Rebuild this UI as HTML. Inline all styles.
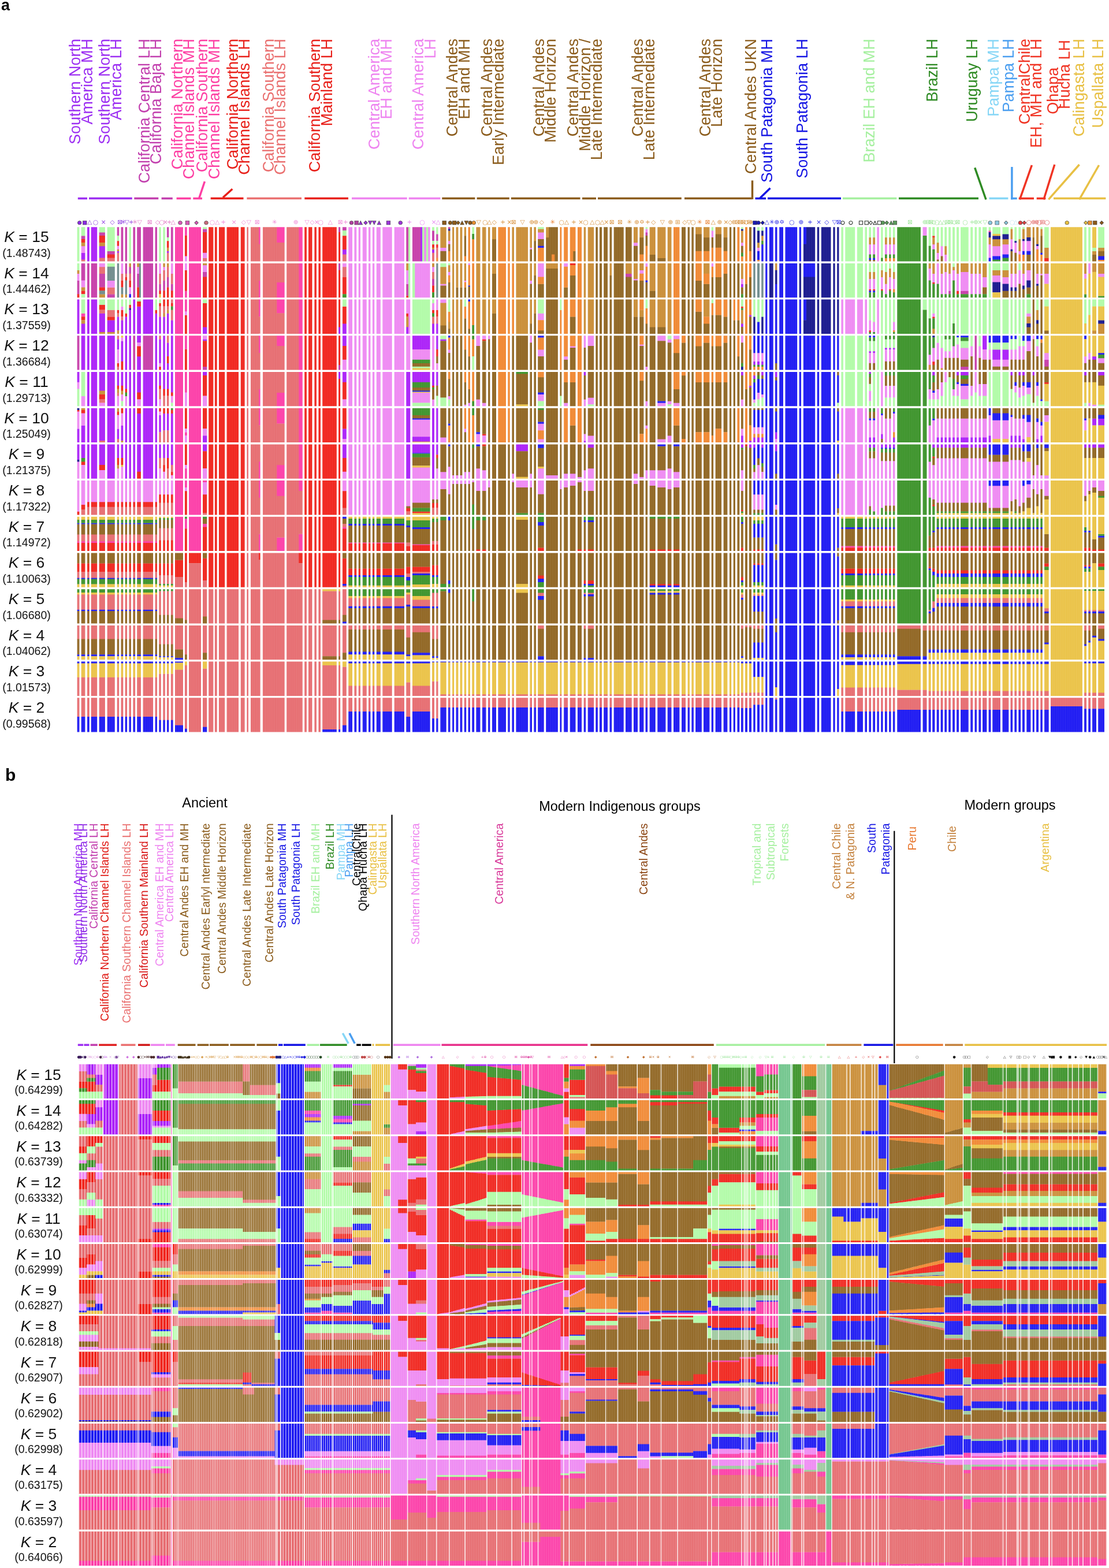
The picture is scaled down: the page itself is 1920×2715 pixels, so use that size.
<!DOCTYPE html>
<html><head><meta charset="utf-8"><title>ADMIXTURE</title><style>html,body{margin:0;padding:0;background:#fff;}svg{display:block;}</style></head><body>
<svg xmlns="http://www.w3.org/2000/svg" width="1920" height="2715" viewBox="0 0 1920 2715">
<defs><pattern id="pb0" x="136" y="0" width="5.2" height="20" patternUnits="userSpaceOnUse"><rect x="0" y="0" width="1.0" height="20" fill="#fff" fill-opacity="0.85"/></pattern><pattern id="pb1" x="305" y="0" width="3.1" height="20" patternUnits="userSpaceOnUse"><rect x="0" y="0" width="0.9" height="20" fill="#fff" fill-opacity="0.8"/></pattern><pattern id="pb2" x="480" y="0" width="4.8" height="20" patternUnits="userSpaceOnUse"><rect x="0" y="0" width="1.0" height="20" fill="#fff" fill-opacity="0.85"/></pattern><pattern id="pb3" x="527" y="0" width="3.6" height="20" patternUnits="userSpaceOnUse"><rect x="0" y="0" width="0.9" height="20" fill="#fff" fill-opacity="0.8"/></pattern><pattern id="pb4" x="676" y="0" width="3.1" height="20" patternUnits="userSpaceOnUse"><rect x="0" y="0" width="1.1" height="20" fill="#fff" fill-opacity="0.22"/></pattern><pattern id="pa" x="0" y="0" width="2.7" height="20" patternUnits="userSpaceOnUse"><rect x="0" y="0" width="0.9" height="20" fill="#fff" fill-opacity="0.14"/></pattern></defs>
<path fill="#aa1ef8" d="M140 437.7h8.3v12.2h-8.3zM150 393.2h19.3v59.3h-19.3zM171 425.8h11.3v21.1h-11.3zM202 434.7h5.3v3.3h-5.3zM288 434.7h5.3v3.3h-5.3zM593 431.7h7.3v9.2h-7.3zM728 393.2h3.3v59.3h-3.3zM748 431.7h4.3v6.3h-4.3zM1283 491.5h4.3v6.3h-4.3zM133.3 518.6h5v59.3h-5zM140 560.1h8.3v17.8h-8.3zM150 518.6h19.3v59.3h-19.3zM171 542.3h11.3v33h-11.3zM185 554.2h14.3v21.1h-14.3zM202 548.2h5.3v24.1h-5.3zM209 554.2h5.3v23.7h-5.3zM216 548.2h5.3v29.6h-5.3zM223 536.4h4.3v41.5h-4.3zM230 518.6h5.3v59.3h-5.3zM237 530.5h7.3v47.4h-7.3zM247 518.6h19.3v59.3h-19.3zM268 542.3h4.3v35.6h-4.3zM275 548.2h4.3v29.6h-4.3zM282 548.2h4.3v29.6h-4.3zM288 542.3h5.3v35.6h-5.3zM295 554.2h5.3v23.7h-5.3zM351 566h8.3v11.9h-8.3zM586 566h4.3v11.9h-4.3zM593 560.1h7.3v17.8h-7.3zM703 566h4.3v11.9h-4.3zM748 560.1h4.3v17.8h-4.3zM755 560.1h4.3v17.8h-4.3zM1283 560.1h4.3v6.3h-4.3zM1297 545.3h4.3v3.3h-4.3zM140 581.3h29.3v59.3h-29.3zM171 581.3h28.3v59.3h-28.3zM202 587.2h5.3v18.1h-5.3zM209 590.2h5.3v35.9h-5.3zM216 581.3h12.3v59.3h-12.3zM237 581.3h7.3v12.2h-7.3zM237 616.9h7.3v23.7h-7.3zM268 581.3h4.3v59.3h-4.3zM275 587.2h4.3v41.9h-4.3zM282 581.3h4.3v59.3h-4.3zM288 593.2h5.3v24.1h-5.3zM288 628.7h5.3v11.9h-5.3zM295 581.3h5.3v59.3h-5.3zM351 587.2h8.3v3.3h-8.3zM593 581.3h7.3v18.1h-7.3zM714 581.3h31.3v24.1h-31.3zM755 581.3h4.3v24.1h-4.3zM762 587.2h11.3v3.3h-11.3zM1304 625.8h18.3v6.3h-18.3zM1504 608h12.3v3.3h-12.3zM1532 602.1h18.3v3.3h-18.3zM1701 581.3h8.3v24.1h-8.3zM1718 605h29.3v18.1h-29.3zM1891 616.9h7.3v6.3h-7.3zM133.3 644h5v18.1h-5zM150 644h19.3v59.3h-19.3zM171 644h11.3v33h-11.3zM185 644h14.3v59.3h-14.3zM202 644h5.3v24.1h-5.3zM209 644h5.3v24.1h-5.3zM216 644h5.3v30h-5.3zM223 644h12.3v59.3h-12.3zM237 644h7.3v35.9h-7.3zM247 644h26.3v59.3h-26.3zM275 644h4.3v24.1h-4.3zM282 644h11.3v30h-11.3zM295 644h5.3v35.9h-5.3zM351 644h8.3v6.3h-8.3zM586 644h4.3v12.2h-4.3zM593 644h7.3v18.1h-7.3zM703 644h8.3v59.3h-8.3zM714 644h31.3v18.1h-31.3zM748 644h4.3v24.1h-4.3zM755 644h4.3v24.1h-4.3zM1010 644h5.3v6.3h-5.3zM1283 644h4.3v6.3h-4.3zM1297 667.7h4.3v3.3h-4.3zM1304 649.9h4.3v6.3h-4.3zM1318 644h4.3v6.3h-4.3zM1342 644h4.3v9.2h-4.3zM1504 644h4.3v3.3h-4.3zM1614 644h5.3v6.3h-5.3zM1656 644h4.3v6.3h-4.3zM1663 644h14.3v6.3h-14.3zM1749 644h4.3v6.3h-4.3zM1763 644h5.3v6.3h-5.3zM1770 644h4.3v6.3h-4.3zM1787 644h4.3v6.3h-4.3zM1877 644h4.3v6.3h-4.3zM1901 644h11.3v6.3h-11.3zM133.3 742.3h5v23.7h-5zM140 736.4h8.3v29.6h-8.3zM150 706.7h19.3v59.3h-19.3zM171 706.7h11.3v56.7h-11.3zM185 706.7h14.3v59.3h-14.3zM202 742.3h5.3v18.1h-5.3zM209 736.4h5.3v27h-5.3zM216 706.7h19.3v59.3h-19.3zM237 715.6h7.3v50.4h-7.3zM247 706.7h26.3v59.3h-26.3zM275 718.6h4.3v30h-4.3zM282 715.6h11.3v30h-11.3zM295 715.6h5.3v50.4h-5.3zM351 754.1h8.3v11.9h-8.3zM593 742.3h7.3v18.1h-7.3zM703 706.7h8.3v59.3h-8.3zM714 755.9h31.3v9.2h-31.3zM748 706.7h11.3v59.3h-11.3zM1010 763h5.3v3h-5.3zM1283 754.1h4.3v11.9h-4.3zM1297 763h4.3v3h-4.3zM1304 757.1h18.3v8.9h-18.3zM1342 748.2h4.3v12.2h-4.3zM1504 757.1h12.3v8.9h-12.3zM1525 751.2h4.3v9.2h-4.3zM1546 757.1h4.3v8.9h-4.3zM1621 757.1h88.3v8.9h-88.3zM1711 754.1h5.3v11.9h-5.3zM1749 754.1h4.3v11.9h-4.3zM1756 754.1h12.3v11.9h-12.3zM1770 760.1h4.3v5.9h-4.3zM1794 760.1h4.3v5.9h-4.3zM1801 754.1h4.3v11.9h-4.3zM1891 724.5h7.3v12.2h-7.3zM1901 724.5h11.3v12.2h-11.3zM133.3 769.4h5v27h-5zM140 769.4h8.3v24.1h-8.3zM150 769.4h19.3v59.3h-19.3zM171 769.4h11.3v35.9h-11.3zM185 769.4h14.3v59.3h-14.3zM202 769.4h5.3v24.1h-5.3zM209 769.4h5.3v24.1h-5.3zM216 769.4h19.3v59.3h-19.3zM237 769.4h7.3v47.8h-7.3zM247 769.4h26.3v59.3h-26.3zM275 769.4h4.3v24.1h-4.3zM282 769.4h4.3v24.1h-4.3zM288 769.4h5.3v24.1h-5.3zM295 769.4h5.3v35.9h-5.3zM351 769.4h8.3v12.2h-8.3zM593 769.4h7.3v24.1h-7.3zM703 769.4h8.3v59.3h-8.3zM714 769.4h31.3v15.2h-31.3zM748 769.4h4.3v59.3h-4.3zM755 769.4h4.3v18.1h-4.3zM893 769.4h22.3v12.2h-22.3zM1017 769.4h12.3v6.3h-12.3zM1283 769.4h4.3v6.3h-4.3zM1297 769.4h4.3v6.3h-4.3zM1304 769.4h4.3v6.3h-4.3zM1318 769.4h4.3v6.3h-4.3zM1342 769.4h4.3v12.2h-4.3zM1504 769.4h12.3v6.3h-12.3zM1525 769.4h25.3v6.3h-25.3zM1614 769.4h5.3v6.3h-5.3zM1621 769.4h88.3v6.3h-88.3zM1749 769.4h19.3v6.3h-19.3zM1877 769.4h35.3v6.3h-35.3zM150 1842.8h15.3v18.1h-15.3zM165 1860.6h13.7v18.1h-13.7zM181 1842.8h24.9v59.2h-24.9zM238.5 1866.5h25.5v35.5h-25.5zM263.7 1848.7h8.6v12.2h-8.6zM272 1842.8h24v6.3h-24zM526.6 1842.8h29.4v6.3h-29.4zM576 1842.8h34.3v6.3h-34.3zM720 1842.8h19.1v6.3h-19.1zM805.1 1842.8h3.2v3.3h-3.2zM808 1842.8h3.2v3.3h-3.2zM810.9 1842.8h3.2v3.3h-3.2zM813.8 1842.8h3.2v3.3h-3.2zM816.7 1842.8h3.2v3.3h-3.2zM819.6 1842.8h3.2v3.3h-3.2zM822.5 1842.8h3.2v3.3h-3.2zM825.5 1842.8h3.2v3.3h-3.2zM828.4 1842.8h3.2v3.3h-3.2zM831.3 1842.8h3.2v3.3h-3.2zM834.2 1842.8h3.2v3.3h-3.2zM837.1 1842.8h3.2v3.3h-3.2zM840 1842.8h3.2v3.3h-3.2zM842.9 1842.8h3.3v3.4h-3.3zM845.9 1842.8h3.3v3.3h-3.3zM848.9 1842.8h3.3v3.2h-3.3zM851.9 1842.8h3.3v3.1h-3.3zM854.9 1842.8h3.3v3h-3.3zM857.9 1842.8h3.3v2.9h-3.3zM860.9 1842.8h3.3v2.8h-3.3zM863.9 1842.8h3.3v2.7h-3.3zM866.9 1842.8h3.3v2.6h-3.3zM869.9 1842.8h3.3v2.5h-3.3zM873 1842.8h3.3v2.4h-3.3zM876 1842.8h3.3v2.3h-3.3zM879 1842.8h3.3v2.2h-3.3zM882 1842.8h3.3v2.1h-3.3zM885 1842.8h3.3v2h-3.3zM888 1842.8h3.3v1.9h-3.3zM891 1842.8h3.3v1.9h-3.3zM894 1842.8h3.3v1.8h-3.3zM897 1842.8h3.3v1.7h-3.3zM900 1842.8h3.3v1.6h-3.3zM985.5 1842.8h28.4v3.3h-28.4zM150 1928.7h15.3v18.1h-15.3zM165 1916.9h13.7v24h-13.7zM178.4 1905h27.5v59.2h-27.5zM238.5 1928.7h25.5v35.5h-25.5zM263.7 1940.5h32.3v9.2h-32.3zM526.6 1928.7h29.4v6.3h-29.4zM576 1931.7h34.3v6.3h-34.3zM610 1910.9h33.3v3.3h-33.3zM720 1958.3h19.1v5.9h-19.1zM263.7 2127.2h32.3v3.3h-32.3zM705.5 2201.3h14.8v11.8h-14.8z"/>
<path fill="#c63ba8" d="M140 408h8.3v6.3h-8.3zM171 402.1h11.3v6.3h-11.3zM185 434.7h14.3v6.3h-14.3zM202 393.2h5.3v15.2h-5.3zM209 393.2h12.3v59.3h-12.3zM230 393.2h36.3v59.3h-36.3zM268 393.2h4.3v59.3h-4.3zM288 393.2h5.3v18.1h-5.3zM295 393.2h5.3v59.3h-5.3zM351 396.2h8.3v6.3h-8.3zM586 393.2h4.3v9.2h-4.3zM593 393.2h7.3v6.3h-7.3zM703 393.2h4.3v59.3h-4.3zM714 393.2h14.3v59.3h-14.3zM748 399.1h4.3v18.1h-4.3zM755 405.1h4.3v12.2h-4.3zM776 393.2h4.3v3.3h-4.3zM1117 402.1h5.3v6.3h-5.3zM133.3 485.6h5v24.1h-5zM140 455.9h8.3v30h-8.3zM150 455.9h19.3v59.3h-19.3zM171 473.7h11.3v24.1h-11.3zM185 509.3h14.3v5.9h-14.3zM216 455.9h5.3v18.1h-5.3zM223 461.8h4.3v12.2h-4.3zM230 455.9h5.3v59.3h-5.3zM237 473.7h4.3v24.1h-4.3zM247 455.9h26.3v59.3h-26.3zM275 491.5h4.3v12.2h-4.3zM282 485.6h4.3v18.1h-4.3zM288 479.6h5.3v18.1h-5.3zM295 491.5h5.3v12.2h-5.3zM351 470.7h8.3v9.2h-8.3zM586 455.9h4.3v12.2h-4.3zM703 491.5h4.3v21.1h-4.3zM748 482.6h4.3v12.2h-4.3zM1083 473.7h11.3v6.3h-11.3zM1642 503.3h4.3v6.3h-4.3zM1663 503.3h14.3v6.3h-14.3zM133.3 581.3h5v59.3h-5zM230 581.3h5.3v59.3h-5.3zM247 581.3h19.3v59.3h-19.3zM351 634.7h8.3v5.9h-8.3zM586 631.7h4.3v8.9h-4.3zM1663 634.7h14.3v5.9h-14.3zM1687 581.3h4.3v59.3h-4.3zM1808 622.8h8.3v12.2h-8.3z"/>
<path fill="#fc3ca7" d="M303 393.2h15.3v59.3h-15.3zM320 393.2h4.3v15.2h-4.3zM327 393.2h21.3v59.3h-21.3zM447.7 393.2h3.6v30h-3.6zM479 393.2h14.3v27h-14.3zM517 393.2h7.3v59.3h-7.3zM1711 399.1h5.3v3.3h-5.3zM303 455.9h15.3v59.3h-15.3zM320 503.3h4.3v11.9h-4.3zM327 455.9h21.3v59.3h-21.3zM447.7 485.5h3.6v29.6h-3.6zM479 488.5h14.3v26.7h-14.3zM517 455.9h7.3v59.3h-7.3zM140 542.3h8.3v6.3h-8.3zM303 518.6h15.3v59.3h-15.3zM320 518.6h4.3v21.1h-4.3zM327 518.6h21.3v59.3h-21.3zM447.7 518.6h3.6v30h-3.6zM479 518.6h14.3v24.1h-14.3zM517 518.6h7.3v59.3h-7.3zM303 581.3h15.3v59.3h-15.3zM320 581.3h4.3v24.1h-4.3zM327 581.3h21.3v59.3h-21.3zM447.7 581.3h3.6v30h-3.6zM479 581.3h14.3v18.1h-14.3zM517 581.3h7.3v59.3h-7.3zM303 644h15.3v59.3h-15.3zM320 644h4.3v35.9h-4.3zM327 644h21.3v59.3h-21.3zM447.7 673.6h3.6v29.6h-3.6zM479 679.6h14.3v23.7h-14.3zM517 644h7.3v59.3h-7.3zM303 706.7h15.3v59.3h-15.3zM320 748.2h4.3v6.3h-4.3zM327 706.7h21.3v59.3h-21.3zM447.7 706.7h3.6v30h-3.6zM479 706.7h14.3v27h-14.3zM517 706.7h7.3v59.3h-7.3zM303 769.4h15.3v59.3h-15.3zM320 810.9h4.3v17.8h-4.3zM327 769.4h21.3v59.3h-21.3zM447.7 799.1h3.6v29.6h-3.6zM479 805h14.3v23.7h-14.3zM517 769.4h7.3v59.3h-7.3zM303 832.1h15.3v59.3h-15.3zM320 832.1h4.3v12.2h-4.3zM327 832.1h21.3v59.3h-21.3zM351 832.1h8.3v3.3h-8.3zM447.7 832.1h3.6v30h-3.6zM479 832.1h14.3v27h-14.3zM517 832.1h7.3v18.1h-7.3zM133.3 936.9h140v3.3h-140zM303 894.8h15.3v59.3h-15.3zM320 897.8h4.3v18.1h-4.3zM327 894.8h21.3v59.3h-21.3zM351 906.7h8.3v6.3h-8.3zM447.7 924.4h3.6v29.6h-3.6zM479 930.4h14.3v23.7h-14.3zM517 924.4h7.3v29.6h-7.3zM593 912.6h7.3v3.3h-7.3zM603 939.3h98.3v2.1h-98.3zM714 942.2h31.3v2.1h-31.3zM1456 945.2h94.3v3.3h-94.3zM1621 945.2h184.3v3.3h-184.3zM295.7 1842.8h3.2v59.2h-3.2zM842.9 1845.8h3.3v0.6h-3.3zM845.9 1845.7h3.3v1.2h-3.3zM848.9 1845.6h3.3v1.7h-3.3zM851.9 1845.5h3.3v2.3h-3.3zM854.9 1845.4h3.3v2.8h-3.3zM857.9 1845.3h3.3v3.3h-3.3zM860.9 1845.2h3.3v3.9h-3.3zM863.9 1845.1h3.3v4.4h-3.3zM866.9 1845h3.3v5h-3.3zM869.9 1845h3.3v5.5h-3.3zM873 1844.9h3.3v6h-3.3zM876 1844.8h3.3v6.6h-3.3zM879 1844.7h3.3v7.1h-3.3zM882 1844.6h3.3v7.6h-3.3zM885 1844.5h3.3v8.1h-3.3zM888 1844.4h3.3v8.7h-3.3zM891 1844.3h3.3v9.2h-3.3zM894 1844.2h3.3v9.7h-3.3zM897 1844.1h3.3v10.2h-3.3zM900 1844h3.3v10.7h-3.3zM903 1842.8h3.3v36.3h-3.3zM906 1842.8h3.3v37.1h-3.3zM909.1 1842.8h3.3v37.9h-3.3zM912.1 1842.8h3.3v38.7h-3.3zM915.1 1842.8h3.3v39.5h-3.3zM918.1 1842.8h3.3v40.3h-3.3zM921.2 1842.8h3.3v41.2h-3.3zM924.2 1842.8h3.3v42h-3.3zM927.2 1842.8h3.3v42.8h-3.3zM930.3 1842.8h3.3v43.6h-3.3zM933.3 1842.8h3.3v44.4h-3.3zM936.3 1842.8h3.3v45.2h-3.3zM939.4 1842.8h3.3v46h-3.3zM942.4 1842.8h3.3v46.9h-3.3zM945.4 1842.8h3.3v47.7h-3.3zM948.4 1842.8h3.3v48.5h-3.3zM951.5 1842.8h3.3v49.3h-3.3zM954.5 1842.8h3.3v50.1h-3.3zM957.5 1842.8h3.3v50.9h-3.3zM960.6 1842.8h3.3v51.7h-3.3zM963.6 1842.8h3.3v52.6h-3.3zM966.6 1842.8h3.3v53.4h-3.3zM969.6 1842.8h3.3v54.2h-3.3zM972.7 1842.8h3.3v55h-3.3zM1308.5 1842.8h14.8v21.1h-14.8zM1323 1842.8h24.8v18.1h-24.8zM295.7 1905h3.2v59.2h-3.2zM526.6 1922.8h29.4v6.3h-29.4zM576 1937.6h34.3v6.3h-34.3zM842.9 1949.2h3.3v6.4h-3.3zM845.9 1948.8h3.3v6.7h-3.3zM848.9 1948.3h3.3v7h-3.3zM851.9 1947.9h3.3v7.3h-3.3zM854.9 1947.4h3.3v7.6h-3.3zM857.9 1947h3.3v7.9h-3.3zM860.9 1946.5h3.3v8.2h-3.3zM863.9 1946.1h3.3v8.5h-3.3zM866.9 1945.6h3.3v8.8h-3.3zM869.9 1945.2h3.3v9.1h-3.3zM873 1944.8h3.3v9.4h-3.3zM876 1944.3h3.3v9.7h-3.3zM879 1943.9h3.3v10h-3.3zM882 1943.4h3.3v10.3h-3.3zM885 1943h3.3v10.6h-3.3zM888 1942.5h3.3v10.9h-3.3zM891 1942.1h3.3v11.2h-3.3zM894 1941.7h3.3v11.5h-3.3zM897 1941.2h3.3v11.7h-3.3zM900 1940.8h3.3v12h-3.3zM903 1922.5h3.3v41.7h-3.3zM906 1922h3.3v42.3h-3.3zM909.1 1921.4h3.3v42.8h-3.3zM912.1 1920.9h3.3v43.3h-3.3zM915.1 1920.3h3.3v43.9h-3.3zM918.1 1919.8h3.3v44.4h-3.3zM921.2 1919.3h3.3v45h-3.3zM924.2 1918.7h3.3v45.5h-3.3zM927.2 1918.2h3.3v46.1h-3.3zM930.3 1917.6h3.3v46.6h-3.3zM933.3 1917.1h3.3v47.1h-3.3zM936.3 1916.5h3.3v47.7h-3.3zM939.4 1916h3.3v48.2h-3.3zM942.4 1915.5h3.3v48.8h-3.3zM945.4 1914.9h3.3v49.3h-3.3zM948.4 1914.4h3.3v49.9h-3.3zM951.5 1913.8h3.3v50.4h-3.3zM954.5 1913.3h3.3v50.9h-3.3zM957.5 1912.7h3.3v51.5h-3.3zM960.6 1912.2h3.3v52h-3.3zM963.6 1911.7h3.3v52.6h-3.3zM966.6 1911.1h3.3v53.1h-3.3zM969.6 1910.6h3.3v53.7h-3.3zM972.7 1910h3.3v54.2h-3.3zM1308.5 1934.6h39.3v24h-39.3zM295.7 1967.2h3.2v59.2h-3.2zM842.9 1967.2h60.4v3.3h-60.4zM903 1967.2h3.3v42.1h-3.3zM906 1967.2h3.3v42.6h-3.3zM909.1 1967.2h3.3v43.1h-3.3zM912.1 1967.2h3.3v43.7h-3.3zM915.1 1967.2h3.3v44.2h-3.3zM918.1 1967.2h3.3v44.8h-3.3zM921.2 1967.2h3.3v45.3h-3.3zM924.2 1967.2h3.3v45.9h-3.3zM927.2 1967.2h3.3v46.4h-3.3zM930.3 1967.2h3.3v46.9h-3.3zM933.3 1967.2h3.3v47.5h-3.3zM936.3 1967.2h3.3v48h-3.3zM939.4 1967.2h3.3v48.6h-3.3zM942.4 1967.2h3.3v49.1h-3.3zM945.4 1967.2h3.3v49.7h-3.3zM948.4 1967.2h3.3v50.2h-3.3zM951.5 1967.2h3.3v50.7h-3.3zM954.5 1967.2h3.3v51.3h-3.3zM957.5 1967.2h3.3v51.8h-3.3zM960.6 1967.2h3.3v52.4h-3.3zM963.6 1967.2h3.3v52.9h-3.3zM966.6 1967.2h3.3v53.5h-3.3zM969.6 1967.2h3.3v54h-3.3zM972.7 1967.2h3.3v54.5h-3.3zM1308.5 1967.2h39.3v18.1h-39.3zM263.7 2085.7h32.3v3h-32.3zM295.7 2029.5h3.2v59.2h-3.2zM805.1 2029.5h3.2v0.5h-3.2zM808 2029.5h3.2v0.7h-3.2zM810.9 2029.5h3.2v0.9h-3.2zM813.8 2029.5h3.2v1.1h-3.2zM816.7 2029.5h3.2v1.4h-3.2zM819.6 2029.5h3.2v1.6h-3.2zM822.5 2029.5h3.2v1.8h-3.2zM825.5 2029.5h3.2v2.1h-3.2zM828.4 2029.5h3.2v2.3h-3.2zM831.3 2029.5h3.2v2.5h-3.2zM834.2 2029.5h3.2v2.7h-3.2zM837.1 2029.5h3.2v3h-3.2zM840 2029.5h3.2v3.2h-3.2zM842.9 2029.5h60.4v5.1h-60.4zM903 2029.5h3.3v39.1h-3.3zM906 2029.5h3.3v39.8h-3.3zM909.1 2029.5h3.3v40.4h-3.3zM912.1 2029.5h3.3v41h-3.3zM915.1 2029.5h3.3v41.6h-3.3zM918.1 2029.5h3.3v42.2h-3.3zM921.2 2029.5h3.3v42.8h-3.3zM924.2 2029.5h3.3v43.5h-3.3zM927.2 2029.5h3.3v44.1h-3.3zM930.3 2029.5h3.3v44.7h-3.3zM933.3 2029.5h3.3v45.3h-3.3zM936.3 2029.5h3.3v45.9h-3.3zM939.4 2029.5h3.3v46.5h-3.3zM942.4 2029.5h3.3v47.2h-3.3zM945.4 2029.5h3.3v47.8h-3.3zM948.4 2029.5h3.3v48.4h-3.3zM951.5 2029.5h3.3v49h-3.3zM954.5 2029.5h3.3v49.6h-3.3zM957.5 2029.5h3.3v50.2h-3.3zM960.6 2029.5h3.3v50.9h-3.3zM963.6 2029.5h3.3v51.5h-3.3zM966.6 2029.5h3.3v52.1h-3.3zM969.6 2029.5h3.3v52.7h-3.3zM972.7 2029.5h3.3v53.3h-3.3zM1308.5 2029.5h39.3v19.9h-39.3zM1736.5 2029.5h164.3v3.3h-164.3zM295.7 2091.7h3.2v59.2h-3.2zM805.1 2111.2h38.1v3.3h-38.1zM842.9 2115.4h60.4v7.5h-60.4zM903 2108h3.3v42.9h-3.3zM906 2107.4h3.3v43.5h-3.3zM909.1 2106.8h3.3v44h-3.3zM912.1 2106.3h3.3v44.6h-3.3zM915.1 2105.7h3.3v45.2h-3.3zM918.1 2105.1h3.3v45.7h-3.3zM921.2 2104.6h3.3v46.3h-3.3zM924.2 2104h3.3v46.9h-3.3zM927.2 2103.4h3.3v47.4h-3.3zM930.3 2102.9h3.3v48h-3.3zM933.3 2102.3h3.3v48.6h-3.3zM936.3 2101.7h3.3v49.1h-3.3zM939.4 2101.2h3.3v49.7h-3.3zM942.4 2100.6h3.3v50.3h-3.3zM945.4 2100h3.3v50.9h-3.3zM948.4 2099.5h3.3v51.4h-3.3zM951.5 2098.9h3.3v52h-3.3zM954.5 2098.3h3.3v52.6h-3.3zM957.5 2097.8h3.3v53.1h-3.3zM960.6 2097.2h3.3v53.7h-3.3zM963.6 2096.6h3.3v54.3h-3.3zM966.6 2096.1h3.3v54.8h-3.3zM969.6 2095.5h3.3v55.4h-3.3zM972.7 2094.9h3.3v56h-3.3zM985.5 2118.3h28.4v3.3h-28.4zM1308.5 2110.6h39.3v19.9h-39.3zM263.7 2153.9h32.3v6.3h-32.3zM295.7 2153.9h3.2v59.2h-3.2zM805.1 2153.9h38.1v2.1h-38.1zM842.9 2153.9h60.4v3.3h-60.4zM903 2153.9h3.3v42.1h-3.3zM906 2153.9h3.3v42.7h-3.3zM909.1 2153.9h3.3v43.3h-3.3zM912.1 2153.9h3.3v43.9h-3.3zM915.1 2153.9h3.3v44.6h-3.3zM918.1 2153.9h3.3v45.2h-3.3zM921.2 2153.9h3.3v45.8h-3.3zM924.2 2153.9h3.3v46.4h-3.3zM927.2 2153.9h3.3v47h-3.3zM930.3 2153.9h3.3v47.6h-3.3zM933.3 2153.9h3.3v48.3h-3.3zM936.3 2153.9h3.3v48.9h-3.3zM939.4 2153.9h3.3v49.5h-3.3zM942.4 2153.9h3.3v50.1h-3.3zM945.4 2153.9h3.3v50.7h-3.3zM948.4 2153.9h3.3v51.3h-3.3zM951.5 2153.9h3.3v52h-3.3zM954.5 2153.9h3.3v52.6h-3.3zM957.5 2153.9h3.3v53.2h-3.3zM960.6 2153.9h3.3v53.8h-3.3zM963.6 2153.9h3.3v54.4h-3.3zM966.6 2153.9h3.3v55h-3.3zM969.6 2153.9h3.3v55.7h-3.3zM972.7 2153.9h3.3v56.3h-3.3zM1231.8 2153.9h12.5v3.3h-12.5zM1244 2153.9h64.8v2.1h-64.8zM1308.5 2153.9h39.3v19.9h-39.3zM263.7 2272.4h32.3v3h-32.3zM295.7 2216.1h3.2v59.2h-3.2zM526.6 2272.4h29.4v3h-29.4zM555.7 2269.4h20.6v5.9h-20.6zM576 2272.4h34.3v3h-34.3zM842.9 2271.1h3.3v4.2h-3.3zM845.9 2271h3.3v4.3h-3.3zM848.9 2271h3.3v4.4h-3.3zM851.9 2270.9h3.3v4.5h-3.3zM854.9 2270.8h3.3v4.5h-3.3zM857.9 2270.7h3.3v4.6h-3.3zM860.9 2270.6h3.3v4.7h-3.3zM863.9 2270.5h3.3v4.8h-3.3zM866.9 2270.4h3.3v4.9h-3.3zM869.9 2270.3h3.3v5h-3.3zM873 2270.2h3.3v5.1h-3.3zM876 2270.2h3.3v5.2h-3.3zM879 2270.1h3.3v5.3h-3.3zM882 2270h3.3v5.3h-3.3zM885 2269.9h3.3v5.4h-3.3zM888 2269.8h3.3v5.5h-3.3zM891 2269.7h3.3v5.6h-3.3zM894 2269.6h3.3v5.7h-3.3zM897 2269.5h3.3v5.8h-3.3zM900 2269.4h3.3v5.9h-3.3zM903 2242.3h3.3v33.1h-3.3zM906 2241.3h3.3v34h-3.3zM909.1 2240.3h3.3v35h-3.3zM912.1 2239.3h3.3v36h-3.3zM915.1 2238.3h3.3v37h-3.3zM918.1 2237.3h3.3v38h-3.3zM921.2 2236.3h3.3v39h-3.3zM924.2 2235.4h3.3v40h-3.3zM927.2 2234.4h3.3v40.9h-3.3zM930.3 2233.4h3.3v41.9h-3.3zM933.3 2232.4h3.3v42.9h-3.3zM936.3 2231.4h3.3v43.9h-3.3zM939.4 2230.4h3.3v44.9h-3.3zM942.4 2229.4h3.3v45.9h-3.3zM945.4 2228.5h3.3v46.9h-3.3zM948.4 2227.5h3.3v47.9h-3.3zM951.5 2226.5h3.3v48.8h-3.3zM954.5 2225.5h3.3v49.8h-3.3zM957.5 2224.5h3.3v50.8h-3.3zM960.6 2223.5h3.3v51.8h-3.3zM963.6 2222.5h3.3v52.8h-3.3zM966.6 2221.5h3.3v53.8h-3.3zM969.6 2220.6h3.3v54.8h-3.3zM972.7 2219.6h3.3v55.7h-3.3zM1013.6 2272.4h35.3v3h-35.3zM1048.6 2272.4h21.2v3h-21.2zM1124.7 2272.4h20.1v3h-20.1zM1144.5 2272.4h80.6v3h-80.6zM1224.8 2263.5h7.3v11.8h-7.3zM1231.8 2269.4h12.5v5.9h-12.5zM1244 2269.4h64.8v5.9h-64.8zM1308.5 2253.4h39.3v21.9h-39.3zM1371.5 2272.4h16.8v3h-16.8zM1388 2272.4h26.5v3h-26.5zM1635.2 2272.4h32.6v3h-32.6zM1667.5 2269.4h14.3v5.9h-14.3zM1681.5 2272.4h55.3v3h-55.3zM1736.5 2272.4h164.3v3h-164.3zM295.7 2278.3h3.2v59.2h-3.2zM902.7 2317.2h3.2v20.3h-3.2zM905.6 2315.7h3.2v21.9h-3.2zM908.6 2314.1h3.2v23.4h-3.2zM911.5 2312.6h3.2v24.9h-3.2zM914.5 2311.1h3.2v26.5h-3.2zM917.4 2309.5h3.2v28h-3.2zM920.4 2308h3.2v29.6h-3.2zM923.3 2306.4h3.2v31.1h-3.2zM926.3 2304.9h3.2v32.7h-3.2zM929.2 2303.3h3.2v34.2h-3.2zM932.2 2301.8h3.2v35.8h-3.2zM935.1 2300.2h3.2v37.3h-3.2zM938.1 2298.7h3.2v38.8h-3.2zM941 2297.2h3.2v40.4h-3.2zM944 2295.6h3.2v41.9h-3.2zM946.9 2294.1h3.2v43.5h-3.2zM949.9 2292.5h3.2v45h-3.2zM952.8 2291h3.2v46.6h-3.2zM955.8 2289.4h3.2v48.1h-3.2zM958.7 2287.9h3.2v49.7h-3.2zM961.7 2286.3h3.2v51.2h-3.2zM964.6 2284.8h3.2v52.7h-3.2zM967.6 2283.3h3.2v54.3h-3.2zM1308.5 2278.3h14.8v15.2h-14.8zM1323 2278.3h24.8v21.1h-24.8zM295.7 2340.6h3.2v59.2h-3.2zM842.9 2346.5h60.1v6.3h-60.1zM902.7 2340.6h3.2v36.3h-3.2zM905.6 2340.6h3.2v37.3h-3.2zM908.6 2340.6h3.2v38.3h-3.2zM911.5 2340.6h3.2v39.2h-3.2zM914.5 2340.6h3.2v40.2h-3.2zM917.4 2340.6h3.2v41.1h-3.2zM920.4 2340.6h3.2v42.1h-3.2zM923.3 2340.6h3.2v43h-3.2zM926.3 2340.6h3.2v44h-3.2zM929.2 2340.6h3.2v44.9h-3.2zM932.2 2340.6h3.2v45.9h-3.2zM935.1 2340.6h3.2v46.8h-3.2zM938.1 2340.6h3.2v47.8h-3.2zM941 2340.6h3.2v48.7h-3.2zM944 2340.6h3.2v49.7h-3.2zM946.9 2340.6h3.2v50.6h-3.2zM949.9 2340.6h3.2v51.6h-3.2zM952.8 2340.6h3.2v52.5h-3.2zM955.8 2340.6h3.2v53.5h-3.2zM958.7 2340.6h3.2v54.4h-3.2zM961.7 2340.6h3.2v55.4h-3.2zM964.6 2340.6h3.2v56.3h-3.2zM967.6 2340.6h3.2v57.3h-3.2zM985.5 2343.5h28.4v3.3h-28.4zM1231.8 2355.4h48.5v3.3h-48.5zM1280 2349.4h28.8v3.3h-28.8zM1308.5 2345.3h39.3v21.1h-39.3zM262 2402.8h34v6.3h-34zM295.7 2402.8h3.2v59.2h-3.2zM755.8 2411.7h87.4v3.3h-87.4zM842.9 2408.7h60.1v6.3h-60.1zM902.7 2402.8h32.6v50.7h-32.6zM935 2402.8h35.8v59.2h-35.8zM985.5 2408.7h28.4v3.3h-28.4zM1231.8 2402.8h48.5v6.3h-48.5zM1308.5 2402.8h39.3v28.2h-39.3zM1370 2402.8h22.3v6.3h-22.3zM1414.2 2402.8h15.1v3.3h-15.1zM1635.2 2402.8h32.6v2.1h-32.6zM1667.5 2402.8h14.3v2.1h-14.3zM1681.5 2402.8h55.3v3.3h-55.3zM1736.5 2402.8h164.3v3.3h-164.3zM262 2515.3h34v8.9h-34zM295.7 2465h3.2v59.2h-3.2zM526 2521.2h150.3v3h-150.3zM720 2518.3h19.1v5.9h-19.1zM755.8 2520.1h87.4v4.1h-87.4zM842.9 2518.3h60.1v5.9h-60.1zM902.7 2476.8h32.6v47.4h-32.6zM935 2465h35.8v59.2h-35.8zM970.5 2518.3h15.3v5.9h-15.3zM985.5 2515.3h28.4v8.9h-28.4zM1231.8 2517.1h48.5v7.1h-48.5zM1280 2515.3h28.8v8.9h-28.8zM1308.5 2499.3h39.3v24.9h-39.3zM1370 2515.3h22.3v8.9h-22.3zM1392 2518.3h22.5v5.9h-22.5zM1414.2 2512.4h15.1v11.8h-15.1zM1635.2 2521.2h32.6v3h-32.6zM1667.5 2515.3h14.3v8.9h-14.3zM1681.5 2521.2h55.3v3h-55.3zM1736.5 2519.5h164.3v4.7h-164.3zM1900.5 2518.3h14.8v5.9h-14.8zM262 2542h34v9.2h-34zM295.7 2527.2h3.2v59.2h-3.2zM526 2545h150.3v6.3h-150.3zM705.5 2562.7h14.8v6.3h-14.8zM720 2562.7h19.1v6.3h-19.1zM755.8 2556.8h87.4v6.3h-87.4zM842.9 2547.9h60.1v12.2h-60.1zM902.7 2527.2h32.6v47.7h-32.6zM935 2527.2h35.8v59.2h-35.8zM970.5 2553.9h15.3v6.3h-15.3zM985.5 2550.9h28.4v9.2h-28.4zM1231.8 2543.2h77v11h-77zM1308.5 2536.1h39.3v21.1h-39.3zM1370 2542h22.3v9.2h-22.3zM1414.2 2547.9h15.1v9.2h-15.1zM1539 2528.5h3.3v0.4h-3.3zM1542 2528.7h3.3v0.5h-3.3zM1545 2528.8h3.3v0.6h-3.3zM1548 2529h3.3v0.7h-3.3zM1551 2529.2h3.3v0.8h-3.3zM1554 2529.3h3.3v0.9h-3.3zM1557 2529.5h3.3v1h-3.3zM1560 2529.7h3.3v1h-3.3zM1563 2529.8h3.3v1.1h-3.3zM1566.1 2530h3.3v1.2h-3.3zM1569.1 2530.2h3.3v1.3h-3.3zM1572.1 2530.3h3.3v1.4h-3.3zM1575.1 2530.5h3.3v1.5h-3.3zM1578.1 2530.7h3.3v1.6h-3.3zM1581.1 2530.8h3.3v1.7h-3.3zM1584.1 2531h3.3v1.8h-3.3zM1587.1 2531.2h3.3v1.9h-3.3zM1590.1 2531.3h3.3v2h-3.3zM1593.1 2531.5h3.3v2.1h-3.3zM1596.1 2531.7h3.3v2.2h-3.3zM1599.1 2531.8h3.3v2.2h-3.3zM1602.1 2532h3.3v2.3h-3.3zM1605.1 2532.2h3.3v2.4h-3.3zM1608.1 2532.3h3.3v2.5h-3.3zM1611.2 2532.5h3.3v2.6h-3.3zM1614.2 2532.6h3.3v2.7h-3.3zM1617.2 2532.8h3.3v2.8h-3.3zM1620.2 2533h3.3v2.9h-3.3zM1623.2 2533.1h3.3v3h-3.3zM1626.2 2533.3h3.3v3.1h-3.3zM1629.2 2533.5h3.3v3.2h-3.3zM1632.2 2533.6h3.3v3.3h-3.3zM1667.5 2545h14.3v6.3h-14.3zM1681.5 2539.1h219.3v6.3h-219.3zM136 2591.2h126.3v24h-126.3zM262 2592.4h34v18.1h-34zM295.7 2589.4h3.2v59.2h-3.2zM298.6 2591.2h227.7v7.5h-227.7zM526 2592.4h150.3v18.1h-150.3zM676 2589.4h29.8v41.8h-29.8zM705.5 2589.4h33.6v30h-33.6zM738.8 2589.4h17.3v38.8h-17.3zM755.8 2591.2h87.4v27h-87.4zM842.9 2591.2h60.1v24h-60.1zM902.7 2589.4h32.6v47.7h-32.6zM935 2589.4h35.8v59.2h-35.8zM970.5 2589.4h15.3v27h-15.3zM985.5 2591.2h28.4v21.1h-28.4zM1013.6 2591.2h56.2v10.4h-56.2zM1231.8 2593.6h116v15.2h-116zM1370 2595.4h44.5v15.2h-44.5zM1414.2 2604.2h15.1v15.2h-15.1zM1440 2589.4h99.3v6.3h-99.3zM1539 2589.5h3.3v3.4h-3.3zM1542 2589.5h3.3v3.6h-3.3zM1545 2589.5h3.3v3.8h-3.3zM1548 2589.6h3.3v4h-3.3zM1551 2589.6h3.3v4.1h-3.3zM1554 2589.6h3.3v4.3h-3.3zM1557 2589.7h3.3v4.5h-3.3zM1560 2589.7h3.3v4.7h-3.3zM1563 2589.8h3.3v4.9h-3.3zM1566.1 2589.8h3.3v5.1h-3.3zM1569.1 2589.8h3.3v5.3h-3.3zM1572.1 2589.9h3.3v5.4h-3.3zM1575.1 2589.9h3.3v5.6h-3.3zM1578.1 2589.9h3.3v5.8h-3.3zM1581.1 2590h3.3v6h-3.3zM1584.1 2590h3.3v6.2h-3.3zM1587.1 2590.1h3.3v6.4h-3.3zM1590.1 2590.1h3.3v6.5h-3.3zM1593.1 2590.1h3.3v6.7h-3.3zM1596.1 2590.2h3.3v6.9h-3.3zM1599.1 2590.2h3.3v7.1h-3.3zM1602.1 2590.2h3.3v7.3h-3.3zM1605.1 2590.3h3.3v7.5h-3.3zM1608.1 2590.3h3.3v7.7h-3.3zM1611.2 2590.3h3.3v7.8h-3.3zM1614.2 2590.4h3.3v8h-3.3zM1617.2 2590.4h3.3v8.2h-3.3zM1620.2 2590.5h3.3v8.4h-3.3zM1623.2 2590.5h3.3v8.6h-3.3zM1626.2 2590.5h3.3v8.8h-3.3zM1629.2 2590.6h3.3v9h-3.3zM1632.2 2590.6h3.3v9.1h-3.3zM1635.2 2590.6h32.6v6.3h-32.6zM1667.5 2595.4h14.3v18.1h-14.3zM1681.5 2592.4h219.3v9.2h-219.3zM1900.5 2592.4h14.8v6.3h-14.8zM136 2702h126.3v8.9h-126.3zM262 2693.1h34v17.8h-34zM295.7 2651.7h3.2v59.2h-3.2zM298.6 2702h604.4v8.9h-604.4zM902.7 2669.4h32.6v41.4h-32.6zM935 2660.5h35.8v50.3h-35.8zM970.5 2703.2h261.6v7.7h-261.6zM1231.8 2687.2h116v23.7h-116zM1347.5 2651.7h22.8v59.2h-22.8zM1370 2687.2h59.3v23.7h-59.3zM1429 2651.7h11.3v59.2h-11.3zM1440 2704.9h99.3v5.9h-99.3zM1539 2707.9h3.3v3h-3.3zM1542 2707.8h3.3v3h-3.3zM1545 2707.8h3.3v3.1h-3.3zM1548 2707.7h3.3v3.2h-3.3zM1551 2707.7h3.3v3.2h-3.3zM1554 2707.6h3.3v3.3h-3.3zM1557 2707.5h3.3v3.3h-3.3zM1560 2707.5h3.3v3.4h-3.3zM1563 2707.4h3.3v3.4h-3.3zM1566.1 2707.4h3.3v3.5h-3.3zM1569.1 2707.3h3.3v3.5h-3.3zM1572.1 2707.3h3.3v3.6h-3.3zM1575.1 2707.2h3.3v3.7h-3.3zM1578.1 2707.2h3.3v3.7h-3.3zM1581.1 2707.1h3.3v3.8h-3.3zM1584.1 2707h3.3v3.8h-3.3zM1587.1 2707h3.3v3.9h-3.3zM1590.1 2706.9h3.3v3.9h-3.3zM1593.1 2706.9h3.3v4h-3.3zM1596.1 2706.8h3.3v4h-3.3zM1599.1 2706.8h3.3v4.1h-3.3zM1602.1 2706.7h3.3v4.2h-3.3zM1605.1 2706.7h3.3v4.2h-3.3zM1608.1 2706.6h3.3v4.3h-3.3zM1611.2 2706.5h3.3v4.3h-3.3zM1614.2 2706.5h3.3v4.4h-3.3zM1617.2 2706.4h3.3v4.4h-3.3zM1620.2 2706.4h3.3v4.5h-3.3zM1623.2 2706.3h3.3v4.5h-3.3zM1626.2 2706.3h3.3v4.6h-3.3zM1629.2 2706.2h3.3v4.7h-3.3zM1632.2 2706.2h3.3v4.7h-3.3zM1635.2 2704.9h32.6v5.9h-32.6zM1667.5 2696.1h233.3v14.8h-233.3zM1900.5 2699h14.8v11.8h-14.8z"/>
<path fill="#f0221a" d="M140 414h8.3v6.3h-8.3zM171 408h11.3v12.2h-11.3zM185 440.6h14.3v6.3h-14.3zM202 416.9h5.3v9.2h-5.3zM288 416.9h5.3v12.2h-5.3zM320 408h4.3v35.9h-4.3zM351 402.1h8.3v35.9h-8.3zM361 393.2h63.3v59.3h-63.3zM527 393.2h56.3v59.3h-56.3zM586 402.1h4.3v50.4h-4.3zM593 408h7.3v24.1h-7.3zM748 422.9h4.3v6.3h-4.3zM755 422.9h4.3v6.3h-4.3zM1614 408h5.3v3.3h-5.3zM1808 446.6h8.3v5.9h-8.3zM133.3 509.3h5v5.9h-5zM140 503.3h8.3v6.3h-8.3zM171 497.4h11.3v6.3h-11.3zM209 485.6h5.3v12.2h-5.3zM216 479.6h5.3v6.3h-5.3zM223 485.6h4.3v12.2h-4.3zM237 497.4h4.3v17.8h-4.3zM275 503.3h4.3v6.3h-4.3zM282 503.3h4.3v11.9h-4.3zM288 497.4h5.3v17.8h-5.3zM295 503.3h5.3v11.9h-5.3zM320 467.8h4.3v35.9h-4.3zM351 479.6h8.3v35.6h-8.3zM361 455.9h63.3v59.3h-63.3zM527 455.9h56.3v59.3h-56.3zM586 467.8h4.3v47.4h-4.3zM593 479.6h7.3v30h-7.3zM703 512.2h4.3v3h-4.3zM748 494.4h4.3v12.2h-4.3zM986 455.9h11.3v3.3h-11.3zM1504 500.4h12.3v3.3h-12.3zM1525 500.4h4.3v3.3h-4.3zM1539 500.4h4.3v3.3h-4.3zM1614 488.5h5.3v3.3h-5.3zM1656 503.3h4.3v6.3h-4.3zM140 548.2h8.3v6.3h-8.3zM171 527.5h11.3v9.2h-11.3zM185 548.2h14.3v6.3h-14.3zM202 536.4h5.3v6.3h-5.3zM209 536.4h5.3v12.2h-5.3zM216 542.3h5.3v6.3h-5.3zM223 527.5h4.3v6.3h-4.3zM237 521.6h7.3v9.2h-7.3zM268 536.4h4.3v6.3h-4.3zM275 524.5h4.3v6.3h-4.3zM282 518.6h4.3v12.2h-4.3zM288 518.6h5.3v12.2h-5.3zM295 524.5h5.3v6.3h-5.3zM320 545.3h4.3v32.6h-4.3zM351 524.5h8.3v41.9h-8.3zM361 518.6h63.3v59.3h-63.3zM527 518.6h56.3v59.3h-56.3zM586 518.6h4.3v47.8h-4.3zM593 530.5h7.3v30h-7.3zM703 542.3h4.3v6.3h-4.3zM748 536.4h4.3v6.3h-4.3zM755 536.4h4.3v12.2h-4.3zM1283 530.5h4.3v3.3h-4.3zM1504 572h4.3v3.3h-4.3zM1614 548.2h5.3v3.3h-5.3zM202 628.7h5.3v6.3h-5.3zM209 625.8h5.3v14.8h-5.3zM237 599.1h7.3v18.1h-7.3zM275 634.7h4.3v5.9h-4.3zM288 616.9h5.3v12.2h-5.3zM320 605h4.3v35.6h-4.3zM351 590.2h8.3v44.8h-8.3zM361 581.3h63.3v59.3h-63.3zM527 581.3h56.3v59.3h-56.3zM586 581.3h4.3v50.8h-4.3zM593 599.1h7.3v24.1h-7.3zM755 605h4.3v12.2h-4.3zM835 587.2h7.3v3.3h-7.3zM1614 625.8h5.3v6.3h-5.3zM171 682.5h11.3v9.2h-11.3zM202 667.7h5.3v6.3h-5.3zM209 667.7h5.3v9.2h-5.3zM216 673.6h5.3v6.3h-5.3zM237 679.6h7.3v12.2h-7.3zM275 667.7h4.3v6.3h-4.3zM282 673.6h11.3v12.2h-11.3zM295 679.6h5.3v6.3h-5.3zM351 649.9h8.3v35.9h-8.3zM361 644h63.3v59.3h-63.3zM527 644h56.3v59.3h-56.3zM586 655.9h4.3v47.4h-4.3zM593 661.8h7.3v30h-7.3zM748 667.7h4.3v3.3h-4.3zM1808 661.8h8.3v3.3h-8.3zM133.3 709.7h5v3.3h-5zM140 709.7h8.3v6.3h-8.3zM202 712.6h5.3v6.3h-5.3zM209 706.7h5.3v9.2h-5.3zM237 706.7h7.3v9.2h-7.3zM275 706.7h4.3v6.3h-4.3zM282 706.7h11.3v9.2h-11.3zM295 709.7h5.3v6.3h-5.3zM320 706.7h4.3v35.9h-4.3zM351 706.7h8.3v35.9h-8.3zM361 706.7h63.3v59.3h-63.3zM527 706.7h63.3v59.3h-63.3zM593 706.7h7.3v35.9h-7.3zM835 751.2h7.3v3.3h-7.3zM140 799.1h8.3v6.3h-8.3zM171 805h11.3v9.2h-11.3zM202 793.1h5.3v12.2h-5.3zM209 793.1h5.3v12.2h-5.3zM237 816.8h7.3v11.9h-7.3zM282 805h4.3v12.2h-4.3zM288 793.1h5.3v18.1h-5.3zM295 816.8h5.3v6.3h-5.3zM320 769.4h4.3v35.9h-4.3zM351 781.3h8.3v30h-8.3zM361 769.4h63.3v59.3h-63.3zM527 769.4h63.3v59.3h-63.3zM593 793.1h7.3v24.1h-7.3zM755 787.2h4.3v6.3h-4.3zM835 769.4h7.3v3.3h-7.3zM1290 769.4h4.3v3.3h-4.3zM1614 790.2h5.3v3.3h-5.3zM133.3 885.5h5v5.9h-5zM140 873.6h8.3v9.2h-8.3zM150 868.9h123.3v9.2h-123.3zM275 855.8h25.3v15.2h-25.3zM320 849.9h4.3v41.5h-4.3zM351 855.8h8.3v33h-8.3zM361 832.1h63.3v59.3h-63.3zM527 832.1h63.3v59.3h-63.3zM593 849.9h7.3v30h-7.3zM703 879.5h8.3v6.3h-8.3zM714 885.5h31.3v3.3h-31.3zM748 870.6h11.3v9.2h-11.3zM1283 882.5h4.3v3.3h-4.3zM1614 873.6h5.3v3.3h-5.3zM133.3 939.9h140v14.2h-140zM275 935.1h25.3v19h-25.3zM320 915.6h4.3v38.5h-4.3zM351 912.6h8.3v41.5h-8.3zM361 894.8h63.3v59.3h-63.3zM527 894.8h63.3v59.3h-63.3zM593 915.6h7.3v38.5h-7.3zM603 941.1h98.3v13h-98.3zM703 945.2h8.3v8.9h-8.3zM714 944h31.3v10.1h-31.3zM748 942.2h11.3v11.9h-11.3zM824 951.1h18.3v3h-18.3zM931 948.2h11.3v5.9h-11.3zM1000 951.1h7.3v3h-7.3zM1010 951.1h19.3v3h-19.3zM1124 951.1h53.3v3h-53.3zM1283 948.2h4.3v5.9h-4.3zM1304 951.1h18.3v3h-18.3zM1456 948.2h94.3v5.9h-94.3zM1607 948.2h5.3v5.9h-5.3zM1614 948.2h5.3v5.9h-5.3zM1621 948.2h184.3v5.9h-184.3zM1808 948.2h8.3v5.9h-8.3zM1877 948.2h4.3v5.9h-4.3zM1884 948.2h4.3v5.9h-4.3zM1891 951.1h7.3v3h-7.3zM1901 951.1h11.3v3h-11.3zM133.3 975.3h140v15.2h-140zM275 975.3h25.3v21.1h-25.3zM303 969.4h15.3v30h-15.3zM320 957.5h4.3v50.8h-4.3zM327 957.5h21.3v18.1h-21.3zM351 966.4h8.3v38.9h-8.3zM361 957.5h63.3v59.3h-63.3zM447.7 957.5h3.6v12.2h-3.6zM517 957.5h7.3v18.1h-7.3zM527 957.5h63.3v59.3h-63.3zM593 966.4h7.3v44.8h-7.3zM603 984.2h98.3v12.2h-98.3zM703 981.2h8.3v12.2h-8.3zM714 981.2h31.3v9.2h-31.3zM748 978.3h11.3v18.1h-11.3zM931 996h11.3v6.3h-11.3zM1010 1004.9h19.3v6.3h-19.3zM1124 1010.9h53.3v3.3h-53.3zM1283 999h4.3v6.3h-4.3zM1304 975.3h18.3v3.3h-18.3zM1456 984.2h94.3v9.2h-94.3zM1607 981.2h5.3v3.3h-5.3zM1614 984.2h5.3v6.3h-5.3zM1621 987.1h184.3v6.3h-184.3zM1808 975.3h8.3v6.3h-8.3zM1877 978.3h11.3v3.3h-11.3zM1901 975.3h11.3v6.3h-11.3zM136 1872.4h14.3v12.2h-14.3zM150 1872.4h15.3v18.1h-15.3zM263.7 1878.3h8.6v12.2h-8.6zM272 1869.4h24v21.1h-24zM576 1878.3h34.3v3.3h-34.3zM689 1842.8h16.8v9.2h-16.8zM705.5 1851.7h14.8v35.9h-14.8zM720 1857.6h19.1v32.9h-19.1zM755.8 1842.8h22.5v59.2h-22.5zM778 1845.4h3.3v55.1h-3.3zM781 1846h3.3v54.4h-3.3zM784 1846.5h3.3v53.8h-3.3zM787 1847h3.3v53.1h-3.3zM790 1847.5h3.3v52.4h-3.3zM793.1 1848.1h3.3v51.8h-3.3zM796.1 1848.6h3.3v51.1h-3.3zM799.1 1849.1h3.3v50.5h-3.3zM802.1 1849.6h3.3v49.8h-3.3zM805.1 1851.9h3.2v47.4h-3.2zM808 1852.4h3.2v46.9h-3.2zM810.9 1852.8h3.2v46.3h-3.2zM813.8 1853.3h3.2v45.8h-3.2zM816.7 1853.7h3.2v45.3h-3.2zM819.6 1854.2h3.2v44.7h-3.2zM822.5 1854.6h3.2v44.2h-3.2zM825.5 1855.1h3.2v43.6h-3.2zM828.4 1855.6h3.2v43.1h-3.2zM831.3 1856h3.2v42.5h-3.2zM834.2 1856.5h3.2v42h-3.2zM837.1 1856.9h3.2v41.4h-3.2zM840 1857.4h3.2v40.9h-3.2zM842.9 1864.3h3.3v33.8h-3.3zM845.9 1864.6h3.3v33.5h-3.3zM848.9 1864.8h3.3v33.3h-3.3zM851.9 1865.1h3.3v33h-3.3zM854.9 1865.4h3.3v32.7h-3.3zM857.9 1865.6h3.3v32.5h-3.3zM860.9 1865.9h3.3v32.2h-3.3zM863.9 1866.2h3.3v31.9h-3.3zM866.9 1866.4h3.3v31.7h-3.3zM869.9 1866.7h3.3v31.4h-3.3zM873 1867h3.3v31.2h-3.3zM876 1867.2h3.3v30.9h-3.3zM879 1867.5h3.3v30.7h-3.3zM882 1867.8h3.3v30.4h-3.3zM885 1868h3.3v30.2h-3.3zM888 1868.3h3.3v29.9h-3.3zM891 1868.5h3.3v29.6h-3.3zM894 1868.8h3.3v29.4h-3.3zM897 1869.1h3.3v29.1h-3.3zM900 1869.3h3.3v28.9h-3.3zM975.7 1842.8h10.1v24h-10.1zM975.7 1890.2h10.1v11.8h-10.1zM985.5 1869.4h28.4v27h-28.4zM1124.7 1896.1h20.1v5.9h-20.1zM1144.5 1896.1h28.8v5.9h-28.8zM1231.8 1884.2h12.5v12.2h-12.5zM1244 1881.3h64.8v9.2h-64.8zM1308.5 1890.2h14.8v6.3h-14.8zM1323 1887.2h24.8v6.3h-24.8zM136 1910.9h14.3v18.1h-14.3zM150 1910.9h15.3v18.1h-15.3zM263.7 1922.8h32.3v18.1h-32.3zM689 1905h16.8v9.2h-16.8zM705.5 1905h14.8v41.8h-14.8zM720 1908h19.1v35.9h-19.1zM755.8 1905h22.5v59.2h-22.5zM778 1908h3.3v56.3h-3.3zM781 1908h3.3v55.6h-3.3zM784 1908h3.3v54.9h-3.3zM787 1908h3.3v54.3h-3.3zM790 1908h3.3v53.6h-3.3zM793.1 1908h3.3v53h-3.3zM796.1 1908h3.3v52.3h-3.3zM799.1 1908h3.3v51.7h-3.3zM802.1 1908h3.3v51h-3.3zM805.1 1911.1h3.2v44.4h-3.2zM808 1911.3h3.2v43.7h-3.2zM810.9 1911.5h3.2v43h-3.2zM813.8 1911.7h3.2v42.4h-3.2zM816.7 1912h3.2v41.7h-3.2zM819.6 1912.2h3.2v41h-3.2zM822.5 1912.4h3.2v40.3h-3.2zM825.5 1912.6h3.2v39.6h-3.2zM828.4 1912.9h3.2v38.9h-3.2zM831.3 1913.1h3.2v38.3h-3.2zM834.2 1913.3h3.2v37.6h-3.2zM837.1 1913.6h3.2v36.9h-3.2zM840 1913.8h3.2v36.2h-3.2zM842.9 1922.7h3.3v26.8h-3.3zM845.9 1922.6h3.3v26.5h-3.3zM848.9 1922.4h3.3v26.3h-3.3zM851.9 1922.3h3.3v26h-3.3zM854.9 1922.1h3.3v25.7h-3.3zM857.9 1922h3.3v25.4h-3.3zM860.9 1921.8h3.3v25.1h-3.3zM863.9 1921.7h3.3v24.8h-3.3zM866.9 1921.5h3.3v24.5h-3.3zM869.9 1921.4h3.3v24.2h-3.3zM873 1921.2h3.3v23.9h-3.3zM876 1921.1h3.3v23.6h-3.3zM879 1920.9h3.3v23.3h-3.3zM882 1920.8h3.3v23h-3.3zM885 1920.6h3.3v22.7h-3.3zM888 1920.5h3.3v22.4h-3.3zM891 1920.3h3.3v22.1h-3.3zM894 1920.2h3.3v21.8h-3.3zM897 1920h3.3v21.5h-3.3zM900 1919.9h3.3v21.2h-3.3zM975.7 1905h10.1v30h-10.1zM985.5 1919.8h28.4v21.1h-28.4zM1124.7 1908h48.6v6.3h-48.6zM1173 1908h52.1v3.3h-52.1zM1224.8 1922.8h7.3v18.1h-7.3zM1231.8 1934.6h12.5v12.2h-12.5zM1244 1952.4h36.3v9.2h-36.3zM1280 1934.6h28.8v9.2h-28.8zM1308.5 1928.7h39.3v6.3h-39.3zM1539 1907h3.3v0.4h-3.3zM1542 1907.5h3.3v0.5h-3.3zM1545 1908h3.3v0.7h-3.3zM1548 1908.5h3.3v0.8h-3.3zM1551 1909h3.3v0.9h-3.3zM1554 1909.5h3.3v1.1h-3.3zM1557 1910h3.3v1.2h-3.3zM1560 1910.5h3.3v1.3h-3.3zM1563 1911h3.3v1.5h-3.3zM1566.1 1911.5h3.3v1.6h-3.3zM1569.1 1912h3.3v1.7h-3.3zM1572.1 1912.5h3.3v1.8h-3.3zM1575.1 1913h3.3v2h-3.3zM1578.1 1913.5h3.3v2.1h-3.3zM1581.1 1914h3.3v2.2h-3.3zM1584.1 1914.5h3.3v2.4h-3.3zM1587.1 1915h3.3v2.5h-3.3zM1590.1 1915.5h3.3v2.6h-3.3zM1593.1 1916h3.3v2.7h-3.3zM1596.1 1916.5h3.3v2.9h-3.3zM1599.1 1917h3.3v3h-3.3zM1602.1 1917.5h3.3v3.1h-3.3zM1605.1 1918h3.3v3.3h-3.3zM1608.1 1918.5h3.3v3.4h-3.3zM1611.2 1919h3.3v3.5h-3.3zM1614.2 1919.5h3.3v3.7h-3.3zM1617.2 1920h3.3v3.8h-3.3zM1620.2 1920.5h3.3v3.9h-3.3zM1623.2 1921h3.3v4h-3.3zM1626.2 1921.5h3.3v4.2h-3.3zM1629.2 1922h3.3v4.3h-3.3zM1632.2 1922.5h3.3v4.4h-3.3zM1667.5 1937.6h14.3v6.3h-14.3zM1736.5 1925.7h164.3v6.3h-164.3zM136 1985h14.3v12.2h-14.3zM150 1967.2h15.3v18.1h-15.3zM165 1967.2h13.7v12.2h-13.7zM238.5 1967.2h25.5v6.3h-25.5zM263.7 1967.2h32.3v12.2h-32.3zM576 1967.2h34.3v6.3h-34.3zM689 1967.2h16.8v12.2h-16.8zM705.5 1967.2h14.8v38.8h-14.8zM720 1967.2h19.1v35.9h-19.1zM755.8 1967.2h22.5v59.2h-22.5zM778 1967.2h3.3v56.1h-3.3zM781 1967.2h3.3v55.1h-3.3zM784 1967.2h3.3v54.1h-3.3zM787 1967.2h3.3v53.1h-3.3zM790 1967.2h3.3v52.2h-3.3zM793.1 1967.2h3.3v51.2h-3.3zM796.1 1967.2h3.3v50.2h-3.3zM799.1 1967.2h3.3v49.2h-3.3zM802.1 1967.2h3.3v48.2h-3.3zM805.1 1967.2h3.2v44.4h-3.2zM808 1967.2h3.2v43.7h-3.2zM810.9 1967.2h3.2v43h-3.2zM813.8 1967.2h3.2v42.4h-3.2zM816.7 1967.2h3.2v41.7h-3.2zM819.6 1967.2h3.2v41h-3.2zM822.5 1967.2h3.2v40.3h-3.2zM825.5 1967.2h3.2v39.6h-3.2zM828.4 1967.2h3.2v38.9h-3.2zM831.3 1967.2h3.2v38.3h-3.2zM834.2 1967.2h3.2v37.6h-3.2zM837.1 1967.2h3.2v36.9h-3.2zM840 1967.2h3.2v36.2h-3.2zM842.9 1970.2h60.4v27h-60.4zM975.7 1967.2h10.1v24h-10.1zM985.5 1967.2h28.4v24h-28.4zM1124.7 1967.2h20.1v3.3h-20.1zM1224.8 1967.2h7.3v12.2h-7.3zM1231.8 1967.2h12.5v12.2h-12.5zM1244 1967.2h64.8v9.2h-64.8zM1308.5 1985h39.3v9.2h-39.3zM1388 1967.2h26.5v9.2h-26.5zM1539 1967.2h3.3v3.3h-3.3zM1542 1967.2h3.3v3.3h-3.3zM1545 1967.2h3.3v3.3h-3.3zM1548 1967.2h3.3v3.3h-3.3zM1551 1967.2h3.3v3.3h-3.3zM1554 1967.2h3.3v3.3h-3.3zM1557 1967.2h3.3v3.3h-3.3zM1560 1967.2h3.3v3.3h-3.3zM1563 1967.2h3.3v3.3h-3.3zM1566.1 1967.2h3.3v3.3h-3.3zM1569.1 1967.2h3.3v3.3h-3.3zM1572.1 1967.2h3.3v3.3h-3.3zM1575.1 1967.2h3.3v3.3h-3.3zM1578.1 1967.2h3.3v3.3h-3.3zM1581.1 1967.2h3.3v3.3h-3.3zM1584.1 1967.2h3.3v3.3h-3.3zM1587.1 1967.2h3.3v3.3h-3.3zM1590.1 1967.2h3.3v3.3h-3.3zM1593.1 1967.2h3.3v3.3h-3.3zM1596.1 1967.2h3.3v3.3h-3.3zM1599.1 1967.2h3.3v3.3h-3.3zM1602.1 1967.2h3.3v3.3h-3.3zM1605.1 1967.2h3.3v3.3h-3.3zM1608.1 1967.2h3.3v3.3h-3.3zM1611.2 1967.2h3.3v3.3h-3.3zM1614.2 1967.2h3.3v3.3h-3.3zM1617.2 1967.2h3.3v3.3h-3.3zM1620.2 1967.2h3.3v3.3h-3.3zM1623.2 1967.2h3.3v3.3h-3.3zM1626.2 1967.2h3.3v3.3h-3.3zM1629.2 1967.2h3.3v3.3h-3.3zM1632.2 1967.2h3.3v3.3h-3.3zM1667.5 1967.2h14.3v6.3h-14.3zM1681.5 1967.2h55.3v6.3h-55.3zM1736.5 1967.2h164.3v6.3h-164.3zM136 2041.3h14.3v18.1h-14.3zM150 2029.5h15.3v18.1h-15.3zM238.5 2029.5h25.5v6.3h-25.5zM263.7 2029.5h32.3v12.2h-32.3zM576 2047.2h34.3v6.3h-34.3zM689 2076.8h16.8v11.8h-16.8zM705.5 2041.3h14.8v41.8h-14.8zM720 2038.3h19.1v38.8h-19.1zM755.8 2029.5h22.5v59.2h-22.5zM778 2029.5h3.3v59.2h-3.3zM781 2029.5h3.3v58.6h-3.3zM784 2029.5h3.3v57.9h-3.3zM787 2029.5h3.3v57.2h-3.3zM790 2029.5h3.3v56.6h-3.3zM793.1 2029.5h3.3v55.9h-3.3zM796.1 2029.5h3.3v55.3h-3.3zM799.1 2029.5h3.3v54.6h-3.3zM802.1 2029.5h3.3v54h-3.3zM805.1 2029.6h3.2v56h-3.2zM808 2029.8h3.2v54.9h-3.2zM810.9 2030h3.2v53.7h-3.2zM813.8 2030.3h3.2v52.6h-3.2zM816.7 2030.5h3.2v51.5h-3.2zM819.6 2030.7h3.2v50.3h-3.2zM822.5 2030.9h3.2v49.2h-3.2zM825.5 2031.2h3.2v48.1h-3.2zM828.4 2031.4h3.2v46.9h-3.2zM831.3 2031.6h3.2v45.8h-3.2zM834.2 2031.9h3.2v44.6h-3.2zM837.1 2032.1h3.2v43.5h-3.2zM840 2032.3h3.2v42.4h-3.2zM842.9 2034.2h60.4v30h-60.4zM975.7 2029.5h10.1v30h-10.1zM985.5 2038.3h28.4v30h-28.4zM1069.5 2085.7h34.1v3h-34.1zM1103.3 2085.7h21.7v3h-21.7zM1124.7 2079.8h100.4v6.3h-100.4zM1224.8 2053.1h7.3v12.2h-7.3zM1231.8 2041.3h12.5v12.2h-12.5zM1244 2032.4h64.8v15.2h-64.8zM1308.5 2049h39.3v12.2h-39.3zM1371.5 2029.5h16.8v6.3h-16.8zM1388 2050.2h26.5v9.2h-26.5zM1539 2082.4h3.3v2.2h-3.3zM1542 2081.9h3.3v2.5h-3.3zM1545 2081.3h3.3v2.7h-3.3zM1548 2080.7h3.3v2.9h-3.3zM1551 2080.1h3.3v3.1h-3.3zM1554 2079.5h3.3v3.3h-3.3zM1557 2078.9h3.3v3.6h-3.3zM1560 2078.3h3.3v3.8h-3.3zM1563 2077.7h3.3v4h-3.3zM1566.1 2077.1h3.3v4.2h-3.3zM1569.1 2076.5h3.3v4.5h-3.3zM1572.1 2075.9h3.3v4.7h-3.3zM1575.1 2075.3h3.3v4.9h-3.3zM1578.1 2074.7h3.3v5.1h-3.3zM1581.1 2074.2h3.3v5.3h-3.3zM1584.1 2073.6h3.3v5.6h-3.3zM1587.1 2073h3.3v5.8h-3.3zM1590.1 2072.4h3.3v6h-3.3zM1593.1 2071.8h3.3v6.2h-3.3zM1596.1 2071.2h3.3v6.5h-3.3zM1599.1 2070.6h3.3v6.7h-3.3zM1602.1 2070h3.3v6.9h-3.3zM1605.1 2069.4h3.3v7.1h-3.3zM1608.1 2068.8h3.3v7.3h-3.3zM1611.2 2068.2h3.3v7.6h-3.3zM1614.2 2067.6h3.3v7.8h-3.3zM1617.2 2067.1h3.3v8h-3.3zM1620.2 2066.5h3.3v8.2h-3.3zM1623.2 2065.9h3.3v8.5h-3.3zM1626.2 2065.3h3.3v8.7h-3.3zM1629.2 2064.7h3.3v8.9h-3.3zM1632.2 2064.1h3.3v9.1h-3.3zM1667.5 2029.5h14.3v12.2h-14.3zM1681.5 2056.1h55.3v9.2h-55.3zM1736.5 2050.2h164.3v12.2h-164.3zM136 2121.3h14.3v18.1h-14.3zM150 2103.5h15.3v24h-15.3zM238.5 2145h25.5v5.9h-25.5zM263.7 2133.1h32.3v17.8h-32.3zM526.6 2145h29.4v5.9h-29.4zM576 2136.1h34.3v9.2h-34.3zM689 2091.7h16.8v9.2h-16.8zM705.5 2097.6h14.8v35.9h-14.8zM720 2103.5h19.1v35.9h-19.1zM755.8 2091.7h22.5v59.2h-22.5zM778 2094.2h3.3v56.7h-3.3zM781 2095.6h3.3v55.3h-3.3zM784 2097.1h3.3v53.8h-3.3zM787 2098.5h3.3v52.4h-3.3zM790 2100h3.3v50.9h-3.3zM793.1 2101.4h3.3v49.5h-3.3zM796.1 2102.9h3.3v48h-3.3zM799.1 2104.3h3.3v46.6h-3.3zM802.1 2105.8h3.3v45.1h-3.3zM805.1 2114.2h38.1v36.7h-38.1zM842.9 2127.2h60.4v23.7h-60.4zM975.7 2127.2h10.1v23.7h-10.1zM985.5 2121.3h28.4v29.6h-28.4zM1013.6 2147.9h35.3v3h-35.3zM1048.6 2145h21.2v5.9h-21.2zM1069.5 2145h34.1v5.9h-34.1zM1103.3 2145h21.7v5.9h-21.7zM1124.7 2145h75.6v5.9h-75.6zM1200 2145h25.1v5.9h-25.1zM1224.8 2133.1h7.3v17.8h-7.3zM1231.8 2136.1h12.5v14.8h-12.5zM1244 2136.1h64.8v14.8h-64.8zM1308.5 2134.9h39.3v15.2h-39.3zM1371.5 2136.1h16.8v14.8h-16.8zM1388 2139h26.5v11.8h-26.5zM1440 2147.9h20.3v3h-20.3zM1460 2147.9h30.3v3h-30.3zM1490 2147.9h30.6v3h-30.6zM1539 2147.8h3.3v3h-3.3zM1542 2147.7h3.3v3.2h-3.3zM1545 2147.5h3.3v3.3h-3.3zM1548 2147.4h3.3v3.5h-3.3zM1551 2147.3h3.3v3.6h-3.3zM1554 2147.1h3.3v3.8h-3.3zM1557 2147h3.3v3.9h-3.3zM1560 2146.8h3.3v4.1h-3.3zM1563 2146.7h3.3v4.2h-3.3zM1566.1 2146.5h3.3v4.4h-3.3zM1569.1 2146.4h3.3v4.5h-3.3zM1572.1 2146.2h3.3v4.7h-3.3zM1575.1 2146.1h3.3v4.8h-3.3zM1578.1 2145.9h3.3v5h-3.3zM1581.1 2145.8h3.3v5.1h-3.3zM1584.1 2145.6h3.3v5.3h-3.3zM1587.1 2145.5h3.3v5.4h-3.3zM1590.1 2145.3h3.3v5.6h-3.3zM1593.1 2145.2h3.3v5.7h-3.3zM1596.1 2145h3.3v5.8h-3.3zM1599.1 2144.9h3.3v6h-3.3zM1602.1 2144.7h3.3v6.1h-3.3zM1605.1 2144.6h3.3v6.3h-3.3zM1608.1 2144.4h3.3v6.4h-3.3zM1611.2 2144.3h3.3v6.6h-3.3zM1614.2 2144.1h3.3v6.7h-3.3zM1617.2 2144h3.3v6.9h-3.3zM1620.2 2143.8h3.3v7h-3.3zM1623.2 2143.7h3.3v7.2h-3.3zM1626.2 2143.6h3.3v7.3h-3.3zM1629.2 2143.4h3.3v7.5h-3.3zM1632.2 2143.3h3.3v7.6h-3.3zM1635.2 2145h32.6v5.9h-32.6zM1667.5 2139h14.3v11.8h-14.3zM1681.5 2145h55.3v5.9h-55.3zM1736.5 2142h164.3v8.9h-164.3zM136 2177.6h14.3v18.1h-14.3zM150 2171.7h15.3v18.1h-15.3zM238.5 2201.3h25.5v11.8h-25.5zM263.7 2159.8h32.3v24h-32.3zM298.6 2153.9h10v18.1h-10zM526.6 2171.7h29.4v6.3h-29.4zM576 2165.7h34.3v9.2h-34.3zM689 2153.9h16.8v9.2h-16.8zM705.5 2153.9h14.8v47.7h-14.8zM720 2162.8h19.1v35.9h-19.1zM755.8 2153.9h22.5v59.2h-22.5zM778 2155.9h3.3v56.1h-3.3zM781 2156.4h3.3v55.1h-3.3zM784 2156.8h3.3v54.1h-3.3zM787 2157.3h3.3v53.1h-3.3zM790 2157.7h3.3v52.2h-3.3zM793.1 2158.2h3.3v51.2h-3.3zM796.1 2158.7h3.3v50.2h-3.3zM799.1 2159.1h3.3v49.2h-3.3zM802.1 2159.6h3.3v48.2h-3.3zM805.1 2161.6h38.1v44.8h-38.1zM842.9 2162.8h60.4v32.9h-60.4zM903 2195.6h3.3v12h-3.3zM906 2196.3h3.3v11.6h-3.3zM909.1 2196.9h3.3v11.2h-3.3zM912.1 2197.5h3.3v10.8h-3.3zM915.1 2198.1h3.3v10.4h-3.3zM918.1 2198.7h3.3v10h-3.3zM921.2 2199.3h3.3v9.6h-3.3zM924.2 2200h3.3v9.2h-3.3zM927.2 2200.6h3.3v8.8h-3.3zM930.3 2201.2h3.3v8.4h-3.3zM933.3 2201.8h3.3v8h-3.3zM936.3 2202.4h3.3v7.7h-3.3zM939.4 2203h3.3v7.3h-3.3zM942.4 2203.7h3.3v6.9h-3.3zM945.4 2204.3h3.3v6.5h-3.3zM948.4 2204.9h3.3v6.1h-3.3zM951.5 2205.5h3.3v5.7h-3.3zM954.5 2206.1h3.3v5.3h-3.3zM957.5 2206.7h3.3v4.9h-3.3zM960.6 2207.4h3.3v4.5h-3.3zM963.6 2208h3.3v4.1h-3.3zM966.6 2208.6h3.3v3.7h-3.3zM969.6 2209.2h3.3v3.3h-3.3zM972.7 2209.8h3.3v2.9h-3.3zM975.7 2153.9h10.1v41.8h-10.1zM985.5 2153.9h28.4v35.9h-28.4zM1013.6 2180.5h35.3v3.3h-35.3zM1069.5 2207.2h34.1v3.3h-34.1zM1103.3 2210.1h21.7v3h-21.7zM1124.7 2207.2h100.4v5.9h-100.4zM1224.8 2183.5h7.3v6.3h-7.3zM1231.8 2162.8h12.5v21.1h-12.5zM1244 2161.6h64.8v22.3h-64.8zM1308.5 2179.4h39.3v16.3h-39.3zM1371.5 2159.8h16.8v24h-16.8zM1388 2159.8h26.5v12.2h-26.5zM1539 2206.9h3.3v2.3h-3.3zM1542 2206.2h3.3v2.7h-3.3zM1545 2205.6h3.3v3.1h-3.3zM1548 2204.9h3.3v3.6h-3.3zM1551 2204.3h3.3v4h-3.3zM1554 2203.6h3.3v4.4h-3.3zM1557 2203h3.3v4.8h-3.3zM1560 2202.3h3.3v5.2h-3.3zM1563 2201.7h3.3v5.6h-3.3zM1566.1 2201h3.3v6h-3.3zM1569.1 2200.4h3.3v6.4h-3.3zM1572.1 2199.7h3.3v6.8h-3.3zM1575.1 2199.1h3.3v7.2h-3.3zM1578.1 2198.4h3.3v7.6h-3.3zM1581.1 2197.8h3.3v8h-3.3zM1584.1 2197.1h3.3v8.4h-3.3zM1587.1 2196.5h3.3v8.8h-3.3zM1590.1 2195.8h3.3v9.2h-3.3zM1593.1 2195.2h3.3v9.7h-3.3zM1596.1 2194.6h3.3v10.1h-3.3zM1599.1 2193.9h3.3v10.5h-3.3zM1602.1 2193.3h3.3v10.9h-3.3zM1605.1 2192.6h3.3v11.3h-3.3zM1608.1 2192h3.3v11.7h-3.3zM1611.2 2191.3h3.3v12.1h-3.3zM1614.2 2190.7h3.3v12.5h-3.3zM1617.2 2190h3.3v12.9h-3.3zM1620.2 2189.4h3.3v13.3h-3.3zM1623.2 2188.7h3.3v13.7h-3.3zM1626.2 2188.1h3.3v14.1h-3.3zM1629.2 2187.4h3.3v14.5h-3.3zM1632.2 2186.8h3.3v14.9h-3.3zM1667.5 2159.8h14.3v18.1h-14.3zM1681.5 2180.5h55.3v12.2h-55.3zM1736.5 2168.7h164.3v15.2h-164.3zM136 2216.1h14.3v24h-14.3zM150 2216.1h15.3v24h-15.3zM238.5 2257.6h25.5v17.8h-25.5zM263.7 2216.1h32.3v30h-32.3zM526.6 2216.1h29.4v12.2h-29.4zM555.7 2216.1h20.6v12.2h-20.6zM576 2216.1h34.3v9.2h-34.3zM610 2216.1h33.3v6.3h-33.3zM643 2216.1h21.3v12.2h-21.3zM689 2216.1h16.8v9.2h-16.8zM705.5 2216.1h14.8v41.8h-14.8zM720 2216.1h19.1v35.9h-19.1zM755.8 2216.1h3.5v59.3h-3.5zM759 2216.1h3.5v58.9h-3.5zM762.1 2216.1h3.5v58.5h-3.5zM765.3 2216.1h3.5v58.1h-3.5zM768.5 2216.1h3.5v57.6h-3.5zM771.7 2216.1h3.5v57.2h-3.5zM774.8 2216.1h3.5v56.8h-3.5zM778 2216.1h3.3v56.2h-3.3zM781 2216.1h3.3v55.3h-3.3zM784 2216.1h3.3v54.5h-3.3zM787 2216.1h3.3v53.6h-3.3zM790 2216.1h3.3v52.7h-3.3zM793.1 2216.1h3.3v51.9h-3.3zM796.1 2216.1h3.3v51h-3.3zM799.1 2216.1h3.3v50.2h-3.3zM802.1 2216.1h3.3v49.3h-3.3zM805.1 2216.1h3.2v50.3h-3.2zM808 2216.1h3.2v49.5h-3.2zM810.9 2216.1h3.2v48.7h-3.2zM813.8 2216.1h3.2v48h-3.2zM816.7 2216.1h3.2v47.2h-3.2zM819.6 2216.1h3.2v46.4h-3.2zM822.5 2216.1h3.2v45.6h-3.2zM825.5 2216.1h3.2v44.9h-3.2zM828.4 2216.1h3.2v44.1h-3.2zM831.3 2216.1h3.2v43.3h-3.2zM834.2 2216.1h3.2v42.5h-3.2zM837.1 2216.1h3.2v41.8h-3.2zM840 2216.1h3.2v41h-3.2zM842.9 2216.1h3.3v36.9h-3.3zM845.9 2216.1h3.3v36.6h-3.3zM848.9 2216.1h3.3v36.3h-3.3zM851.9 2216.1h3.3v36h-3.3zM854.9 2216.1h3.3v35.7h-3.3zM857.9 2216.1h3.3v35.4h-3.3zM860.9 2216.1h3.3v35.1h-3.3zM863.9 2216.1h3.3v34.8h-3.3zM866.9 2216.1h3.3v34.5h-3.3zM869.9 2216.1h3.3v34.2h-3.3zM873 2216.1h3.3v33.9h-3.3zM876 2216.1h3.3v33.7h-3.3zM879 2216.1h3.3v33.4h-3.3zM882 2216.1h3.3v33.1h-3.3zM885 2216.1h3.3v32.8h-3.3zM888 2216.1h3.3v32.5h-3.3zM891 2216.1h3.3v32.2h-3.3zM894 2216.1h3.3v31.9h-3.3zM897 2216.1h3.3v31.6h-3.3zM900 2216.1h3.3v31.3h-3.3zM903 2216.1h3.3v20.7h-3.3zM906 2216.1h3.3v19.9h-3.3zM909.1 2216.1h3.3v19.1h-3.3zM912.1 2216.1h3.3v18.3h-3.3zM915.1 2216.1h3.3v17.5h-3.3zM918.1 2216.1h3.3v16.7h-3.3zM921.2 2216.1h3.3v15.9h-3.3zM924.2 2216.1h3.3v15.1h-3.3zM927.2 2216.1h3.3v14.4h-3.3zM930.3 2216.1h3.3v13.6h-3.3zM933.3 2216.1h3.3v12.8h-3.3zM936.3 2216.1h3.3v12h-3.3zM939.4 2216.1h3.3v11.2h-3.3zM942.4 2216.1h3.3v10.4h-3.3zM945.4 2216.1h3.3v9.6h-3.3zM948.4 2216.1h3.3v8.8h-3.3zM951.5 2216.1h3.3v8h-3.3zM954.5 2216.1h3.3v7.3h-3.3zM957.5 2216.1h3.3v6.5h-3.3zM960.6 2216.1h3.3v5.7h-3.3zM963.6 2216.1h3.3v4.9h-3.3zM966.6 2216.1h3.3v4.1h-3.3zM969.6 2216.1h3.3v3.3h-3.3zM972.7 2216.1h3.3v2.5h-3.3zM975.7 2216.1h10.1v18.1h-10.1zM985.5 2216.1h3.4v26.2h-3.4zM988.6 2216.1h3.4v24.7h-3.4zM991.7 2216.1h3.4v23.2h-3.4zM994.9 2216.1h3.4v21.6h-3.4zM998 2216.1h3.4v20.1h-3.4zM1001.1 2216.1h3.4v18.5h-3.4zM1004.2 2216.1h3.4v16.9h-3.4zM1007.4 2216.1h3.4v15.3h-3.4zM1010.5 2216.1h3.4v13.6h-3.4zM1124.7 2216.1h20.1v3.3h-20.1zM1224.8 2216.1h7.3v24h-7.3zM1231.8 2216.1h12.5v21.1h-12.5zM1244 2216.1h64.8v19.9h-64.8zM1308.5 2216.1h39.3v18.1h-39.3zM1371.5 2216.1h16.8v21.1h-16.8zM1388 2216.1h26.5v12.2h-26.5zM1440 2216.1h80.6v12.2h-80.6zM1520.3 2269.4h15v5.9h-15zM1539 2216.1h3.3v3.4h-3.3zM1542 2216.1h3.3v3.7h-3.3zM1545 2216.1h3.3v4h-3.3zM1548 2216.1h3.3v4.3h-3.3zM1551 2216.1h3.3v4.6h-3.3zM1554 2216.1h3.3v4.8h-3.3zM1557 2216.1h3.3v5.1h-3.3zM1560 2216.1h3.3v5.4h-3.3zM1563 2216.1h3.3v5.7h-3.3zM1566.1 2216.1h3.3v5.9h-3.3zM1569.1 2216.1h3.3v6.2h-3.3zM1572.1 2216.1h3.3v6.5h-3.3zM1575.1 2216.1h3.3v6.8h-3.3zM1578.1 2216.1h3.3v7.1h-3.3zM1581.1 2216.1h3.3v7.3h-3.3zM1584.1 2216.1h3.3v7.6h-3.3zM1587.1 2216.1h3.3v7.9h-3.3zM1590.1 2216.1h3.3v8.2h-3.3zM1593.1 2216.1h3.3v8.4h-3.3zM1596.1 2216.1h3.3v8.7h-3.3zM1599.1 2216.1h3.3v9h-3.3zM1602.1 2216.1h3.3v9.3h-3.3zM1605.1 2216.1h3.3v9.6h-3.3zM1608.1 2216.1h3.3v9.8h-3.3zM1611.2 2216.1h3.3v10.1h-3.3zM1614.2 2216.1h3.3v10.4h-3.3zM1617.2 2216.1h3.3v10.7h-3.3zM1620.2 2216.1h3.3v10.9h-3.3zM1623.2 2216.1h3.3v11.2h-3.3zM1626.2 2216.1h3.3v11.5h-3.3zM1629.2 2216.1h3.3v11.8h-3.3zM1632.2 2216.1h3.3v12.1h-3.3zM1635.2 2216.1h32.6v6.3h-32.6zM1667.5 2216.1h14.3v24h-14.3zM1681.5 2216.1h55.3v15.2h-55.3zM1736.5 2216.1h164.3v18.1h-164.3zM1900.5 2216.1h14.8v6.3h-14.8zM136 2278.3h34.3v15.2h-34.3zM262 2278.3h34v24h-34zM526 2278.3h119.3v9.2h-119.3zM645 2278.3h31.3v12.2h-31.3zM689 2278.3h16.8v9.2h-16.8zM705.5 2278.3h14.8v38.8h-14.8zM720 2278.3h19.1v38.8h-19.1zM755.8 2278.3h22.5v56.6h-22.5zM778 2278.3h3.3v58h-3.3zM781 2278.3h3.3v57.4h-3.3zM784 2278.3h3.3v56.7h-3.3zM787 2278.3h3.3v56.1h-3.3zM790 2278.3h3.3v55.4h-3.3zM793.1 2278.3h3.3v54.7h-3.3zM796.1 2278.3h3.3v54.1h-3.3zM799.1 2278.3h3.3v53.4h-3.3zM802.1 2278.3h3.3v52.8h-3.3zM805.1 2278.3h3.2v52.1h-3.2zM808 2278.3h3.2v51.4h-3.2zM810.9 2278.3h3.2v50.6h-3.2zM813.8 2278.3h3.2v49.9h-3.2zM816.7 2278.3h3.2v49.2h-3.2zM819.6 2278.3h3.2v48.4h-3.2zM822.5 2278.3h3.2v47.7h-3.2zM825.5 2278.3h3.2v47h-3.2zM828.4 2278.3h3.2v46.3h-3.2zM831.3 2278.3h3.2v45.5h-3.2zM834.2 2278.3h3.2v44.8h-3.2zM837.1 2278.3h3.2v44.1h-3.2zM840 2278.3h3.2v43.3h-3.2zM842.9 2278.3h60.1v37.6h-60.1zM902.7 2278.3h3.2v32.3h-3.2zM905.6 2278.3h3.2v31h-3.2zM908.6 2278.3h3.2v29.7h-3.2zM911.5 2278.3h3.2v28.4h-3.2zM914.5 2278.3h3.2v27.1h-3.2zM917.4 2278.3h3.2v25.8h-3.2zM920.4 2278.3h3.2v24.5h-3.2zM923.3 2278.3h3.2v23.3h-3.2zM926.3 2278.3h3.2v22h-3.2zM929.2 2278.3h3.2v20.7h-3.2zM932.2 2278.3h3.2v19.4h-3.2zM935.1 2278.3h3.2v18.1h-3.2zM938.1 2278.3h3.2v16.8h-3.2zM941 2278.3h3.2v15.5h-3.2zM944 2278.3h3.2v14.2h-3.2zM946.9 2278.3h3.2v13h-3.2zM949.9 2278.3h3.2v11.7h-3.2zM952.8 2278.3h3.2v10.4h-3.2zM955.8 2278.3h3.2v9.1h-3.2zM958.7 2278.3h3.2v7.8h-3.2zM961.7 2278.3h3.2v6.5h-3.2zM964.6 2278.3h3.2v5.2h-3.2zM967.6 2278.3h3.2v4h-3.2zM970.5 2278.3h15.3v35.9h-15.3zM985.5 2278.3h28.4v32.9h-28.4zM1013.6 2278.3h56.2v9.2h-56.2zM1124.7 2278.3h20.1v6.3h-20.1zM1144.5 2278.3h55.8v3.3h-55.8zM1224.8 2278.3h7.3v18.1h-7.3zM1231.8 2278.3h77v21.1h-77zM1308.5 2293.1h14.8v21.1h-14.8zM1323 2299.1h24.8v18.1h-24.8zM1370 2278.3h22.3v18.1h-22.3zM1392 2278.3h22.5v12.2h-22.5zM1440 2278.3h75.3v9.2h-75.3zM1515 2278.3h24.3v3.3h-24.3zM1539 2278.3h3.3v1.7h-3.3zM1542 2278.3h3.3v2h-3.3zM1545 2278.3h3.3v2.3h-3.3zM1548 2278.3h3.3v2.6h-3.3zM1551 2278.3h3.3v2.9h-3.3zM1554 2278.3h3.3v3.2h-3.3zM1557 2278.3h3.3v3.5h-3.3zM1560 2278.3h3.3v3.8h-3.3zM1563 2278.3h3.3v4h-3.3zM1566.1 2278.3h3.3v4.3h-3.3zM1569.1 2278.3h3.3v4.6h-3.3zM1572.1 2278.3h3.3v4.9h-3.3zM1575.1 2278.3h3.3v5.2h-3.3zM1578.1 2278.3h3.3v5.5h-3.3zM1581.1 2278.3h3.3v5.8h-3.3zM1584.1 2278.3h3.3v6.1h-3.3zM1587.1 2278.3h3.3v6.4h-3.3zM1590.1 2278.3h3.3v6.7h-3.3zM1593.1 2278.3h3.3v7h-3.3zM1596.1 2278.3h3.3v7.3h-3.3zM1599.1 2278.3h3.3v7.6h-3.3zM1602.1 2278.3h3.3v7.9h-3.3zM1605.1 2278.3h3.3v8.2h-3.3zM1608.1 2278.3h3.3v8.5h-3.3zM1611.2 2278.3h3.3v8.8h-3.3zM1614.2 2278.3h3.3v9.1h-3.3zM1617.2 2278.3h3.3v9.4h-3.3zM1620.2 2278.3h3.3v9.7h-3.3zM1623.2 2278.3h3.3v10h-3.3zM1626.2 2278.3h3.3v10.3h-3.3zM1629.2 2278.3h3.3v10.6h-3.3zM1632.2 2278.3h3.3v10.9h-3.3zM1635.2 2278.3h32.6v9.2h-32.6zM1667.5 2278.3h14.3v18.1h-14.3zM1681.5 2278.3h55.3v9.2h-55.3zM1736.5 2278.3h164.3v15.2h-164.3zM136 2340.6h34.3v27h-34.3zM240 2340.6h22.3v18.1h-22.3zM262 2340.6h34v35.9h-34zM298.6 2340.6h10v18.1h-10zM308.3 2393.8h112v3.3h-112zM420 2376.1h15.3v18.1h-15.3zM526 2346.5h119.3v24h-119.3zM645 2340.6h31.3v32.9h-31.3zM689 2340.6h16.8v9.2h-16.8zM705.5 2340.6h14.8v32.9h-14.8zM720 2340.6h19.1v32.9h-19.1zM755.8 2340.6h22.5v47.7h-22.5zM778 2342.3h65.2v44.8h-65.2zM842.9 2352.4h60.1v32.9h-60.1zM902.7 2376.6h3.2v21.8h-3.2zM905.6 2377.5h3.2v20.9h-3.2zM908.6 2378.5h3.2v20.1h-3.2zM911.5 2379.4h3.2v19.2h-3.2zM914.5 2380.4h3.2v18.3h-3.2zM917.4 2381.3h3.2v17.4h-3.2zM920.4 2382.3h3.2v16.6h-3.2zM923.3 2383.2h3.2v15.7h-3.2zM926.3 2384.2h3.2v14.8h-3.2zM929.2 2385.1h3.2v13.9h-3.2zM932.2 2386.1h3.2v13.1h-3.2zM935.1 2387h3.2v12.2h-3.2zM938.1 2388h3.2v11.3h-3.2zM941 2388.9h3.2v10.4h-3.2zM944 2389.9h3.2v9.6h-3.2zM946.9 2390.8h3.2v8.7h-3.2zM949.9 2391.8h3.2v7.8h-3.2zM952.8 2392.7h3.2v6.9h-3.2zM955.8 2393.7h3.2v6.1h-3.2zM958.7 2394.7h3.2v5.2h-3.2zM961.7 2395.6h3.2v4.3h-3.2zM964.6 2396.6h3.2v3.4h-3.2zM967.6 2397.5h3.2v2.6h-3.2zM970.5 2340.6h15.3v32.9h-15.3zM985.5 2346.5h28.4v30h-28.4zM1013.6 2367.2h56.2v21.1h-56.2zM1069.5 2393.8h34.1v3.3h-34.1zM1103.3 2373.1h21.7v9.2h-21.7zM1124.7 2387.9h20.1v6.3h-20.1zM1144.5 2390.9h55.8v7.5h-55.8zM1200 2379h25.1v18.1h-25.1zM1224.8 2358.3h7.3v35.9h-7.3zM1231.8 2358.3h48.5v32.9h-48.5zM1280 2352.4h28.8v35.9h-28.8zM1308.5 2366h39.3v27h-39.3zM1370 2349.4h22.3v38.8h-22.3zM1392 2355.4h22.5v24h-22.5zM1414.2 2340.6h15.1v47.7h-15.1zM1440 2349.4h75.3v15.2h-75.3zM1515 2340.6h24.3v3.3h-24.3zM1539 2393.5h3.3v3.6h-3.3zM1542 2392.9h3.3v4.3h-3.3zM1545 2392.2h3.3v4.9h-3.3zM1548 2391.6h3.3v5.6h-3.3zM1551 2390.9h3.3v6.2h-3.3zM1554 2390.3h3.3v6.9h-3.3zM1557 2389.6h3.3v7.5h-3.3zM1560 2389h3.3v8.2h-3.3zM1563 2388.3h3.3v8.8h-3.3zM1566.1 2387.7h3.3v9.5h-3.3zM1569.1 2387h3.3v10.1h-3.3zM1572.1 2386.4h3.3v10.8h-3.3zM1575.1 2385.7h3.3v11.4h-3.3zM1578.1 2385.1h3.3v12.1h-3.3zM1581.1 2384.5h3.3v12.7h-3.3zM1584.1 2383.8h3.3v13.3h-3.3zM1587.1 2383.2h3.3v14h-3.3zM1590.1 2382.5h3.3v14.6h-3.3zM1593.1 2381.9h3.3v15.3h-3.3zM1596.1 2381.2h3.3v15.9h-3.3zM1599.1 2380.6h3.3v16.6h-3.3zM1602.1 2379.9h3.3v17.2h-3.3zM1605.1 2379.3h3.3v17.9h-3.3zM1608.1 2378.6h3.3v18.5h-3.3zM1611.2 2378h3.3v19.2h-3.3zM1614.2 2377.3h3.3v19.8h-3.3zM1617.2 2376.7h3.3v20.5h-3.3zM1620.2 2376h3.3v21.1h-3.3zM1623.2 2375.4h3.3v21.8h-3.3zM1626.2 2374.7h3.3v22.4h-3.3zM1629.2 2374.1h3.3v23.1h-3.3zM1632.2 2373.4h3.3v23.7h-3.3zM1635.2 2352.4h32.6v18.1h-32.6zM1667.5 2349.4h14.3v35.9h-14.3zM1681.5 2361.3h55.3v27h-55.3zM1736.5 2355.4h164.3v30h-164.3zM1900.5 2355.4h14.8v6.3h-14.8z"/>
<path fill="#e66b6f" d="M140 449.5h8.3v3h-8.3zM171 446.6h11.3v5.9h-11.3zM185 446.6h14.3v5.9h-14.3zM202 437.7h5.3v14.8h-5.3zM288 437.7h5.3v14.8h-5.3zM351 446.6h8.3v5.9h-8.3zM427 393.2h3.3v59.3h-3.3zM434 393.2h14v59.3h-14zM447.7 422.8h3.6v29.6h-3.6zM455 393.2h24.3v59.3h-24.3zM479 419.9h14.3v32.6h-14.3zM496 393.2h21.3v59.3h-21.3zM593 440.6h7.3v11.9h-7.3zM748 437.7h4.3v14.8h-4.3zM755 428.8h4.3v18.1h-4.3zM171 461.8h11.3v12.2h-11.3zM185 497.4h14.3v12.2h-14.3zM209 473.7h5.3v12.2h-5.3zM216 473.7h5.3v6.3h-5.3zM223 473.7h4.3v12.2h-4.3zM275 473.7h4.3v18.1h-4.3zM282 467.8h4.3v18.1h-4.3zM288 461.8h5.3v18.1h-5.3zM295 473.7h5.3v18.1h-5.3zM427 455.9h21v59.3h-21zM447.7 455.9h3.6v30h-3.6zM455 455.9h24.3v59.3h-24.3zM479 455.9h14.3v33h-14.3zM496 455.9h21.3v59.3h-21.3zM593 461.8h7.3v18.1h-7.3zM748 470.7h4.3v12.2h-4.3zM171 536.4h11.3v6.3h-11.3zM185 536.4h14.3v12.2h-14.3zM202 542.3h5.3v6.3h-5.3zM209 548.2h5.3v6.3h-5.3zM275 530.5h4.3v18.1h-4.3zM282 530.5h4.3v12.2h-4.3zM288 530.5h5.3v6.3h-5.3zM295 518.6h5.3v6.3h-5.3zM295 536.4h5.3v18.1h-5.3zM427 518.6h21v59.3h-21zM447.7 548.2h3.6v29.6h-3.6zM455 518.6h24.3v59.3h-24.3zM479 542.3h14.3v35.6h-14.3zM496 518.6h21.3v59.3h-21.3zM748 548.2h4.3v12.2h-4.3zM755 548.2h4.3v12.2h-4.3zM202 581.3h5.3v6.3h-5.3zM202 634.7h5.3v5.9h-5.3zM275 581.3h4.3v6.3h-4.3zM288 581.3h5.3v12.2h-5.3zM427 581.3h21v59.3h-21zM447.7 610.9h3.6v29.6h-3.6zM455 581.3h24.3v59.3h-24.3zM479 599.1h14.3v41.5h-14.3zM496 581.3h21.3v59.3h-21.3zM171 691.4h11.3v6.3h-11.3zM202 679.6h5.3v6.3h-5.3zM275 673.6h4.3v18.1h-4.3zM282 685.5h11.3v17.8h-11.3zM427 644h21v59.3h-21zM447.7 644h3.6v30h-3.6zM455 644h24.3v59.3h-24.3zM479 644h14.3v35.9h-14.3zM496 644h21.3v59.3h-21.3zM171 763h11.3v3h-11.3zM202 760.1h5.3v5.9h-5.3zM275 748.2h4.3v17.8h-4.3zM282 745.2h11.3v20.8h-11.3zM427 706.7h21v59.3h-21zM447.7 736.4h3.6v29.6h-3.6zM455 706.7h24.3v59.3h-24.3zM479 733.4h14.3v32.6h-14.3zM496 706.7h21.3v59.3h-21.3zM275 793.1h4.3v18.1h-4.3zM282 793.1h4.3v12.2h-4.3zM288 810.9h5.3v17.8h-5.3zM295 805h5.3v12.2h-5.3zM427 769.4h21v59.3h-21zM447.7 769.4h3.6v30h-3.6zM455 769.4h24.3v59.3h-24.3zM479 769.4h14.3v35.9h-14.3zM496 769.4h21.3v59.3h-21.3zM140 882.5h8.3v8.9h-8.3zM150 877.8h123.3v13.6h-123.3zM275 870.6h25.3v20.8h-25.3zM351 888.4h8.3v3h-8.3zM427 832.1h21v59.3h-21zM447.7 861.8h3.6v29.6h-3.6zM455 832.1h24.3v59.3h-24.3zM479 858.8h14.3v32.6h-14.3zM496 832.1h21.3v59.3h-21.3zM517 849.9h7.3v41.5h-7.3zM593 879.5h7.3v11.9h-7.3zM703 885.5h8.3v5.9h-8.3zM748 879.5h11.3v11.9h-11.3zM133.3 925h140v12.2h-140zM275 914.4h25.3v21.1h-25.3zM427 894.8h21v59.3h-21zM447.7 894.8h3.6v30h-3.6zM455 894.8h24.3v59.3h-24.3zM479 894.8h14.3v35.9h-14.3zM496 894.8h21.3v59.3h-21.3zM517 894.8h7.3v30h-7.3zM593 906.7h7.3v6.3h-7.3zM703 939.3h8.3v6.3h-8.3zM748 936.3h11.3v6.3h-11.3zM133.3 990.1h140v11h-140zM275 996h25.3v15.2h-25.3zM303 999h15.3v17.8h-15.3zM320 1007.9h4.3v8.9h-4.3zM327 975.3h21.3v41.5h-21.3zM351 1004.9h8.3v11.9h-8.3zM427 957.5h21v59.3h-21zM447.7 969.4h3.6v47.4h-3.6zM455 957.5h62.3v59.3h-62.3zM517 975.3h7.3v41.5h-7.3zM593 1013.8h7.3v3h-7.3zM703 993.1h8.3v6.3h-8.3zM714 990.1h31.3v3.3h-31.3zM133.3 1029.1h140v27h-140zM275 1023.2h25.3v41.9h-25.3zM303 1020.2h15.3v50.8h-15.3zM320 1020.2h4.3v53.7h-4.3zM327 1020.2h21.3v59.3h-21.3zM351 1020.2h8.3v47.8h-8.3zM361 1020.2h194.3v59.3h-194.3zM558 1023.2h32.3v50.8h-32.3zM593 1020.2h7.3v44.8h-7.3zM603 1035h98.3v15.2h-98.3zM703 1029.1h8.3v18.1h-8.3zM714 1038h31.3v12.2h-31.3zM748 1026.1h11.3v24.1h-11.3zM931 1026.1h11.3v6.3h-11.3zM1010 1026.1h19.3v3.3h-19.3zM1283 1029.1h4.3v6.3h-4.3zM1304 1029.1h18.3v3.3h-18.3zM1456 1041h94.3v9.2h-94.3zM1607 1055.8h5.3v3.3h-5.3zM1614 1041h5.3v12.2h-5.3zM1621 1035h184.3v9.2h-184.3zM1808 1052.8h8.3v6.3h-8.3zM1877 1055.8h35.3v3.3h-35.3zM133.3 1082.9h140v24.1h-140zM275 1082.9h25.3v33h-25.3zM303 1082.9h15.3v41.9h-15.3zM320 1082.9h4.3v50.8h-4.3zM327 1082.9h21.3v59.3h-21.3zM351 1082.9h8.3v47.8h-8.3zM361 1082.9h194.3v59.3h-194.3zM558 1082.9h32.3v53.7h-32.3zM593 1082.9h7.3v47.8h-7.3zM603 1082.9h98.3v7.5h-98.3zM703 1082.9h8.3v21.1h-8.3zM714 1082.9h31.3v12.2h-31.3zM748 1082.9h11.3v24.1h-11.3zM931 1082.9h11.3v6.3h-11.3zM1010 1082.9h19.3v6.3h-19.3zM1283 1082.9h4.3v6.3h-4.3zM1290 1082.9h11.3v3.3h-11.3zM1304 1082.9h18.3v6.3h-18.3zM1456 1082.9h94.3v12.2h-94.3zM1553 1082.9h41.3v6.3h-41.3zM1597 1082.9h8.3v9.2h-8.3zM1607 1082.9h198.3v9.2h-198.3zM1808 1082.9h8.3v9.2h-8.3zM1877 1082.9h4.3v9.2h-4.3zM1884 1082.9h4.3v9.2h-4.3zM1901 1082.9h11.3v6.3h-11.3zM133.3 1172.3h140v32.6h-140zM275 1166.4h25.3v38.5h-25.3zM303 1159.2h15.3v45.7h-15.3zM320 1151.5h4.3v53.4h-4.3zM327 1145.6h21.3v59.3h-21.3zM351 1157.5h8.3v47.4h-8.3zM361 1145.6h194.3v59.3h-194.3zM558 1151.5h32.3v53.4h-32.3zM593 1154.5h7.3v50.4h-7.3zM603 1187.1h98.3v17.8h-98.3zM703 1181.2h8.3v23.7h-8.3zM714 1187.1h31.3v17.8h-31.3zM748 1179.4h11.3v25.5h-11.3zM762 1201.9h519.3v3h-519.3zM1283 1199h18.3v5.9h-18.3zM1304 1199h18.3v5.9h-18.3zM1456 1190.1h94.3v14.8h-94.3zM1553 1194.2h52.3v10.7h-52.3zM1607 1196h209.3v8.9h-209.3zM1877 1199h35.3v5.9h-35.3zM133.3 1208.3h140v33h-140zM275 1208.3h25.3v38.9h-25.3zM303 1208.3h15.3v47.8h-15.3zM320 1208.3h4.3v53.7h-4.3zM327 1208.3h21.3v59.3h-21.3zM351 1208.3h8.3v50.8h-8.3zM361 1208.3h194.3v59.3h-194.3zM558 1208.3h32.3v54.9h-32.3zM593 1208.3h7.3v47.8h-7.3zM603 1208.3h98.3v24.1h-98.3zM703 1208.3h8.3v33h-8.3zM714 1208.3h31.3v24.1h-31.3zM748 1208.3h11.3v35.9h-11.3zM762 1208.3h519.3v17h-519.3zM1283 1208.3h18.3v18.1h-18.3zM1304 1208.3h18.3v12.2h-18.3zM1342 1208.3h4.3v3.3h-4.3zM1456 1208.3h94.3v24.1h-94.3zM1553 1208.3h52.3v21.1h-52.3zM1607 1208.3h209.3v21.1h-209.3zM1819 1208.3h55.3v15.2h-55.3zM1877 1208.3h35.3v19.3h-35.3zM136 1854.6h14.3v18.1h-14.3zM150 1860.6h15.3v6.3h-15.3zM165 1878.3h13.7v12.2h-13.7zM205.6 1842.8h33.2v59.2h-33.2zM263.7 1860.6h8.6v18.1h-8.6zM308.3 1872.4h112v21.1h-112zM420 1842.8h12.3v30h-12.3zM432 1878.3h46.3v18.1h-46.3zM720 1851.7h19.1v3.3h-19.1zM985.5 1899h28.4v3h-28.4zM136 1940.5h14.3v12.2h-14.3zM165 1940.5h13.7v12.2h-13.7zM205.6 1905h33.2v59.2h-33.2zM136 1967.2h14.3v18.1h-14.3zM150 1996.8h15.3v12.2h-15.3zM165 1985h13.7v30h-13.7zM178.4 1967.2h60.4v59.2h-60.4zM238.5 1973.2h25.5v53.3h-25.5zM263.7 1990.9h32.3v12.2h-32.3zM308.3 2008.7h170v6.3h-170zM526.6 1996.8h29.4v6.3h-29.4zM576 1985h34.3v6.3h-34.3zM610 2002.8h33.3v9.2h-33.3zM664 2014.6h12.3v11.8h-12.3zM720 2005.7h19.1v9.2h-19.1zM136 2059.1h14.3v18.1h-14.3zM150 2047.2h15.3v18.1h-15.3zM165 2041.3h13.7v35.9h-13.7zM178.4 2029.5h60.4v59.2h-60.4zM238.5 2035.4h25.5v53.3h-25.5zM263.7 2041.3h32.3v12.2h-32.3zM308.3 2062h112v12.2h-112zM420 2076.8h58.3v6.3h-58.3zM526.6 2041.3h29.4v18.1h-29.4zM576 2029.5h34.3v18.1h-34.3zM610 2029.5h33.3v18.1h-33.3zM664 2059.1h12.3v12.2h-12.3zM705.5 2082.7h14.8v5.9h-14.8zM720 2076.8h19.1v9.2h-19.1zM136 2103.5h14.3v18.1h-14.3zM150 2127.2h15.3v12.2h-15.3zM165 2109.4h13.7v30h-13.7zM178.4 2091.7h60.4v59.2h-60.4zM238.5 2091.7h25.5v53.6h-25.5zM263.7 2115.4h32.3v12.2h-32.3zM308.3 2145h112v5.9h-112zM420 2145h58.3v5.9h-58.3zM526.6 2133.1h29.4v12.2h-29.4zM576 2124.2h34.3v12.2h-34.3zM610 2142h33.3v8.9h-33.3zM705.5 2091.7h14.8v6.3h-14.8zM720 2094.6h19.1v9.2h-19.1zM842.9 2122.5h60.4v5.1h-60.4zM136 2153.9h14.3v24h-14.3zM150 2153.9h15.3v18.1h-15.3zM165 2153.9h13.7v30h-13.7zM178.4 2153.9h60.4v59.2h-60.4zM238.5 2153.9h25.5v47.7h-25.5zM263.7 2183.5h32.3v12.2h-32.3zM298.6 2171.7h10v18.1h-10zM308.3 2153.9h112v9.2h-112zM420 2153.9h58.3v3.3h-58.3zM526.6 2153.9h29.4v12.2h-29.4zM555.7 2153.9h20.6v18.1h-20.6zM576 2153.9h34.3v12.2h-34.3zM610 2165.7h33.3v9.2h-33.3zM664 2204.2h12.3v8.9h-12.3zM720 2153.9h19.1v9.2h-19.1zM136 2239.8h14.3v18.1h-14.3zM150 2239.8h15.3v12.2h-15.3zM165 2216.1h13.7v24h-13.7zM178.4 2216.1h60.4v59.2h-60.4zM238.5 2216.1h25.5v41.8h-25.5zM263.7 2245.7h32.3v12.2h-32.3zM298.6 2216.1h10v24h-10zM308.3 2216.1h112v9.2h-112zM420 2216.1h58.3v6.3h-58.3zM478 2257.6h8.3v17.8h-8.3zM526.6 2228h29.4v12.2h-29.4zM555.7 2228h20.6v12.2h-20.6zM576 2225h34.3v12.2h-34.3zM610 2222h33.3v12.2h-33.3zM643 2228h21.3v6.3h-21.3zM664 2216.1h12.3v12.2h-12.3zM720 2251.6h19.1v6.3h-19.1zM136 2293.1h34.3v12.2h-34.3zM170 2278.3h92.3v56.6h-92.3zM262 2313.9h34v12.2h-34zM298.6 2278.3h10v18.1h-10zM298.6 2319.8h10v17.8h-10zM308.3 2281.3h112v15.2h-112zM420 2284.3h55.8v12.2h-55.8zM526 2307.9h119.3v12.2h-119.3zM645 2310.9h31.3v9.2h-31.3zM720 2319.8h19.1v3.3h-19.1zM985.5 2319.8h28.4v9.2h-28.4zM1013.6 2294.3h56.2v8h-56.2zM1069.5 2278.3h34.1v3.3h-34.1zM1103.3 2278.3h21.7v24h-21.7zM1392 2299.1h22.5v21.1h-22.5zM1539 2281.6h3.3v3.3h-3.3zM1542 2282.2h3.3v3.4h-3.3zM1545 2282.7h3.3v3.4h-3.3zM1548 2283.3h3.3v3.4h-3.3zM1551 2283.9h3.3v3.5h-3.3zM1554 2284.5h3.3v3.5h-3.3zM1557 2285h3.3v3.6h-3.3zM1560 2285.6h3.3v3.6h-3.3zM1563 2286.2h3.3v3.6h-3.3zM1566.1 2286.7h3.3v3.7h-3.3zM1569.1 2287.3h3.3v3.7h-3.3zM1572.1 2287.9h3.3v3.7h-3.3zM1575.1 2288.5h3.3v3.8h-3.3zM1578.1 2289h3.3v3.8h-3.3zM1581.1 2289.6h3.3v3.8h-3.3zM1584.1 2290.2h3.3v3.9h-3.3zM1587.1 2290.8h3.3v3.9h-3.3zM1590.1 2291.3h3.3v4h-3.3zM1593.1 2291.9h3.3v4h-3.3zM1596.1 2292.5h3.3v4h-3.3zM1599.1 2293.1h3.3v4.1h-3.3zM1602.1 2293.6h3.3v4.1h-3.3zM1605.1 2294.2h3.3v4.1h-3.3zM1608.1 2294.8h3.3v4.2h-3.3zM1611.2 2295.4h3.3v4.2h-3.3zM1614.2 2295.9h3.3v4.3h-3.3zM1617.2 2296.5h3.3v4.3h-3.3zM1620.2 2297.1h3.3v4.3h-3.3zM1623.2 2297.6h3.3v4.4h-3.3zM1626.2 2298.2h3.3v4.4h-3.3zM1629.2 2298.8h3.3v4.4h-3.3zM1632.2 2299.4h3.3v4.5h-3.3zM1635.2 2316.8h32.6v3.3h-32.6zM1681.5 2302h55.3v3.3h-55.3zM1736.5 2313.9h164.3v3.3h-164.3zM136 2379h34.3v20.7h-34.3zM170 2340.6h70.3v59.2h-70.3zM240 2358.3h22.3v41.4h-22.3zM262 2385h34v14.8h-34zM298.6 2358.3h10v41.4h-10zM308.3 2387.9h112v6.3h-112zM420 2396.8h15.3v3h-15.3zM435 2393.8h40.8v3.3h-40.8zM475.5 2340.6h9.8v12.2h-9.8zM526 2340.6h119.3v6.3h-119.3zM526 2379h119.3v20.7h-119.3zM645 2387.9h31.3v11.8h-31.3zM720 2396.8h19.1v3h-19.1zM778 2398.6h65.2v1.2h-65.2zM842.9 2396.8h60.1v3h-60.1zM970.5 2393.8h15.3v5.9h-15.3zM985.5 2382h28.4v17.8h-28.4zM1013.6 2389.7h56.2v10.1h-56.2zM1069.5 2396.8h34.1v3h-34.1zM1103.3 2382h21.7v17.8h-21.7zM1124.7 2396.8h20.1v3h-20.1zM1392 2379h22.5v20.7h-22.5zM1635.2 2396.8h32.6v3h-32.6zM1736.5 2396.8h164.3v3h-164.3zM136 2414.6h126.3v44.8h-126.3zM262 2408.7h34v35.9h-34zM298.6 2402.8h10v35.9h-10zM420 2402.8h20.3v12.2h-20.3zM475.5 2402.8h9.8v12.2h-9.8zM526 2402.8h119.3v30h-119.3zM645 2402.8h31.3v24h-31.3zM705.5 2423.5h14.8v38.5h-14.8zM720 2426.5h19.1v30h-19.1zM738.8 2456.1h17.3v5.9h-17.3zM755.8 2414.6h87.4v41.8h-87.4zM842.9 2414.6h60.1v27h-60.1zM902.7 2453.1h32.6v6.3h-32.6zM970.5 2423.5h15.3v30h-15.3zM985.5 2411.7h28.4v32.9h-28.4zM1013.6 2402.8h56.2v21.1h-56.2zM1069.5 2402.8h34.1v3.3h-34.1zM1103.3 2402.8h21.7v24h-21.7zM1124.7 2402.8h75.6v3.3h-75.6zM1200 2402.8h25.1v6.3h-25.1zM1224.8 2402.8h7.3v18.1h-7.3zM1231.8 2408.7h48.5v24h-48.5zM1280 2402.8h28.8v32.9h-28.8zM1308.5 2430.6h39.3v14h-39.3zM1370 2408.7h22.3v27h-22.3zM1392 2408.7h22.5v30h-22.5zM1414.2 2405.7h15.1v32.9h-15.1zM1440 2402.8h75.3v9.2h-75.3zM1539 2402.8h3.3v3.5h-3.3zM1542 2402.8h3.3v4h-3.3zM1545 2402.8h3.3v4.5h-3.3zM1548 2402.8h3.3v4.9h-3.3zM1551 2402.8h3.3v5.4h-3.3zM1554 2402.8h3.3v5.9h-3.3zM1557 2402.8h3.3v6.3h-3.3zM1560 2402.8h3.3v6.8h-3.3zM1563 2402.8h3.3v7.2h-3.3zM1566.1 2402.8h3.3v7.7h-3.3zM1569.1 2402.8h3.3v8.2h-3.3zM1572.1 2402.8h3.3v8.6h-3.3zM1575.1 2402.8h3.3v9.1h-3.3zM1578.1 2402.8h3.3v9.6h-3.3zM1581.1 2402.8h3.3v10h-3.3zM1584.1 2402.8h3.3v10.5h-3.3zM1587.1 2402.8h3.3v10.9h-3.3zM1590.1 2402.8h3.3v11.4h-3.3zM1593.1 2402.8h3.3v11.9h-3.3zM1596.1 2402.8h3.3v12.3h-3.3zM1599.1 2402.8h3.3v12.8h-3.3zM1602.1 2402.8h3.3v13.3h-3.3zM1605.1 2402.8h3.3v13.7h-3.3zM1608.1 2402.8h3.3v14.2h-3.3zM1611.2 2402.8h3.3v14.6h-3.3zM1614.2 2402.8h3.3v15.1h-3.3zM1617.2 2402.8h3.3v15.6h-3.3zM1620.2 2402.8h3.3v16h-3.3zM1623.2 2402.8h3.3v16.5h-3.3zM1626.2 2402.8h3.3v17h-3.3zM1629.2 2402.8h3.3v17.4h-3.3zM1632.2 2402.8h3.3v17.9h-3.3zM1635.2 2404.6h32.6v12.2h-32.6zM1667.5 2404.6h14.3v30h-14.3zM1681.5 2405.7h55.3v21.1h-55.3zM1736.5 2405.7h164.3v21.1h-164.3zM1900.5 2402.8h14.8v12.2h-14.8zM136 2465h126.3v12.2h-126.3zM262 2465h34v15.2h-34zM298.6 2470.9h10v18.1h-10zM308.3 2465h167.5v47.7h-167.5zM475.5 2465h9.8v12.2h-9.8zM526 2465h150.3v18.1h-150.3zM705.5 2465h14.8v12.2h-14.8zM720 2465h19.1v12.2h-19.1zM755.8 2465h87.4v15.2h-87.4zM842.9 2465h60.1v18.1h-60.1zM902.7 2465h32.6v6.3h-32.6zM970.5 2465h15.3v12.2h-15.3zM985.5 2465h28.4v18.1h-28.4zM1013.6 2465h56.2v38.8h-56.2zM1069.5 2465h34.1v56.6h-34.1zM1103.3 2465h21.7v35.9h-21.7zM1124.7 2465h20.1v50.7h-20.1zM1144.5 2465h55.8v50.7h-55.8zM1200 2465h25.1v47.7h-25.1zM1224.8 2465h7.3v35.9h-7.3zM1231.8 2465h48.5v18.1h-48.5zM1280 2465h28.8v18.1h-28.8zM1308.5 2465h39.3v12.2h-39.3zM1370 2465h22.3v18.1h-22.3zM1392 2465h22.5v21.1h-22.5zM1414.2 2465h15.1v12.2h-15.1zM1440 2465h75.3v9.2h-75.3zM1539 2465h3.3v53.4h-3.3zM1542 2465h3.3v52.8h-3.3zM1545 2465h3.3v52.2h-3.3zM1548 2465h3.3v51.7h-3.3zM1551 2465h3.3v51.1h-3.3zM1554 2465h3.3v50.6h-3.3zM1557 2465h3.3v50h-3.3zM1560 2465h3.3v49.5h-3.3zM1563 2465h3.3v48.9h-3.3zM1566.1 2465h3.3v48.4h-3.3zM1569.1 2465h3.3v47.8h-3.3zM1572.1 2465h3.3v47.2h-3.3zM1575.1 2465h3.3v46.7h-3.3zM1578.1 2465h3.3v46.1h-3.3zM1581.1 2465h3.3v45.6h-3.3zM1584.1 2465h3.3v45h-3.3zM1587.1 2465h3.3v44.5h-3.3zM1590.1 2465h3.3v43.9h-3.3zM1593.1 2465h3.3v43.4h-3.3zM1596.1 2465h3.3v42.8h-3.3zM1599.1 2465h3.3v42.3h-3.3zM1602.1 2465h3.3v41.7h-3.3zM1605.1 2465h3.3v41.1h-3.3zM1608.1 2465h3.3v40.6h-3.3zM1611.2 2465h3.3v40h-3.3zM1614.2 2465h3.3v39.5h-3.3zM1617.2 2465h3.3v38.9h-3.3zM1620.2 2465h3.3v38.4h-3.3zM1623.2 2465h3.3v37.8h-3.3zM1626.2 2465h3.3v37.3h-3.3zM1629.2 2465h3.3v36.7h-3.3zM1632.2 2465h3.3v36.1h-3.3zM1635.2 2465h32.6v21.1h-32.6zM1667.5 2465h14.3v21.1h-14.3zM1681.5 2465h55.3v27h-55.3zM1736.5 2465h164.3v24h-164.3zM1900.5 2465h14.8v12.2h-14.8zM136 2545h126.3v41.4h-126.3zM262 2550.9h34v35.5h-34zM298.6 2527.2h177.2v59.2h-177.2zM475.5 2536.1h50.8v50.3h-50.8zM526 2550.9h150.3v35.5h-150.3zM705.5 2568.7h14.8v17.8h-14.8zM720 2568.7h19.1v17.8h-19.1zM738.8 2580.5h17.3v5.9h-17.3zM755.8 2562.7h87.4v23.7h-87.4zM842.9 2559.8h60.1v26.6h-60.1zM902.7 2574.6h32.6v11.8h-32.6zM970.5 2559.8h15.3v26.6h-15.3zM985.5 2559.8h28.4v26.6h-28.4zM1013.6 2533.1h56.2v53.3h-56.2zM1069.5 2527.2h34.1v59.2h-34.1zM1103.3 2542h21.7v44.4h-21.7zM1124.7 2527.2h107.4v59.2h-107.4zM1231.8 2553.9h77v32.6h-77zM1308.5 2556.8h39.3v29.6h-39.3zM1370 2550.9h22.3v35.5h-22.3zM1392 2547.9h22.5v38.5h-22.5zM1414.2 2556.8h15.1v29.6h-15.1zM1440 2530.2h99.3v56.2h-99.3zM1539 2528.5h3.3v57.9h-3.3zM1542 2528.8h3.3v57.6h-3.3zM1545 2529.1h3.3v57.4h-3.3zM1548 2529.3h3.3v57.1h-3.3zM1551 2529.6h3.3v56.9h-3.3zM1554 2529.8h3.3v56.6h-3.3zM1557 2530.1h3.3v56.3h-3.3zM1560 2530.3h3.3v56.1h-3.3zM1563 2530.6h3.3v55.8h-3.3zM1566.1 2530.9h3.3v55.6h-3.3zM1569.1 2531.1h3.3v55.3h-3.3zM1572.1 2531.4h3.3v55h-3.3zM1575.1 2531.6h3.3v54.8h-3.3zM1578.1 2531.9h3.3v54.5h-3.3zM1581.1 2532.2h3.3v54.3h-3.3zM1584.1 2532.4h3.3v54h-3.3zM1587.1 2532.7h3.3v53.7h-3.3zM1590.1 2532.9h3.3v53.5h-3.3zM1593.1 2533.2h3.3v53.2h-3.3zM1596.1 2533.5h3.3v53h-3.3zM1599.1 2533.7h3.3v52.7h-3.3zM1602.1 2534h3.3v52.4h-3.3zM1605.1 2534.2h3.3v52.2h-3.3zM1608.1 2534.5h3.3v51.9h-3.3zM1611.2 2534.7h3.3v51.7h-3.3zM1614.2 2535h3.3v51.4h-3.3zM1617.2 2535.3h3.3v51.2h-3.3zM1620.2 2535.5h3.3v50.9h-3.3zM1623.2 2535.8h3.3v50.6h-3.3zM1626.2 2536h3.3v50.4h-3.3zM1629.2 2536.3h3.3v50.1h-3.3zM1632.2 2536.6h3.3v49.9h-3.3zM1635.2 2536.1h32.6v50.3h-32.6zM1667.5 2550.9h14.3v35.5h-14.3zM1681.5 2545h219.3v41.4h-219.3zM1900.5 2533.1h14.8v53.3h-14.8zM136 2614.9h126.3v33.7h-126.3zM262 2610.2h34v38.5h-34zM298.6 2598.3h227.7v50.3h-227.7zM526 2610.2h150.3v38.5h-150.3zM676 2630.9h29.8v17.8h-29.8zM705.5 2619h33.6v29.6h-33.6zM738.8 2627.9h17.3v20.7h-17.3zM755.8 2617.9h87.4v30.8h-87.4zM842.9 2614.9h60.1v33.7h-60.1zM902.7 2636.8h32.6v11.8h-32.6zM970.5 2616.1h15.3v32.6h-15.3zM985.5 2611.9h28.4v36.7h-28.4zM1013.6 2601.3h56.2v47.4h-56.2zM1069.5 2590.6h162.6v58h-162.6zM1231.8 2608.4h116v40.3h-116zM1370 2610.2h44.5v38.5h-44.5zM1414.2 2619h15.1v29.6h-15.1zM1440 2595.4h99.3v53.3h-99.3zM1539 2592.5h3.3v56.1h-3.3zM1542 2592.7h3.3v55.9h-3.3zM1545 2593h3.3v55.7h-3.3zM1548 2593.2h3.3v55.5h-3.3zM1551 2593.4h3.3v55.2h-3.3zM1554 2593.6h3.3v55h-3.3zM1557 2593.8h3.3v54.8h-3.3zM1560 2594.1h3.3v54.6h-3.3zM1563 2594.3h3.3v54.4h-3.3zM1566.1 2594.5h3.3v54.1h-3.3zM1569.1 2594.7h3.3v53.9h-3.3zM1572.1 2595h3.3v53.7h-3.3zM1575.1 2595.2h3.3v53.5h-3.3zM1578.1 2595.4h3.3v53.2h-3.3zM1581.1 2595.6h3.3v53h-3.3zM1584.1 2595.8h3.3v52.8h-3.3zM1587.1 2596.1h3.3v52.6h-3.3zM1590.1 2596.3h3.3v52.4h-3.3zM1593.1 2596.5h3.3v52.1h-3.3zM1596.1 2596.7h3.3v51.9h-3.3zM1599.1 2597h3.3v51.7h-3.3zM1602.1 2597.2h3.3v51.5h-3.3zM1605.1 2597.4h3.3v51.2h-3.3zM1608.1 2597.6h3.3v51h-3.3zM1611.2 2597.8h3.3v50.8h-3.3zM1614.2 2598.1h3.3v50.6h-3.3zM1617.2 2598.3h3.3v50.4h-3.3zM1620.2 2598.5h3.3v50.1h-3.3zM1623.2 2598.7h3.3v49.9h-3.3zM1626.2 2598.9h3.3v49.7h-3.3zM1629.2 2599.2h3.3v49.5h-3.3zM1632.2 2599.4h3.3v49.2h-3.3zM1635.2 2596.5h32.6v52.1h-32.6zM1667.5 2613.1h14.3v35.5h-14.3zM1681.5 2601.3h219.3v47.4h-219.3zM1900.5 2598.3h14.8v50.3h-14.8zM136 2651.7h126.3v50.7h-126.3zM262 2651.7h34v41.8h-34zM298.6 2651.7h604.4v50.7h-604.4zM902.7 2651.7h32.6v18.1h-32.6zM935 2651.7h35.8v9.2h-35.8zM970.5 2651.7h261.6v51.9h-261.6zM1231.8 2651.7h116v35.9h-116zM1370 2651.7h59.3v35.9h-59.3zM1440 2651.7h99.3v53.6h-99.3zM1539 2651.7h3.3v56.6h-3.3zM1542 2651.7h3.3v56.5h-3.3zM1545 2651.7h3.3v56.5h-3.3zM1548 2651.7h3.3v56.4h-3.3zM1551 2651.7h3.3v56.3h-3.3zM1554 2651.7h3.3v56.3h-3.3zM1557 2651.7h3.3v56.2h-3.3zM1560 2651.7h3.3v56.2h-3.3zM1563 2651.7h3.3v56.1h-3.3zM1566.1 2651.7h3.3v56.1h-3.3zM1569.1 2651.7h3.3v56h-3.3zM1572.1 2651.7h3.3v56h-3.3zM1575.1 2651.7h3.3v55.9h-3.3zM1578.1 2651.7h3.3v55.8h-3.3zM1581.1 2651.7h3.3v55.8h-3.3zM1584.1 2651.7h3.3v55.7h-3.3zM1587.1 2651.7h3.3v55.7h-3.3zM1590.1 2651.7h3.3v55.6h-3.3zM1593.1 2651.7h3.3v55.6h-3.3zM1596.1 2651.7h3.3v55.5h-3.3zM1599.1 2651.7h3.3v55.5h-3.3zM1602.1 2651.7h3.3v55.4h-3.3zM1605.1 2651.7h3.3v55.3h-3.3zM1608.1 2651.7h3.3v55.3h-3.3zM1611.2 2651.7h3.3v55.2h-3.3zM1614.2 2651.7h3.3v55.2h-3.3zM1617.2 2651.7h3.3v55.1h-3.3zM1620.2 2651.7h3.3v55.1h-3.3zM1623.2 2651.7h3.3v55h-3.3zM1626.2 2651.7h3.3v55h-3.3zM1629.2 2651.7h3.3v54.9h-3.3zM1632.2 2651.7h3.3v54.8h-3.3zM1635.2 2651.7h32.6v53.6h-32.6zM1667.5 2651.7h233.3v44.8h-233.3zM1900.5 2651.7h14.8v47.7h-14.8z"/>
<path fill="#ee88f2" d="M140 425.8h8.3v12.2h-8.3zM202 425.8h5.3v6.3h-5.3zM320 443.6h4.3v8.9h-4.3zM351 437.7h8.3v9.2h-8.3zM603 393.2h98.3v59.3h-98.3zM734 393.2h4.3v59.3h-4.3zM741 393.2h4.3v59.3h-4.3zM762 428.8h11.3v6.3h-11.3zM776 416.9h4.3v6.3h-4.3zM917 428.8h4.3v3.3h-4.3zM931 402.1h11.3v12.2h-11.3zM1097 419.9h7.3v6.3h-7.3zM1117 396.2h5.3v6.3h-5.3zM1231 399.1h5.3v12.2h-5.3zM1283 419.9h4.3v6.3h-4.3zM1311 428.8h4.3v6.3h-4.3zM1504 422.9h12.3v18.1h-12.3zM1518 393.2h4.3v59.3h-4.3zM1532 422.9h18.3v18.1h-18.3zM1597 393.2h8.3v15.2h-8.3zM1614 422.8h5.3v9.2h-5.3zM1621 437.7h5.3v12.2h-5.3zM1628 425.8h5.3v18.1h-5.3zM1635 440.6h4.3v11.9h-4.3zM1711 422.8h5.3v24.1h-5.3zM1718 425.8h14.3v18.1h-14.3zM1735 422.8h12.3v18.1h-12.3zM1749 414h5.3v18.1h-5.3zM1756 419.9h5.3v18.1h-5.3zM1763 434.7h5.3v6.3h-5.3zM1770 416.9h4.3v18.1h-4.3zM1777 416.9h8.3v18.1h-8.3zM1794 425.8h4.3v6.3h-4.3zM133.3 473.7h5v12.2h-5zM140 485.5h8.3v12.2h-8.3zM171 455.9h11.3v6.3h-11.3zM185 485.5h14.3v12.2h-14.3zM209 455.9h5.3v18.1h-5.3zM223 497.4h4.3v12.2h-4.3zM237 461.8h4.3v12.2h-4.3zM275 455.9h4.3v18.1h-4.3zM282 461.8h4.3v6.3h-4.3zM295 455.9h5.3v18.1h-5.3zM320 455.9h4.3v12.2h-4.3zM351 458.9h8.3v12.2h-8.3zM593 455.9h7.3v6.3h-7.3zM603 455.9h98.3v59.3h-98.3zM703 467.8h4.3v24.1h-4.3zM718 455.9h27.3v59.3h-27.3zM748 461.8h4.3v9.2h-4.3zM762 491.5h11.3v3.3h-11.3zM776 470.7h4.3v6.3h-4.3zM803 485.5h4.3v3.3h-4.3zM810 455.9h4.3v3.3h-4.3zM917 485.5h4.3v6.3h-4.3zM931 455.9h11.3v24.1h-11.3zM976 455.9h7.3v6.3h-7.3zM1097 482.6h7.3v3.3h-7.3zM1107 467.8h8.3v6.3h-8.3zM1117 455.9h5.3v6.3h-5.3zM1231 455.9h5.3v6.3h-5.3zM1283 482.6h4.3v9.2h-4.3zM1504 482.6h12.3v18.1h-12.3zM1525 479.6h4.3v21.1h-4.3zM1532 491.5h4.3v18.1h-4.3zM1539 479.6h4.3v21.1h-4.3zM1546 482.6h4.3v18.1h-4.3zM1607 464.8h5.3v21.1h-5.3zM1614 473.7h5.3v15.2h-5.3zM1621 455.9h5.3v35.9h-5.3zM1628 473.7h5.3v35.9h-5.3zM1635 470.7h5.3v38.9h-5.3zM1642 473.7h4.3v30h-4.3zM1649 467.8h4.3v18.1h-4.3zM1656 473.7h4.3v30h-4.3zM1663 470.7h14.3v33h-14.3zM1680 473.7h19.3v35.9h-19.3zM1701 479.6h8.3v18.1h-8.3zM1718 476.7h14.3v12.2h-14.3zM1735 479.6h12.3v12.2h-12.3zM1749 473.7h12.3v24.1h-12.3zM1763 467.8h5.3v24.1h-5.3zM1770 473.7h4.3v21.1h-4.3zM1777 467.8h8.3v18.1h-8.3zM1794 473.7h4.3v18.1h-4.3zM1801 473.7h4.3v3.3h-4.3zM1808 473.7h8.3v18.1h-8.3zM1877 473.7h4.3v9.2h-4.3zM1884 455.9h4.3v18.1h-4.3zM1901 473.7h11.3v6.3h-11.3zM209 530.5h5.3v6.3h-5.3zM320 539.4h4.3v6.3h-4.3zM603 518.6h98.3v59.3h-98.3zM703 518.6h4.3v24.1h-4.3zM707 518.6h3.8v59.3h-3.8zM748 524.5h4.3v12.2h-4.3zM755 518.6h4.3v18.1h-4.3zM762 518.6h11.3v6.3h-11.3zM931 542.3h11.3v12.2h-11.3zM1456 518.6h46.3v59.3h-46.3zM1504 554.2h4.3v18.1h-4.3zM1511 557.1h4.3v18.1h-4.3zM1518 518.6h4.3v59.3h-4.3zM1546 557.1h4.3v15.2h-4.3zM1614 542.3h5.3v6.3h-5.3zM1777 542.3h8.3v6.3h-8.3zM202 605h5.3v24.1h-5.3zM209 584.3h5.3v6.3h-5.3zM237 593.2h7.3v6.3h-7.3zM275 628.7h4.3v6.3h-4.3zM351 581.3h8.3v6.3h-8.3zM593 622.8h7.3v17.8h-7.3zM603 581.3h98.3v59.3h-98.3zM703 581.3h8.3v59.3h-8.3zM714 605h31.3v18.1h-31.3zM748 581.3h4.3v59.3h-4.3zM755 628.7h4.3v11.9h-4.3zM776 605h4.3v6.3h-4.3zM824 581.3h7.3v18.1h-7.3zM835 581.3h7.3v6.3h-7.3zM845 581.3h4.3v6.3h-4.3zM917 581.3h4.3v12.2h-4.3zM931 605h11.3v12.2h-11.3zM976 616.9h7.3v6.3h-7.3zM986 599.1h11.3v3.3h-11.3zM1010 581.3h5.3v21.1h-5.3zM1017 581.3h12.3v18.1h-12.3zM1107 596.1h8.3v3.3h-8.3zM1117 634.7h5.3v5.9h-5.3zM1138 581.3h15.3v9.2h-15.3zM1155 587.2h8.3v6.3h-8.3zM1166 581.3h11.3v6.3h-11.3zM1283 581.3h4.3v12.2h-4.3zM1304 610.9h18.3v15.2h-18.3zM1504 610.9h12.3v18.1h-12.3zM1532 605h18.3v21.1h-18.3zM1607 613.9h5.3v18.1h-5.3zM1614 602.1h5.3v24.1h-5.3zM1621 593.2h5.3v30h-5.3zM1628 602.1h5.3v35.9h-5.3zM1635 608h11.3v12.2h-11.3zM1649 599.1h4.3v21.1h-4.3zM1656 596.1h4.3v24.1h-4.3zM1663 602.1h14.3v21.1h-14.3zM1680 599.1h4.3v18.1h-4.3zM1694 599.1h4.3v21.1h-4.3zM1701 605h8.3v18.1h-8.3zM1711 605h5.3v18.1h-5.3zM1718 622.8h29.3v12.2h-29.3zM1749 605h12.3v18.1h-12.3zM1763 599.1h5.3v24.1h-5.3zM1770 599.1h4.3v24.1h-4.3zM1777 590.2h8.3v18.1h-8.3zM1787 581.3h4.3v6.3h-4.3zM1794 599.1h4.3v18.1h-4.3zM1808 610.9h8.3v12.2h-8.3zM1877 616.9h4.3v12.2h-4.3zM1884 610.9h4.3v12.2h-4.3zM1901 619.8h11.3v9.2h-11.3zM133.3 661.8h5v12.2h-5zM140 685.5h8.3v17.8h-8.3zM171 697.4h11.3v5.9h-11.3zM202 685.5h5.3v17.8h-5.3zM209 682.5h5.3v12.2h-5.3zM216 685.5h5.3v17.8h-5.3zM237 691.4h7.3v11.9h-7.3zM275 691.4h4.3v11.9h-4.3zM295 685.5h5.3v12.2h-5.3zM320 679.6h4.3v23.7h-4.3zM351 685.5h8.3v17.8h-8.3zM593 691.4h7.3v11.9h-7.3zM603 644h98.3v59.3h-98.3zM714 679.6h31.3v18.1h-31.3zM748 691.4h4.3v11.9h-4.3zM776 685.5h4.3v6.3h-4.3zM803 700.3h4.3v3h-4.3zM810 697.4h4.3v5.9h-4.3zM824 691.4h7.3v11.9h-7.3zM835 697.4h7.3v5.9h-7.3zM931 682.5h11.3v12.2h-11.3zM976 697.4h7.3v5.9h-7.3zM1010 691.4h5.3v11.9h-5.3zM1017 688.5h12.3v12.2h-12.3zM1117 694.4h5.3v8.9h-5.3zM1138 697.4h15.3v5.9h-15.3zM1155 694.4h8.3v6.3h-8.3zM1166 697.4h11.3v5.9h-11.3zM1283 691.4h4.3v11.9h-4.3zM1304 691.4h4.3v6.3h-4.3zM1311 679.6h4.3v12.2h-4.3zM1318 682.5h4.3v6.3h-4.3zM1504 676.6h4.3v18.1h-4.3zM1525 644h4.3v59.3h-4.3zM1532 667.7h18.3v21.1h-18.3zM1607 673.6h5.3v18.1h-5.3zM1614 679.6h5.3v12.2h-5.3zM1621 673.6h5.3v18.1h-5.3zM1628 661.8h5.3v24.1h-5.3zM1635 644h5.3v18.1h-5.3zM1649 673.6h4.3v12.2h-4.3zM1656 664.8h4.3v21.1h-4.3zM1663 667.7h14.3v24.1h-14.3zM1680 667.7h4.3v18.1h-4.3zM1687 644h4.3v35.9h-4.3zM1694 664.8h15.3v21.1h-15.3zM1756 667.7h5.3v12.2h-5.3zM1763 670.7h5.3v18.1h-5.3zM1770 667.7h4.3v18.1h-4.3zM1777 670.7h8.3v12.2h-8.3zM1794 667.7h4.3v18.1h-4.3zM1884 697.4h4.3v5.9h-4.3zM1891 700.3h7.3v3h-7.3zM133.3 712.6h5v30h-5zM140 715.6h8.3v21.1h-8.3zM202 718.6h5.3v24.1h-5.3zM209 715.6h5.3v21.1h-5.3zM275 712.6h4.3v6.3h-4.3zM320 742.3h4.3v6.3h-4.3zM320 754.1h4.3v11.9h-4.3zM351 742.3h8.3v12.2h-8.3zM593 760.1h7.3v5.9h-7.3zM603 706.7h98.3v59.3h-98.3zM714 726.3h31.3v30h-31.3zM762 757.1h11.3v8.9h-11.3zM803 742.3h4.3v6.3h-4.3zM824 751.2h7.3v14.8h-7.3zM835 754.1h7.3v11.9h-7.3zM931 733.4h11.3v12.2h-11.3zM931 760.1h11.3v5.9h-11.3zM1010 751.2h5.3v12.2h-5.3zM1017 754.1h12.3v11.9h-12.3zM1117 736.4h5.3v6.3h-5.3zM1138 760.1h15.3v5.9h-15.3zM1155 754.1h8.3v11.9h-8.3zM1283 742.3h4.3v12.2h-4.3zM1304 739.3h18.3v12.2h-18.3zM1342 760.1h4.3v5.9h-4.3zM1456 706.7h46.3v59.3h-46.3zM1504 727.5h12.3v30h-12.3zM1518 706.7h4.3v59.3h-4.3zM1525 718.6h4.3v33h-4.3zM1532 724.5h11.3v41.5h-11.3zM1546 715.6h4.3v33h-4.3zM1607 736.4h5.3v29.6h-5.3zM1614 727.5h5.3v38.5h-5.3zM1621 724.5h88.3v33h-88.3zM1711 718.6h5.3v35.9h-5.3zM1718 727.5h29.3v33h-29.3zM1749 721.5h4.3v33h-4.3zM1756 724.5h12.3v30h-12.3zM1770 724.5h4.3v35.9h-4.3zM1777 730.4h8.3v27h-8.3zM1794 730.4h4.3v30h-4.3zM1801 736.4h4.3v18.1h-4.3zM1808 718.6h8.3v12.2h-8.3zM1877 727.5h4.3v18.1h-4.3zM133.3 799.1h5v29.6h-5zM140 805h8.3v23.7h-8.3zM171 813.9h11.3v14.8h-11.3zM202 810.9h5.3v17.8h-5.3zM209 807.9h5.3v20.8h-5.3zM275 810.9h4.3v17.8h-4.3zM282 816.8h4.3v11.9h-4.3zM295 822.8h5.3v5.9h-5.3zM320 805h4.3v6.3h-4.3zM351 810.9h8.3v17.8h-8.3zM593 816.8h7.3v11.9h-7.3zM603 769.4h98.3v59.3h-98.3zM714 809.1h31.3v19.6h-31.3zM755 810.9h4.3v17.8h-4.3zM762 816.8h11.3v11.9h-11.3zM776 807.9h4.3v20.8h-4.3zM783 822.8h18.3v5.9h-18.3zM803 816.8h11.3v11.9h-11.3zM824 810.9h7.3v17.8h-7.3zM835 813.9h7.3v14.8h-7.3zM886 819.8h5.3v8.9h-5.3zM917 819.8h4.3v8.9h-4.3zM931 810.9h11.3v17.8h-11.3zM945 822.8h21.3v5.9h-21.3zM976 819.8h21.3v8.9h-21.3zM1000 825.7h7.3v3h-7.3zM1010 813.9h5.3v14.8h-5.3zM1017 810.9h12.3v17.8h-12.3zM1097 819.8h7.3v8.9h-7.3zM1107 825.7h8.3v3h-8.3zM1117 813.9h18.3v14.8h-18.3zM1138 813.9h15.3v14.8h-15.3zM1155 810.9h8.3v17.8h-8.3zM1166 816.8h11.3v11.9h-11.3zM1283 813.9h4.3v14.8h-4.3zM1304 816.8h4.3v11.9h-4.3zM1311 805h4.3v23.7h-4.3zM1318 816.8h4.3v11.9h-4.3zM1456 769.4h46.3v59.3h-46.3zM1504 793.1h12.3v35.6h-12.3zM1518 769.4h4.3v59.3h-4.3zM1525 797.9h25.3v30.8h-25.3zM1607 799.1h5.3v29.6h-5.3zM1614 805h5.3v23.7h-5.3zM1621 793.1h88.3v35.6h-88.3zM1711 799.1h36.3v29.6h-36.3zM1749 796.1h19.3v32.6h-19.3zM1770 799.1h4.3v29.6h-4.3zM1777 799.1h8.3v29.6h-8.3zM1787 822.8h4.3v5.9h-4.3zM1794 805h4.3v23.7h-4.3zM1801 822.8h4.3v5.9h-4.3zM1808 822.8h8.3v5.9h-8.3zM133.3 832.1h5v53.7h-5zM140 832.1h8.3v41.9h-8.3zM150 832.1h123.3v37.1h-123.3zM275 832.1h25.3v24.1h-25.3zM320 844h4.3v6.3h-4.3zM351 835.1h8.3v21.1h-8.3zM593 832.1h7.3v18.1h-7.3zM603 832.1h98.3v59.3h-98.3zM703 832.1h8.3v44.8h-8.3zM714 832.1h31.3v38.9h-31.3zM748 832.1h11.3v33h-11.3zM762 832.1h11.3v15.2h-11.3zM776 832.1h4.3v24.1h-4.3zM783 832.1h31.3v6.3h-31.3zM817 832.1h4.3v3.3h-4.3zM824 832.1h18.3v18.1h-18.3zM845 832.1h4.3v12.2h-4.3zM886 832.1h5.3v3.3h-5.3zM893 832.1h22.3v12.2h-22.3zM917 832.1h4.3v12.2h-4.3zM931 832.1h11.3v24.1h-11.3zM969 832.1h4.3v15.2h-4.3zM976 832.1h7.3v12.2h-7.3zM986 832.1h11.3v9.2h-11.3zM1000 832.1h7.3v3.3h-7.3zM1010 832.1h19.3v18.1h-19.3zM1097 832.1h7.3v6.3h-7.3zM1124 832.1h11.3v9.2h-11.3zM1138 832.1h15.3v12.2h-15.3zM1155 832.1h8.3v15.2h-8.3zM1166 832.1h11.3v12.2h-11.3zM1283 832.1h4.3v18.1h-4.3zM1304 855.8h18.3v27h-18.3zM1342 873.6h4.3v9.2h-4.3zM1456 832.1h46.3v59.3h-46.3zM1504 832.1h4.3v44.8h-4.3zM1511 832.1h4.3v53.7h-4.3zM1518 832.1h4.3v59.3h-4.3zM1525 832.1h4.3v47.8h-4.3zM1532 832.1h18.3v43.6h-18.3zM1607 832.1h5.3v30h-5.3zM1614 832.1h5.3v33h-5.3zM1621 832.1h88.3v38.9h-88.3zM1711 841h36.3v38.9h-36.3zM1749 832.1h4.3v35.9h-4.3zM1756 832.1h5.3v33h-5.3zM1763 832.1h5.3v44.8h-5.3zM1770 841h4.3v30h-4.3zM1777 838h8.3v24.1h-8.3zM1787 832.1h4.3v15.2h-4.3zM1794 832.1h4.3v24.1h-4.3zM1801 832.1h4.3v15.2h-4.3zM1808 832.1h8.3v27h-8.3zM1877 832.1h4.3v27h-4.3zM1884 832.1h4.3v18.1h-4.3zM1891 832.1h7.3v12.2h-7.3zM1901 832.1h11.3v18.1h-11.3zM136 1842.8h14.3v12.2h-14.3zM165 1842.8h13.7v18.1h-13.7zM178.4 1842.8h2.9v59.2h-2.9zM238.5 1842.8h25.5v24h-25.5zM263.7 1842.8h8.6v6.3h-8.6zM676 1842.8h13.3v59.2h-13.3zM689 1851.7h16.8v50.3h-16.8zM705.5 1842.8h14.8v3.3h-14.8zM705.5 1887.2h14.8v14.8h-14.8zM720 1890.2h19.1v11.8h-19.1zM739.7 1842.8h16.4v59.2h-16.4zM778 1900.2h3.3v1.8h-3.3zM781 1900h3.3v2h-3.3zM784 1899.9h3.3v2.1h-3.3zM787 1899.8h3.3v2.2h-3.3zM790 1899.6h3.3v2.4h-3.3zM793.1 1899.5h3.3v2.5h-3.3zM796.1 1899.4h3.3v2.6h-3.3zM799.1 1899.2h3.3v2.8h-3.3zM802.1 1899.1h3.3v2.9h-3.3zM975.7 1884.2h10.1v6.3h-10.1zM136 1928.7h14.3v12.2h-14.3zM150 1946.5h15.3v6.3h-15.3zM165 1905h13.7v12.2h-13.7zM238.5 1905h25.5v24h-25.5zM263.7 1949.4h32.3v3.3h-32.3zM676 1905h13.3v59.2h-13.3zM689 1913.9h16.8v50.3h-16.8zM705.5 1946.5h14.8v17.8h-14.8zM720 1943.5h19.1v15.2h-19.1zM739.7 1905h16.4v59.2h-16.4zM778 1963.9h3.3v0.3h-3.3zM781 1963.2h3.3v1h-3.3zM784 1962.6h3.3v1.6h-3.3zM787 1961.9h3.3v2.3h-3.3zM790 1961.3h3.3v3h-3.3zM793.1 1960.6h3.3v3.6h-3.3zM796.1 1959.9h3.3v4.3h-3.3zM799.1 1959.3h3.3v4.9h-3.3zM802.1 1958.6h3.3v5.6h-3.3zM805.1 1955.1h3.2v3.4h-3.2zM808 1954.7h3.2v3.7h-3.2zM810.9 1954.2h3.2v3.9h-3.2zM813.8 1953.7h3.2v4.1h-3.2zM816.7 1953.3h3.2v4.3h-3.2zM819.6 1952.8h3.2v4.6h-3.2zM822.5 1952.4h3.2v4.8h-3.2zM825.5 1951.9h3.2v5h-3.2zM828.4 1951.5h3.2v5.2h-3.2zM831.3 1951h3.2v5.5h-3.2zM834.2 1950.6h3.2v5.7h-3.2zM837.1 1950.1h3.2v5.9h-3.2zM840 1949.6h3.2v6.2h-3.2zM975.7 1934.6h10.1v12.2h-10.1zM985.5 1952.4h28.4v11.8h-28.4zM136 2008.7h14.3v6.3h-14.3zM150 2020.5h15.3v5.9h-15.3zM165 2014.6h13.7v11.8h-13.7zM676 1967.2h13.3v59.2h-13.3zM689 1979.1h16.8v47.4h-16.8zM705.5 2017.6h14.8v8.9h-14.8zM720 2017.6h19.1v8.9h-19.1zM739.7 1967.2h16.4v59.2h-16.4zM136 2029.5h14.3v12.2h-14.3zM150 2076.8h15.3v11.8h-15.3zM165 2029.5h13.7v12.2h-13.7zM676 2029.5h13.3v59.2h-13.3zM689 2029.5h16.8v47.7h-16.8zM705.5 2029.5h14.8v12.2h-14.8zM720 2029.5h19.1v9.2h-19.1zM739.7 2029.5h16.4v59.2h-16.4zM136 2139h14.3v11.8h-14.3zM150 2139h15.3v11.8h-15.3zM165 2139h13.7v11.8h-13.7zM676 2091.7h13.3v59.2h-13.3zM689 2100.6h16.8v50.3h-16.8zM705.5 2133.1h14.8v17.8h-14.8zM720 2139h19.1v11.8h-19.1zM739.7 2091.7h16.4v59.2h-16.4zM136 2195.3h14.3v12.2h-14.3zM150 2189.4h15.3v12.2h-15.3zM165 2183.5h13.7v18.1h-13.7zM676 2153.9h13.3v59.2h-13.3zM689 2162.8h16.8v50.3h-16.8zM720 2198.3h19.1v14.8h-19.1zM739.7 2153.9h16.4v59.2h-16.4zM778 2211.7h3.3v1.4h-3.3zM781 2211.1h3.3v2h-3.3zM784 2210.6h3.3v2.5h-3.3zM787 2210.1h3.3v3h-3.3zM790 2209.5h3.3v3.6h-3.3zM793.1 2209h3.3v4.1h-3.3zM796.1 2208.5h3.3v4.6h-3.3zM799.1 2208h3.3v5.1h-3.3zM802.1 2207.4h3.3v5.7h-3.3zM805.1 2211.3h38.1v1.8h-38.1zM842.9 2210.1h60.4v3h-60.4zM985.5 2207.2h28.4v5.9h-28.4zM1048.6 2210.1h21.2v3h-21.2zM136 2257.6h14.3v12.2h-14.3zM165 2239.8h13.7v18.1h-13.7zM676 2216.1h13.3v59.2h-13.3zM689 2225h16.8v50.3h-16.8zM705.5 2257.6h14.8v17.8h-14.8zM720 2257.6h19.1v15.2h-19.1zM739.7 2216.1h16.4v59.2h-16.4zM755.8 2275.1h3.5v0.2h-3.5zM759 2274.7h3.5v0.6h-3.5zM762.1 2274.3h3.5v1.1h-3.5zM765.3 2273.8h3.5v1.5h-3.5zM768.5 2273.4h3.5v1.9h-3.5zM771.7 2273h3.5v2.3h-3.5zM774.8 2272.6h3.5v2.7h-3.5zM778 2271.9h3.3v2.4h-3.3zM781 2271.1h3.3v2.8h-3.3zM784 2270.2h3.3v3.3h-3.3zM787 2269.4h3.3v3.7h-3.3zM790 2268.5h3.3v4.2h-3.3zM793.1 2267.7h3.3v4.7h-3.3zM796.1 2266.8h3.3v5.1h-3.3zM799.1 2265.9h3.3v5.6h-3.3zM802.1 2265.1h3.3v6h-3.3zM805.1 2266.1h3.2v3.4h-3.2zM808 2265.3h3.2v3.4h-3.2zM810.9 2264.5h3.2v3.5h-3.2zM813.8 2263.7h3.2v3.6h-3.2zM816.7 2263h3.2v3.7h-3.2zM819.6 2262.2h3.2v3.8h-3.2zM822.5 2261.4h3.2v3.9h-3.2zM825.5 2260.6h3.2v4h-3.2zM828.4 2259.9h3.2v4.1h-3.2zM831.3 2259.1h3.2v4.2h-3.2zM834.2 2258.3h3.2v4.3h-3.2zM837.1 2257.5h3.2v4.4h-3.2zM840 2256.8h3.2v4.4h-3.2zM842.9 2252.7h3.3v3.3h-3.3zM845.9 2252.4h3.3v3.3h-3.3zM848.9 2252.1h3.3v3.3h-3.3zM851.9 2251.8h3.3v3.3h-3.3zM854.9 2251.5h3.3v3.3h-3.3zM857.9 2251.2h3.3v3.3h-3.3zM860.9 2250.9h3.3v3.3h-3.3zM863.9 2250.6h3.3v3.3h-3.3zM866.9 2250.3h3.3v3.3h-3.3zM869.9 2250h3.3v3.3h-3.3zM873 2249.7h3.3v3.3h-3.3zM876 2249.4h3.3v3.3h-3.3zM879 2249.1h3.3v3.3h-3.3zM882 2248.8h3.3v3.3h-3.3zM885 2248.5h3.3v3.3h-3.3zM888 2248.2h3.3v3.3h-3.3zM891 2247.9h3.3v3.3h-3.3zM894 2247.6h3.3v3.3h-3.3zM897 2247.3h3.3v3.3h-3.3zM900 2247.1h3.3v3.3h-3.3zM975.7 2233.9h10.1v12.2h-10.1zM975.7 2266.4h10.1v8.9h-10.1zM985.5 2242h3.4v3.3h-3.4zM988.6 2240.5h3.4v3.3h-3.4zM991.7 2239h3.4v3.4h-3.4zM994.9 2237.4h3.4v3.4h-3.4zM998 2235.9h3.4v3.4h-3.4zM1001.1 2234.3h3.4v3.4h-3.4zM1004.2 2232.7h3.4v3.4h-3.4zM1007.4 2231h3.4v3.4h-3.4zM1010.5 2229.4h3.4v3.5h-3.4zM1103.3 2269.4h21.7v3.3h-21.7zM136 2310.9h34.3v12.2h-34.3zM136 2331.6h34.3v5.9h-34.3zM170 2334.6h92.3v3h-92.3zM676 2278.3h13.3v59.2h-13.3zM689 2287.2h16.8v50.3h-16.8zM705.5 2316.8h14.8v20.7h-14.8zM720 2322.7h19.1v14.8h-19.1zM738.8 2278.3h17.3v59.2h-17.3zM755.8 2334.6h22.5v3h-22.5zM778 2336.2h3.3v1.3h-3.3zM781 2335.9h3.3v1.7h-3.3zM784 2335.5h3.3v2h-3.3zM787 2335.2h3.3v2.3h-3.3zM790 2334.9h3.3v2.7h-3.3zM793.1 2334.5h3.3v3h-3.3zM796.1 2334.2h3.3v3.3h-3.3zM799.1 2333.9h3.3v3.7h-3.3zM802.1 2333.6h3.3v4h-3.3zM805.1 2335.1h3.2v2.5h-3.2zM808 2334.9h3.2v2.6h-3.2zM810.9 2334.7h3.2v2.8h-3.2zM813.8 2334.5h3.2v3h-3.2zM816.7 2334.4h3.2v3.2h-3.2zM819.6 2334.2h3.2v3.4h-3.2zM822.5 2334h3.2v3.6h-3.2zM825.5 2333.8h3.2v3.7h-3.2zM828.4 2333.6h3.2v3.9h-3.2zM831.3 2333.4h3.2v4.1h-3.2zM834.2 2333.3h3.2v4.3h-3.2zM837.1 2333.1h3.2v4.5h-3.2zM840 2332.9h3.2v4.6h-3.2zM842.9 2332.2h60.1v5.3h-60.1zM970.5 2313.9h15.3v23.7h-15.3zM136 2367.2h34.3v12.2h-34.3zM262 2379h34v6.3h-34zM676 2340.6h13.3v59.2h-13.3zM689 2349.4h16.8v50.3h-16.8zM705.5 2373.1h14.8v26.6h-14.8zM720 2373.1h19.1v24h-19.1zM738.8 2340.6h17.3v59.2h-17.3zM755.8 2387.9h22.5v11.8h-22.5zM778 2386.7h65.2v12.2h-65.2zM842.9 2385h60.1v9.2h-60.1zM970.5 2373.1h15.3v21.1h-15.3zM985.5 2376.1h28.4v3.3h-28.4zM136 2402.8h126.3v12.2h-126.3zM676 2402.8h29.8v59.2h-29.8zM705.5 2402.8h14.8v21.1h-14.8zM720 2402.8h19.1v24h-19.1zM738.8 2402.8h17.3v53.6h-17.3zM755.8 2402.8h87.4v9.2h-87.4zM842.9 2402.8h60.1v6.3h-60.1zM970.5 2402.8h15.3v21.1h-15.3zM985.5 2402.8h28.4v6.3h-28.4zM1392 2402.8h22.5v6.3h-22.5zM136 2497.6h126.3v26.6h-126.3zM262 2503.5h34v12.2h-34zM298.6 2506.4h10v17.8h-10zM308.3 2521.2h167.5v3h-167.5zM526 2512.4h150.3v9.2h-150.3zM676 2465h29.8v59.2h-29.8zM705.5 2488.7h14.8v35.5h-14.8zM720 2491.6h19.1v27h-19.1zM738.8 2465h17.3v59.2h-17.3zM755.8 2493.4h87.4v27h-87.4zM842.9 2502.3h60.1v16.3h-60.1zM970.5 2494.6h15.3v24h-15.3zM985.5 2494.6h28.4v21.1h-28.4zM1013.6 2515.3h56.2v8.9h-56.2zM1103.3 2512.4h21.7v11.8h-21.7zM1124.7 2521.2h20.1v3h-20.1zM1224.8 2518.3h7.3v5.9h-7.3zM1231.8 2508.2h48.5v9.2h-48.5zM1280 2509.4h28.8v6.3h-28.8zM1308.5 2496.4h39.3v3.3h-39.3zM1370 2509.4h22.3v6.3h-22.3zM1392 2506.4h22.5v12.2h-22.5zM1539 2522.4h3.3v1.8h-3.3zM1542 2522.3h3.3v1.9h-3.3zM1545 2522.2h3.3v2h-3.3zM1548 2522.2h3.3v2h-3.3zM1551 2522.1h3.3v2.1h-3.3zM1554 2522h3.3v2.2h-3.3zM1557 2521.9h3.3v2.3h-3.3zM1560 2521.9h3.3v2.3h-3.3zM1563 2521.8h3.3v2.4h-3.3zM1566.1 2521.7h3.3v2.5h-3.3zM1569.1 2521.6h3.3v2.6h-3.3zM1572.1 2521.6h3.3v2.6h-3.3zM1575.1 2521.5h3.3v2.7h-3.3zM1578.1 2521.4h3.3v2.8h-3.3zM1581.1 2521.4h3.3v2.8h-3.3zM1584.1 2521.3h3.3v2.9h-3.3zM1587.1 2521.2h3.3v3h-3.3zM1590.1 2521.1h3.3v3.1h-3.3zM1593.1 2521.1h3.3v3.1h-3.3zM1596.1 2521h3.3v3.2h-3.3zM1599.1 2520.9h3.3v3.3h-3.3zM1602.1 2520.8h3.3v3.4h-3.3zM1605.1 2520.8h3.3v3.4h-3.3zM1608.1 2520.7h3.3v3.5h-3.3zM1611.2 2520.6h3.3v3.6h-3.3zM1614.2 2520.5h3.3v3.7h-3.3zM1617.2 2520.5h3.3v3.7h-3.3zM1620.2 2520.4h3.3v3.8h-3.3zM1623.2 2520.3h3.3v3.9h-3.3zM1626.2 2520.2h3.3v4h-3.3zM1629.2 2520.2h3.3v4h-3.3zM1632.2 2520.1h3.3v4.1h-3.3zM1635.2 2518.3h32.6v3.3h-32.6zM1681.5 2515.3h55.3v6.3h-55.3zM1736.5 2513.5h164.3v6.3h-164.3zM136 2527.2h126.3v18.1h-126.3zM262 2527.2h34v12.2h-34zM475.5 2527.2h50.8v9.2h-50.8zM526 2527.2h150.3v15.2h-150.3zM676 2527.2h29.8v59.2h-29.8zM705.5 2527.2h14.8v35.9h-14.8zM720 2527.2h19.1v32.9h-19.1zM738.8 2527.2h17.3v53.6h-17.3zM755.8 2527.2h87.4v27h-87.4zM842.9 2527.2h60.1v18.1h-60.1zM970.5 2527.2h15.3v24h-15.3zM985.5 2527.2h28.4v21.1h-28.4zM1013.6 2527.2h56.2v6.3h-56.2zM1103.3 2527.2h21.7v15.2h-21.7zM1231.8 2527.2h77v11h-77zM1308.5 2527.2h39.3v6.3h-39.3zM1370 2527.2h22.3v9.2h-22.3zM1392 2527.2h22.5v18.1h-22.5zM1414.2 2527.2h15.1v6.3h-15.1zM1440 2527.2h99.3v3.3h-99.3zM1539 2527.2h3.3v1.6h-3.3zM1542 2527.2h3.3v1.7h-3.3zM1545 2527.2h3.3v1.8h-3.3zM1548 2527.2h3.3v1.9h-3.3zM1551 2527.2h3.3v2h-3.3zM1554 2527.2h3.3v2.1h-3.3zM1557 2527.2h3.3v2.3h-3.3zM1560 2527.2h3.3v2.4h-3.3zM1563 2527.2h3.3v2.5h-3.3zM1566.1 2527.2h3.3v2.6h-3.3zM1569.1 2527.2h3.3v2.7h-3.3zM1572.1 2527.2h3.3v2.8h-3.3zM1575.1 2527.2h3.3v2.9h-3.3zM1578.1 2527.2h3.3v3h-3.3zM1581.1 2527.2h3.3v3.1h-3.3zM1584.1 2527.2h3.3v3.3h-3.3zM1587.1 2527.2h3.3v3.4h-3.3zM1590.1 2527.2h3.3v3.5h-3.3zM1593.1 2527.2h3.3v3.6h-3.3zM1596.1 2527.2h3.3v3.7h-3.3zM1599.1 2527.2h3.3v3.8h-3.3zM1602.1 2527.2h3.3v3.9h-3.3zM1605.1 2527.2h3.3v4h-3.3zM1608.1 2527.2h3.3v4.1h-3.3zM1611.2 2527.2h3.3v4.3h-3.3zM1614.2 2527.2h3.3v4.4h-3.3zM1617.2 2527.2h3.3v4.5h-3.3zM1620.2 2527.2h3.3v4.6h-3.3zM1623.2 2527.2h3.3v4.7h-3.3zM1626.2 2527.2h3.3v4.8h-3.3zM1629.2 2527.2h3.3v4.9h-3.3zM1632.2 2527.2h3.3v5h-3.3zM1635.2 2527.2h32.6v9.2h-32.6zM1667.5 2527.2h14.3v9.2h-14.3zM1681.5 2527.2h219.3v9.2h-219.3zM1900.5 2527.2h14.8v6.3h-14.8z"/>
<path fill="#8f6420" d="M762 434.7h11.3v17.8h-11.3zM776 422.8h4.3v12.2h-4.3zM803 408h4.3v35.9h-4.3zM852 414h7.3v38.5h-7.3zM917 431.7h4.3v20.8h-4.3zM924 416.9h4.3v35.6h-4.3zM931 414h11.3v12.2h-11.3zM945 411h5.3v41.5h-5.3zM950 393.2h5.3v59.3h-5.3zM955 393.2h5.3v47.8h-5.3zM960 393.2h6.3v59.3h-6.3zM992 434.7h5.3v17.8h-5.3zM1031 393.2h63.3v59.3h-63.3zM1097 425.8h7.3v26.7h-7.3zM1107 411h8.3v30h-8.3zM1117 408h5.3v18.1h-5.3zM1124 440.6h11.3v11.9h-11.3zM1138 446.6h15.3v5.9h-15.3zM1180 393.2h21.3v59.3h-21.3zM1204 405.1h11.3v30h-11.3zM1218 411h11.3v24.1h-11.3zM1231 411h5.3v18.1h-5.3zM1238 405.1h12.3v24.1h-12.3zM1252 411h8.3v24.1h-8.3zM1262 393.2h12.3v59.3h-12.3zM1283 425.8h4.3v12.2h-4.3zM1297 393.2h4.3v41.9h-4.3zM1504 449.5h12.3v3h-12.3zM1621 449.5h5.3v3h-5.3zM1628 443.6h5.3v8.9h-5.3zM1749 434.7h5.3v17.8h-5.3zM1756 437.7h5.3v14.8h-5.3zM1777 440.6h8.3v11.9h-8.3zM1787 411h4.3v41.5h-4.3zM1801 408h4.3v30h-4.3zM1891 440.6h7.3v11.9h-7.3zM1901 434.7h11.3v9.2h-11.3zM762 494.4h11.3v20.8h-11.3zM776 488.5h4.3v26.7h-4.3zM789 497.4h12.3v17.8h-12.3zM803 497.4h4.3v17.8h-4.3zM810 495.6h4.3v19.6h-4.3zM852 473.7h7.3v41.5h-7.3zM917 491.5h4.3v23.7h-4.3zM924 476.7h4.3v38.5h-4.3zM931 491.5h11.3v23.7h-11.3zM945 464.8h21.3v50.4h-21.3zM976 497.4h7.3v17.8h-7.3zM986 476.7h11.3v38.5h-11.3zM1031 455.9h21.3v59.3h-21.3zM1055 476.7h4.3v38.5h-4.3zM1062 455.9h18.3v59.3h-18.3zM1083 479.6h11.3v35.6h-11.3zM1097 485.5h7.3v29.6h-7.3zM1107 485.6h8.3v29.6h-8.3zM1117 488.5h5.3v26.7h-5.3zM1124 503.3h11.3v11.9h-11.3zM1180 455.9h21.3v59.3h-21.3zM1204 485.5h11.3v29.6h-11.3zM1218 491.5h11.3v23.7h-11.3zM1231 479.6h5.3v35.6h-5.3zM1238 479.6h12.3v35.6h-12.3zM1252 473.7h8.3v41.5h-8.3zM1262 455.9h19.3v59.3h-19.3zM1283 497.4h4.3v12.2h-4.3zM1290 491.5h4.3v23.7h-4.3zM1297 479.6h4.3v35.6h-4.3zM1701 497.4h8.3v12.2h-8.3zM1735 503.3h12.3v11.9h-12.3zM1749 503.3h12.3v11.9h-12.3zM1763 491.5h5.3v23.7h-5.3zM1770 500.4h4.3v14.8h-4.3zM1777 497.4h8.3v12.2h-8.3zM1787 455.9h4.3v59.3h-4.3zM1794 494.4h4.3v20.8h-4.3zM1801 476.7h4.3v38.5h-4.3zM762 563.1h11.3v14.8h-11.3zM776 569h4.3v8.9h-4.3zM803 551.2h4.3v26.7h-4.3zM810 569h4.3v8.9h-4.3zM852 542.3h7.3v35.6h-7.3zM917 560.1h4.3v17.8h-4.3zM924 542.3h4.3v35.6h-4.3zM931 572h11.3v5.9h-11.3zM945 518.6h21.3v59.3h-21.3zM986 548.2h11.3v29.6h-11.3zM1031 518.6h63.3v59.3h-63.3zM1097 548.2h7.3v29.6h-7.3zM1107 548.2h8.3v29.6h-8.3zM1117 560.1h5.3v17.8h-5.3zM1124 566h29.3v11.9h-29.3zM1180 518.6h21.3v59.3h-21.3zM1204 539.4h11.3v38.5h-11.3zM1218 560.1h11.3v17.8h-11.3zM1231 545.3h5.3v32.6h-5.3zM1238 545.3h12.3v32.6h-12.3zM1252 548.2h8.3v29.6h-8.3zM1262 518.6h5.3v59.3h-5.3zM1269 554.2h12.3v23.7h-12.3zM1283 566h4.3v11.9h-4.3zM1297 548.2h4.3v29.6h-4.3zM1777 566h8.3v11.9h-8.3zM1787 518.6h4.3v59.3h-4.3zM1794 560.1h4.3v17.8h-4.3zM1801 518.6h4.3v59.3h-4.3zM1808 572h8.3v5.9h-8.3zM714 628.7h31.3v6.3h-31.3zM755 616.9h4.3v12.2h-4.3zM762 590.2h11.3v50.4h-11.3zM776 610.9h4.3v29.6h-4.3zM783 581.3h18.3v59.3h-18.3zM803 605h4.3v35.6h-4.3zM810 616.9h4.3v23.7h-4.3zM824 599.1h7.3v41.5h-7.3zM835 590.2h7.3v50.4h-7.3zM845 587.2h4.3v53.4h-4.3zM852 581.3h7.3v59.3h-7.3zM886 581.3h29.3v59.3h-29.3zM917 593.2h4.3v47.4h-4.3zM924 581.3h4.3v59.3h-4.3zM931 616.9h11.3v23.7h-11.3zM945 581.3h21.3v59.3h-21.3zM976 622.8h7.3v17.8h-7.3zM986 602.1h11.3v38.5h-11.3zM1010 602.1h5.3v38.5h-5.3zM1017 599.1h12.3v41.5h-12.3zM1031 581.3h73.3v59.3h-73.3zM1107 599.1h8.3v41.5h-8.3zM1117 581.3h5.3v53.7h-5.3zM1124 581.3h11.3v59.3h-11.3zM1138 590.2h15.3v50.4h-15.3zM1155 593.2h8.3v47.4h-8.3zM1166 610.9h11.3v29.6h-11.3zM1180 593.2h7.3v47.4h-7.3zM1190 581.3h11.3v59.3h-11.3zM1204 599.1h11.3v41.5h-11.3zM1218 593.2h11.3v47.4h-11.3zM1231 599.1h19.3v41.5h-19.3zM1252 593.2h8.3v47.4h-8.3zM1262 581.3h12.3v59.3h-12.3zM1276 616.9h5.3v23.7h-5.3zM1283 593.2h4.3v35.9h-4.3zM1297 605h4.3v35.6h-4.3zM1342 628.7h4.3v11.9h-4.3zM1504 628.7h12.3v11.9h-12.3zM1532 625.8h18.3v14.8h-18.3zM1614 631.7h5.3v8.9h-5.3zM1621 622.8h5.3v17.8h-5.3zM1635 619.8h11.3v20.8h-11.3zM1649 619.8h4.3v20.8h-4.3zM1656 619.8h4.3v20.8h-4.3zM1663 622.8h14.3v12.2h-14.3zM1680 616.9h4.3v23.7h-4.3zM1694 619.8h4.3v20.8h-4.3zM1701 622.8h8.3v17.8h-8.3zM1711 622.8h5.3v17.8h-5.3zM1718 634.7h29.3v5.9h-29.3zM1749 622.8h12.3v17.8h-12.3zM1763 622.8h5.3v17.8h-5.3zM1770 622.8h4.3v17.8h-4.3zM1777 608h8.3v32.6h-8.3zM1787 587.2h4.3v53.4h-4.3zM1794 616.9h4.3v23.7h-4.3zM1801 593.2h4.3v47.4h-4.3zM1808 634.7h8.3v5.9h-8.3zM1877 628.7h4.3v11.9h-4.3zM1884 622.8h4.3v17.8h-4.3zM1891 622.8h7.3v17.8h-7.3zM1901 628.7h11.3v11.9h-11.3zM714 670.7h31.3v6.3h-31.3zM748 673.7h4.3v18.1h-4.3zM755 667.7h4.3v18.1h-4.3zM762 644h11.3v44.8h-11.3zM776 655.9h4.3v30h-4.3zM783 644h18.3v59.3h-18.3zM803 661.8h4.3v38.9h-4.3zM810 673.6h4.3v24.1h-4.3zM824 644h7.3v47.8h-7.3zM835 644h7.3v53.7h-7.3zM845 644h14.3v59.3h-14.3zM886 644h5.3v59.3h-5.3zM893 647h22.3v53.7h-22.3zM917 644h11.3v59.3h-11.3zM931 652.9h11.3v27h-11.3zM945 644h21.3v59.3h-21.3zM969 644h4.3v41.9h-4.3zM976 661.8h7.3v35.9h-7.3zM986 661.8h11.3v41.5h-11.3zM1010 649.9h5.3v41.9h-5.3zM1017 644h12.3v44.8h-12.3zM1031 644h73.3v59.3h-73.3zM1107 658.8h8.3v44.5h-8.3zM1117 644h5.3v50.8h-5.3zM1124 644h11.3v59.3h-11.3zM1138 644h15.3v50.8h-15.3zM1155 644h8.3v50.8h-8.3zM1166 673.6h11.3v24.1h-11.3zM1180 649.9h7.3v53.4h-7.3zM1190 644h11.3v59.3h-11.3zM1204 661.8h56.3v41.5h-56.3zM1262 644h19.3v59.3h-19.3zM1283 649.9h4.3v41.9h-4.3zM1290 673.6h4.3v29.6h-4.3zM1297 670.7h4.3v32.6h-4.3zM1311 644h4.3v6.3h-4.3zM1318 649.9h4.3v6.3h-4.3zM1342 652.9h4.3v6.3h-4.3zM1449 644h4.3v6.3h-4.3zM1504 652.9h4.3v12.2h-4.3zM1532 649.9h18.3v18.1h-18.3zM1614 661.8h5.3v15.2h-5.3zM1621 644h5.3v30h-5.3zM1628 644h5.3v18.1h-5.3zM1642 644h4.3v9.2h-4.3zM1649 644h4.3v12.2h-4.3zM1656 649.9h4.3v12.2h-4.3zM1663 655.9h14.3v9.2h-14.3zM1680 644h4.3v24.1h-4.3zM1694 644h15.3v21.1h-15.3zM1749 649.9h4.3v24.1h-4.3zM1756 644h5.3v18.1h-5.3zM1763 649.9h5.3v21.1h-5.3zM1770 649.9h4.3v12.2h-4.3zM1777 644h8.3v18.1h-8.3zM1787 649.9h4.3v47.8h-4.3zM1794 644h4.3v18.1h-4.3zM1801 644h4.3v47.8h-4.3zM1808 644h8.3v18.1h-8.3zM1877 649.9h4.3v12.2h-4.3zM1884 644h4.3v18.1h-4.3zM1891 644h7.3v18.1h-7.3zM1901 649.9h11.3v18.1h-11.3zM714 718.6h31.3v6.3h-31.3zM762 706.7h11.3v50.8h-11.3zM776 706.7h4.3v27h-4.3zM783 706.7h18.3v59.3h-18.3zM803 748.2h4.3v17.8h-4.3zM824 706.7h7.3v41.9h-7.3zM835 706.7h7.3v44.8h-7.3zM845 706.7h14.3v59.3h-14.3zM886 706.7h42.3v59.3h-42.3zM931 709.7h11.3v21.1h-11.3zM945 706.7h28.3v59.3h-28.3zM986 736.4h11.3v29.6h-11.3zM1010 706.7h5.3v44.8h-5.3zM1017 706.7h12.3v47.8h-12.3zM1031 706.7h73.3v59.3h-73.3zM1107 706.7h8.3v44.8h-8.3zM1117 706.7h5.3v30h-5.3zM1124 706.7h11.3v59.3h-11.3zM1138 706.7h15.3v53.7h-15.3zM1155 706.7h8.3v47.8h-8.3zM1166 736.4h11.3v29.6h-11.3zM1180 706.7h7.3v53.7h-7.3zM1190 706.7h11.3v59.3h-11.3zM1204 706.7h25.3v41.9h-25.3zM1231 706.7h5.3v47.8h-5.3zM1238 706.7h12.3v35.9h-12.3zM1252 706.7h8.3v41.9h-8.3zM1262 706.7h12.3v59.3h-12.3zM1283 706.7h4.3v35.9h-4.3zM1297 706.7h4.3v30h-4.3zM1304 706.7h18.3v3.3h-18.3zM1342 706.7h4.3v6.3h-4.3zM1449 706.7h4.3v6.3h-4.3zM1504 712.6h12.3v12.2h-12.3zM1525 760.1h4.3v5.9h-4.3zM1532 706.7h11.3v18.1h-11.3zM1621 706.7h88.3v18.1h-88.3zM1718 706.7h29.3v9.2h-29.3zM1749 706.7h4.3v12.2h-4.3zM1756 706.7h12.3v18.1h-12.3zM1770 706.7h4.3v12.2h-4.3zM1777 706.7h8.3v12.2h-8.3zM1787 706.7h4.3v59.3h-4.3zM1794 706.7h4.3v18.1h-4.3zM1801 706.7h4.3v24.1h-4.3zM1808 706.7h8.3v12.2h-8.3zM1877 706.7h4.3v18.1h-4.3zM1884 706.7h4.3v18.1h-4.3zM1891 706.7h7.3v18.1h-7.3zM1901 706.7h11.3v12.2h-11.3zM714 791.3h31.3v15.2h-31.3zM755 793.1h4.3v18.1h-4.3zM762 769.4h11.3v47.8h-11.3zM776 772.4h4.3v35.9h-4.3zM783 769.4h18.3v53.7h-18.3zM803 769.4h11.3v47.8h-11.3zM817 775.3h4.3v53.4h-4.3zM824 772.4h7.3v38.9h-7.3zM835 772.4h7.3v41.9h-7.3zM845 769.4h38.3v59.3h-38.3zM886 769.4h5.3v50.8h-5.3zM893 781.3h22.3v44.8h-22.3zM917 769.4h4.3v50.8h-4.3zM924 769.4h4.3v59.3h-4.3zM931 775.3h11.3v33h-11.3zM945 769.4h21.3v53.7h-21.3zM969 769.4h4.3v59.3h-4.3zM976 769.4h21.3v50.8h-21.3zM1000 769.4h7.3v56.7h-7.3zM1010 769.4h5.3v44.8h-5.3zM1017 775.3h12.3v35.9h-12.3zM1031 769.4h63.3v59.3h-63.3zM1097 769.4h7.3v50.8h-7.3zM1107 769.4h8.3v56.7h-8.3zM1117 769.4h18.3v44.8h-18.3zM1138 772.4h15.3v41.9h-15.3zM1155 769.4h8.3v41.9h-8.3zM1166 772.4h11.3v44.8h-11.3zM1180 769.4h101.3v59.3h-101.3zM1283 778.3h4.3v35.9h-4.3zM1290 772.4h4.3v56.3h-4.3zM1297 775.3h4.3v53.4h-4.3zM1304 810.9h4.3v6.3h-4.3zM1311 793.1h4.3v12.2h-4.3zM1318 807.9h4.3v9.2h-4.3zM1342 819.8h4.3v8.9h-4.3zM1449 819.8h4.3v8.9h-4.3zM1504 781.3h12.3v12.2h-12.3zM1525 783h25.3v15.2h-25.3zM1614 793.1h5.3v12.2h-5.3zM1621 775.3h88.3v18.1h-88.3zM1711 787.2h36.3v12.2h-36.3zM1749 775.3h19.3v21.1h-19.3zM1770 781.3h4.3v18.1h-4.3zM1777 781.3h8.3v12.2h-8.3zM1787 769.4h4.3v53.7h-4.3zM1794 775.3h4.3v30h-4.3zM1801 769.4h4.3v53.7h-4.3zM1808 775.3h8.3v6.3h-8.3zM1877 775.3h35.3v18.1h-35.3zM703 876.6h8.3v3.3h-8.3zM714 870.6h31.3v9.2h-31.3zM748 864.7h11.3v6.3h-11.3zM762 846.9h11.3v44.5h-11.3zM776 855.8h4.3v35.6h-4.3zM783 838h31.3v53.4h-31.3zM817 835.1h4.3v38.9h-4.3zM824 849.9h18.3v41.5h-18.3zM845 844h4.3v47.4h-4.3zM852 832.1h31.3v59.3h-31.3zM886 835.1h5.3v56.3h-5.3zM893 844h22.3v44.8h-22.3zM917 844h4.3v47.4h-4.3zM924 832.1h4.3v59.3h-4.3zM931 855.8h11.3v33h-11.3zM945 832.1h21.3v59.3h-21.3zM969 846.9h4.3v44.5h-4.3zM976 844h7.3v47.4h-7.3zM986 841h11.3v50.4h-11.3zM1000 835.1h7.3v56.3h-7.3zM1010 849.9h19.3v41.5h-19.3zM1031 832.1h63.3v59.3h-63.3zM1097 838h7.3v53.4h-7.3zM1107 832.1h15.3v59.3h-15.3zM1124 841h11.3v50.4h-11.3zM1138 844h15.3v47.4h-15.3zM1155 846.9h8.3v44.5h-8.3zM1166 844h11.3v47.4h-11.3zM1180 832.1h101.3v59.3h-101.3zM1283 849.9h4.3v33h-4.3zM1290 832.1h11.3v59.3h-11.3zM1304 882.5h18.3v6.3h-18.3zM1342 882.5h4.3v8.9h-4.3zM1449 879.5h4.3v9.2h-4.3zM1504 876.6h4.3v6.3h-4.3zM1532 875.4h18.3v10.4h-18.3zM1614 864.7h5.3v9.2h-5.3zM1621 870.6h88.3v15.2h-88.3zM1711 879.5h36.3v6.3h-36.3zM1749 867.7h4.3v18.1h-4.3zM1756 864.7h5.3v21.1h-5.3zM1763 876.6h5.3v12.2h-5.3zM1770 870.6h4.3v15.2h-4.3zM1777 861.8h8.3v18.1h-8.3zM1787 846.9h4.3v41.9h-4.3zM1794 855.8h4.3v21.1h-4.3zM1801 846.9h4.3v41.9h-4.3zM1808 858.8h8.3v6.3h-8.3zM1877 858.8h4.3v9.2h-4.3zM1884 849.9h4.3v6.3h-4.3zM1891 844h7.3v9.2h-7.3zM1901 849.9h11.3v9.2h-11.3zM133.3 907.3h140v18.1h-140zM275 899.5h25.3v15.2h-25.3zM351 897.8h8.3v9.2h-8.3zM593 897.8h7.3v9.2h-7.3zM603 909.6h98.3v30h-98.3zM703 912.6h8.3v27h-8.3zM714 915.6h31.3v27h-31.3zM748 903.7h11.3v33h-11.3zM762 900.7h11.3v53.4h-11.3zM776 900.7h4.3v53.4h-4.3zM783 894.8h31.3v59.3h-31.3zM817 915.6h4.3v38.5h-4.3zM824 900.7h18.3v50.8h-18.3zM845 894.8h46.3v59.3h-46.3zM893 899.5h22.3v54.6h-22.3zM917 894.8h11.3v59.3h-11.3zM931 909.6h11.3v38.9h-11.3zM945 894.8h52.3v59.3h-52.3zM1000 894.8h7.3v56.7h-7.3zM1010 903.7h19.3v47.8h-19.3zM1031 894.8h90.3v59.3h-90.3zM1124 897.8h53.3v53.7h-53.3zM1180 894.8h101.3v59.3h-101.3zM1283 906.7h4.3v41.9h-4.3zM1290 894.8h11.3v59.3h-11.3zM1304 930.4h18.3v21.1h-18.3zM1342 942.2h4.3v11.9h-4.3zM1449 948.2h4.3v5.9h-4.3zM1456 915.6h94.3v30h-94.3zM1607 927.4h5.3v21.1h-5.3zM1614 921.5h5.3v27h-5.3zM1621 915.6h184.3v30h-184.3zM1808 924.4h8.3v24.1h-8.3zM1877 921.5h4.3v27h-4.3zM1884 921.5h4.3v27h-4.3zM1891 933.3h7.3v18.1h-7.3zM1901 930.4h11.3v21.1h-11.3zM133.3 957.5h140v18.1h-140zM275 957.5h25.3v18.1h-25.3zM303 957.5h15.3v12.2h-15.3zM351 957.5h8.3v9.2h-8.3zM593 957.5h7.3v9.2h-7.3zM603 957.5h98.3v27h-98.3zM703 957.5h8.3v24.1h-8.3zM714 957.5h31.3v24.1h-31.3zM748 957.5h11.3v21.1h-11.3zM762 957.5h11.3v53.7h-11.3zM776 957.5h4.3v47.8h-4.3zM783 957.5h108.3v59.3h-108.3zM893 957.5h22.3v53.7h-22.3zM917 957.5h11.3v59.3h-11.3zM931 957.5h11.3v38.9h-11.3zM945 957.5h62.3v59.3h-62.3zM1010 957.5h19.3v47.8h-19.3zM1031 957.5h90.3v59.3h-90.3zM1124 957.5h53.3v53.7h-53.3zM1180 957.5h101.3v59.3h-101.3zM1283 957.5h4.3v41.9h-4.3zM1290 957.5h11.3v59.3h-11.3zM1304 957.5h18.3v18.1h-18.3zM1342 957.5h4.3v12.2h-4.3zM1449 957.5h4.3v6.3h-4.3zM1456 957.5h94.3v27h-94.3zM1607 957.5h5.3v24.1h-5.3zM1614 957.5h5.3v27h-5.3zM1621 957.5h184.3v30h-184.3zM1808 957.5h8.3v18.1h-8.3zM1877 957.5h11.3v21.1h-11.3zM1891 957.5h7.3v18.1h-7.3zM1901 957.5h11.3v18.1h-11.3zM133.3 1057.6h140v21.9h-140zM275 1064.7h25.3v14.8h-25.3zM303 1070.6h15.3v8.9h-15.3zM320 1073.6h4.3v5.9h-4.3zM351 1067.6h8.3v11.9h-8.3zM558 1073.6h32.3v5.9h-32.3zM593 1064.7h7.3v12.2h-7.3zM603 1052.8h98.3v26.7h-98.3zM703 1049.8h8.3v29.6h-8.3zM714 1052.8h31.3v26.7h-31.3zM748 1052.8h11.3v26.7h-11.3zM762 1023.2h11.3v56.3h-11.3zM776 1026.1h4.3v53.4h-4.3zM783 1020.2h31.3v59.3h-31.3zM817 1041h4.3v38.5h-4.3zM824 1020.2h67.3v59.3h-67.3zM893 1026.1h22.3v53.4h-22.3zM917 1020.2h11.3v59.3h-11.3zM931 1038h11.3v41.5h-11.3zM945 1020.2h62.3v59.3h-62.3zM1010 1032.1h19.3v47.4h-19.3zM1031 1020.2h90.3v59.3h-90.3zM1124 1029.1h53.3v50.4h-53.3zM1180 1020.2h101.3v59.3h-101.3zM1283 1038h4.3v41.5h-4.3zM1290 1020.2h11.3v59.3h-11.3zM1304 1058.7h18.3v20.8h-18.3zM1342 1070.6h4.3v8.9h-4.3zM1449 1073.6h4.3v5.9h-4.3zM1456 1052.8h94.3v26.7h-94.3zM1607 1061.7h5.3v17.8h-5.3zM1614 1058.7h5.3v20.8h-5.3zM1621 1049.9h184.3v29.6h-184.3zM1808 1061.7h8.3v17.8h-8.3zM1877 1061.7h35.3v17.8h-35.3zM133.3 1106.6h140v27h-140zM275 1115.5h25.3v21.1h-25.3zM303 1124.4h15.3v15.2h-15.3zM320 1133.3h4.3v8.9h-4.3zM351 1130.3h8.3v11.9h-8.3zM558 1136.3h32.3v5.9h-32.3zM593 1130.3h7.3v11.9h-7.3zM603 1090h98.3v38.9h-98.3zM703 1103.7h8.3v30h-8.3zM714 1094.8h31.3v35.9h-31.3zM748 1106.6h11.3v30h-11.3zM762 1082.9h166.3v59.3h-166.3zM931 1088.8h11.3v47.8h-11.3zM945 1082.9h62.3v59.3h-62.3zM1010 1088.8h19.3v50.8h-19.3zM1031 1082.9h250.3v59.3h-250.3zM1283 1088.8h4.3v47.8h-4.3zM1290 1085.9h11.3v56.3h-11.3zM1304 1088.8h18.3v24.1h-18.3zM1342 1082.9h4.3v12.2h-4.3zM1456 1094.8h94.3v38.9h-94.3zM1553 1088.8h41.3v47.8h-41.3zM1597 1091.8h8.3v44.8h-8.3zM1607 1091.8h198.3v33h-198.3zM1808 1091.8h8.3v21.1h-8.3zM1877 1091.8h4.3v24.1h-4.3zM1884 1091.8h4.3v18.1h-4.3zM1891 1082.9h7.3v18.1h-7.3zM1901 1088.8h11.3v18.1h-11.3zM308.3 1842.8h112v30h-112zM420 1872.4h12.3v24h-12.3zM432 1842.8h46.3v35.9h-46.3zM478 1893.1h8.3v8.9h-8.3zM610 1884.2h33.3v17.8h-33.3zM1048.6 1842.8h21.2v12.2h-21.2zM1069.5 1842.8h34.1v38.8h-34.1zM1103.3 1842.8h21.7v24h-21.7zM1124.7 1842.8h20.1v44.8h-20.1zM1144.5 1842.8h28.8v47.7h-28.8zM1173 1842.8h27.3v47.7h-27.3zM1200 1842.8h25.1v30h-25.1zM1539 1842.8h3.3v46h-3.3zM1542 1842.8h3.3v44.9h-3.3zM1545 1842.8h3.3v43.8h-3.3zM1548 1842.8h3.3v42.6h-3.3zM1551 1842.8h3.3v41.5h-3.3zM1554 1842.8h3.3v40.4h-3.3zM1557 1842.8h3.3v39.3h-3.3zM1560 1842.8h3.3v38.2h-3.3zM1563 1842.8h3.3v37.1h-3.3zM1566.1 1842.8h3.3v36h-3.3zM1569.1 1842.8h3.3v34.9h-3.3zM1572.1 1842.8h3.3v33.8h-3.3zM1575.1 1842.8h3.3v32.7h-3.3zM1578.1 1842.8h3.3v31.5h-3.3zM1581.1 1842.8h3.3v30.4h-3.3zM1584.1 1842.8h3.3v29.3h-3.3zM1587.1 1842.8h3.3v28.2h-3.3zM1590.1 1842.8h3.3v27.1h-3.3zM1593.1 1842.8h3.3v26h-3.3zM1596.1 1842.8h3.3v24.9h-3.3zM1599.1 1842.8h3.3v23.8h-3.3zM1602.1 1842.8h3.3v22.7h-3.3zM1605.1 1842.8h3.3v21.6h-3.3zM1608.1 1842.8h3.3v20.4h-3.3zM1611.2 1842.8h3.3v19.3h-3.3zM1614.2 1842.8h3.3v18.2h-3.3zM1617.2 1842.8h3.3v17.1h-3.3zM1620.2 1842.8h3.3v16h-3.3zM1623.2 1842.8h3.3v14.9h-3.3zM1626.2 1842.8h3.3v13.8h-3.3zM1629.2 1842.8h3.3v12.7h-3.3zM1632.2 1842.8h3.3v11.6h-3.3zM1681.5 1842.8h28.8v30h-28.8zM308.3 1910.9h170v44.8h-170zM610 1913.9h33.3v27h-33.3zM805.1 1958.2h3.2v3.4h-3.2zM808 1958h3.2v3.7h-3.2zM810.9 1957.7h3.2v3.9h-3.2zM813.8 1957.5h3.2v4.1h-3.2zM816.7 1957.3h3.2v4.3h-3.2zM819.6 1957h3.2v4.6h-3.2zM822.5 1956.8h3.2v4.8h-3.2zM825.5 1956.6h3.2v5h-3.2zM828.4 1956.4h3.2v5.2h-3.2zM831.3 1956.1h3.2v5.5h-3.2zM834.2 1955.9h3.2v5.7h-3.2zM837.1 1955.7h3.2v5.9h-3.2zM840 1955.5h3.2v6.2h-3.2zM842.9 1955.3h3.3v6.3h-3.3zM845.9 1955.1h3.3v6.4h-3.3zM848.9 1955h3.3v6.4h-3.3zM851.9 1954.8h3.3v6.5h-3.3zM854.9 1954.7h3.3v6.5h-3.3zM857.9 1954.5h3.3v6.6h-3.3zM860.9 1954.4h3.3v6.7h-3.3zM863.9 1954.2h3.3v6.7h-3.3zM866.9 1954.1h3.3v6.8h-3.3zM869.9 1953.9h3.3v6.8h-3.3zM873 1953.8h3.3v6.9h-3.3zM876 1953.6h3.3v7h-3.3zM879 1953.5h3.3v7h-3.3zM882 1953.3h3.3v7.1h-3.3zM885 1953.2h3.3v7.1h-3.3zM888 1953h3.3v7.2h-3.3zM891 1952.9h3.3v7.2h-3.3zM894 1952.8h3.3v7.3h-3.3zM897 1952.6h3.3v7.4h-3.3zM900 1952.5h3.3v7.4h-3.3zM1013.6 1940.5h35.3v23.7h-35.3zM1048.6 1940.5h21.2v23.7h-21.2zM1069.5 1916.9h34.1v47.4h-34.1zM1103.3 1940.5h21.7v23.7h-21.7zM1124.7 1913.9h48.6v50.3h-48.6zM1173 1910.9h52.1v53.3h-52.1zM1231.8 1952.4h12.5v11.8h-12.5zM1388 1958.3h26.5v5.9h-26.5zM1539 1913.1h3.3v51.1h-3.3zM1542 1913.9h3.3v50.3h-3.3zM1545 1914.8h3.3v49.5h-3.3zM1548 1915.6h3.3v48.7h-3.3zM1551 1916.4h3.3v47.8h-3.3zM1554 1917.2h3.3v47h-3.3zM1557 1918h3.3v46.2h-3.3zM1560 1918.8h3.3v45.4h-3.3zM1563 1919.6h3.3v44.6h-3.3zM1566.1 1920.4h3.3v43.8h-3.3zM1569.1 1921.3h3.3v43h-3.3zM1572.1 1922.1h3.3v42.1h-3.3zM1575.1 1922.9h3.3v41.3h-3.3zM1578.1 1923.7h3.3v40.5h-3.3zM1581.1 1924.5h3.3v39.7h-3.3zM1584.1 1925.3h3.3v38.9h-3.3zM1587.1 1926.1h3.3v38.1h-3.3zM1590.1 1927h3.3v37.3h-3.3zM1593.1 1927.8h3.3v36.4h-3.3zM1596.1 1928.6h3.3v35.6h-3.3zM1599.1 1929.4h3.3v34.8h-3.3zM1602.1 1930.2h3.3v34h-3.3zM1605.1 1931h3.3v33.2h-3.3zM1608.1 1931.8h3.3v32.4h-3.3zM1611.2 1932.7h3.3v31.6h-3.3zM1614.2 1933.5h3.3v30.7h-3.3zM1617.2 1934.3h3.3v29.9h-3.3zM1620.2 1935.1h3.3v29.1h-3.3zM1623.2 1935.9h3.3v28.3h-3.3zM1626.2 1936.7h3.3v27.5h-3.3zM1629.2 1937.5h3.3v26.7h-3.3zM1632.2 1938.4h3.3v25.9h-3.3zM1635.2 1960.9h3.2v3.4h-3.2zM1638.1 1960h3.2v4.2h-3.2zM1641.1 1959.2h3.2v5h-3.2zM1644 1958.4h3.2v5.8h-3.2zM1646.9 1957.6h3.2v6.6h-3.2zM1649.9 1956.8h3.2v7.4h-3.2zM1652.8 1956h3.2v8.2h-3.2zM1655.8 1955.2h3.2v9h-3.2zM1658.7 1954.4h3.2v9.8h-3.2zM1661.6 1953.6h3.2v10.6h-3.2zM1664.6 1952.8h3.2v11.4h-3.2zM1681.5 1934.6h55.3v24h-55.3zM1736.5 1955.3h164.3v6.3h-164.3zM308.3 1976.1h170v32.9h-170zM610 1967.2h33.3v18.1h-33.3zM842.9 2002.8h60.4v3.3h-60.4zM1013.6 1985h35.3v24h-35.3zM1048.6 1988h21.2v24h-21.2zM1069.5 1973.2h34.1v50.7h-34.1zM1103.3 1990.9h21.7v35.5h-21.7zM1124.7 1973.2h20.1v50.7h-20.1zM1144.5 1970.2h55.8v53.6h-55.8zM1200 1967.2h25.1v41.8h-25.1zM1244 1985h64.8v3.3h-64.8zM1539 1973.3h3.3v51.5h-3.3zM1542 1973.6h3.3v50.7h-3.3zM1545 1973.9h3.3v49.9h-3.3zM1548 1974.1h3.3v49.1h-3.3zM1551 1974.4h3.3v48.4h-3.3zM1554 1974.7h3.3v47.6h-3.3zM1557 1975h3.3v46.8h-3.3zM1560 1975.2h3.3v46h-3.3zM1563 1975.5h3.3v45.2h-3.3zM1566.1 1975.8h3.3v44.5h-3.3zM1569.1 1976.1h3.3v43.7h-3.3zM1572.1 1976.4h3.3v42.9h-3.3zM1575.1 1976.6h3.3v42.1h-3.3zM1578.1 1976.9h3.3v41.4h-3.3zM1581.1 1977.2h3.3v40.6h-3.3zM1584.1 1977.5h3.3v39.8h-3.3zM1587.1 1977.7h3.3v39h-3.3zM1590.1 1978h3.3v38.3h-3.3zM1593.1 1978.3h3.3v37.5h-3.3zM1596.1 1978.6h3.3v36.7h-3.3zM1599.1 1978.8h3.3v35.9h-3.3zM1602.1 1979.1h3.3v35.1h-3.3zM1605.1 1979.4h3.3v34.4h-3.3zM1608.1 1979.7h3.3v33.6h-3.3zM1611.2 1980h3.3v32.8h-3.3zM1614.2 1980.2h3.3v32h-3.3zM1617.2 1980.5h3.3v31.3h-3.3zM1620.2 1980.8h3.3v30.5h-3.3zM1623.2 1981.1h3.3v29.7h-3.3zM1626.2 1981.3h3.3v28.9h-3.3zM1629.2 1981.6h3.3v28.2h-3.3zM1632.2 1981.9h3.3v27.4h-3.3zM1635.2 2024.2h3.2v1.8h-3.2zM1638.1 2023.3h3.2v2.3h-3.2zM1641.1 2022.4h3.2v2.9h-3.2zM1644 2021.5h3.2v3.4h-3.2zM1646.9 2020.5h3.2v4h-3.2zM1649.9 2019.6h3.2v4.5h-3.2zM1652.8 2018.7h3.2v5h-3.2zM1655.8 2017.8h3.2v5.6h-3.2zM1658.7 2016.9h3.2v6.1h-3.2zM1661.6 2016h3.2v6.6h-3.2zM1664.6 2015.1h3.2v7.2h-3.2zM1681.5 1988h55.3v18.1h-55.3zM308.3 2029.5h112v32.9h-112zM420 2029.5h58.3v47.7h-58.3zM610 2047.2h33.3v18.1h-33.3zM842.9 2085.7h60.4v3h-60.4zM1013.6 2047.2h35.3v27h-35.3zM1048.6 2047.2h21.2v30h-21.2zM1069.5 2032.4h34.1v53.6h-34.1zM1103.3 2050.2h21.7v35.9h-21.7zM1124.7 2029.5h100.4v50.7h-100.4zM1224.8 2029.5h7.3v24h-7.3zM1231.8 2029.5h12.5v12.2h-12.5zM1244 2029.5h64.8v3.3h-64.8zM1539 2032.4h3.3v50.3h-3.3zM1542 2032.5h3.3v49.7h-3.3zM1545 2032.6h3.3v49.1h-3.3zM1548 2032.6h3.3v48.4h-3.3zM1551 2032.7h3.3v47.8h-3.3zM1554 2032.7h3.3v47.1h-3.3zM1557 2032.8h3.3v46.5h-3.3zM1560 2032.8h3.3v45.8h-3.3zM1563 2032.9h3.3v45.2h-3.3zM1566.1 2032.9h3.3v44.5h-3.3zM1569.1 2033h3.3v43.9h-3.3zM1572.1 2033.1h3.3v43.2h-3.3zM1575.1 2033.1h3.3v42.6h-3.3zM1578.1 2033.2h3.3v41.9h-3.3zM1581.1 2033.2h3.3v41.3h-3.3zM1584.1 2033.3h3.3v40.6h-3.3zM1587.1 2033.3h3.3v40h-3.3zM1590.1 2033.4h3.3v39.3h-3.3zM1593.1 2033.4h3.3v38.7h-3.3zM1596.1 2033.5h3.3v38h-3.3zM1599.1 2033.6h3.3v37.4h-3.3zM1602.1 2033.6h3.3v36.7h-3.3zM1605.1 2033.7h3.3v36.1h-3.3zM1608.1 2033.7h3.3v35.5h-3.3zM1611.2 2033.8h3.3v34.8h-3.3zM1614.2 2033.8h3.3v34.2h-3.3zM1617.2 2033.9h3.3v33.5h-3.3zM1620.2 2033.9h3.3v32.9h-3.3zM1623.2 2034h3.3v32.2h-3.3zM1626.2 2034.1h3.3v31.6h-3.3zM1629.2 2034.1h3.3v30.9h-3.3zM1632.2 2034.2h3.3v30.3h-3.3zM1667.5 2041.3h14.3v12.2h-14.3zM1681.5 2029.5h55.3v27h-55.3zM1736.5 2032.4h164.3v18.1h-164.3zM308.3 2091.7h112v35.9h-112zM420 2091.7h58.3v41.8h-58.3zM610 2091.7h33.3v12.2h-33.3zM778 2091.7h3.3v0.5h-3.3zM781 2091.7h3.3v0.8h-3.3zM784 2091.7h3.3v1.2h-3.3zM787 2091.7h3.3v1.5h-3.3zM790 2091.7h3.3v1.8h-3.3zM793.1 2091.7h3.3v2.2h-3.3zM796.1 2091.7h3.3v2.5h-3.3zM799.1 2091.7h3.3v2.8h-3.3zM802.1 2091.7h3.3v3.1h-3.3zM805.1 2091.7h38.1v5.1h-38.1zM842.9 2091.7h60.4v6.3h-60.4zM1013.6 2091.7h35.3v24h-35.3zM1048.6 2091.7h21.2v21.1h-21.2zM1069.5 2091.7h34.1v53.6h-34.1zM1103.3 2091.7h21.7v30h-21.7zM1124.7 2091.7h75.6v50.7h-75.6zM1200 2091.7h25.1v35.9h-25.1zM1224.8 2091.7h7.3v12.2h-7.3zM1231.8 2091.7h12.5v3.3h-12.5zM1244 2091.7h64.8v3.3h-64.8zM1308.5 2149.7h39.3v1.2h-39.3zM1539 2091.7h3.3v50.3h-3.3zM1542 2091.7h3.3v49.7h-3.3zM1545 2091.7h3.3v49.1h-3.3zM1548 2091.7h3.3v48.4h-3.3zM1551 2091.7h3.3v47.8h-3.3zM1554 2091.7h3.3v47.1h-3.3zM1557 2091.7h3.3v46.5h-3.3zM1560 2091.7h3.3v45.8h-3.3zM1563 2091.7h3.3v45.2h-3.3zM1566.1 2091.7h3.3v44.5h-3.3zM1569.1 2091.7h3.3v43.9h-3.3zM1572.1 2091.7h3.3v43.2h-3.3zM1575.1 2091.7h3.3v42.6h-3.3zM1578.1 2091.7h3.3v41.9h-3.3zM1581.1 2091.7h3.3v41.3h-3.3zM1584.1 2091.7h3.3v40.6h-3.3zM1587.1 2091.7h3.3v40h-3.3zM1590.1 2091.7h3.3v39.3h-3.3zM1593.1 2091.7h3.3v38.7h-3.3zM1596.1 2091.7h3.3v38h-3.3zM1599.1 2091.7h3.3v37.4h-3.3zM1602.1 2091.7h3.3v36.7h-3.3zM1605.1 2091.7h3.3v36.1h-3.3zM1608.1 2091.7h3.3v35.5h-3.3zM1611.2 2091.7h3.3v34.8h-3.3zM1614.2 2091.7h3.3v34.2h-3.3zM1617.2 2091.7h3.3v33.5h-3.3zM1620.2 2091.7h3.3v32.9h-3.3zM1623.2 2091.7h3.3v32.2h-3.3zM1626.2 2091.7h3.3v31.6h-3.3zM1629.2 2091.7h3.3v30.9h-3.3zM1632.2 2091.7h3.3v30.3h-3.3zM1635.2 2091.7h32.6v12.2h-32.6zM1667.5 2091.7h14.3v6.3h-14.3zM1681.5 2091.7h55.3v27h-55.3zM1736.5 2091.7h164.3v15.2h-164.3zM150 2207.2h15.3v5.9h-15.3zM263.7 2210.1h32.3v3h-32.3zM308.3 2162.8h112v38.8h-112zM420 2156.9h58.3v44.8h-58.3zM526.6 2165.7h29.4v6.3h-29.4zM610 2153.9h33.3v12.2h-33.3zM778 2153.9h3.3v2.4h-3.3zM781 2153.9h3.3v2.8h-3.3zM784 2153.9h3.3v3.3h-3.3zM787 2153.9h3.3v3.7h-3.3zM790 2153.9h3.3v4.2h-3.3zM793.1 2153.9h3.3v4.7h-3.3zM796.1 2153.9h3.3v5.1h-3.3zM799.1 2153.9h3.3v5.6h-3.3zM802.1 2153.9h3.3v6h-3.3zM805.1 2155.7h38.1v6.3h-38.1zM842.9 2156.9h60.4v6.3h-60.4zM1013.6 2153.9h35.3v27h-35.3zM1048.6 2153.9h21.2v21.1h-21.2zM1069.5 2153.9h34.1v53.6h-34.1zM1103.3 2153.9h21.7v30h-21.7zM1124.7 2153.9h100.4v53.6h-100.4zM1224.8 2153.9h7.3v30h-7.3zM1231.8 2156.9h12.5v6.3h-12.5zM1244 2155.7h64.8v6.3h-64.8zM1308.5 2173.4h39.3v6.3h-39.3zM1371.5 2153.9h16.8v6.3h-16.8zM1388 2153.9h26.5v6.3h-26.5zM1539 2153.9h3.3v50.3h-3.3zM1542 2153.9h3.3v49.6h-3.3zM1545 2153.9h3.3v48.8h-3.3zM1548 2153.9h3.3v48.1h-3.3zM1551 2153.9h3.3v47.3h-3.3zM1554 2153.9h3.3v46.6h-3.3zM1557 2153.9h3.3v45.9h-3.3zM1560 2153.9h3.3v45.1h-3.3zM1563 2153.9h3.3v44.4h-3.3zM1566.1 2153.9h3.3v43.6h-3.3zM1569.1 2153.9h3.3v42.9h-3.3zM1572.1 2153.9h3.3v42.2h-3.3zM1575.1 2153.9h3.3v41.4h-3.3zM1578.1 2153.9h3.3v40.7h-3.3zM1581.1 2153.9h3.3v39.9h-3.3zM1584.1 2153.9h3.3v39.2h-3.3zM1587.1 2153.9h3.3v38.5h-3.3zM1590.1 2153.9h3.3v37.7h-3.3zM1593.1 2153.9h3.3v37h-3.3zM1596.1 2153.9h3.3v36.2h-3.3zM1599.1 2153.9h3.3v35.5h-3.3zM1602.1 2153.9h3.3v34.8h-3.3zM1605.1 2153.9h3.3v34h-3.3zM1608.1 2153.9h3.3v33.3h-3.3zM1611.2 2153.9h3.3v32.5h-3.3zM1614.2 2153.9h3.3v31.8h-3.3zM1617.2 2153.9h3.3v31.1h-3.3zM1620.2 2153.9h3.3v30.3h-3.3zM1623.2 2153.9h3.3v29.6h-3.3zM1626.2 2153.9h3.3v28.8h-3.3zM1629.2 2153.9h3.3v28.1h-3.3zM1632.2 2153.9h3.3v27.4h-3.3zM1635.2 2153.9h32.6v15.2h-32.6zM1667.5 2153.9h14.3v6.3h-14.3zM1681.5 2153.9h55.3v27h-55.3zM1736.5 2153.9h164.3v15.2h-164.3zM150 2251.6h15.3v6.3h-15.3zM263.7 2257.6h32.3v6.3h-32.3zM298.6 2239.8h10v12.2h-10zM308.3 2225h112v38.8h-112zM420 2222h58.3v41.8h-58.3zM526.6 2239.8h29.4v9.2h-29.4zM555.7 2239.8h20.6v6.3h-20.6zM576 2236.8h34.3v6.3h-34.3zM643 2233.9h21.3v12.2h-21.3zM778 2273.9h3.3v1.4h-3.3zM781 2273.5h3.3v1.8h-3.3zM784 2273.1h3.3v2.2h-3.3zM787 2272.8h3.3v2.6h-3.3zM790 2272.4h3.3v3h-3.3zM793.1 2272h3.3v3.4h-3.3zM796.1 2271.6h3.3v3.7h-3.3zM799.1 2271.2h3.3v4.1h-3.3zM802.1 2270.8h3.3v4.5h-3.3zM805.1 2269.1h3.2v3.4h-3.2zM808 2268.4h3.2v3.7h-3.2zM810.9 2267.7h3.2v3.9h-3.2zM813.8 2267h3.2v4.1h-3.2zM816.7 2266.3h3.2v4.3h-3.2zM819.6 2265.6h3.2v4.6h-3.2zM822.5 2265h3.2v4.8h-3.2zM825.5 2264.3h3.2v5h-3.2zM828.4 2263.6h3.2v5.2h-3.2zM831.3 2262.9h3.2v5.5h-3.2zM834.2 2262.2h3.2v5.7h-3.2zM837.1 2261.5h3.2v5.9h-3.2zM840 2260.9h3.2v6.2h-3.2zM842.9 2255.6h3.3v7.5h-3.3zM845.9 2255.3h3.3v7.6h-3.3zM848.9 2255h3.3v7.7h-3.3zM851.9 2254.7h3.3v7.8h-3.3zM854.9 2254.5h3.3v7.9h-3.3zM857.9 2254.2h3.3v7.9h-3.3zM860.9 2253.9h3.3v8h-3.3zM863.9 2253.6h3.3v8.1h-3.3zM866.9 2253.3h3.3v8.2h-3.3zM869.9 2253h3.3v8.3h-3.3zM873 2252.7h3.3v8.4h-3.3zM876 2252.4h3.3v8.5h-3.3zM879 2252.1h3.3v8.6h-3.3zM882 2251.8h3.3v8.7h-3.3zM885 2251.5h3.3v8.7h-3.3zM888 2251.2h3.3v8.8h-3.3zM891 2250.9h3.3v8.9h-3.3zM894 2250.6h3.3v9h-3.3zM897 2250.3h3.3v9.1h-3.3zM900 2250h3.3v9.2h-3.3zM985.5 2263.4h3.4v6.3h-3.4zM988.6 2263.4h3.4v6.3h-3.4zM991.7 2263.3h3.4v6.4h-3.4zM994.9 2263.2h3.4v6.4h-3.4zM998 2263.2h3.4v6.4h-3.4zM1001.1 2263.1h3.4v6.5h-3.4zM1004.2 2263h3.4v6.5h-3.4zM1007.4 2263h3.4v6.5h-3.4zM1010.5 2262.9h3.4v6.6h-3.4zM1013.6 2216.1h35.3v24h-35.3zM1048.6 2216.1h21.2v30h-21.2zM1069.5 2216.1h34.1v53.6h-34.1zM1103.3 2216.1h21.7v30h-21.7zM1124.7 2219.1h20.1v50.7h-20.1zM1144.5 2216.1h80.6v53.6h-80.6zM1231.8 2236.8h12.5v9.2h-12.5zM1244 2235.7h64.8v10.4h-64.8zM1308.5 2233.9h39.3v9.2h-39.3zM1371.5 2236.8h16.8v12.2h-16.8zM1388 2228h26.5v9.2h-26.5zM1440 2228h80.6v12.2h-80.6zM1539 2219.2h3.3v50.4h-3.3zM1542 2219.5h3.3v50h-3.3zM1545 2219.8h3.3v49.5h-3.3zM1548 2220.1h3.3v49.1h-3.3zM1551 2220.3h3.3v48.6h-3.3zM1554 2220.6h3.3v48.1h-3.3zM1557 2220.9h3.3v47.7h-3.3zM1560 2221.2h3.3v47.2h-3.3zM1563 2221.4h3.3v46.7h-3.3zM1566.1 2221.7h3.3v46.3h-3.3zM1569.1 2222h3.3v45.8h-3.3zM1572.1 2222.3h3.3v45.4h-3.3zM1575.1 2222.5h3.3v44.9h-3.3zM1578.1 2222.8h3.3v44.4h-3.3zM1581.1 2223.1h3.3v44h-3.3zM1584.1 2223.4h3.3v43.5h-3.3zM1587.1 2223.7h3.3v43h-3.3zM1590.1 2223.9h3.3v42.6h-3.3zM1593.1 2224.2h3.3v42.1h-3.3zM1596.1 2224.5h3.3v41.7h-3.3zM1599.1 2224.8h3.3v41.2h-3.3zM1602.1 2225h3.3v40.7h-3.3zM1605.1 2225.3h3.3v40.3h-3.3zM1608.1 2225.6h3.3v39.8h-3.3zM1611.2 2225.9h3.3v39.3h-3.3zM1614.2 2226.2h3.3v38.9h-3.3zM1617.2 2226.4h3.3v38.4h-3.3zM1620.2 2226.7h3.3v38h-3.3zM1623.2 2227h3.3v37.5h-3.3zM1626.2 2227.3h3.3v37h-3.3zM1629.2 2227.5h3.3v36.6h-3.3zM1632.2 2227.8h3.3v36.1h-3.3zM1635.2 2222h32.6v21.1h-32.6zM1681.5 2230.9h55.3v21.1h-55.3zM1736.5 2233.9h164.3v15.2h-164.3zM136 2322.7h34.3v9.2h-34.3zM262 2325.7h34v11.8h-34zM308.3 2296.1h112v41.4h-112zM420 2296.1h55.8v41.4h-55.8zM475.5 2319.8h9.8v17.8h-9.8zM526 2319.8h119.3v17.8h-119.3zM645 2319.8h31.3v17.8h-31.3zM805.1 2333.1h3.2v2.3h-3.2zM808 2332.6h3.2v2.6h-3.2zM810.9 2332.1h3.2v2.9h-3.2zM813.8 2331.6h3.2v3.2h-3.2zM816.7 2331.1h3.2v3.6h-3.2zM819.6 2330.6h3.2v3.9h-3.2zM822.5 2330.1h3.2v4.2h-3.2zM825.5 2329.6h3.2v4.5h-3.2zM828.4 2329.1h3.2v4.8h-3.2zM831.3 2328.6h3.2v5.2h-3.2zM834.2 2328.1h3.2v5.5h-3.2zM837.1 2327.6h3.2v5.8h-3.2zM840 2327.1h3.2v6.1h-3.2zM842.9 2325.1h60.1v7.5h-60.1zM902.7 2314.3h3.2v3.2h-3.2zM905.6 2312.9h3.2v3.1h-3.2zM908.6 2311.5h3.2v3h-3.2zM911.5 2310.1h3.2v2.9h-3.2zM914.5 2308.7h3.2v2.7h-3.2zM917.4 2307.3h3.2v2.6h-3.2zM920.4 2305.8h3.2v2.5h-3.2zM923.3 2304.4h3.2v2.3h-3.2zM926.3 2303h3.2v2.2h-3.2zM929.2 2301.6h3.2v2.1h-3.2zM932.2 2300.2h3.2v2h-3.2zM935.1 2298.8h3.2v1.8h-3.2zM938.1 2297.3h3.2v1.7h-3.2zM941 2295.9h3.2v1.6h-3.2zM944 2294.5h3.2v1.4h-3.2zM946.9 2293.1h3.2v1.3h-3.2zM949.9 2291.7h3.2v1.2h-3.2zM952.8 2290.3h3.2v1.1h-3.2zM955.8 2288.9h3.2v0.9h-3.2zM958.7 2287.4h3.2v0.8h-3.2zM961.7 2286h3.2v0.7h-3.2zM964.6 2284.6h3.2v0.5h-3.2zM967.6 2283.2h3.2v0.4h-3.2zM985.5 2328.7h28.4v8.9h-28.4zM1013.6 2302h56.2v35.5h-56.2zM1069.5 2281.3h34.1v56.2h-34.1zM1103.3 2302h21.7v35.5h-21.7zM1124.7 2287.2h20.1v50.3h-20.1zM1144.5 2284.3h55.8v53.3h-55.8zM1200 2290.2h25.1v47.4h-25.1zM1224.8 2316.8h7.3v20.7h-7.3zM1231.8 2319.8h77v17.8h-77zM1308.5 2325.7h14.8v11.8h-14.8zM1323 2325.7h24.8v11.8h-24.8zM1370 2322.7h22.3v14.8h-22.3zM1392 2319.8h22.5v17.8h-22.5zM1440 2322.7h75.3v14.8h-75.3zM1515 2328.7h24.3v8.9h-24.3zM1539 2284.6h3.3v53h-3.3zM1542 2285.2h3.3v52.4h-3.3zM1545 2285.8h3.3v51.8h-3.3zM1548 2286.4h3.3v51.1h-3.3zM1551 2287h3.3v50.5h-3.3zM1554 2287.6h3.3v49.9h-3.3zM1557 2288.2h3.3v49.3h-3.3zM1560 2288.8h3.3v48.7h-3.3zM1563 2289.4h3.3v48.1h-3.3zM1566.1 2290.1h3.3v47.5h-3.3zM1569.1 2290.7h3.3v46.9h-3.3zM1572.1 2291.3h3.3v46.3h-3.3zM1575.1 2291.9h3.3v45.6h-3.3zM1578.1 2292.5h3.3v45h-3.3zM1581.1 2293.1h3.3v44.4h-3.3zM1584.1 2293.7h3.3v43.8h-3.3zM1587.1 2294.3h3.3v43.2h-3.3zM1590.1 2294.9h3.3v42.6h-3.3zM1593.1 2295.6h3.3v42h-3.3zM1596.1 2296.2h3.3v41.4h-3.3zM1599.1 2296.8h3.3v40.8h-3.3zM1602.1 2297.4h3.3v40.2h-3.3zM1605.1 2298h3.3v39.5h-3.3zM1608.1 2298.6h3.3v38.9h-3.3zM1611.2 2299.2h3.3v38.3h-3.3zM1614.2 2299.8h3.3v37.7h-3.3zM1617.2 2300.4h3.3v37.1h-3.3zM1620.2 2301h3.3v36.5h-3.3zM1623.2 2301.7h3.3v35.9h-3.3zM1626.2 2302.3h3.3v35.3h-3.3zM1629.2 2302.9h3.3v34.7h-3.3zM1632.2 2303.5h3.3v34h-3.3zM1635.2 2319.8h32.6v17.8h-32.6zM1667.5 2319.8h14.3v17.8h-14.3zM1681.5 2305h55.3v32.6h-55.3zM1736.5 2316.8h164.3v20.7h-164.3zM1900.5 2313.9h14.8v23.7h-14.8zM308.3 2340.6h112v47.7h-112zM420 2340.6h15.3v35.9h-15.3zM435 2340.6h40.8v53.6h-40.8zM778 2340.6h65.2v2.1h-65.2zM842.9 2340.6h60.1v6.3h-60.1zM985.5 2340.6h28.4v3.3h-28.4zM1013.6 2340.6h56.2v27h-56.2zM1069.5 2340.6h34.1v53.6h-34.1zM1103.3 2340.6h21.7v32.9h-21.7zM1124.7 2340.6h20.1v47.7h-20.1zM1144.5 2340.6h55.8v50.7h-55.8zM1200 2340.6h25.1v38.8h-25.1zM1224.8 2340.6h7.3v18.1h-7.3zM1231.8 2340.6h48.5v15.2h-48.5zM1280 2340.6h28.8v9.2h-28.8zM1308.5 2340.6h39.3v5.1h-39.3zM1370 2340.6h22.3v9.2h-22.3zM1392 2340.6h22.5v15.2h-22.5zM1440 2340.6h75.3v9.2h-75.3zM1539 2340.6h3.3v53.3h-3.3zM1542 2340.6h3.3v52.7h-3.3zM1545 2340.6h3.3v52h-3.3zM1548 2340.6h3.3v51.4h-3.3zM1551 2340.6h3.3v50.7h-3.3zM1554 2340.6h3.3v50.1h-3.3zM1557 2340.6h3.3v49.4h-3.3zM1560 2340.6h3.3v48.8h-3.3zM1563 2340.6h3.3v48.1h-3.3zM1566.1 2340.6h3.3v47.5h-3.3zM1569.1 2340.6h3.3v46.8h-3.3zM1572.1 2340.6h3.3v46.2h-3.3zM1575.1 2340.6h3.3v45.5h-3.3zM1578.1 2340.6h3.3v44.9h-3.3zM1581.1 2340.6h3.3v44.2h-3.3zM1584.1 2340.6h3.3v43.6h-3.3zM1587.1 2340.6h3.3v42.9h-3.3zM1590.1 2340.6h3.3v42.3h-3.3zM1593.1 2340.6h3.3v41.7h-3.3zM1596.1 2340.6h3.3v41h-3.3zM1599.1 2340.6h3.3v40.4h-3.3zM1602.1 2340.6h3.3v39.7h-3.3zM1605.1 2340.6h3.3v39.1h-3.3zM1608.1 2340.6h3.3v38.4h-3.3zM1611.2 2340.6h3.3v37.8h-3.3zM1614.2 2340.6h3.3v37.1h-3.3zM1617.2 2340.6h3.3v36.5h-3.3zM1620.2 2340.6h3.3v35.8h-3.3zM1623.2 2340.6h3.3v35.2h-3.3zM1626.2 2340.6h3.3v34.5h-3.3zM1629.2 2340.6h3.3v33.9h-3.3zM1632.2 2340.6h3.3v33.2h-3.3zM1635.2 2340.6h32.6v12.2h-32.6zM1667.5 2340.6h14.3v9.2h-14.3zM1681.5 2340.6h55.3v21.1h-55.3zM1736.5 2340.6h164.3v15.2h-164.3zM1900.5 2340.6h14.8v15.2h-14.8zM136 2460.8h126.3v1.2h-126.3zM262 2453.1h34v8.9h-34zM298.6 2450.1h10v11.8h-10zM308.3 2404.6h112v57.4h-112zM420 2414.6h20.3v47.4h-20.3zM440 2402.8h35.8v59.2h-35.8zM526 2447.2h119.3v14.8h-119.3zM645 2444.2h31.3v17.8h-31.3zM720 2459h19.1v3h-19.1zM755.8 2457.8h87.4v4.1h-87.4zM842.9 2447.2h60.1v14.8h-60.1zM970.5 2453.1h15.3v8.9h-15.3zM985.5 2447.2h28.4v14.8h-28.4zM1013.6 2425.3h56.2v36.7h-56.2zM1069.5 2405.7h34.1v56.2h-34.1zM1103.3 2426.5h21.7v35.5h-21.7zM1124.7 2408.7h75.6v53.3h-75.6zM1200 2414.6h25.1v47.4h-25.1zM1224.8 2426.5h7.3v35.5h-7.3zM1231.8 2444.2h48.5v17.8h-48.5zM1280 2447.2h28.8v14.8h-28.8zM1308.5 2451.9h39.3v10.1h-39.3zM1370 2447.2h22.3v14.8h-22.3zM1392 2447.2h22.5v14.8h-22.5zM1414.2 2459h15.1v3h-15.1zM1440 2444.2h75.3v17.8h-75.3zM1539 2409h3.3v53h-3.3zM1542 2409.7h3.3v52.3h-3.3zM1545 2410.3h3.3v51.7h-3.3zM1548 2411h3.3v51h-3.3zM1551 2411.6h3.3v50.4h-3.3zM1554 2412.3h3.3v49.7h-3.3zM1557 2412.9h3.3v49.1h-3.3zM1560 2413.6h3.3v48.4h-3.3zM1563 2414.2h3.3v47.8h-3.3zM1566.1 2414.9h3.3v47.1h-3.3zM1569.1 2415.5h3.3v46.5h-3.3zM1572.1 2416.1h3.3v45.8h-3.3zM1575.1 2416.8h3.3v45.2h-3.3zM1578.1 2417.4h3.3v44.5h-3.3zM1581.1 2418.1h3.3v43.9h-3.3zM1584.1 2418.7h3.3v43.2h-3.3zM1587.1 2419.4h3.3v42.6h-3.3zM1590.1 2420h3.3v41.9h-3.3zM1593.1 2420.7h3.3v41.3h-3.3zM1596.1 2421.3h3.3v40.7h-3.3zM1599.1 2422h3.3v40h-3.3zM1602.1 2422.6h3.3v39.4h-3.3zM1605.1 2423.3h3.3v38.7h-3.3zM1608.1 2423.9h3.3v38.1h-3.3zM1611.2 2424.6h3.3v37.4h-3.3zM1614.2 2425.2h3.3v36.8h-3.3zM1617.2 2425.9h3.3v36.1h-3.3zM1620.2 2426.5h3.3v35.5h-3.3zM1623.2 2427.2h3.3v34.8h-3.3zM1626.2 2427.8h3.3v34.2h-3.3zM1629.2 2428.4h3.3v33.5h-3.3zM1632.2 2429.1h3.3v32.9h-3.3zM1635.2 2440.1h32.6v21.9h-32.6zM1667.5 2449h14.3v13h-14.3zM1681.5 2441.3h55.3v20.7h-55.3zM1736.5 2444.2h164.3v17.8h-164.3zM1900.5 2444.2h14.8v17.8h-14.8z"/>
<path fill="#c98c34" d="M140 419.9h8.3v6.3h-8.3zM171 419.9h11.3v6.3h-11.3zM202 431.7h5.3v3.3h-5.3zM288 428.8h5.3v6.3h-5.3zM748 428.8h4.3v3.3h-4.3zM762 393.2h11.3v35.9h-11.3zM776 399.1h4.3v18.1h-4.3zM783 393.2h18.3v59.3h-18.3zM803 393.2h4.3v15.2h-4.3zM824 393.2h25.3v59.3h-25.3zM852 393.2h7.3v21.1h-7.3zM886 393.2h29.3v59.3h-29.3zM917 393.2h4.3v35.9h-4.3zM924 393.2h4.3v24.1h-4.3zM931 396.2h11.3v6.3h-11.3zM945 393.2h5.3v18.1h-5.3zM1010 393.2h19.3v59.3h-19.3zM1097 393.2h7.3v27h-7.3zM1107 393.2h8.3v18.1h-8.3zM1124 393.2h11.3v47.8h-11.3zM1138 393.2h15.3v53.7h-15.3zM1155 393.2h8.3v59.3h-8.3zM1204 393.2h11.3v12.2h-11.3zM1218 393.2h11.3v18.1h-11.3zM1238 393.2h12.3v12.2h-12.3zM1252 393.2h8.3v18.1h-8.3zM1283 399.1h4.3v21.1h-4.3zM1311 419.9h4.3v9.2h-4.3zM1318 408h4.3v9.2h-4.3zM1504 411h12.3v12.2h-12.3zM1532 411h18.3v12.2h-18.3zM1614 411h5.3v12.2h-5.3zM1621 419.9h5.3v18.1h-5.3zM1635 425.8h4.3v15.2h-4.3zM1711 411h5.3v12.2h-5.3zM1718 414h14.3v12.2h-14.3zM1735 414h12.3v9.2h-12.3zM1749 396.2h5.3v18.1h-5.3zM1763 414h5.3v21.1h-5.3zM1770 396.2h4.3v18.1h-4.3zM1777 393.2h8.3v18.1h-8.3zM1787 393.2h4.3v18.1h-4.3zM1794 393.2h4.3v30h-4.3zM1801 396.2h4.3v12.2h-4.3zM1808 428.8h8.3v18.1h-8.3zM1891 434.7h7.3v6.3h-7.3zM1901 428.8h11.3v6.3h-11.3zM133.3 467.8h5v6.3h-5zM140 497.4h8.3v6.3h-8.3zM171 509.3h11.3v5.9h-11.3zM209 509.3h5.3v5.9h-5.3zM216 509.3h5.3v5.9h-5.3zM223 455.9h4.3v6.3h-4.3zM237 455.9h4.3v6.3h-4.3zM282 455.9h4.3v6.3h-4.3zM288 455.9h5.3v6.3h-5.3zM351 455.9h8.3v3.3h-8.3zM703 455.9h4.3v12.2h-4.3zM748 455.9h4.3v6.3h-4.3zM762 461.8h11.3v30h-11.3zM776 458.9h4.3v12.2h-4.3zM783 455.9h6.3v59.3h-6.3zM789 455.9h12.3v41.9h-12.3zM803 455.9h4.3v30h-4.3zM824 455.9h25.3v59.3h-25.3zM852 455.9h7.3v18.1h-7.3zM893 455.9h22.3v59.3h-22.3zM917 455.9h4.3v30h-4.3zM924 455.9h4.3v21.1h-4.3zM945 455.9h21.3v9.2h-21.3zM1010 455.9h19.3v59.3h-19.3zM1055 455.9h4.3v21.1h-4.3zM1083 455.9h11.3v18.1h-11.3zM1097 455.9h7.3v27h-7.3zM1107 455.9h8.3v12.2h-8.3zM1124 455.9h11.3v47.8h-11.3zM1138 455.9h25.3v59.3h-25.3zM1218 455.9h11.3v18.1h-11.3zM1283 455.9h4.3v27h-4.3zM1342 455.9h4.3v12.2h-4.3zM1504 470.7h12.3v12.2h-12.3zM1525 467.8h4.3v12.2h-4.3zM1532 470.7h4.3v21.1h-4.3zM1539 464.8h4.3v15.2h-4.3zM1546 470.7h4.3v12.2h-4.3zM1607 455.9h5.3v9.2h-5.3zM1614 455.9h5.3v18.1h-5.3zM1628 455.9h5.3v18.1h-5.3zM1635 455.9h5.3v15.2h-5.3zM1642 455.9h4.3v18.1h-4.3zM1649 461.8h4.3v6.3h-4.3zM1656 455.9h4.3v18.1h-4.3zM1663 455.9h14.3v15.2h-14.3zM1680 455.9h19.3v18.1h-19.3zM1701 455.9h8.3v24.1h-8.3zM1718 467.8h14.3v9.2h-14.3zM1735 467.8h12.3v12.2h-12.3zM1749 455.9h12.3v18.1h-12.3zM1770 455.9h4.3v18.1h-4.3zM1777 455.9h8.3v12.2h-8.3zM1794 455.9h4.3v18.1h-4.3zM1801 455.9h4.3v18.1h-4.3zM1808 455.9h8.3v18.1h-8.3zM1877 455.9h4.3v18.1h-4.3zM1891 455.9h7.3v15.2h-7.3zM1901 455.9h11.3v18.1h-11.3zM140 554.2h8.3v6.3h-8.3zM171 574.9h11.3v3h-11.3zM185 574.9h14.3v3h-14.3zM202 572h5.3v5.9h-5.3zM282 542.3h4.3v6.3h-4.3zM288 536.4h5.3v6.3h-5.3zM703 548.2h4.3v18.1h-4.3zM762 524.5h11.3v38.9h-11.3zM776 557.1h4.3v12.2h-4.3zM783 518.6h18.3v59.3h-18.3zM824 518.6h25.3v59.3h-25.3zM852 518.6h7.3v24.1h-7.3zM893 518.6h22.3v59.3h-22.3zM917 518.6h4.3v41.9h-4.3zM924 518.6h4.3v24.1h-4.3zM1010 518.6h19.3v59.3h-19.3zM1097 518.6h7.3v30h-7.3zM1107 536.4h8.3v12.2h-8.3zM1124 518.6h29.3v47.8h-29.3zM1155 518.6h8.3v59.3h-8.3zM1218 518.6h11.3v30h-11.3zM1283 536.4h4.3v24.1h-4.3zM1614 569h5.3v8.9h-5.3zM1777 548.2h8.3v12.2h-8.3zM1794 536.4h4.3v18.1h-4.3zM1891 572h7.3v5.9h-7.3zM1901 560.1h11.3v17.8h-11.3zM1607 631.7h5.3v8.9h-5.3zM1628 637.6h5.3v3h-5.3zM171 676.6h11.3v6.3h-11.3zM202 673.6h5.3v6.3h-5.3zM209 676.6h5.3v6.3h-5.3zM140 706.7h8.3v3.3h-8.3zM202 706.7h5.3v6.3h-5.3zM209 763h5.3v3h-5.3zM202 805h5.3v6.3h-5.3zM526.6 1890.2h29.4v11.8h-29.4zM610 1860.6h33.3v24h-33.3zM664 1890.2h12.3v11.8h-12.3zM1244 1897.3h64.8v4.7h-64.8zM1323 1899h24.8v3h-24.8zM1440 1842.8h80.6v59.2h-80.6zM1520.3 1878.3h15v23.7h-15zM1635.2 1842.8h32.6v59.2h-32.6zM1667.5 1842.8h14.3v6.3h-14.3zM1681.5 1890.2h28.8v11.8h-28.8zM1710 1890.2h26.8v11.8h-26.8zM1736.5 1884.2h164.3v17.8h-164.3zM1900.5 1842.8h14.8v47.7h-14.8zM610 1958.3h33.3v5.9h-33.3zM664 1952.4h12.3v11.8h-12.3zM1280 1943.5h28.8v6.3h-28.8zM1440 1905h50.3v59.2h-50.3zM1490 1905h30.6v53.6h-30.6zM1635.2 1905h3.2v56.2h-3.2zM1638.1 1905h3.2v55.4h-3.2zM1641.1 1905h3.2v54.6h-3.2zM1644 1905h3.2v53.8h-3.2zM1646.9 1905h3.2v53h-3.2zM1649.9 1905h3.2v52.2h-3.2zM1652.8 1905h3.2v51.3h-3.2zM1655.8 1905h3.2v50.5h-3.2zM1658.7 1905h3.2v49.7h-3.2zM1661.6 1905h3.2v48.9h-3.2zM1664.6 1905h3.2v48.1h-3.2zM1667.5 1943.5h14.3v9.2h-14.3zM1736.5 1943.5h164.3v12.2h-164.3zM1900.5 1905h14.8v53.6h-14.8zM526.6 1967.2h29.4v18.1h-29.4zM610 2011.6h33.3v14.8h-33.3zM1440 1967.2h80.6v59.2h-80.6zM1520.3 2005.7h15v20.7h-15zM1635.2 1967.2h3.2v57.3h-3.2zM1638.1 1967.2h3.2v56.4h-3.2zM1641.1 1967.2h3.2v55.5h-3.2zM1644 1967.2h3.2v54.6h-3.2zM1646.9 1967.2h3.2v53.7h-3.2zM1649.9 1967.2h3.2v52.7h-3.2zM1652.8 1967.2h3.2v51.8h-3.2zM1655.8 1967.2h3.2v50.9h-3.2zM1658.7 1967.2h3.2v50h-3.2zM1661.6 1967.2h3.2v49.1h-3.2zM1664.6 1967.2h3.2v48.2h-3.2zM1667.5 1973.2h14.3v12.2h-14.3zM1736.5 1990.9h164.3v12.2h-164.3zM1900.5 1967.2h14.8v53.6h-14.8zM526.6 2029.5h29.4v12.2h-29.4zM1440 2029.5h50.3v59.2h-50.3zM1490 2029.5h30.6v53.6h-30.6zM1520.3 2059.1h15v29.6h-15zM1635.2 2029.5h3.2v57.5h-3.2zM1638.1 2029.5h3.2v56.8h-3.2zM1641.1 2029.5h3.2v56.2h-3.2zM1644 2029.5h3.2v55.5h-3.2zM1646.9 2029.5h3.2v54.9h-3.2zM1649.9 2029.5h3.2v54.2h-3.2zM1652.8 2029.5h3.2v53.6h-3.2zM1655.8 2029.5h3.2v52.9h-3.2zM1658.7 2029.5h3.2v52.3h-3.2zM1661.6 2029.5h3.2v51.6h-3.2zM1664.6 2029.5h3.2v51h-3.2zM1681.5 2065h55.3v6.3h-55.3zM1736.5 2062h164.3v9.2h-164.3zM1900.5 2029.5h14.8v53.6h-14.8zM526.6 2091.7h29.4v9.2h-29.4zM1900.5 2257.6h14.8v17.8h-14.8z"/>
<path fill="#f0862f" d="M755 446.6h4.3v5.9h-4.3zM776 434.7h4.3v17.8h-4.3zM803 443.6h4.3v8.9h-4.3zM810 393.2h4.3v59.3h-4.3zM817 414h4.3v38.5h-4.3zM862 393.2h21.3v59.3h-21.3zM931 428.8h11.3v23.7h-11.3zM955 440.6h5.3v11.9h-5.3zM969 393.2h14.3v59.3h-14.3zM986 393.2h6.3v59.3h-6.3zM992 393.2h5.3v41.9h-5.3zM1000 393.2h7.3v59.3h-7.3zM1107 440.6h8.3v11.9h-8.3zM1117 425.8h5.3v26.7h-5.3zM1166 393.2h11.3v59.3h-11.3zM1204 434.7h11.3v17.8h-11.3zM1218 434.7h11.3v17.8h-11.3zM1231 428.8h5.3v23.7h-5.3zM1238 428.8h12.3v23.7h-12.3zM1252 434.7h8.3v17.8h-8.3zM1276 393.2h5.3v59.3h-5.3zM1283 443.6h4.3v8.9h-4.3zM1290 393.2h4.3v59.3h-4.3zM1297 434.7h4.3v17.8h-4.3zM1311 449.5h4.3v3h-4.3zM1532 446.6h18.3v5.9h-18.3zM1763 440.6h5.3v11.9h-5.3zM1770 440.6h4.3v11.9h-4.3zM1794 431.7h4.3v20.8h-4.3zM1801 440.6h4.3v11.9h-4.3zM1901 449.5h11.3v3h-11.3zM776 476.7h4.3v12.2h-4.3zM803 488.5h4.3v9.2h-4.3zM810 458.9h4.3v35.9h-4.3zM817 455.9h4.3v59.3h-4.3zM862 455.9h29.3v59.3h-29.3zM931 479.6h11.3v12.2h-11.3zM969 455.9h4.3v59.3h-4.3zM976 461.8h7.3v35.9h-7.3zM986 458.9h11.3v18.1h-11.3zM1000 455.9h7.3v59.3h-7.3zM1107 473.7h8.3v12.2h-8.3zM1117 461.8h5.3v24.1h-5.3zM1166 455.9h11.3v59.3h-11.3zM1204 455.9h11.3v30h-11.3zM1218 473.7h11.3v18.1h-11.3zM1231 461.8h5.3v18.1h-5.3zM1238 455.9h12.3v24.1h-12.3zM1252 455.9h8.3v18.1h-8.3zM1290 455.9h4.3v35.9h-4.3zM1297 455.9h4.3v24.1h-4.3zM1546 500.4h4.3v6.3h-4.3zM776 539.4h4.3v18.1h-4.3zM803 530.5h4.3v21.1h-4.3zM810 521.6h4.3v47.8h-4.3zM817 518.6h4.3v44.8h-4.3zM862 518.6h29.3v59.3h-29.3zM931 554.2h11.3v18.1h-11.3zM969 536.4h4.3v41.5h-4.3zM976 518.6h7.3v59.3h-7.3zM986 518.6h11.3v30h-11.3zM1000 518.6h7.3v59.3h-7.3zM1107 518.6h8.3v18.1h-8.3zM1117 533.4h5.3v27h-5.3zM1166 518.6h11.3v59.3h-11.3zM1204 518.6h11.3v21.1h-11.3zM1218 548.2h11.3v12.2h-11.3zM1231 524.5h5.3v21.1h-5.3zM1238 518.6h12.3v27h-12.3zM1252 518.6h8.3v30h-8.3zM1269 518.6h12.3v35.9h-12.3zM1290 518.6h4.3v59.3h-4.3zM1297 518.6h4.3v27h-4.3zM1546 572h4.3v3.3h-4.3zM776 584.3h4.3v21.1h-4.3zM803 581.3h4.3v24.1h-4.3zM810 581.3h4.3v35.9h-4.3zM817 587.2h4.3v30h-4.3zM862 581.3h21.3v59.3h-21.3zM931 584.3h11.3v21.1h-11.3zM969 581.3h4.3v59.3h-4.3zM976 581.3h7.3v35.9h-7.3zM986 581.3h11.3v18.1h-11.3zM1000 581.3h7.3v59.3h-7.3zM1107 581.3h8.3v15.2h-8.3zM1166 587.2h11.3v24.1h-11.3zM1180 581.3h7.3v12.2h-7.3zM1204 581.3h11.3v18.1h-11.3zM1218 581.3h11.3v12.2h-11.3zM1231 581.3h19.3v18.1h-19.3zM1252 581.3h8.3v12.2h-8.3zM1276 581.3h5.3v35.9h-5.3zM1290 581.3h4.3v59.3h-4.3zM1297 581.3h4.3v24.1h-4.3zM1304 634.7h18.3v5.9h-18.3zM1801 587.2h4.3v6.3h-4.3zM776 644h4.3v12.2h-4.3zM803 644h4.3v18.1h-4.3zM810 644h4.3v30h-4.3zM817 644h4.3v50.8h-4.3zM862 644h21.3v59.3h-21.3zM931 644h11.3v9.2h-11.3zM976 644h7.3v18.1h-7.3zM986 644h11.3v18.1h-11.3zM1000 644h7.3v59.3h-7.3zM1107 644h8.3v15.2h-8.3zM1166 644h11.3v30h-11.3zM1180 644h7.3v6.3h-7.3zM1204 644h56.3v18.1h-56.3zM1290 644h4.3v30h-4.3zM1297 644h4.3v24.1h-4.3zM1304 644h4.3v6.3h-4.3zM776 736.4h4.3v29.6h-4.3zM803 706.7h4.3v35.9h-4.3zM810 706.7h4.3v59.3h-4.3zM817 718.6h4.3v47.4h-4.3zM862 706.7h21.3v59.3h-21.3zM931 745.2h11.3v15.2h-11.3zM976 706.7h7.3v59.3h-7.3zM986 706.7h11.3v30h-11.3zM1000 706.7h7.3v59.3h-7.3zM1107 751.2h8.3v14.8h-8.3zM1117 742.3h5.3v23.7h-5.3zM1166 706.7h11.3v30h-11.3zM1180 760.1h7.3v5.9h-7.3zM1204 748.2h25.3v17.8h-25.3zM1231 754.1h5.3v11.9h-5.3zM1238 742.3h12.3v23.7h-12.3zM1252 748.2h8.3v17.8h-8.3zM1276 706.7h5.3v59.3h-5.3zM1290 706.7h4.3v59.3h-4.3zM1297 736.4h4.3v27h-4.3zM1304 751.2h18.3v6.3h-18.3zM1546 748.2h4.3v9.2h-4.3zM526.6 1848.7h29.4v6.3h-29.4zM975.7 1872.4h10.1v12.2h-10.1zM985.5 1845.8h28.4v6.3h-28.4zM1013.6 1842.8h35.3v3.3h-35.3zM1048.6 1854.6h21.2v6.3h-21.2zM1069.5 1881.3h34.1v3.3h-34.1zM1103.3 1866.5h21.7v27h-21.7zM1224.8 1842.8h7.3v18.1h-7.3zM1388 1842.8h26.5v21.1h-26.5zM526.6 1934.6h29.4v6.3h-29.4zM975.7 1946.5h10.1v17.8h-10.1zM985.5 1940.5h28.4v12.2h-28.4zM1013.6 1922.8h35.3v18.1h-35.3zM1048.6 1916.9h21.2v24h-21.2zM1069.5 1910.9h34.1v6.3h-34.1zM1103.3 1905h21.7v35.9h-21.7zM1224.8 1940.5h7.3v23.7h-7.3zM1231.8 1946.5h12.5v6.3h-12.5zM1280 1958.3h28.8v5.9h-28.8zM1388 1931.7h26.5v27h-26.5zM1539 1907.1h3.3v6.4h-3.3zM1542 1907.7h3.3v6.5h-3.3zM1545 1908.4h3.3v6.7h-3.3zM1548 1909h3.3v6.9h-3.3zM1551 1909.6h3.3v7.1h-3.3zM1554 1910.3h3.3v7.3h-3.3zM1557 1910.9h3.3v7.5h-3.3zM1560 1911.5h3.3v7.7h-3.3zM1563 1912.1h3.3v7.8h-3.3zM1566.1 1912.8h3.3v8h-3.3zM1569.1 1913.4h3.3v8.2h-3.3zM1572.1 1914h3.3v8.4h-3.3zM1575.1 1914.7h3.3v8.6h-3.3zM1578.1 1915.3h3.3v8.8h-3.3zM1581.1 1915.9h3.3v9h-3.3zM1584.1 1916.5h3.3v9.1h-3.3zM1587.1 1917.2h3.3v9.3h-3.3zM1590.1 1917.8h3.3v9.5h-3.3zM1593.1 1918.4h3.3v9.7h-3.3zM1596.1 1919.1h3.3v9.9h-3.3zM1599.1 1919.7h3.3v10.1h-3.3zM1602.1 1920.3h3.3v10.2h-3.3zM1605.1 1920.9h3.3v10.4h-3.3zM1608.1 1921.6h3.3v10.6h-3.3zM1611.2 1922.2h3.3v10.8h-3.3zM1614.2 1922.8h3.3v11h-3.3zM1617.2 1923.5h3.3v11.2h-3.3zM1620.2 1924.1h3.3v11.4h-3.3zM1623.2 1924.7h3.3v11.5h-3.3zM1626.2 1925.4h3.3v11.7h-3.3zM1629.2 1926h3.3v11.9h-3.3zM1632.2 1926.6h3.3v12.1h-3.3zM1681.5 1922.8h55.3v6.3h-55.3zM975.7 1990.9h10.1v12.2h-10.1zM985.5 1996.8h28.4v12.2h-28.4zM1013.6 1967.2h35.3v18.1h-35.3zM1048.6 1967.2h21.2v21.1h-21.2zM1069.5 1967.2h34.1v6.3h-34.1zM1103.3 1967.2h21.7v24h-21.7zM1124.7 1970.2h20.1v3.3h-20.1zM1144.5 1967.2h55.8v3.3h-55.8zM1224.8 1979.1h7.3v12.2h-7.3zM1388 1976.1h26.5v30h-26.5zM1539 1970.2h3.3v3.4h-3.3zM1542 1970.2h3.3v3.7h-3.3zM1545 1970.2h3.3v4h-3.3zM1548 1970.2h3.3v4.3h-3.3zM1551 1970.2h3.3v4.6h-3.3zM1554 1970.2h3.3v4.8h-3.3zM1557 1970.2h3.3v5.1h-3.3zM1560 1970.2h3.3v5.4h-3.3zM1563 1970.2h3.3v5.7h-3.3zM1566.1 1970.2h3.3v5.9h-3.3zM1569.1 1970.2h3.3v6.2h-3.3zM1572.1 1970.2h3.3v6.5h-3.3zM1575.1 1970.2h3.3v6.8h-3.3zM1578.1 1970.2h3.3v7.1h-3.3zM1581.1 1970.2h3.3v7.3h-3.3zM1584.1 1970.2h3.3v7.6h-3.3zM1587.1 1970.2h3.3v7.9h-3.3zM1590.1 1970.2h3.3v8.2h-3.3zM1593.1 1970.2h3.3v8.4h-3.3zM1596.1 1970.2h3.3v8.7h-3.3zM1599.1 1970.2h3.3v9h-3.3zM1602.1 1970.2h3.3v9.3h-3.3zM1605.1 1970.2h3.3v9.6h-3.3zM1608.1 1970.2h3.3v9.8h-3.3zM1611.2 1970.2h3.3v10.1h-3.3zM1614.2 1970.2h3.3v10.4h-3.3zM1617.2 1970.2h3.3v10.7h-3.3zM1620.2 1970.2h3.3v10.9h-3.3zM1623.2 1970.2h3.3v11.2h-3.3zM1626.2 1970.2h3.3v11.5h-3.3zM1629.2 1970.2h3.3v11.8h-3.3zM1632.2 1970.2h3.3v12.1h-3.3zM1681.5 1973.2h55.3v9.2h-55.3zM1736.5 1973.2h164.3v6.3h-164.3zM975.7 2076.8h10.1v11.8h-10.1zM985.5 2029.5h28.4v9.2h-28.4zM1013.6 2029.5h35.3v18.1h-35.3zM1048.6 2029.5h21.2v18.1h-21.2zM1069.5 2029.5h34.1v3.3h-34.1zM1103.3 2029.5h21.7v21.1h-21.7zM1388 2029.5h26.5v21.1h-26.5zM1539 2029.5h3.3v3.3h-3.3zM1542 2029.5h3.3v3.4h-3.3zM1545 2029.5h3.3v3.4h-3.3zM1548 2029.5h3.3v3.5h-3.3zM1551 2029.5h3.3v3.6h-3.3zM1554 2029.5h3.3v3.6h-3.3zM1557 2029.5h3.3v3.7h-3.3zM1560 2029.5h3.3v3.7h-3.3zM1563 2029.5h3.3v3.8h-3.3zM1566.1 2029.5h3.3v3.8h-3.3zM1569.1 2029.5h3.3v3.9h-3.3zM1572.1 2029.5h3.3v3.9h-3.3zM1575.1 2029.5h3.3v4h-3.3zM1578.1 2029.5h3.3v4.1h-3.3zM1581.1 2029.5h3.3v4.1h-3.3zM1584.1 2029.5h3.3v4.2h-3.3zM1587.1 2029.5h3.3v4.2h-3.3zM1590.1 2029.5h3.3v4.3h-3.3zM1593.1 2029.5h3.3v4.3h-3.3zM1596.1 2029.5h3.3v4.4h-3.3zM1599.1 2029.5h3.3v4.4h-3.3zM1602.1 2029.5h3.3v4.5h-3.3zM1605.1 2029.5h3.3v4.6h-3.3zM1608.1 2029.5h3.3v4.6h-3.3zM1611.2 2029.5h3.3v4.7h-3.3zM1614.2 2029.5h3.3v4.7h-3.3zM1617.2 2029.5h3.3v4.8h-3.3zM1620.2 2029.5h3.3v4.8h-3.3zM1623.2 2029.5h3.3v4.9h-3.3zM1626.2 2029.5h3.3v4.9h-3.3zM1629.2 2029.5h3.3v5h-3.3zM1632.2 2029.5h3.3v5.1h-3.3zM975.7 2091.7h10.1v18.1h-10.1zM985.5 2091.7h28.4v12.2h-28.4zM1013.6 2115.4h35.3v21.1h-35.3zM1048.6 2112.4h21.2v21.1h-21.2zM1103.3 2121.3h21.7v24h-21.7zM1388 2091.7h26.5v24h-26.5zM1539 2141.7h3.3v2.8h-3.3zM1542 2141h3.3v2.9h-3.3zM1545 2140.4h3.3v3.1h-3.3zM1548 2139.7h3.3v3.2h-3.3zM1551 2139.1h3.3v3.4h-3.3zM1554 2138.4h3.3v3.5h-3.3zM1557 2137.8h3.3v3.7h-3.3zM1560 2137.1h3.3v3.8h-3.3zM1563 2136.5h3.3v4h-3.3zM1566.1 2135.8h3.3v4.1h-3.3zM1569.1 2135.2h3.3v4.3h-3.3zM1572.1 2134.6h3.3v4.4h-3.3zM1575.1 2133.9h3.3v4.6h-3.3zM1578.1 2133.3h3.3v4.7h-3.3zM1581.1 2132.6h3.3v4.9h-3.3zM1584.1 2132h3.3v5h-3.3zM1587.1 2131.3h3.3v5.2h-3.3zM1590.1 2130.7h3.3v5.3h-3.3zM1593.1 2130h3.3v5.5h-3.3zM1596.1 2129.4h3.3v5.6h-3.3zM1599.1 2128.7h3.3v5.8h-3.3zM1602.1 2128.1h3.3v5.9h-3.3zM1605.1 2127.4h3.3v6h-3.3zM1608.1 2126.8h3.3v6.2h-3.3zM1611.2 2126.1h3.3v6.3h-3.3zM1614.2 2125.5h3.3v6.5h-3.3zM1617.2 2124.8h3.3v6.6h-3.3zM1620.2 2124.2h3.3v6.8h-3.3zM1623.2 2123.5h3.3v6.9h-3.3zM1626.2 2122.9h3.3v7.1h-3.3zM1629.2 2122.3h3.3v7.2h-3.3zM1632.2 2121.6h3.3v7.4h-3.3zM308.3 2201.3h112v6.3h-112zM420 2201.3h58.3v6.3h-58.3zM975.7 2195.3h10.1v12.2h-10.1zM985.5 2189.4h28.4v12.2h-28.4zM1013.6 2183.5h35.3v24h-35.3zM1048.6 2174.6h21.2v30h-21.2zM1069.5 2210.1h34.1v3h-34.1zM1103.3 2183.5h21.7v27h-21.7zM1388 2171.7h26.5v21.1h-26.5zM1539 2203.8h3.3v3.4h-3.3zM1542 2203.1h3.3v3.4h-3.3zM1545 2202.4h3.3v3.5h-3.3zM1548 2201.6h3.3v3.6h-3.3zM1551 2200.9h3.3v3.7h-3.3zM1554 2200.2h3.3v3.8h-3.3zM1557 2199.4h3.3v3.9h-3.3zM1560 2198.7h3.3v4h-3.3zM1563 2197.9h3.3v4.1h-3.3zM1566.1 2197.2h3.3v4.2h-3.3zM1569.1 2196.5h3.3v4.3h-3.3zM1572.1 2195.7h3.3v4.4h-3.3zM1575.1 2195h3.3v4.5h-3.3zM1578.1 2194.2h3.3v4.6h-3.3zM1581.1 2193.5h3.3v4.7h-3.3zM1584.1 2192.8h3.3v4.7h-3.3zM1587.1 2192h3.3v4.8h-3.3zM1590.1 2191.3h3.3v4.9h-3.3zM1593.1 2190.5h3.3v5h-3.3zM1596.1 2189.8h3.3v5.1h-3.3zM1599.1 2189.1h3.3v5.2h-3.3zM1602.1 2188.3h3.3v5.3h-3.3zM1605.1 2187.6h3.3v5.4h-3.3zM1608.1 2186.8h3.3v5.5h-3.3zM1611.2 2186.1h3.3v5.6h-3.3zM1614.2 2185.3h3.3v5.7h-3.3zM1617.2 2184.6h3.3v5.8h-3.3zM1620.2 2183.9h3.3v5.9h-3.3zM1623.2 2183.1h3.3v5.9h-3.3zM1626.2 2182.4h3.3v6h-3.3zM1629.2 2181.7h3.3v6.1h-3.3zM1632.2 2180.9h3.3v6.2h-3.3zM150 2257.6h15.3v6.3h-15.3zM308.3 2263.5h112v6.3h-112zM420 2263.5h58.3v6.3h-58.3zM526.6 2248.7h29.4v3.3h-29.4zM975.7 2245.7h10.1v18.1h-10.1zM985.5 2245h3.4v18.8h-3.4zM988.6 2243.5h3.4v20.2h-3.4zM991.7 2242h3.4v21.7h-3.4zM994.9 2240.4h3.4v23.2h-3.4zM998 2238.9h3.4v24.6h-3.4zM1001.1 2237.3h3.4v26.1h-3.4zM1004.2 2235.7h3.4v27.6h-3.4zM1007.4 2234.1h3.4v29.2h-3.4zM1010.5 2232.5h3.4v30.7h-3.4zM1013.6 2239.8h35.3v27h-35.3zM1048.6 2245.7h21.2v21.1h-21.2zM1069.5 2269.4h34.1v3.3h-34.1zM1103.3 2245.7h21.7v24h-21.7zM1388 2236.8h26.5v24h-26.5zM1539 2269.3h3.3v4.6h-3.3zM1542 2269.1h3.3v4.7h-3.3zM1545 2268.9h3.3v4.9h-3.3zM1548 2268.8h3.3v5h-3.3zM1551 2268.6h3.3v5.2h-3.3zM1554 2268.4h3.3v5.3h-3.3zM1557 2268.2h3.3v5.5h-3.3zM1560 2268h3.3v5.6h-3.3zM1563 2267.8h3.3v5.8h-3.3zM1566.1 2267.6h3.3v5.9h-3.3zM1569.1 2267.5h3.3v6h-3.3zM1572.1 2267.3h3.3v6.2h-3.3zM1575.1 2267.1h3.3v6.3h-3.3zM1578.1 2266.9h3.3v6.5h-3.3zM1581.1 2266.7h3.3v6.6h-3.3zM1584.1 2266.5h3.3v6.8h-3.3zM1587.1 2266.3h3.3v6.9h-3.3zM1590.1 2266.2h3.3v7.1h-3.3zM1593.1 2266h3.3v7.2h-3.3zM1596.1 2265.8h3.3v7.4h-3.3zM1599.1 2265.6h3.3v7.5h-3.3zM1602.1 2265.4h3.3v7.7h-3.3zM1605.1 2265.2h3.3v7.8h-3.3zM1608.1 2265.1h3.3v8h-3.3zM1611.2 2264.9h3.3v8.1h-3.3zM1614.2 2264.7h3.3v8.3h-3.3zM1617.2 2264.5h3.3v8.4h-3.3zM1620.2 2264.3h3.3v8.6h-3.3zM1623.2 2264.1h3.3v8.7h-3.3zM1626.2 2263.9h3.3v8.9h-3.3zM1629.2 2263.8h3.3v9h-3.3zM1632.2 2263.6h3.3v9.2h-3.3z"/>
<path fill="#1a16f2" d="M931 425.8h11.3v3.3h-11.3zM1311 434.7h4.3v15.2h-4.3zM1318 422.8h4.3v29.6h-4.3zM1325 393.2h63.3v59.3h-63.3zM1391 393.2h5.3v30h-5.3zM1504 446.6h12.3v3.3h-12.3zM1711 446.6h5.3v5.9h-5.3zM1718 443.6h14.3v6.3h-14.3zM1735 440.6h12.3v6.3h-12.3zM1770 434.7h4.3v6.3h-4.3zM1777 434.7h8.3v6.3h-8.3zM1801 437.7h4.3v3.3h-4.3zM1901 443.6h11.3v6.3h-11.3zM223 509.3h4.3v5.9h-4.3zM810 494.4h4.3v1.5h-4.3zM1117 485.5h5.3v3.3h-5.3zM1325 455.9h4.3v59.3h-4.3zM1342 491.5h4.3v23.7h-4.3zM1349 455.9h32.3v59.3h-32.3zM1391 455.9h21.3v24.1h-21.3zM1504 503.3h12.3v3.3h-12.3zM810 518.6h4.3v3.3h-4.3zM1311 557.1h4.3v20.8h-4.3zM1325 518.6h63.3v59.3h-63.3zM1391 518.6h5.3v35.9h-5.3zM776 581.3h4.3v3.3h-4.3zM931 581.3h11.3v3.3h-11.3zM1304 581.3h18.3v30h-18.3zM1325 581.3h14.3v59.3h-14.3zM1342 581.3h4.3v47.8h-4.3zM1349 581.3h104.3v59.3h-104.3zM1504 581.3h12.3v3.3h-12.3zM1656 581.3h4.3v3.3h-4.3zM1663 581.3h14.3v3.3h-14.3zM1711 581.3h5.3v12.2h-5.3zM1718 581.3h29.3v12.2h-29.3zM1749 581.3h12.3v6.3h-12.3zM1770 581.3h4.3v9.2h-4.3zM1777 581.3h8.3v9.2h-8.3zM1794 581.3h4.3v6.3h-4.3zM1801 581.3h4.3v6.3h-4.3zM1877 581.3h4.3v6.3h-4.3zM1901 610.9h11.3v3.3h-11.3zM714 676.6h31.3v2.1h-31.3zM931 679.6h11.3v3.3h-11.3zM1138 694.4h15.3v3.3h-15.3zM1304 661.8h4.3v30h-4.3zM1311 655.9h4.3v24.1h-4.3zM1318 655.9h4.3v27h-4.3zM1325 644h14.3v59.3h-14.3zM1342 658.8h4.3v44.5h-4.3zM1349 644h100.3v59.3h-100.3zM1449 649.9h4.3v47.8h-4.3zM1614 676.6h5.3v3.3h-5.3zM1656 661.8h4.3v3.3h-4.3zM1663 664.8h14.3v3.3h-14.3zM1756 661.8h5.3v6.3h-5.3zM1770 661.8h4.3v6.3h-4.3zM1777 661.8h8.3v9.2h-8.3zM1794 661.8h4.3v6.3h-4.3zM1801 691.4h4.3v3.3h-4.3zM714 724.5h31.3v2.1h-31.3zM776 733.4h4.3v3.3h-4.3zM824 748.2h7.3v3.3h-7.3zM931 730.4h11.3v3.3h-11.3zM1304 709.7h18.3v30h-18.3zM1325 706.7h14.3v59.3h-14.3zM1342 712.6h4.3v35.9h-4.3zM1349 706.7h100.3v59.3h-100.3zM1449 712.6h4.3v50.8h-4.3zM1504 724.5h12.3v3.3h-12.3zM1525 715.6h4.3v3.3h-4.3zM1546 712.6h4.3v3.3h-4.3zM1614 724.5h5.3v3.3h-5.3zM1711 706.7h5.3v12.2h-5.3zM1718 715.6h29.3v12.2h-29.3zM1749 718.6h4.3v3.3h-4.3zM1770 718.6h4.3v6.3h-4.3zM1777 718.6h8.3v12.2h-8.3zM1794 724.5h4.3v6.3h-4.3zM1801 730.4h4.3v6.3h-4.3zM1877 724.5h4.3v3.3h-4.3zM1901 718.6h11.3v6.3h-11.3zM714 784.2h31.3v1.5h-31.3zM776 769.4h4.3v3.3h-4.3zM824 769.4h7.3v3.3h-7.3zM931 769.4h11.3v6.3h-11.3zM1138 769.4h15.3v3.3h-15.3zM1166 769.4h11.3v3.3h-11.3zM1304 775.3h4.3v30h-4.3zM1311 769.4h4.3v24.1h-4.3zM1318 775.3h4.3v27h-4.3zM1325 769.4h14.3v59.3h-14.3zM1342 781.3h4.3v38.9h-4.3zM1349 769.4h100.3v59.3h-100.3zM1449 769.4h4.3v50.8h-4.3zM1525 775.3h25.3v2.1h-25.3zM1711 769.4h36.3v18.1h-36.3zM1770 769.4h4.3v12.2h-4.3zM1777 769.4h8.3v12.2h-8.3zM1794 769.4h4.3v6.3h-4.3zM1808 769.4h8.3v6.3h-8.3zM1304 832.1h18.3v24.1h-18.3zM1325 832.1h14.3v59.3h-14.3zM1342 832.1h4.3v41.9h-4.3zM1349 832.1h100.3v59.3h-100.3zM1449 832.1h4.3v47.8h-4.3zM1711 832.1h36.3v9.2h-36.3zM1770 832.1h4.3v9.2h-4.3zM1777 832.1h8.3v6.3h-8.3zM133.3 905.5h140v2.1h-140zM593 894.8h7.3v3.3h-7.3zM603 906.7h98.3v3.3h-98.3zM703 909.6h8.3v3.3h-8.3zM714 912.6h31.3v3.3h-31.3zM776 894.8h4.3v6.3h-4.3zM931 903.7h11.3v6.3h-11.3zM1010 900.7h19.3v3.3h-19.3zM1283 903.7h4.3v3.3h-4.3zM1304 906.7h18.3v24.1h-18.3zM1325 894.8h14.3v59.3h-14.3zM1342 894.8h4.3v47.8h-4.3zM1349 894.8h100.3v59.3h-100.3zM1449 894.8h4.3v53.7h-4.3zM1456 912.6h94.3v3.3h-94.3zM1614 918.5h5.3v3.3h-5.3zM1621 912.6h184.3v3.3h-184.3zM1877 918.5h4.3v3.3h-4.3zM1884 918.5h4.3v3.3h-4.3zM1901 927.4h11.3v3.3h-11.3zM133.3 1000.8h140v2.1h-140zM593 1010.9h7.3v3.3h-7.3zM603 996h98.3v3.3h-98.3zM703 999h8.3v6.3h-8.3zM714 993.1h31.3v3.3h-31.3zM748 996h11.3v3.3h-11.3zM776 1004.9h4.3v6.3h-4.3zM931 1002h11.3v6.3h-11.3zM1010 1010.9h19.3v3.3h-19.3zM1124 1013.8h53.3v3h-53.3zM1283 1004.9h4.3v3.3h-4.3zM1304 978.3h18.3v30h-18.3zM1325 957.5h14.3v59.3h-14.3zM1342 969.4h4.3v47.4h-4.3zM1349 957.5h100.3v59.3h-100.3zM1449 963.4h4.3v53.4h-4.3zM1456 993.1h94.3v3.3h-94.3zM1607 984.2h5.3v3.3h-5.3zM1614 990.1h5.3v6.3h-5.3zM1621 993.1h184.3v6.3h-184.3zM1877 981.2h11.3v3.3h-11.3zM133.3 1055.8h140v2.1h-140zM593 1076.5h7.3v3h-7.3zM603 1049.8h98.3v3.3h-98.3zM703 1046.9h8.3v3.3h-8.3zM714 1049.8h31.3v3.3h-31.3zM748 1049.9h11.3v3.3h-11.3zM776 1020.2h4.3v6.3h-4.3zM931 1032.1h11.3v6.3h-11.3zM1010 1029.1h19.3v3.3h-19.3zM1124 1026.1h53.3v3.3h-53.3zM1283 1035h4.3v3.3h-4.3zM1304 1032.1h18.3v27h-18.3zM1325 1020.2h14.3v59.3h-14.3zM1342 1020.2h4.3v50.8h-4.3zM1349 1020.2h100.3v59.3h-100.3zM1449 1020.2h4.3v53.7h-4.3zM1456 1049.8h94.3v3.3h-94.3zM1607 1058.7h5.3v3.3h-5.3zM1614 1052.8h5.3v6.3h-5.3zM1621 1043.9h184.3v6.3h-184.3zM1808 1058.7h8.3v3.3h-8.3zM1877 1058.7h35.3v3.3h-35.3zM133.3 1133.3h140v3.3h-140zM275 1136.3h25.3v2.1h-25.3zM303 1139.2h15.3v3h-15.3zM603 1128.6h98.3v5.1h-98.3zM703 1133.3h8.3v3.3h-8.3zM714 1130.3h31.3v4.5h-31.3zM748 1136.3h11.3v3.3h-11.3zM931 1136.3h11.3v5.9h-11.3zM1010 1139.2h19.3v3h-19.3zM1283 1136.3h4.3v3.3h-4.3zM1304 1112.6h18.3v27h-18.3zM1325 1082.9h14.3v59.3h-14.3zM1342 1094.8h4.3v47.4h-4.3zM1349 1082.9h104.3v59.3h-104.3zM1456 1133.3h94.3v5.1h-94.3zM1553 1136.3h41.3v5.9h-41.3zM1597 1136.3h8.3v5.9h-8.3zM1607 1124.4h198.3v6.3h-198.3zM1808 1112.6h8.3v3.3h-8.3zM1877 1115.5h4.3v3.3h-4.3zM1884 1109.6h4.3v3.3h-4.3zM1891 1100.7h7.3v3.3h-7.3zM1901 1106.6h11.3v3.3h-11.3zM133.3 1145.6h140v3.3h-140zM275 1145.6h25.3v3.3h-25.3zM303 1145.6h15.3v2.1h-15.3zM603 1145.6h98.3v3.3h-98.3zM703 1145.6h8.3v3.3h-8.3zM714 1145.6h31.3v3.3h-31.3zM748 1145.6h11.3v1.5h-11.3zM762 1145.6h519.3v1.5h-519.3zM1283 1145.6h18.3v3.3h-18.3zM1304 1145.6h18.3v27h-18.3zM1325 1145.6h14.3v59.3h-14.3zM1342 1145.6h4.3v44.8h-4.3zM1349 1145.6h100.3v59.3h-100.3zM1449 1145.6h4.3v47.8h-4.3zM1456 1145.6h94.3v6.3h-94.3zM1553 1145.6h52.3v4.5h-52.3zM1607 1145.6h209.3v4.5h-209.3zM1877 1145.6h35.3v3.3h-35.3zM133.3 1240.9h140v26.7h-140zM275 1246.8h25.3v20.8h-25.3zM303 1255.7h15.3v11.9h-15.3zM320 1261.7h4.3v5.9h-4.3zM351 1258.7h8.3v8.9h-8.3zM558 1262.9h32.3v4.7h-32.3zM593 1255.7h7.3v11.9h-7.3zM603 1232h98.3v35.6h-98.3zM703 1240.9h8.3v26.7h-8.3zM714 1232h31.3v35.6h-31.3zM748 1243.9h11.3v23.7h-11.3zM762 1224.9h519.3v42.7h-519.3zM1283 1226.1h18.3v41.5h-18.3zM1304 1220.2h18.3v47.4h-18.3zM1325 1208.3h14.3v59.3h-14.3zM1342 1211.3h4.3v56.3h-4.3zM1349 1208.3h104.3v59.3h-104.3zM1456 1232h94.3v35.6h-94.3zM1553 1229.1h52.3v38.5h-52.3zM1607 1229.1h209.3v38.5h-209.3zM1819 1223.1h55.3v44.5h-55.3zM1877 1227.3h35.3v40.3h-35.3zM478 1842.8h8.3v32.9h-8.3zM486 1842.8h40.9v59.2h-40.9zM1520.3 1842.8h15v35.9h-15zM1535 1842.8h4.3v59.2h-4.3zM1900.5 1890.2h14.8v3.3h-14.8zM478 1922.8h8.3v41.4h-8.3zM486 1905h40.9v59.2h-40.9zM526.6 1940.5h29.4v3.3h-29.4zM576 1943.5h34.3v3.3h-34.3zM1280 1955.3h28.8v3.3h-28.8zM1490 1958.3h30.6v5.9h-30.6zM1520.3 1905h19v59.2h-19zM1900.5 1958.3h14.8v5.9h-14.8zM478 1967.2h8.3v35.9h-8.3zM486 1967.2h40.9v59.2h-40.9zM1520.3 1967.2h15v38.8h-15zM1535 1967.2h4.3v59.2h-4.3zM1900.5 2020.5h14.8v5.9h-14.8zM263.7 2082.7h32.3v3.3h-32.3zM478 2029.5h8.3v41.8h-8.3zM486 2029.5h40.9v59.2h-40.9zM1490 2082.7h30.6v5.9h-30.6zM1520.3 2029.5h15v30h-15zM1535 2029.5h4.3v59.2h-4.3zM1900.5 2082.7h14.8v5.9h-14.8zM263.7 2130.2h32.3v3.3h-32.3zM478 2091.7h8.3v35.9h-8.3zM486 2091.7h40.9v59.2h-40.9zM576 2145h34.3v5.9h-34.3zM610 2118.3h33.3v12.2h-33.3zM664 2145h12.3v5.9h-12.3zM1244 2127.2h64.8v3.3h-64.8zM1440 2091.7h20.3v15.2h-20.3zM1460 2091.7h30.3v24h-30.3zM1490 2091.7h30.6v18.1h-30.6zM1520.3 2091.7h15v41.8h-15zM1535 2091.7h4.3v59.2h-4.3zM1635.2 2109.4h32.6v15.2h-32.6zM1681.5 2130.2h55.3v3.3h-55.3zM1736.5 2124.2h164.3v6.3h-164.3zM1900.5 2091.7h14.8v24h-14.8zM165 2207.2h13.7v5.9h-13.7zM263.7 2207.2h32.3v3.3h-32.3zM478 2153.9h8.3v41.8h-8.3zM486 2153.9h40.9v59.2h-40.9zM526.6 2189.4h29.4v3.3h-29.4zM555.7 2183.5h20.6v3.3h-20.6zM576 2192.4h34.3v3.3h-34.3zM610 2174.6h33.3v15.2h-33.3zM664 2198.3h12.3v6.3h-12.3zM805.1 2210.1h38.1v1.5h-38.1zM842.9 2201.3h60.4v3.3h-60.4zM1244 2192.4h64.8v3.3h-64.8zM1440 2153.9h80.6v21.1h-80.6zM1520.3 2153.9h15v41.8h-15zM1535 2153.9h4.3v59.2h-4.3zM1539 2211.3h3.3v1h-3.3zM1542 2211.1h3.3v1h-3.3zM1545 2211h3.3v1h-3.3zM1548 2210.9h3.3v1h-3.3zM1551 2210.7h3.3v1h-3.3zM1554 2210.6h3.3v1h-3.3zM1557 2210.5h3.3v1.1h-3.3zM1560 2210.4h3.3v1.1h-3.3zM1563 2210.2h3.3v1.1h-3.3zM1566.1 2210.1h3.3v1.1h-3.3zM1569.1 2210h3.3v1.1h-3.3zM1572.1 2209.8h3.3v1.2h-3.3zM1575.1 2209.7h3.3v1.2h-3.3zM1578.1 2209.6h3.3v1.2h-3.3zM1581.1 2209.4h3.3v1.2h-3.3zM1584.1 2209.3h3.3v1.2h-3.3zM1587.1 2209.2h3.3v1.2h-3.3zM1590.1 2209.1h3.3v1.3h-3.3zM1593.1 2208.9h3.3v1.3h-3.3zM1596.1 2208.8h3.3v1.3h-3.3zM1599.1 2208.7h3.3v1.3h-3.3zM1602.1 2208.5h3.3v1.3h-3.3zM1605.1 2208.4h3.3v1.4h-3.3zM1608.1 2208.3h3.3v1.4h-3.3zM1611.2 2208.2h3.3v1.4h-3.3zM1614.2 2208h3.3v1.4h-3.3zM1617.2 2207.9h3.3v1.4h-3.3zM1620.2 2207.8h3.3v1.5h-3.3zM1623.2 2207.6h3.3v1.5h-3.3zM1626.2 2207.5h3.3v1.5h-3.3zM1629.2 2207.4h3.3v1.5h-3.3zM1632.2 2207.2h3.3v1.5h-3.3zM1635.2 2168.7h32.6v18.1h-32.6zM1681.5 2198.3h55.3v3.3h-55.3zM1736.5 2192.4h164.3v6.3h-164.3zM1900.5 2153.9h14.8v24h-14.8zM136 2269.4h14.3v3.3h-14.3zM150 2263.5h15.3v6.3h-15.3zM165 2257.6h13.7v12.2h-13.7zM263.7 2266.4h32.3v6.3h-32.3zM298.6 2251.6h10v12.2h-10zM308.3 2269.4h112v5.9h-112zM420 2269.4h58.3v3.3h-58.3zM478 2216.1h8.3v41.8h-8.3zM486 2216.1h40.9v59.2h-40.9zM526.6 2263.5h29.4v9.2h-29.4zM555.7 2257.6h20.6v12.2h-20.6zM576 2260.5h34.3v12.2h-34.3zM610 2251.6h33.3v23.7h-33.3zM643 2257.6h21.3v17.8h-21.3zM664 2239.8h12.3v35.5h-12.3zM805.1 2274.1h3.2v1.3h-3.2zM808 2273.9h3.2v1.4h-3.2zM810.9 2273.8h3.2v1.5h-3.2zM813.8 2273.7h3.2v1.7h-3.2zM816.7 2273.5h3.2v1.8h-3.2zM819.6 2273.4h3.2v1.9h-3.2zM822.5 2273.2h3.2v2.1h-3.2zM825.5 2273.1h3.2v2.2h-3.2zM828.4 2273h3.2v2.3h-3.2zM831.3 2272.8h3.2v2.5h-3.2zM834.2 2272.7h3.2v2.6h-3.2zM837.1 2272.6h3.2v2.8h-3.2zM840 2272.4h3.2v2.9h-3.2zM842.9 2268.7h3.3v2.7h-3.3zM845.9 2268.6h3.3v2.8h-3.3zM848.9 2268.4h3.3v2.9h-3.3zM851.9 2268.3h3.3v2.9h-3.3zM854.9 2268.1h3.3v3h-3.3zM857.9 2268h3.3v3h-3.3zM860.9 2267.8h3.3v3.1h-3.3zM863.9 2267.7h3.3v3.2h-3.3zM866.9 2267.6h3.3v3.2h-3.3zM869.9 2267.4h3.3v3.3h-3.3zM873 2267.3h3.3v3.3h-3.3zM876 2267.1h3.3v3.4h-3.3zM879 2267h3.3v3.5h-3.3zM882 2266.8h3.3v3.5h-3.3zM885 2266.7h3.3v3.6h-3.3zM888 2266.5h3.3v3.6h-3.3zM891 2266.4h3.3v3.7h-3.3zM894 2266.2h3.3v3.8h-3.3zM897 2266.1h3.3v3.8h-3.3zM900 2265.9h3.3v3.9h-3.3zM903 2241.1h3.3v1.5h-3.3zM906 2240.2h3.3v1.5h-3.3zM909.1 2239.2h3.3v1.4h-3.3zM912.1 2238.3h3.3v1.4h-3.3zM915.1 2237.4h3.3v1.3h-3.3zM918.1 2236.4h3.3v1.3h-3.3zM921.2 2235.5h3.3v1.2h-3.3zM924.2 2234.5h3.3v1.2h-3.3zM927.2 2233.6h3.3v1.1h-3.3zM930.3 2232.7h3.3v1.1h-3.3zM933.3 2231.7h3.3v1h-3.3zM936.3 2230.8h3.3v1h-3.3zM939.4 2229.9h3.3v0.9h-3.3zM942.4 2228.9h3.3v0.9h-3.3zM945.4 2228h3.3v0.8h-3.3zM948.4 2227h3.3v0.8h-3.3zM951.5 2226.1h3.3v0.7h-3.3zM954.5 2225.2h3.3v0.7h-3.3zM957.5 2224.2h3.3v0.6h-3.3zM960.6 2223.3h3.3v0.6h-3.3zM963.6 2222.4h3.3v0.5h-3.3zM966.6 2221.4h3.3v0.5h-3.3zM969.6 2220.5h3.3v0.4h-3.3zM972.7 2219.5h3.3v0.4h-3.3zM975.7 2263.5h10.1v3.3h-10.1zM985.5 2269.4h3.4v3.3h-3.4zM988.6 2269.4h3.4v3.3h-3.4zM991.7 2269.3h3.4v3.4h-3.4zM994.9 2269.3h3.4v3.4h-3.4zM998 2269.2h3.4v3.4h-3.4zM1001.1 2269.2h3.4v3.4h-3.4zM1004.2 2269.2h3.4v3.4h-3.4zM1007.4 2269.1h3.4v3.4h-3.4zM1010.5 2269.1h3.4v3.5h-3.4zM1069.5 2272.4h34.1v3h-34.1zM1103.3 2272.4h21.7v3h-21.7zM1124.7 2269.4h20.1v3.3h-20.1zM1144.5 2269.4h80.6v3.3h-80.6zM1224.8 2251.6h7.3v12.2h-7.3zM1231.8 2260.5h12.5v9.2h-12.5zM1244 2263.5h64.8v6.3h-64.8zM1308.5 2251.6h39.3v2.1h-39.3zM1371.5 2266.4h16.8v6.3h-16.8zM1388 2269.4h26.5v3.3h-26.5zM1440 2239.8h80.6v35.5h-80.6zM1520.3 2216.1h15v53.6h-15zM1535 2216.1h4.3v59.2h-4.3zM1539 2273.5h3.3v1.8h-3.3zM1542 2273.5h3.3v1.8h-3.3zM1545 2273.5h3.3v1.9h-3.3zM1548 2273.4h3.3v1.9h-3.3zM1551 2273.4h3.3v1.9h-3.3zM1554 2273.3h3.3v2h-3.3zM1557 2273.3h3.3v2h-3.3zM1560 2273.3h3.3v2.1h-3.3zM1563 2273.2h3.3v2.1h-3.3zM1566.1 2273.2h3.3v2.1h-3.3zM1569.1 2273.2h3.3v2.2h-3.3zM1572.1 2273.1h3.3v2.2h-3.3zM1575.1 2273.1h3.3v2.2h-3.3zM1578.1 2273h3.3v2.3h-3.3zM1581.1 2273h3.3v2.3h-3.3zM1584.1 2273h3.3v2.3h-3.3zM1587.1 2272.9h3.3v2.4h-3.3zM1590.1 2272.9h3.3v2.4h-3.3zM1593.1 2272.9h3.3v2.5h-3.3zM1596.1 2272.8h3.3v2.5h-3.3zM1599.1 2272.8h3.3v2.5h-3.3zM1602.1 2272.7h3.3v2.6h-3.3zM1605.1 2272.7h3.3v2.6h-3.3zM1608.1 2272.7h3.3v2.6h-3.3zM1611.2 2272.6h3.3v2.7h-3.3zM1614.2 2272.6h3.3v2.7h-3.3zM1617.2 2272.6h3.3v2.8h-3.3zM1620.2 2272.5h3.3v2.8h-3.3zM1623.2 2272.5h3.3v2.8h-3.3zM1626.2 2272.5h3.3v2.9h-3.3zM1629.2 2272.4h3.3v2.9h-3.3zM1632.2 2272.4h3.3v2.9h-3.3zM1635.2 2245.7h32.6v27h-32.6zM1667.5 2257.6h14.3v12.2h-14.3zM1681.5 2260.5h55.3v12.2h-55.3zM1736.5 2257.6h164.3v15.2h-164.3zM1900.5 2222h14.8v35.9h-14.8zM262 2302h34v3.3h-34zM475.5 2278.3h9.8v30h-9.8zM485 2278.3h41.3v59.2h-41.3zM526 2287.2h119.3v6.3h-119.3zM645 2290.2h31.3v12.2h-31.3zM842.9 2315.6h60.1v2.1h-60.1zM985.5 2310.9h28.4v2.1h-28.4zM1224.8 2296.1h7.3v3.3h-7.3zM1231.8 2299.1h77v4.5h-77zM1370 2296.1h22.3v3.3h-22.3zM1440 2287.2h75.3v32.9h-75.3zM1515 2281.3h24.3v47.7h-24.3zM1539 2279.7h3.3v0.4h-3.3zM1542 2280h3.3v0.4h-3.3zM1545 2280.3h3.3v0.5h-3.3zM1548 2280.6h3.3v0.5h-3.3zM1551 2280.9h3.3v0.6h-3.3zM1554 2281.2h3.3v0.7h-3.3zM1557 2281.4h3.3v0.7h-3.3zM1560 2281.7h3.3v0.8h-3.3zM1563 2282h3.3v0.8h-3.3zM1566.1 2282.3h3.3v0.9h-3.3zM1569.1 2282.6h3.3v0.9h-3.3zM1572.1 2282.9h3.3v1h-3.3zM1575.1 2283.2h3.3v1h-3.3zM1578.1 2283.5h3.3v1.1h-3.3zM1581.1 2283.8h3.3v1.2h-3.3zM1584.1 2284.1h3.3v1.2h-3.3zM1587.1 2284.4h3.3v1.3h-3.3zM1590.1 2284.7h3.3v1.3h-3.3zM1593.1 2285h3.3v1.4h-3.3zM1596.1 2285.3h3.3v1.4h-3.3zM1599.1 2285.6h3.3v1.5h-3.3zM1602.1 2285.9h3.3v1.5h-3.3zM1605.1 2286.2h3.3v1.6h-3.3zM1608.1 2286.5h3.3v1.7h-3.3zM1611.2 2286.8h3.3v1.7h-3.3zM1614.2 2287.1h3.3v1.8h-3.3zM1617.2 2287.4h3.3v1.8h-3.3zM1620.2 2287.7h3.3v1.9h-3.3zM1623.2 2288h3.3v1.9h-3.3zM1626.2 2288.3h3.3v2h-3.3zM1629.2 2288.6h3.3v2h-3.3zM1632.2 2288.8h3.3v2.1h-3.3zM1635.2 2287.2h32.6v24h-32.6zM1681.5 2287.2h55.3v6.3h-55.3zM1736.5 2293.1h164.3v9.2h-164.3zM1900.5 2278.3h14.8v35.9h-14.8zM262 2376.1h34v3.3h-34zM420 2393.8h15.3v3.3h-15.3zM435 2396.8h40.8v3h-40.8zM475.5 2352.4h9.8v47.4h-9.8zM485 2340.6h41.3v59.2h-41.3zM526 2370.2h119.3v9.2h-119.3zM645 2373.1h31.3v15.2h-31.3zM842.9 2393.8h60.1v3.3h-60.1zM902.7 2398h3.2v1.7h-3.2zM905.6 2398.1h3.2v1.7h-3.2zM908.6 2398.2h3.2v1.6h-3.2zM911.5 2398.3h3.2v1.5h-3.2zM914.5 2398.3h3.2v1.4h-3.2zM917.4 2398.4h3.2v1.4h-3.2zM920.4 2398.5h3.2v1.3h-3.2zM923.3 2398.6h3.2v1.2h-3.2zM926.3 2398.6h3.2v1.1h-3.2zM929.2 2398.7h3.2v1h-3.2zM932.2 2398.8h3.2v1h-3.2zM935.1 2398.9h3.2v0.9h-3.2zM938.1 2398.9h3.2v0.8h-3.2zM941 2399h3.2v0.7h-3.2zM944 2399.1h3.2v0.7h-3.2zM946.9 2399.2h3.2v0.6h-3.2zM949.9 2399.3h3.2v0.5h-3.2zM952.8 2399.3h3.2v0.4h-3.2zM955.8 2399.4h3.2v0.3h-3.2zM958.7 2399.5h3.2v0.3h-3.2zM961.7 2399.6h3.2v0.2h-3.2zM964.6 2399.6h3.2v0.1h-3.2zM967.6 2399.7h3.2v0h-3.2zM985.5 2379h28.4v3.3h-28.4zM1013.6 2387.9h56.2v2.1h-56.2zM1124.7 2393.8h20.1v3.3h-20.1zM1144.5 2398h55.8v1.8h-55.8zM1200 2396.8h25.1v3h-25.1zM1224.8 2393.8h7.3v5.9h-7.3zM1231.8 2390.9h48.5v5.1h-48.5zM1280 2387.9h28.8v6.3h-28.8zM1308.5 2392.7h39.3v4.5h-39.3zM1370 2387.9h22.3v6.3h-22.3zM1440 2364.2h75.3v35.5h-75.3zM1515 2343.5h24.3v56.2h-24.3zM1539 2396.8h3.3v3h-3.3zM1542 2396.8h3.3v3h-3.3zM1545 2396.8h3.3v3h-3.3zM1548 2396.8h3.3v3h-3.3zM1551 2396.8h3.3v3h-3.3zM1554 2396.8h3.3v3h-3.3zM1557 2396.8h3.3v3h-3.3zM1560 2396.8h3.3v3h-3.3zM1563 2396.8h3.3v3h-3.3zM1566.1 2396.8h3.3v3h-3.3zM1569.1 2396.8h3.3v3h-3.3zM1572.1 2396.8h3.3v3h-3.3zM1575.1 2396.8h3.3v3h-3.3zM1578.1 2396.8h3.3v3h-3.3zM1581.1 2396.8h3.3v3h-3.3zM1584.1 2396.8h3.3v3h-3.3zM1587.1 2396.8h3.3v3h-3.3zM1590.1 2396.8h3.3v3h-3.3zM1593.1 2396.8h3.3v3h-3.3zM1596.1 2396.8h3.3v3h-3.3zM1599.1 2396.8h3.3v3h-3.3zM1602.1 2396.8h3.3v3h-3.3zM1605.1 2396.8h3.3v3h-3.3zM1608.1 2396.8h3.3v3h-3.3zM1611.2 2396.8h3.3v3h-3.3zM1614.2 2396.8h3.3v3h-3.3zM1617.2 2396.8h3.3v3h-3.3zM1620.2 2396.8h3.3v3h-3.3zM1623.2 2396.8h3.3v3h-3.3zM1626.2 2396.8h3.3v3h-3.3zM1629.2 2396.8h3.3v3h-3.3zM1632.2 2396.8h3.3v3h-3.3zM1635.2 2370.2h32.6v27h-32.6zM1667.5 2396.8h14.3v3h-14.3zM1681.5 2387.9h55.3v9.2h-55.3zM1736.5 2385h164.3v9.2h-164.3zM1900.5 2361.3h14.8v38.5h-14.8zM136 2459h126.3v2.1h-126.3zM262 2444.2h34v9.2h-34zM308.3 2402.8h112v2.1h-112zM475.5 2414.6h9.8v47.4h-9.8zM485 2402.8h41.3v59.2h-41.3zM526 2432.4h119.3v12.2h-119.3zM645 2426.5h31.3v18.1h-31.3zM842.9 2441.3h60.1v3.3h-60.1zM902.7 2459h32.6v3h-32.6zM985.5 2444.2h28.4v3.3h-28.4zM1013.6 2423.5h56.2v2.1h-56.2zM1124.7 2405.7h75.6v3.3h-75.6zM1200 2408.7h25.1v6.3h-25.1zM1224.8 2420.5h7.3v6.3h-7.3zM1231.8 2432.4h48.5v6.3h-48.5zM1280 2435.3h28.8v6.3h-28.8zM1308.5 2444.2h39.3v6.3h-39.3zM1370 2435.3h22.3v6.3h-22.3zM1392 2438.3h22.5v6.3h-22.5zM1414.2 2438.3h15.1v6.3h-15.1zM1440 2411.7h75.3v32.9h-75.3zM1515 2402.8h24.3v59.2h-24.3zM1539 2406h3.3v2.2h-3.3zM1542 2406.4h3.3v2.3h-3.3zM1545 2406.9h3.3v2.4h-3.3zM1548 2407.4h3.3v2.6h-3.3zM1551 2407.8h3.3v2.7h-3.3zM1554 2408.3h3.3v2.8h-3.3zM1557 2408.7h3.3v3h-3.3zM1560 2409.2h3.3v3.1h-3.3zM1563 2409.7h3.3v3.2h-3.3zM1566.1 2410.1h3.3v3.4h-3.3zM1569.1 2410.6h3.3v3.5h-3.3zM1572.1 2411.1h3.3v3.6h-3.3zM1575.1 2411.5h3.3v3.7h-3.3zM1578.1 2412h3.3v3.9h-3.3zM1581.1 2412.4h3.3v4h-3.3zM1584.1 2412.9h3.3v4.1h-3.3zM1587.1 2413.4h3.3v4.3h-3.3zM1590.1 2413.8h3.3v4.4h-3.3zM1593.1 2414.3h3.3v4.5h-3.3zM1596.1 2414.8h3.3v4.7h-3.3zM1599.1 2415.2h3.3v4.8h-3.3zM1602.1 2415.7h3.3v4.9h-3.3zM1605.1 2416.1h3.3v5h-3.3zM1608.1 2416.6h3.3v5.2h-3.3zM1611.2 2417.1h3.3v5.3h-3.3zM1614.2 2417.5h3.3v5.4h-3.3zM1617.2 2418h3.3v5.6h-3.3zM1620.2 2418.5h3.3v5.7h-3.3zM1623.2 2418.9h3.3v5.8h-3.3zM1626.2 2419.4h3.3v5.9h-3.3zM1629.2 2419.8h3.3v6.1h-3.3zM1632.2 2420.3h3.3v6.2h-3.3zM1635.2 2416.4h32.6v24h-32.6zM1667.5 2434.2h14.3v9.2h-14.3zM1681.5 2426.5h55.3v12.2h-55.3zM1736.5 2426.5h164.3v15.2h-164.3zM1900.5 2414.6h14.8v30h-14.8zM136 2476.8h126.3v21.1h-126.3zM262 2479.8h34v24h-34zM298.6 2488.7h10v18.1h-10zM308.3 2512.4h167.5v9.2h-167.5zM475.5 2476.8h9.8v47.4h-9.8zM485 2465h41.3v59.2h-41.3zM526 2485.7h150.3v27h-150.3zM705.5 2476.8h14.8v12.2h-14.8zM720 2479.8h19.1v12.2h-19.1zM755.8 2481.6h87.4v12.2h-87.4zM842.9 2484.5h60.1v18.1h-60.1zM902.7 2470.9h32.6v6.3h-32.6zM970.5 2476.8h15.3v18.1h-15.3zM985.5 2482.8h28.4v12.2h-28.4zM1013.6 2503.5h56.2v12.2h-56.2zM1069.5 2521.2h34.1v3h-34.1zM1103.3 2500.5h21.7v12.2h-21.7zM1124.7 2515.3h20.1v6.3h-20.1zM1144.5 2515.3h55.8v6.3h-55.8zM1200 2512.4h25.1v11.8h-25.1zM1224.8 2500.5h7.3v18.1h-7.3zM1231.8 2487.5h48.5v21.1h-48.5zM1280 2488.7h28.8v21.1h-28.8zM1308.5 2479.8h39.3v16.9h-39.3zM1370 2488.7h22.3v21.1h-22.3zM1392 2488.7h22.5v18.1h-22.5zM1414.2 2488.7h15.1v24h-15.1zM1440 2473.9h75.3v50.3h-75.3zM1515 2465h24.3v59.2h-24.3zM1539 2518h3.3v4.7h-3.3zM1542 2517.5h3.3v5.1h-3.3zM1545 2517h3.3v5.6h-3.3zM1548 2516.5h3.3v6h-3.3zM1551 2516h3.3v6.4h-3.3zM1554 2515.5h3.3v6.8h-3.3zM1557 2515h3.3v7.3h-3.3zM1560 2514.5h3.3v7.7h-3.3zM1563 2514h3.3v8.1h-3.3zM1566.1 2513.5h3.3v8.5h-3.3zM1569.1 2513h3.3v9h-3.3zM1572.1 2512.5h3.3v9.4h-3.3zM1575.1 2512h3.3v9.8h-3.3zM1578.1 2511.5h3.3v10.2h-3.3zM1581.1 2511h3.3v10.7h-3.3zM1584.1 2510.5h3.3v11.1h-3.3zM1587.1 2510h3.3v11.5h-3.3zM1590.1 2509.5h3.3v11.9h-3.3zM1593.1 2509h3.3v12.4h-3.3zM1596.1 2508.5h3.3v12.8h-3.3zM1599.1 2508h3.3v13.2h-3.3zM1602.1 2507.5h3.3v13.6h-3.3zM1605.1 2507h3.3v14.1h-3.3zM1608.1 2506.5h3.3v14.5h-3.3zM1611.2 2506h3.3v14.9h-3.3zM1614.2 2505.5h3.3v15.3h-3.3zM1617.2 2505h3.3v15.8h-3.3zM1620.2 2504.5h3.3v16.2h-3.3zM1623.2 2504h3.3v16.6h-3.3zM1626.2 2503.5h3.3v17h-3.3zM1629.2 2503h3.3v17.5h-3.3zM1632.2 2502.5h3.3v17.9h-3.3zM1635.2 2485.7h32.6v32.9h-32.6zM1667.5 2491.6h14.3v24h-14.3zM1681.5 2494.6h55.3v21.1h-55.3zM1736.5 2492.8h164.3v21.1h-164.3zM1900.5 2476.8h14.8v41.8h-14.8z"/>
<path fill="#15158c" d="M776 396.2h4.3v3.3h-4.3zM1283 396.2h4.3v3.3h-4.3zM1304 393.2h4.3v59.3h-4.3zM1311 399.1h4.3v21.1h-4.3zM1318 399.1h4.3v9.2h-4.3zM1391 422.8h5.3v29.6h-5.3zM1396 393.2h57.3v59.3h-57.3zM1711 402.1h5.3v9.2h-5.3zM1718 408h14.3v6.3h-14.3zM1735 405.1h12.3v9.2h-12.3zM1749 431.7h5.3v3.3h-5.3zM1756 416.9h5.3v3.3h-5.3zM1770 414h4.3v3.3h-4.3zM1777 411h8.3v6.3h-8.3zM1794 422.8h4.3v3.3h-4.3zM1332 455.9h7.3v59.3h-7.3zM1342 467.8h4.3v24.1h-4.3zM1383 455.9h4.3v59.3h-4.3zM1391 479.6h21.3v35.6h-21.3zM1414 455.9h39.3v59.3h-39.3zM1718 488.5h14.3v18.1h-14.3zM1735 491.5h12.3v12.2h-12.3zM1749 497.4h12.3v6.3h-12.3zM1770 494.4h4.3v6.3h-4.3zM1777 485.6h8.3v12.2h-8.3zM1794 491.5h4.3v3.3h-4.3zM223 533.4h4.3v3.3h-4.3zM1304 548.2h4.3v29.6h-4.3zM1318 548.2h4.3v29.6h-4.3zM1391 554.2h5.3v23.7h-5.3zM1396 518.6h57.3v59.3h-57.3zM1777 560.1h8.3v6.3h-8.3zM1794 554.2h4.3v6.3h-4.3zM1901 554.2h11.3v6.3h-11.3zM1283 634.7h4.3v5.9h-4.3zM1614 581.3h5.3v3.3h-5.3zM133.3 706.7h5v3.3h-5zM133.3 796.1h5v3.3h-5z"/>
<path fill="#b0fba6" d="M133.3 393.2h5v59.3h-5zM140 393.2h8.3v15.2h-8.3zM171 393.2h11.3v9.2h-11.3zM185 393.2h14.3v41.9h-14.3zM202 408h5.3v9.2h-5.3zM223 393.2h4.3v59.3h-4.3zM275 393.2h11.3v59.3h-11.3zM288 411h5.3v6.3h-5.3zM351 393.2h8.3v3.3h-8.3zM593 399.1h7.3v9.2h-7.3zM707 393.2h3.8v59.3h-3.8zM731 393.2h3.3v59.3h-3.3zM738 393.2h3.3v59.3h-3.3zM748 393.2h4.3v6.3h-4.3zM748 416.9h4.3v6.3h-4.3zM755 393.2h4.3v12.2h-4.3zM755 416.9h4.3v6.3h-4.3zM817 393.2h4.3v12.2h-4.3zM931 393.2h11.3v3.3h-11.3zM1117 393.2h5.3v3.3h-5.3zM1231 393.2h5.3v6.3h-5.3zM1283 393.2h4.3v3.3h-4.3zM1311 393.2h4.3v6.3h-4.3zM1318 393.2h4.3v6.3h-4.3zM1456 393.2h46.3v59.3h-46.3zM1504 393.2h12.3v18.1h-12.3zM1525 393.2h4.3v53.7h-4.3zM1532 393.2h18.3v18.1h-18.3zM1607 393.2h5.3v33h-5.3zM1614 393.2h5.3v15.2h-5.3zM1621 393.2h5.3v27h-5.3zM1628 393.2h5.3v33h-5.3zM1635 393.2h4.3v33h-4.3zM1642 393.2h67.3v59.3h-67.3zM1711 393.2h5.3v6.3h-5.3zM1718 393.2h14.3v12.2h-14.3zM1735 393.2h12.3v12.2h-12.3zM1749 393.2h5.3v3.3h-5.3zM1756 393.2h5.3v24.1h-5.3zM1763 393.2h5.3v21.1h-5.3zM1770 393.2h4.3v3.3h-4.3zM1801 393.2h4.3v3.3h-4.3zM1808 393.2h8.3v35.9h-8.3zM1877 393.2h12.3v59.3h-12.3zM1891 428.8h7.3v6.3h-7.3zM1901 393.2h11.3v35.9h-11.3zM133.3 455.9h5v12.2h-5zM140 509.3h8.3v5.9h-8.3zM185 455.9h14.3v6.3h-14.3zM707 455.9h3.8v59.3h-3.8zM714 455.9h4.3v59.3h-4.3zM762 455.9h11.3v6.3h-11.3zM776 455.9h4.3v3.3h-4.3zM1456 455.9h46.3v59.3h-46.3zM1504 455.9h12.3v15.2h-12.3zM1518 455.9h4.3v59.3h-4.3zM1525 455.9h4.3v12.2h-4.3zM1532 455.9h4.3v15.2h-4.3zM1539 455.9h4.3v9.2h-4.3zM1546 455.9h4.3v15.2h-4.3zM1649 455.9h4.3v6.3h-4.3zM1711 455.9h5.3v59.3h-5.3zM1718 455.9h14.3v12.2h-14.3zM1735 455.9h12.3v12.2h-12.3zM1763 455.9h5.3v12.2h-5.3zM140 518.6h8.3v24.1h-8.3zM171 518.6h11.3v9.2h-11.3zM185 518.6h14.3v18.1h-14.3zM202 518.6h5.3v18.1h-5.3zM209 518.6h5.3v12.2h-5.3zM216 518.6h5.3v24.1h-5.3zM223 518.6h4.3v9.2h-4.3zM237 518.6h7.3v3.3h-7.3zM268 518.6h4.3v18.1h-4.3zM275 518.6h4.3v6.3h-4.3zM351 518.6h8.3v6.3h-8.3zM593 518.6h7.3v12.2h-7.3zM714 518.6h31.3v59.3h-31.3zM748 518.6h4.3v6.3h-4.3zM776 518.6h4.3v21.1h-4.3zM803 518.6h4.3v12.2h-4.3zM931 518.6h11.3v24.1h-11.3zM969 518.6h4.3v18.1h-4.3zM1117 518.6h5.3v15.2h-5.3zM1231 518.6h5.3v6.3h-5.3zM1283 518.6h4.3v12.2h-4.3zM1304 518.6h4.3v30h-4.3zM1311 518.6h4.3v38.9h-4.3zM1318 518.6h4.3v30h-4.3zM1504 518.6h4.3v35.9h-4.3zM1511 518.6h4.3v38.9h-4.3zM1525 518.6h18.3v59.3h-18.3zM1546 518.6h4.3v38.9h-4.3zM1597 518.6h8.3v18.1h-8.3zM1607 518.6h5.3v33h-5.3zM1614 518.6h5.3v24.1h-5.3zM1621 518.6h28.3v59.3h-28.3zM1649 518.6h4.3v41.9h-4.3zM1656 518.6h118.3v59.3h-118.3zM1777 518.6h8.3v24.1h-8.3zM1794 518.6h4.3v18.1h-4.3zM1808 518.6h8.3v12.2h-8.3zM1877 518.6h4.3v41.9h-4.3zM1884 518.6h4.3v27h-4.3zM1891 518.6h7.3v12.2h-7.3zM1901 518.6h11.3v12.2h-11.3zM714 634.7h31.3v3.3h-31.3zM762 581.3h11.3v6.3h-11.3zM817 616.9h4.3v23.7h-4.3zM1155 581.3h8.3v6.3h-8.3zM1456 581.3h46.3v59.3h-46.3zM1504 590.2h12.3v18.1h-12.3zM1518 581.3h11.3v59.3h-11.3zM1532 587.2h18.3v15.2h-18.3zM1621 581.3h5.3v12.2h-5.3zM1628 581.3h5.3v21.1h-5.3zM1635 587.2h11.3v21.1h-11.3zM1656 584.3h4.3v12.2h-4.3zM1663 590.2h14.3v12.2h-14.3zM1680 581.3h4.3v18.1h-4.3zM1694 581.3h4.3v18.1h-4.3zM1711 593.2h5.3v12.2h-5.3zM1718 593.2h29.3v12.2h-29.3zM1749 587.2h12.3v18.1h-12.3zM1763 581.3h5.3v18.1h-5.3zM1770 590.2h4.3v9.2h-4.3zM1794 587.2h4.3v12.2h-4.3zM133.3 673.6h5v29.6h-5zM140 644h8.3v41.9h-8.3zM209 694.4h5.3v8.9h-5.3zM295 697.4h5.3v5.9h-5.3zM714 697.4h31.3v5.9h-31.3zM755 685.5h4.3v17.8h-4.3zM762 688.5h11.3v14.8h-11.3zM776 691.4h4.3v11.9h-4.3zM931 694.4h11.3v8.9h-11.3zM969 685.5h4.3v17.8h-4.3zM1017 700.3h12.3v3h-12.3zM1155 700.3h8.3v3h-8.3zM1304 697.4h4.3v5.9h-4.3zM1311 691.4h4.3v11.9h-4.3zM1318 688.5h4.3v14.8h-4.3zM1449 697.4h4.3v5.9h-4.3zM1456 644h46.3v59.3h-46.3zM1504 664.8h4.3v12.2h-4.3zM1504 694.4h4.3v8.9h-4.3zM1511 644h11.3v59.3h-11.3zM1532 688.5h18.3v14.8h-18.3zM1607 691.4h5.3v11.9h-5.3zM1614 691.4h5.3v11.9h-5.3zM1621 691.4h5.3v11.9h-5.3zM1628 685.5h5.3v17.8h-5.3zM1635 661.8h5.3v41.5h-5.3zM1642 652.9h4.3v50.4h-4.3zM1649 685.5h4.3v17.8h-4.3zM1656 685.5h4.3v17.8h-4.3zM1663 691.4h14.3v11.9h-14.3zM1680 685.5h4.3v17.8h-4.3zM1687 679.6h4.3v23.7h-4.3zM1694 685.5h15.3v17.8h-15.3zM1711 644h36.3v59.3h-36.3zM1749 673.6h4.3v29.6h-4.3zM1756 679.6h5.3v23.7h-5.3zM1763 688.5h5.3v14.8h-5.3zM1770 685.5h4.3v17.8h-4.3zM1777 682.5h8.3v20.8h-8.3zM1787 697.4h4.3v5.9h-4.3zM1794 685.5h4.3v17.8h-4.3zM1801 694.4h4.3v8.9h-4.3zM1808 694.4h8.3v8.9h-8.3zM1877 697.4h4.3v5.9h-4.3zM1901 700.3h11.3v3h-11.3zM136 1890.2h14.3v11.8h-14.3zM150 1890.2h15.3v11.8h-15.3zM165 1890.2h13.7v11.8h-13.7zM263.7 1890.2h8.6v11.8h-8.6zM272 1890.2h24v11.8h-24zM298.6 1884.2h10v17.8h-10zM308.3 1893.1h112v8.9h-112zM420 1896.1h12.3v5.9h-12.3zM432 1896.1h46.3v5.9h-46.3zM478 1875.4h8.3v18.1h-8.3zM526.6 1872.4h29.4v18.1h-29.4zM555.7 1842.8h20.6v59.2h-20.6zM576 1848.7h34.3v6.3h-34.3zM576 1881.3h34.3v20.7h-34.3zM610 1842.8h33.3v18.1h-33.3zM664 1878.3h12.3v12.2h-12.3zM720 1848.7h19.1v3.3h-19.1zM805.1 1899h3.2v3h-3.2zM808 1898.9h3.2v3.1h-3.2zM810.9 1898.8h3.2v3.2h-3.2zM813.8 1898.7h3.2v3.3h-3.2zM816.7 1898.6h3.2v3.4h-3.2zM819.6 1898.5h3.2v3.5h-3.2zM822.5 1898.4h3.2v3.6h-3.2zM825.5 1898.4h3.2v3.6h-3.2zM828.4 1898.3h3.2v3.7h-3.2zM831.3 1898.2h3.2v3.8h-3.2zM834.2 1898.1h3.2v3.9h-3.2zM837.1 1898h3.2v4h-3.2zM840 1897.9h3.2v4.1h-3.2zM842.9 1897.7h3.3v4.3h-3.3zM845.9 1897.7h3.3v4.3h-3.3zM848.9 1897.7h3.3v4.3h-3.3zM851.9 1897.8h3.3v4.2h-3.3zM854.9 1897.8h3.3v4.2h-3.3zM857.9 1897.8h3.3v4.2h-3.3zM860.9 1897.8h3.3v4.2h-3.3zM863.9 1897.8h3.3v4.2h-3.3zM866.9 1897.8h3.3v4.2h-3.3zM869.9 1897.8h3.3v4.2h-3.3zM873 1897.8h3.3v4.2h-3.3zM876 1897.8h3.3v4.2h-3.3zM879 1897.8h3.3v4.2h-3.3zM882 1897.8h3.3v4.2h-3.3zM885 1897.8h3.3v4.2h-3.3zM888 1897.8h3.3v4.2h-3.3zM891 1897.8h3.3v4.2h-3.3zM894 1897.8h3.3v4.2h-3.3zM897 1897.8h3.3v4.2h-3.3zM900 1897.9h3.3v4.1h-3.3zM985.5 1896.1h28.4v3.3h-28.4zM1231.8 1896.1h12.5v5.9h-12.5zM1244 1842.8h64.8v6.3h-64.8zM1244 1890.2h64.8v7.5h-64.8zM1308.5 1896.1h14.8v5.9h-14.8zM1323 1893.1h24.8v6.3h-24.8zM1388 1899h26.5v3h-26.5zM1539 1900.8h3.3v1.2h-3.3zM1542 1900.8h3.3v1.2h-3.3zM1545 1900.8h3.3v1.2h-3.3zM1548 1900.8h3.3v1.2h-3.3zM1551 1900.8h3.3v1.2h-3.3zM1554 1900.8h3.3v1.2h-3.3zM1557 1900.8h3.3v1.2h-3.3zM1560 1900.8h3.3v1.2h-3.3zM1563 1900.8h3.3v1.2h-3.3zM1566.1 1900.8h3.3v1.2h-3.3zM1569.1 1900.8h3.3v1.2h-3.3zM1572.1 1900.8h3.3v1.2h-3.3zM1575.1 1900.8h3.3v1.2h-3.3zM1578.1 1900.8h3.3v1.2h-3.3zM1581.1 1900.8h3.3v1.2h-3.3zM1584.1 1900.8h3.3v1.2h-3.3zM1587.1 1900.8h3.3v1.2h-3.3zM1590.1 1900.8h3.3v1.2h-3.3zM1593.1 1900.8h3.3v1.2h-3.3zM1596.1 1900.8h3.3v1.2h-3.3zM1599.1 1900.8h3.3v1.2h-3.3zM1602.1 1900.8h3.3v1.2h-3.3zM1605.1 1900.8h3.3v1.2h-3.3zM1608.1 1900.8h3.3v1.2h-3.3zM1611.2 1900.8h3.3v1.2h-3.3zM1614.2 1900.8h3.3v1.2h-3.3zM1617.2 1900.8h3.3v1.2h-3.3zM1620.2 1900.8h3.3v1.2h-3.3zM1623.2 1900.8h3.3v1.2h-3.3zM1626.2 1900.8h3.3v1.2h-3.3zM1629.2 1900.8h3.3v1.2h-3.3zM1632.2 1900.8h3.3v1.2h-3.3zM1667.5 1893.1h14.3v8.9h-14.3zM1900.5 1893.1h14.8v8.9h-14.8zM136 1952.4h14.3v11.8h-14.3zM150 1952.4h15.3v11.8h-15.3zM165 1952.4h13.7v11.8h-13.7zM263.7 1952.4h32.3v11.8h-32.3zM298.6 1952.4h10v11.8h-10zM308.3 1955.3h170v8.9h-170zM478 1905h8.3v18.1h-8.3zM526.6 1943.5h29.4v20.7h-29.4zM555.7 1905h20.6v59.2h-20.6zM576 1946.5h34.3v17.8h-34.3zM610 1940.5h33.3v18.1h-33.3zM805.1 1961.3h3.2v3h-3.2zM808 1961.3h3.2v3h-3.2zM810.9 1961.3h3.2v3h-3.2zM813.8 1961.3h3.2v3h-3.2zM816.7 1961.3h3.2v3h-3.2zM819.6 1961.3h3.2v3h-3.2zM822.5 1961.3h3.2v3h-3.2zM825.5 1961.3h3.2v3h-3.2zM828.4 1961.3h3.2v3h-3.2zM831.3 1961.3h3.2v3h-3.2zM834.2 1961.3h3.2v3h-3.2zM837.1 1961.3h3.2v3h-3.2zM840 1961.3h3.2v3h-3.2zM842.9 1961.2h3.3v3h-3.3zM845.9 1961.1h3.3v3.1h-3.3zM848.9 1961h3.3v3.2h-3.3zM851.9 1960.9h3.3v3.3h-3.3zM854.9 1960.9h3.3v3.4h-3.3zM857.9 1960.8h3.3v3.4h-3.3zM860.9 1960.7h3.3v3.5h-3.3zM863.9 1960.6h3.3v3.6h-3.3zM866.9 1960.5h3.3v3.7h-3.3zM869.9 1960.4h3.3v3.8h-3.3zM873 1960.3h3.3v3.9h-3.3zM876 1960.2h3.3v4h-3.3zM879 1960.2h3.3v4.1h-3.3zM882 1960.1h3.3v4.2h-3.3zM885 1960h3.3v4.2h-3.3zM888 1959.9h3.3v4.3h-3.3zM891 1959.8h3.3v4.4h-3.3zM894 1959.7h3.3v4.5h-3.3zM897 1959.6h3.3v4.6h-3.3zM900 1959.5h3.3v4.7h-3.3zM1244 1961.3h36.3v3h-36.3zM1280 1949.4h28.8v6.3h-28.8zM1308.5 1958.3h39.3v5.9h-39.3zM1667.5 1952.4h14.3v11.8h-14.3zM1681.5 1958.3h55.3v5.9h-55.3zM1736.5 1961.3h164.3v3h-164.3zM136 1996.8h14.3v12.2h-14.3zM150 1985h15.3v12.2h-15.3zM165 1979.1h13.7v6.3h-13.7zM263.7 1979.1h32.3v12.2h-32.3zM298.6 2017.6h10v8.9h-10zM308.3 1967.2h170v9.2h-170zM478 2002.8h8.3v23.7h-8.3zM526.6 1985h29.4v12.2h-29.4zM555.7 1967.2h20.6v59.2h-20.6zM576 1973.2h34.3v12.2h-34.3zM576 2020.5h34.3v5.9h-34.3zM610 1985h33.3v18.1h-33.3zM664 2002.8h12.3v12.2h-12.3zM705.5 2005.7h14.8v9.2h-14.8zM1244 1976.1h64.8v6.3h-64.8zM1308.5 1993.9h39.3v6.3h-39.3zM136 2076.8h14.3v11.8h-14.3zM150 2065h15.3v12.2h-15.3zM165 2076.8h13.7v11.8h-13.7zM263.7 2053.1h32.3v30h-32.3zM298.6 2029.5h10v59.2h-10zM308.3 2073.9h112v14.8h-112zM420 2082.7h58.3v5.9h-58.3zM478 2070.9h8.3v17.8h-8.3zM526.6 2059.1h29.4v29.6h-29.4zM555.7 2029.5h20.6v59.2h-20.6zM576 2053.1h34.3v35.5h-34.3zM610 2065h33.3v23.7h-33.3zM664 2070.9h12.3v17.8h-12.3zM720 2085.7h19.1v3h-19.1zM778 2088.3h3.3v0.3h-3.3zM781 2087.7h3.3v1h-3.3zM784 2087h3.3v1.6h-3.3zM787 2086.4h3.3v2.3h-3.3zM790 2085.7h3.3v3h-3.3zM793.1 2085h3.3v3.6h-3.3zM796.1 2084.4h3.3v4.3h-3.3zM799.1 2083.7h3.3v4.9h-3.3zM802.1 2083.1h3.3v5.6h-3.3zM805.1 2085.2h3.2v3.4h-3.2zM808 2084.3h3.2v4.3h-3.2zM810.9 2083.4h3.2v5.2h-3.2zM813.8 2082.5h3.2v6.1h-3.2zM816.7 2081.6h3.2v7.1h-3.2zM819.6 2080.7h3.2v8h-3.2zM822.5 2079.8h3.2v8.9h-3.2zM825.5 2078.9h3.2v9.8h-3.2zM828.4 2078h3.2v10.7h-3.2zM831.3 2077h3.2v11.6h-3.2zM834.2 2076.1h3.2v12.5h-3.2zM837.1 2075.2h3.2v13.4h-3.2zM840 2074.3h3.2v14.3h-3.2zM842.9 2063.8h60.4v22.3h-60.4zM903 2068.2h3.3v20.4h-3.3zM906 2068.9h3.3v19.8h-3.3zM909.1 2069.5h3.3v19.2h-3.3zM912.1 2070.1h3.3v18.6h-3.3zM915.1 2070.7h3.3v17.9h-3.3zM918.1 2071.3h3.3v17.3h-3.3zM921.2 2071.9h3.3v16.7h-3.3zM924.2 2072.6h3.3v16.1h-3.3zM927.2 2073.2h3.3v15.5h-3.3zM930.3 2073.8h3.3v14.9h-3.3zM933.3 2074.4h3.3v14.2h-3.3zM936.3 2075h3.3v13.6h-3.3zM939.4 2075.6h3.3v13h-3.3zM942.4 2076.3h3.3v12.4h-3.3zM945.4 2076.9h3.3v11.8h-3.3zM948.4 2077.5h3.3v11.2h-3.3zM951.5 2078.1h3.3v10.5h-3.3zM954.5 2078.7h3.3v9.9h-3.3zM957.5 2079.3h3.3v9.3h-3.3zM960.6 2080h3.3v8.7h-3.3zM963.6 2080.6h3.3v8.1h-3.3zM966.6 2081.2h3.3v7.5h-3.3zM969.6 2081.8h3.3v6.8h-3.3zM972.7 2082.4h3.3v6.2h-3.3zM975.7 2059.1h10.1v18.1h-10.1zM985.5 2067.9h28.4v20.7h-28.4zM1013.6 2073.9h35.3v14.8h-35.3zM1048.6 2076.8h21.2v11.8h-21.2zM1124.7 2085.7h100.4v3h-100.4zM1224.8 2065h7.3v23.7h-7.3zM1231.8 2053.1h12.5v35.5h-12.5zM1244 2047.2h64.8v38.8h-64.8zM1308.5 2060.8h39.3v27.8h-39.3zM1371.5 2035.4h16.8v53.3h-16.8zM1388 2059.1h26.5v29.6h-26.5zM1539 2084.3h3.3v4.3h-3.3zM1542 2084h3.3v4.7h-3.3zM1545 2083.6h3.3v5.1h-3.3zM1548 2083.2h3.3v5.4h-3.3zM1551 2082.9h3.3v5.8h-3.3zM1554 2082.5h3.3v6.2h-3.3zM1557 2082.1h3.3v6.5h-3.3zM1560 2081.7h3.3v6.9h-3.3zM1563 2081.4h3.3v7.3h-3.3zM1566.1 2081h3.3v7.7h-3.3zM1569.1 2080.6h3.3v8h-3.3zM1572.1 2080.3h3.3v8.4h-3.3zM1575.1 2079.9h3.3v8.8h-3.3zM1578.1 2079.5h3.3v9.1h-3.3zM1581.1 2079.2h3.3v9.5h-3.3zM1584.1 2078.8h3.3v9.9h-3.3zM1587.1 2078.4h3.3v10.2h-3.3zM1590.1 2078h3.3v10.6h-3.3zM1593.1 2077.7h3.3v11h-3.3zM1596.1 2077.3h3.3v11.4h-3.3zM1599.1 2076.9h3.3v11.7h-3.3zM1602.1 2076.6h3.3v12.1h-3.3zM1605.1 2076.2h3.3v12.5h-3.3zM1608.1 2075.8h3.3v12.8h-3.3zM1611.2 2075.5h3.3v13.2h-3.3zM1614.2 2075.1h3.3v13.6h-3.3zM1617.2 2074.7h3.3v13.9h-3.3zM1620.2 2074.3h3.3v14.3h-3.3zM1623.2 2074h3.3v14.7h-3.3zM1626.2 2073.6h3.3v15.1h-3.3zM1629.2 2073.2h3.3v15.4h-3.3zM1632.2 2072.9h3.3v15.8h-3.3zM1635.2 2086.6h3.2v2.1h-3.2zM1638.1 2085.9h3.2v2.7h-3.2zM1641.1 2085.3h3.2v3.4h-3.2zM1644 2084.6h3.2v4h-3.2zM1646.9 2084h3.2v4.7h-3.2zM1649.9 2083.3h3.2v5.3h-3.2zM1652.8 2082.7h3.2v6h-3.2zM1655.8 2082h3.2v6.6h-3.2zM1658.7 2081.4h3.2v7.3h-3.2zM1661.6 2080.7h3.2v7.9h-3.2zM1664.6 2080.1h3.2v8.6h-3.2zM1667.5 2053.1h14.3v35.5h-14.3zM1681.5 2070.9h55.3v12.2h-55.3zM1736.5 2070.9h164.3v12.2h-164.3zM136 2091.7h14.3v12.2h-14.3zM150 2091.7h15.3v12.2h-15.3zM165 2091.7h13.7v18.1h-13.7zM263.7 2091.7h32.3v24h-32.3zM298.6 2091.7h10v59.2h-10zM308.3 2127.2h112v18.1h-112zM420 2133.1h58.3v12.2h-58.3zM478 2127.2h8.3v23.7h-8.3zM526.6 2100.6h29.4v32.9h-29.4zM555.7 2091.7h20.6v59.2h-20.6zM576 2091.7h34.3v32.9h-34.3zM610 2103.5h33.3v15.2h-33.3zM664 2127.2h12.3v18.1h-12.3zM720 2091.7h19.1v3.3h-19.1zM778 2091.8h3.3v2.7h-3.3zM781 2092.2h3.3v3.8h-3.3zM784 2092.5h3.3v4.9h-3.3zM787 2092.8h3.3v6h-3.3zM790 2093.2h3.3v7.2h-3.3zM793.1 2093.5h3.3v8.3h-3.3zM796.1 2093.8h3.3v9.4h-3.3zM799.1 2094.1h3.3v10.5h-3.3zM802.1 2094.5h3.3v11.6h-3.3zM805.1 2096.4h38.1v15.2h-38.1zM842.9 2097.6h60.4v18.1h-60.4zM903 2091.7h3.3v16.6h-3.3zM906 2091.7h3.3v16.1h-3.3zM909.1 2091.7h3.3v15.5h-3.3zM912.1 2091.7h3.3v14.9h-3.3zM915.1 2091.7h3.3v14.4h-3.3zM918.1 2091.7h3.3v13.8h-3.3zM921.2 2091.7h3.3v13.2h-3.3zM924.2 2091.7h3.3v12.7h-3.3zM927.2 2091.7h3.3v12.1h-3.3zM930.3 2091.7h3.3v11.5h-3.3zM933.3 2091.7h3.3v11h-3.3zM936.3 2091.7h3.3v10.4h-3.3zM939.4 2091.7h3.3v9.8h-3.3zM942.4 2091.7h3.3v9.3h-3.3zM945.4 2091.7h3.3v8.7h-3.3zM948.4 2091.7h3.3v8.1h-3.3zM951.5 2091.7h3.3v7.6h-3.3zM954.5 2091.7h3.3v7h-3.3zM957.5 2091.7h3.3v6.4h-3.3zM960.6 2091.7h3.3v5.9h-3.3zM963.6 2091.7h3.3v5.3h-3.3zM966.6 2091.7h3.3v4.7h-3.3zM969.6 2091.7h3.3v4.2h-3.3zM972.7 2091.7h3.3v3.6h-3.3zM975.7 2109.4h10.1v18.1h-10.1zM985.5 2103.5h28.4v15.2h-28.4zM1013.6 2136.1h35.3v12.2h-35.3zM1048.6 2133.1h21.2v12.2h-21.2zM1124.7 2142h75.6v3.3h-75.6zM1200 2127.2h25.1v18.1h-25.1zM1224.8 2103.5h7.3v24h-7.3zM1231.8 2094.6h12.5v35.9h-12.5zM1244 2094.6h64.8v32.9h-64.8zM1308.5 2091.7h39.3v19.3h-39.3zM1371.5 2091.7h16.8v44.8h-16.8zM1388 2115.4h26.5v24h-26.5zM1539 2144.1h3.3v4.1h-3.3zM1542 2143.6h3.3v4.4h-3.3zM1545 2143.1h3.3v4.8h-3.3zM1548 2142.6h3.3v5.1h-3.3zM1551 2142.1h3.3v5.5h-3.3zM1554 2141.6h3.3v5.8h-3.3zM1557 2141.1h3.3v6.2h-3.3zM1560 2140.6h3.3v6.5h-3.3zM1563 2140.1h3.3v6.9h-3.3zM1566.1 2139.6h3.3v7.2h-3.3zM1569.1 2139.1h3.3v7.6h-3.3zM1572.1 2138.6h3.3v7.9h-3.3zM1575.1 2138.1h3.3v8.3h-3.3zM1578.1 2137.6h3.3v8.6h-3.3zM1581.1 2137.1h3.3v9h-3.3zM1584.1 2136.6h3.3v9.4h-3.3zM1587.1 2136.1h3.3v9.7h-3.3zM1590.1 2135.6h3.3v10.1h-3.3zM1593.1 2135.1h3.3v10.4h-3.3zM1596.1 2134.6h3.3v10.8h-3.3zM1599.1 2134.1h3.3v11.1h-3.3zM1602.1 2133.6h3.3v11.5h-3.3zM1605.1 2133.1h3.3v11.8h-3.3zM1608.1 2132.6h3.3v12.2h-3.3zM1611.2 2132.1h3.3v12.5h-3.3zM1614.2 2131.6h3.3v12.9h-3.3zM1617.2 2131.1h3.3v13.2h-3.3zM1620.2 2130.6h3.3v13.6h-3.3zM1623.2 2130.1h3.3v13.9h-3.3zM1626.2 2129.6h3.3v14.3h-3.3zM1629.2 2129.1h3.3v14.6h-3.3zM1632.2 2128.6h3.3v15h-3.3zM1635.2 2103.5h32.6v6.3h-32.6zM1667.5 2097.6h14.3v30h-14.3zM1681.5 2118.3h55.3v12.2h-55.3zM1736.5 2106.5h164.3v18.1h-164.3zM263.7 2195.3h32.3v6.3h-32.3zM298.6 2189.4h10v12.2h-10zM526.6 2177.6h29.4v12.2h-29.4zM555.7 2171.7h20.6v12.2h-20.6zM576 2174.6h34.3v18.1h-34.3zM805.1 2206h38.1v4.5h-38.1zM842.9 2195.3h60.4v6.3h-60.4zM903 2207.3h3.3v5.8h-3.3zM906 2207.5h3.3v5.6h-3.3zM909.1 2207.7h3.3v5.4h-3.3zM912.1 2208h3.3v5.1h-3.3zM915.1 2208.2h3.3v4.9h-3.3zM918.1 2208.4h3.3v4.7h-3.3zM921.2 2208.6h3.3v4.5h-3.3zM924.2 2208.8h3.3v4.3h-3.3zM927.2 2209.1h3.3v4h-3.3zM930.3 2209.3h3.3v3.8h-3.3zM933.3 2209.5h3.3v3.6h-3.3zM936.3 2209.7h3.3v3.4h-3.3zM939.4 2210h3.3v3.1h-3.3zM942.4 2210.2h3.3v2.9h-3.3zM945.4 2210.4h3.3v2.7h-3.3zM948.4 2210.6h3.3v2.5h-3.3zM951.5 2210.8h3.3v2.3h-3.3zM954.5 2211.1h3.3v2h-3.3zM957.5 2211.3h3.3v1.8h-3.3zM960.6 2211.5h3.3v1.6h-3.3zM963.6 2211.7h3.3v1.4h-3.3zM966.6 2212h3.3v1.1h-3.3zM969.6 2212.2h3.3v0.9h-3.3zM972.7 2212.4h3.3v0.7h-3.3zM985.5 2201.3h28.4v6.3h-28.4zM1013.6 2207.2h35.3v5.9h-35.3zM1048.6 2204.2h21.2v6.3h-21.2zM1224.8 2189.4h7.3v6.3h-7.3zM1231.8 2183.5h12.5v15.2h-12.5zM263.7 2263.5h32.3v3.3h-32.3zM298.6 2263.5h10v11.8h-10zM526.6 2251.6h29.4v12.2h-29.4zM555.7 2245.7h20.6v12.2h-20.6zM576 2242.8h34.3v18.1h-34.3zM610 2233.9h33.3v18.1h-33.3zM643 2245.7h21.3v12.2h-21.3zM664 2228h12.3v12.2h-12.3zM720 2272.4h19.1v3h-19.1zM805.1 2272.1h3.2v2.3h-3.2zM808 2271.7h3.2v2.6h-3.2zM810.9 2271.2h3.2v2.9h-3.2zM813.8 2270.8h3.2v3.2h-3.2zM816.7 2270.3h3.2v3.6h-3.2zM819.6 2269.9h3.2v3.9h-3.2zM822.5 2269.4h3.2v4.2h-3.2zM825.5 2268.9h3.2v4.5h-3.2zM828.4 2268.5h3.2v4.8h-3.2zM831.3 2268h3.2v5.2h-3.2zM834.2 2267.6h3.2v5.5h-3.2zM837.1 2267.1h3.2v5.8h-3.2zM840 2266.7h3.2v6.1h-3.2zM842.9 2262.8h3.3v6.3h-3.3zM845.9 2262.6h3.3v6.4h-3.3zM848.9 2262.4h3.3v6.4h-3.3zM851.9 2262.2h3.3v6.5h-3.3zM854.9 2262h3.3v6.5h-3.3zM857.9 2261.7h3.3v6.6h-3.3zM860.9 2261.5h3.3v6.7h-3.3zM863.9 2261.3h3.3v6.7h-3.3zM866.9 2261.1h3.3v6.8h-3.3zM869.9 2260.9h3.3v6.8h-3.3zM873 2260.7h3.3v6.9h-3.3zM876 2260.5h3.3v7h-3.3zM879 2260.3h3.3v7h-3.3zM882 2260.1h3.3v7.1h-3.3zM885 2259.9h3.3v7.1h-3.3zM888 2259.7h3.3v7.2h-3.3zM891 2259.5h3.3v7.2h-3.3zM894 2259.3h3.3v7.3h-3.3zM897 2259.1h3.3v7.4h-3.3zM900 2258.8h3.3v7.4h-3.3zM903 2236.4h3.3v5h-3.3zM906 2235.7h3.3v4.9h-3.3zM909.1 2234.9h3.3v4.7h-3.3zM912.1 2234.1h3.3v4.6h-3.3zM915.1 2233.3h3.3v4.4h-3.3zM918.1 2232.5h3.3v4.3h-3.3zM921.2 2231.7h3.3v4.1h-3.3zM924.2 2230.9h3.3v4h-3.3zM927.2 2230.1h3.3v3.8h-3.3zM930.3 2229.3h3.3v3.7h-3.3zM933.3 2228.6h3.3v3.5h-3.3zM936.3 2227.8h3.3v3.4h-3.3zM939.4 2227h3.3v3.2h-3.3zM942.4 2226.2h3.3v3.1h-3.3zM945.4 2225.4h3.3v2.9h-3.3zM948.4 2224.6h3.3v2.8h-3.3zM951.5 2223.8h3.3v2.6h-3.3zM954.5 2223h3.3v2.5h-3.3zM957.5 2222.2h3.3v2.3h-3.3zM960.6 2221.4h3.3v2.2h-3.3zM963.6 2220.7h3.3v2.1h-3.3zM966.6 2219.9h3.3v1.9h-3.3zM969.6 2219.1h3.3v1.8h-3.3zM972.7 2218.3h3.3v1.6h-3.3zM985.5 2272.4h3.4v3h-3.4zM988.6 2272.3h3.4v3h-3.4zM991.7 2272.3h3.4v3h-3.4zM994.9 2272.3h3.4v3h-3.4zM998 2272.3h3.4v3h-3.4zM1001.1 2272.3h3.4v3.1h-3.4zM1004.2 2272.2h3.4v3.1h-3.4zM1007.4 2272.2h3.4v3.1h-3.4zM1010.5 2272.2h3.4v3.1h-3.4zM1013.6 2266.4h35.3v6.3h-35.3zM1048.6 2266.4h21.2v6.3h-21.2zM1224.8 2239.8h7.3v12.2h-7.3zM1231.8 2245.7h12.5v15.2h-12.5zM136 2305h34.3v6.3h-34.3zM262 2305h34v9.2h-34zM298.6 2296.1h10v24h-10zM308.3 2278.3h112v3.3h-112zM420 2278.3h55.8v6.3h-55.8zM475.5 2307.9h9.8v12.2h-9.8zM526 2293.1h119.3v15.2h-119.3zM645 2302h31.3v9.2h-31.3zM720 2316.8h19.1v3.3h-19.1zM778 2336h3.3v0.5h-3.3zM781 2335.4h3.3v0.8h-3.3zM784 2334.7h3.3v1.2h-3.3zM787 2334.1h3.3v1.5h-3.3zM790 2333.4h3.3v1.8h-3.3zM793.1 2332.7h3.3v2.2h-3.3zM796.1 2332.1h3.3v2.5h-3.3zM799.1 2331.4h3.3v2.8h-3.3zM802.1 2330.8h3.3v3.1h-3.3zM805.1 2330.1h3.2v3.4h-3.2zM808 2329.3h3.2v3.7h-3.2zM810.9 2328.6h3.2v3.9h-3.2zM813.8 2327.9h3.2v4.1h-3.2zM816.7 2327.2h3.2v4.3h-3.2zM819.6 2326.4h3.2v4.6h-3.2zM822.5 2325.7h3.2v4.8h-3.2zM825.5 2325h3.2v5h-3.2zM828.4 2324.2h3.2v5.2h-3.2zM831.3 2323.5h3.2v5.5h-3.2zM834.2 2322.8h3.2v5.7h-3.2zM837.1 2322.1h3.2v5.9h-3.2zM840 2321.3h3.2v6.2h-3.2zM842.9 2317.4h60.1v8h-60.1zM902.7 2310.3h3.2v4.4h-3.2zM905.6 2309h3.2v4.3h-3.2zM908.6 2307.7h3.2v4.2h-3.2zM911.5 2306.4h3.2v4h-3.2zM914.5 2305.1h3.2v3.9h-3.2zM917.4 2303.8h3.2v3.8h-3.2zM920.4 2302.5h3.2v3.7h-3.2zM923.3 2301.2h3.2v3.5h-3.2zM926.3 2300h3.2v3.4h-3.2zM929.2 2298.7h3.2v3.3h-3.2zM932.2 2297.4h3.2v3.1h-3.2zM935.1 2296.1h3.2v3h-3.2zM938.1 2294.8h3.2v2.9h-3.2zM941 2293.5h3.2v2.8h-3.2zM944 2292.2h3.2v2.6h-3.2zM946.9 2291h3.2v2.5h-3.2zM949.9 2289.7h3.2v2.4h-3.2zM952.8 2288.4h3.2v2.2h-3.2zM955.8 2287.1h3.2v2.1h-3.2zM958.7 2285.8h3.2v2h-3.2zM961.7 2284.5h3.2v1.9h-3.2zM964.6 2283.2h3.2v1.7h-3.2zM967.6 2281.9h3.2v1.6h-3.2zM985.5 2312.7h28.4v7.5h-28.4zM1013.6 2287.2h56.2v7.5h-56.2zM1124.7 2284.3h20.1v3.3h-20.1zM1144.5 2281.3h55.8v3.3h-55.8zM1200 2278.3h25.1v12.2h-25.1zM1224.8 2299.1h7.3v18.1h-7.3zM308.3 2396.8h112v3h-112zM1231.8 2395.6h48.5v4.1h-48.5zM298.6 2438.3h10v12.2h-10zM526 2444.2h119.3v3.3h-119.3zM720 2456.1h19.1v3.3h-19.1zM755.8 2456.1h87.4v2.1h-87.4zM842.9 2444.2h60.1v3.3h-60.1zM1231.8 2438.3h48.5v6.3h-48.5zM298.6 2465h10v6.3h-10zM526 2482.8h150.3v3.3h-150.3zM720 2476.8h19.1v3.3h-19.1zM755.8 2479.8h87.4v2.1h-87.4zM842.9 2482.8h60.1v2.1h-60.1zM1144.5 2521.2h55.8v3h-55.8zM1231.8 2482.8h48.5v5.1h-48.5zM262 2539.1h34v3.3h-34zM526 2542h150.3v3.3h-150.3zM720 2559.8h19.1v3.3h-19.1zM755.8 2553.9h87.4v3.3h-87.4zM842.9 2545h60.1v3.3h-60.1zM970.5 2550.9h15.3v3.3h-15.3zM985.5 2547.9h28.4v3.3h-28.4zM136 2589.4h126.3v2.1h-126.3zM262 2589.4h34v3.3h-34zM298.6 2589.4h227.7v2.1h-227.7zM526 2589.4h150.3v3.3h-150.3zM755.8 2589.4h87.4v2.1h-87.4zM842.9 2589.4h60.1v2.1h-60.1zM985.5 2589.4h28.4v2.1h-28.4zM1013.6 2589.4h56.2v2.1h-56.2zM1069.5 2589.4h162.6v1.5h-162.6z"/>
<path fill="#3a9228" d="M817 405.1h4.3v9.2h-4.3zM1283 437.7h4.3v6.3h-4.3zM1318 416.9h4.3v6.3h-4.3zM1504 440.6h12.3v6.3h-12.3zM1525 446.6h4.3v5.9h-4.3zM1532 440.6h18.3v6.3h-18.3zM1553 393.2h41.3v59.3h-41.3zM1597 408h8.3v44.5h-8.3zM1607 425.8h5.3v26.7h-5.3zM1614 431.7h5.3v20.8h-5.3zM1718 449.5h14.3v3h-14.3zM1735 446.6h12.3v5.9h-12.3zM593 509.3h7.3v5.9h-7.3zM748 506.3h4.3v8.9h-4.3zM1283 509.3h4.3v5.9h-4.3zM1504 506.3h12.3v8.9h-12.3zM1525 503.3h4.3v11.9h-4.3zM1532 509.3h4.3v5.9h-4.3zM1539 503.3h4.3v11.9h-4.3zM1546 506.3h4.3v8.9h-4.3zM1553 455.9h52.3v59.3h-52.3zM1607 485.5h5.3v29.6h-5.3zM1614 491.5h5.3v23.7h-5.3zM1621 491.5h5.3v23.7h-5.3zM1628 509.3h5.3v5.9h-5.3zM1635 509.3h5.3v5.9h-5.3zM1642 509.3h4.3v5.9h-4.3zM1649 485.6h4.3v29.6h-4.3zM1656 509.3h4.3v5.9h-4.3zM1663 509.3h14.3v5.9h-14.3zM1680 509.3h19.3v5.9h-19.3zM1701 509.3h8.3v5.9h-8.3zM1777 509.3h8.3v5.9h-8.3zM1877 509.3h4.3v5.9h-4.3zM1901 512.2h11.3v3h-11.3zM295 530.5h5.3v6.3h-5.3zM748 542.3h4.3v6.3h-4.3zM817 563.1h4.3v14.8h-4.3zM1283 533.4h4.3v3.3h-4.3zM1504 574.9h4.3v3h-4.3zM1511 574.9h4.3v3h-4.3zM1546 574.9h4.3v3h-4.3zM1553 518.6h41.3v59.3h-41.3zM1597 536.4h8.3v41.5h-8.3zM1607 551.2h5.3v26.7h-5.3zM1614 551.2h5.3v18.1h-5.3zM1649 560.1h4.3v17.8h-4.3zM714 622.8h31.3v6.3h-31.3zM817 581.3h4.3v6.3h-4.3zM1283 628.7h4.3v6.3h-4.3zM1304 631.7h18.3v3.3h-18.3zM1504 584.3h12.3v6.3h-12.3zM1532 581.3h18.3v6.3h-18.3zM1553 581.3h52.3v59.3h-52.3zM1607 581.3h5.3v33h-5.3zM1614 584.3h5.3v18.1h-5.3zM1635 581.3h11.3v6.3h-11.3zM1649 581.3h4.3v18.1h-4.3zM1663 584.3h14.3v6.3h-14.3zM1901 613.9h11.3v6.3h-11.3zM216 679.6h5.3v6.3h-5.3zM714 661.8h31.3v9.2h-31.3zM748 670.7h4.3v3.3h-4.3zM817 694.4h4.3v8.9h-4.3zM893 644h22.3v3.3h-22.3zM1304 655.9h4.3v6.3h-4.3zM1311 649.9h4.3v6.3h-4.3zM1504 647h4.3v6.3h-4.3zM1532 644h18.3v6.3h-18.3zM1553 644h52.3v59.3h-52.3zM1607 644h5.3v30h-5.3zM1614 649.9h5.3v12.2h-5.3zM1649 655.9h4.3v18.1h-4.3zM1663 649.9h14.3v6.3h-14.3zM295 706.7h5.3v3.3h-5.3zM714 706.7h31.3v12.2h-31.3zM817 706.7h4.3v12.2h-4.3zM931 706.7h11.3v3.3h-11.3zM1504 706.7h12.3v6.3h-12.3zM1525 706.7h4.3v9.2h-4.3zM1546 706.7h4.3v6.3h-4.3zM1553 706.7h52.3v59.3h-52.3zM1607 706.7h5.3v30h-5.3zM1614 706.7h5.3v18.1h-5.3zM140 793.1h8.3v6.3h-8.3zM714 785.4h31.3v6.3h-31.3zM817 769.4h4.3v6.3h-4.3zM1283 775.3h4.3v3.3h-4.3zM1304 805h4.3v6.3h-4.3zM1318 802h4.3v6.3h-4.3zM1504 775.3h12.3v6.3h-12.3zM1525 777.1h25.3v6.3h-25.3zM1553 769.4h52.3v59.3h-52.3zM1607 769.4h5.3v30h-5.3zM1614 775.3h5.3v15.2h-5.3zM714 879.5h31.3v6.3h-31.3zM817 873.6h4.3v17.8h-4.3zM893 888.4h22.3v3h-22.3zM931 888.4h11.3v3h-11.3zM1283 885.5h4.3v3.3h-4.3zM1304 888.4h18.3v3h-18.3zM1504 882.5h4.3v8.9h-4.3zM1511 885.5h4.3v5.9h-4.3zM1525 879.5h4.3v11.9h-4.3zM1532 885.5h18.3v5.9h-18.3zM1553 832.1h52.3v59.3h-52.3zM1607 861.8h5.3v29.6h-5.3zM1614 876.6h5.3v14.8h-5.3zM1621 885.5h88.3v3.3h-88.3zM1711 885.5h36.3v3.3h-36.3zM1756 885.5h5.3v3.3h-5.3zM1901 858.8h11.3v3.3h-11.3zM133.3 899.5h140v6.3h-140zM275 896.6h25.3v3.3h-25.3zM320 894.8h4.3v3.3h-4.3zM351 894.8h8.3v3.3h-8.3zM603 897.8h98.3v9.2h-98.3zM703 900.7h8.3v9.2h-8.3zM714 900.7h31.3v12.2h-31.3zM748 897.8h11.3v6.3h-11.3zM762 894.8h11.3v6.3h-11.3zM817 894.8h4.3v21.1h-4.3zM824 894.8h18.3v6.3h-18.3zM931 894.8h11.3v9.2h-11.3zM1010 894.8h19.3v6.3h-19.3zM1124 894.8h53.3v3.3h-53.3zM1283 894.8h4.3v9.2h-4.3zM1304 900.7h18.3v6.3h-18.3zM1456 897.8h94.3v15.2h-94.3zM1553 894.8h52.3v59.3h-52.3zM1607 894.8h5.3v33h-5.3zM1614 894.8h5.3v24.1h-5.3zM1621 897.8h184.3v15.2h-184.3zM1877 912.6h4.3v6.3h-4.3zM1901 924.4h11.3v3.3h-11.3zM133.3 1002.6h140v9.2h-140zM275 1010.9h25.3v3.3h-25.3zM603 999h98.3v15.2h-98.3zM703 1004.9h8.3v9.2h-8.3zM714 996h31.3v16.4h-31.3zM748 999h11.3v12.2h-11.3zM762 1010.9h11.3v5.9h-11.3zM776 1010.9h4.3v5.9h-4.3zM931 1007.9h11.3v8.9h-11.3zM1010 1013.8h19.3v3h-19.3zM1283 1007.9h4.3v6.3h-4.3zM1304 1007.9h18.3v6.3h-18.3zM1456 996h94.3v18.1h-94.3zM1553 957.5h52.3v59.3h-52.3zM1607 987.2h5.3v29.6h-5.3zM1614 996h5.3v20.8h-5.3zM1621 999h184.3v12.2h-184.3zM1808 981.2h8.3v6.3h-8.3zM1877 984.2h11.3v6.3h-11.3zM1901 981.2h11.3v6.3h-11.3zM133.3 1020.2h140v6.3h-140zM275 1020.2h25.3v3.3h-25.3zM603 1020.2h98.3v12.2h-98.3zM703 1020.2h8.3v6.3h-8.3zM714 1020.2h31.3v12.2h-31.3zM748 1020.2h11.3v6.3h-11.3zM762 1020.2h11.3v3.3h-11.3zM817 1020.2h4.3v21.1h-4.3zM931 1020.2h11.3v6.3h-11.3zM1010 1020.2h19.3v6.3h-19.3zM1124 1020.2h53.3v3.3h-53.3zM1283 1020.2h4.3v6.3h-4.3zM1304 1020.2h18.3v6.3h-18.3zM1456 1020.2h94.3v18.1h-94.3zM1553 1020.2h52.3v59.3h-52.3zM1607 1020.2h5.3v35.9h-5.3zM1614 1020.2h5.3v21.1h-5.3zM1621 1020.2h184.3v9.2h-184.3zM1877 1020.2h35.3v3.3h-35.3zM136 1884.2h14.3v6.3h-14.3zM150 1866.5h15.3v6.3h-15.3zM272 1848.7h24v21.1h-24zM298.6 1842.8h10v41.8h-10zM526.6 1854.6h29.4v18.1h-29.4zM576 1854.6h34.3v24h-34.3zM705.5 1845.8h14.8v6.3h-14.8zM720 1854.6h19.1v3.3h-19.1zM778 1842.8h3.3v3h-3.3zM781 1842.8h3.3v3.5h-3.3zM784 1842.8h3.3v4h-3.3zM787 1842.8h3.3v4.6h-3.3zM790 1842.8h3.3v5.1h-3.3zM793.1 1842.8h3.3v5.6h-3.3zM796.1 1842.8h3.3v6.1h-3.3zM799.1 1842.8h3.3v6.7h-3.3zM802.1 1842.8h3.3v7.2h-3.3zM805.1 1845.8h3.2v6.5h-3.2zM808 1845.8h3.2v7h-3.2zM810.9 1845.8h3.2v7.4h-3.2zM813.8 1845.8h3.2v7.9h-3.2zM816.7 1845.8h3.2v8.3h-3.2zM819.6 1845.8h3.2v8.8h-3.2zM822.5 1845.8h3.2v9.2h-3.2zM825.5 1845.8h3.2v9.7h-3.2zM828.4 1845.8h3.2v10.1h-3.2zM831.3 1845.8h3.2v10.6h-3.2zM834.2 1845.8h3.2v11.1h-3.2zM837.1 1845.8h3.2v11.5h-3.2zM840 1845.8h3.2v12h-3.2zM842.9 1846.1h3.3v18.6h-3.3zM845.9 1846.5h3.3v18.4h-3.3zM848.9 1847h3.3v18.2h-3.3zM851.9 1847.4h3.3v18h-3.3zM854.9 1847.9h3.3v17.9h-3.3zM857.9 1848.3h3.3v17.7h-3.3zM860.9 1848.8h3.3v17.5h-3.3zM863.9 1849.2h3.3v17.3h-3.3zM866.9 1849.7h3.3v17.1h-3.3zM869.9 1850.1h3.3v17h-3.3zM873 1850.5h3.3v16.8h-3.3zM876 1851h3.3v16.6h-3.3zM879 1851.4h3.3v16.4h-3.3zM882 1851.8h3.3v16.3h-3.3zM885 1852.3h3.3v16.1h-3.3zM888 1852.7h3.3v15.9h-3.3zM891 1853.1h3.3v15.7h-3.3zM894 1853.6h3.3v15.6h-3.3zM897 1854h3.3v15.4h-3.3zM900 1854.4h3.3v15.2h-3.3zM903 1878.7h3.3v23.3h-3.3zM906 1879.5h3.3v22.5h-3.3zM909.1 1880.4h3.3v21.6h-3.3zM912.1 1881.2h3.3v20.8h-3.3zM915.1 1882h3.3v20h-3.3zM918.1 1882.8h3.3v19.2h-3.3zM921.2 1883.6h3.3v18.4h-3.3zM924.2 1884.4h3.3v17.6h-3.3zM927.2 1885.2h3.3v16.8h-3.3zM930.3 1886.1h3.3v15.9h-3.3zM933.3 1886.9h3.3v15.1h-3.3zM936.3 1887.7h3.3v14.3h-3.3zM939.4 1888.5h3.3v13.5h-3.3zM942.4 1889.3h3.3v12.7h-3.3zM945.4 1890.1h3.3v11.9h-3.3zM948.4 1890.9h3.3v11.1h-3.3zM951.5 1891.8h3.3v10.2h-3.3zM954.5 1892.6h3.3v9.4h-3.3zM957.5 1893.4h3.3v8.6h-3.3zM960.6 1894.2h3.3v7.8h-3.3zM963.6 1895h3.3v7h-3.3zM966.6 1895.8h3.3v6.2h-3.3zM969.6 1896.6h3.3v5.4h-3.3zM972.7 1897.4h3.3v4.6h-3.3zM975.7 1866.5h10.1v6.3h-10.1zM985.5 1851.7h28.4v18.1h-28.4zM1124.7 1887.2h20.1v9.2h-20.1zM1144.5 1890.2h28.8v6.3h-28.8zM1173 1890.2h27.3v6.3h-27.3zM1224.8 1890.2h7.3v11.8h-7.3zM1231.8 1842.8h12.5v41.8h-12.5zM1244 1848.7h64.8v32.9h-64.8zM1308.5 1863.5h14.8v27h-14.8zM1323 1860.6h24.8v27h-24.8zM1371.5 1842.8h16.8v59.2h-16.8zM1388 1863.5h26.5v24h-26.5zM1539 1888.4h3.3v0.5h-3.3zM1542 1887.3h3.3v0.8h-3.3zM1545 1886.2h3.3v1h-3.3zM1548 1885.1h3.3v1.3h-3.3zM1551 1884h3.3v1.6h-3.3zM1554 1882.9h3.3v1.9h-3.3zM1557 1881.8h3.3v2.2h-3.3zM1560 1880.7h3.3v2.4h-3.3zM1563 1879.5h3.3v2.7h-3.3zM1566.1 1878.4h3.3v3h-3.3zM1569.1 1877.3h3.3v3.3h-3.3zM1572.1 1876.2h3.3v3.5h-3.3zM1575.1 1875.1h3.3v3.8h-3.3zM1578.1 1874h3.3v4.1h-3.3zM1581.1 1872.9h3.3v4.4h-3.3zM1584.1 1871.8h3.3v4.7h-3.3zM1587.1 1870.7h3.3v4.9h-3.3zM1590.1 1869.6h3.3v5.2h-3.3zM1593.1 1868.4h3.3v5.5h-3.3zM1596.1 1867.3h3.3v5.8h-3.3zM1599.1 1866.2h3.3v6h-3.3zM1602.1 1865.1h3.3v6.3h-3.3zM1605.1 1864h3.3v6.6h-3.3zM1608.1 1862.9h3.3v6.9h-3.3zM1611.2 1861.8h3.3v7.1h-3.3zM1614.2 1860.7h3.3v7.4h-3.3zM1617.2 1859.6h3.3v7.7h-3.3zM1620.2 1858.5h3.3v8h-3.3zM1623.2 1857.3h3.3v8.3h-3.3zM1626.2 1856.2h3.3v8.5h-3.3zM1629.2 1855.1h3.3v8.8h-3.3zM1632.2 1854h3.3v9.1h-3.3zM1667.5 1848.7h14.3v32.9h-14.3zM1710 1848.7h26.8v30h-26.8zM1736.5 1848.7h164.3v24h-164.3zM136 1905h14.3v6.3h-14.3zM150 1905h15.3v6.3h-15.3zM263.7 1905h32.3v18.1h-32.3zM298.6 1905h10v47.7h-10zM308.3 1905h170v6.3h-170zM526.6 1905h29.4v18.1h-29.4zM576 1905h34.3v27h-34.3zM610 1905h33.3v6.3h-33.3zM664 1946.5h12.3v6.3h-12.3zM720 1905h19.1v3.3h-19.1zM778 1905h3.3v3.3h-3.3zM781 1905h3.3v3.3h-3.3zM784 1905h3.3v3.3h-3.3zM787 1905h3.3v3.3h-3.3zM790 1905h3.3v3.3h-3.3zM793.1 1905h3.3v3.3h-3.3zM796.1 1905h3.3v3.3h-3.3zM799.1 1905h3.3v3.3h-3.3zM802.1 1905h3.3v3.3h-3.3zM805.1 1905h3.2v6.4h-3.2zM808 1905h3.2v6.6h-3.2zM810.9 1905h3.2v6.8h-3.2zM813.8 1905h3.2v7.1h-3.2zM816.7 1905h3.2v7.3h-3.2zM819.6 1905h3.2v7.5h-3.2zM822.5 1905h3.2v7.8h-3.2zM825.5 1905h3.2v8h-3.2zM828.4 1905h3.2v8.2h-3.2zM831.3 1905h3.2v8.4h-3.2zM834.2 1905h3.2v8.7h-3.2zM837.1 1905h3.2v8.9h-3.2zM840 1905h3.2v9.1h-3.2zM842.9 1905h3.3v18h-3.3zM845.9 1905h3.3v17.9h-3.3zM848.9 1905h3.3v17.7h-3.3zM851.9 1905h3.3v17.6h-3.3zM854.9 1905h3.3v17.4h-3.3zM857.9 1905h3.3v17.3h-3.3zM860.9 1905h3.3v17.1h-3.3zM863.9 1905h3.3v17h-3.3zM866.9 1905h3.3v16.9h-3.3zM869.9 1905h3.3v16.7h-3.3zM873 1905h3.3v16.6h-3.3zM876 1905h3.3v16.4h-3.3zM879 1905h3.3v16.3h-3.3zM882 1905h3.3v16.1h-3.3zM885 1905h3.3v16h-3.3zM888 1905h3.3v15.8h-3.3zM891 1905h3.3v15.7h-3.3zM894 1905h3.3v15.5h-3.3zM897 1905h3.3v15.4h-3.3zM900 1905h3.3v15.2h-3.3zM903 1905h3.3v17.8h-3.3zM906 1905h3.3v17.3h-3.3zM909.1 1905h3.3v16.8h-3.3zM912.1 1905h3.3v16.2h-3.3zM915.1 1905h3.3v15.7h-3.3zM918.1 1905h3.3v15.1h-3.3zM921.2 1905h3.3v14.6h-3.3zM924.2 1905h3.3v14h-3.3zM927.2 1905h3.3v13.5h-3.3zM930.3 1905h3.3v13h-3.3zM933.3 1905h3.3v12.4h-3.3zM936.3 1905h3.3v11.9h-3.3zM939.4 1905h3.3v11.3h-3.3zM942.4 1905h3.3v10.8h-3.3zM945.4 1905h3.3v10.2h-3.3zM948.4 1905h3.3v9.7h-3.3zM951.5 1905h3.3v9.2h-3.3zM954.5 1905h3.3v8.6h-3.3zM957.5 1905h3.3v8.1h-3.3zM960.6 1905h3.3v7.5h-3.3zM963.6 1905h3.3v7h-3.3zM966.6 1905h3.3v6.4h-3.3zM969.6 1905h3.3v5.9h-3.3zM972.7 1905h3.3v5.4h-3.3zM985.5 1905h28.4v15.2h-28.4zM1013.6 1905h35.3v18.1h-35.3zM1048.6 1905h21.2v12.2h-21.2zM1069.5 1905h34.1v6.3h-34.1zM1124.7 1905h48.6v3.3h-48.6zM1173 1905h52.1v3.3h-52.1zM1224.8 1905h7.3v18.1h-7.3zM1231.8 1905h12.5v30h-12.5zM1244 1905h36.3v47.7h-36.3zM1280 1905h28.8v30h-28.8zM1308.5 1905h39.3v24h-39.3zM1371.5 1905h16.8v59.2h-16.8zM1388 1905h26.5v27h-26.5zM1539 1905h3.3v2.4h-3.3zM1542 1905h3.3v2.9h-3.3zM1545 1905h3.3v3.4h-3.3zM1548 1905h3.3v3.9h-3.3zM1551 1905h3.3v4.4h-3.3zM1554 1905h3.3v4.9h-3.3zM1557 1905h3.3v5.4h-3.3zM1560 1905h3.3v5.9h-3.3zM1563 1905h3.3v6.4h-3.3zM1566.1 1905h3.3v6.9h-3.3zM1569.1 1905h3.3v7.4h-3.3zM1572.1 1905h3.3v7.9h-3.3zM1575.1 1905h3.3v8.4h-3.3zM1578.1 1905h3.3v8.9h-3.3zM1581.1 1905h3.3v9.4h-3.3zM1584.1 1905h3.3v9.9h-3.3zM1587.1 1905h3.3v10.4h-3.3zM1590.1 1905h3.3v10.9h-3.3zM1593.1 1905h3.3v11.4h-3.3zM1596.1 1905h3.3v11.9h-3.3zM1599.1 1905h3.3v12.4h-3.3zM1602.1 1905h3.3v12.9h-3.3zM1605.1 1905h3.3v13.4h-3.3zM1608.1 1905h3.3v13.9h-3.3zM1611.2 1905h3.3v14.4h-3.3zM1614.2 1905h3.3v14.9h-3.3zM1617.2 1905h3.3v15.4h-3.3zM1620.2 1905h3.3v15.9h-3.3zM1623.2 1905h3.3v16.4h-3.3zM1626.2 1905h3.3v16.9h-3.3zM1629.2 1905h3.3v17.4h-3.3zM1632.2 1905h3.3v17.9h-3.3zM1667.5 1905h14.3v32.9h-14.3zM1681.5 1905h55.3v18.1h-55.3zM1736.5 1905h164.3v21.1h-164.3zM136 2014.6h14.3v11.8h-14.3zM150 2008.7h15.3v12.2h-15.3zM263.7 2002.8h32.3v23.7h-32.3zM298.6 1967.2h10v50.7h-10zM308.3 2014.6h170v11.8h-170zM526.6 2002.8h29.4v23.7h-29.4zM576 1990.9h34.3v30h-34.3zM705.5 2014.6h14.8v3.3h-14.8zM720 2014.6h19.1v3.3h-19.1zM778 2024.3h3.3v2.1h-3.3zM781 2023.7h3.3v2.8h-3.3zM784 2023h3.3v3.4h-3.3zM787 2022.4h3.3v4.1h-3.3zM790 2021.7h3.3v4.7h-3.3zM793.1 2021h3.3v5.4h-3.3zM796.1 2020.4h3.3v6.1h-3.3zM799.1 2019.7h3.3v6.7h-3.3zM802.1 2019.1h3.3v7.4h-3.3zM805.1 2015.5h3.2v11h-3.2zM808 2014.8h3.2v11.6h-3.2zM810.9 2014.2h3.2v12.2h-3.2zM813.8 2013.6h3.2v12.9h-3.2zM816.7 2012.9h3.2v13.5h-3.2zM819.6 2012.3h3.2v14.2h-3.2zM822.5 2011.6h3.2v14.8h-3.2zM825.5 2011h3.2v15.4h-3.2zM828.4 2010.4h3.2v16.1h-3.2zM831.3 2009.7h3.2v16.7h-3.2zM834.2 2009.1h3.2v17.4h-3.2zM837.1 2008.5h3.2v18h-3.2zM840 2007.8h3.2v18.6h-3.2zM842.9 2005.7h60.4v20.7h-60.4zM903 2009h3.3v17.5h-3.3zM906 2009.5h3.3v16.9h-3.3zM909.1 2010h3.3v16.4h-3.3zM912.1 2010.6h3.3v15.9h-3.3zM915.1 2011.1h3.3v15.3h-3.3zM918.1 2011.7h3.3v14.8h-3.3zM921.2 2012.2h3.3v14.2h-3.3zM924.2 2012.8h3.3v13.7h-3.3zM927.2 2013.3h3.3v13.1h-3.3zM930.3 2013.8h3.3v12.6h-3.3zM933.3 2014.4h3.3v12.1h-3.3zM936.3 2014.9h3.3v11.5h-3.3zM939.4 2015.5h3.3v11h-3.3zM942.4 2016h3.3v10.4h-3.3zM945.4 2016.5h3.3v9.9h-3.3zM948.4 2017.1h3.3v9.3h-3.3zM951.5 2017.6h3.3v8.8h-3.3zM954.5 2018.2h3.3v8.3h-3.3zM957.5 2018.7h3.3v7.7h-3.3zM960.6 2019.3h3.3v7.2h-3.3zM963.6 2019.8h3.3v6.6h-3.3zM966.6 2020.3h3.3v6.1h-3.3zM969.6 2020.9h3.3v5.6h-3.3zM972.7 2021.4h3.3v5h-3.3zM975.7 2002.8h10.1v23.7h-10.1zM985.5 2008.7h28.4v17.8h-28.4zM1013.6 2008.7h35.3v17.8h-35.3zM1048.6 2011.6h21.2v14.8h-21.2zM1069.5 2023.5h34.1v3h-34.1zM1124.7 2023.5h20.1v3h-20.1zM1144.5 2023.5h55.8v3h-55.8zM1200 2008.7h25.1v17.8h-25.1zM1224.8 1990.9h7.3v35.5h-7.3zM1231.8 1985h12.5v41.4h-12.5zM1244 1988h64.8v38.5h-64.8zM1308.5 1999.8h39.3v26.6h-39.3zM1371.5 1967.2h16.8v59.2h-16.8zM1388 2005.7h26.5v20.7h-26.5zM1539 2024.4h3.3v2h-3.3zM1542 2023.9h3.3v2.5h-3.3zM1545 2023.4h3.3v3h-3.3zM1548 2022.9h3.3v3.5h-3.3zM1551 2022.4h3.3v4h-3.3zM1554 2021.9h3.3v4.5h-3.3zM1557 2021.4h3.3v5h-3.3zM1560 2020.9h3.3v5.5h-3.3zM1563 2020.4h3.3v6h-3.3zM1566.1 2019.9h3.3v6.5h-3.3zM1569.1 2019.4h3.3v7h-3.3zM1572.1 2018.9h3.3v7.5h-3.3zM1575.1 2018.4h3.3v8h-3.3zM1578.1 2017.9h3.3v8.5h-3.3zM1581.1 2017.4h3.3v9h-3.3zM1584.1 2016.9h3.3v9.5h-3.3zM1587.1 2016.4h3.3v10h-3.3zM1590.1 2015.9h3.3v10.5h-3.3zM1593.1 2015.4h3.3v11h-3.3zM1596.1 2014.9h3.3v11.5h-3.3zM1599.1 2014.4h3.3v12h-3.3zM1602.1 2013.9h3.3v12.5h-3.3zM1605.1 2013.4h3.3v13h-3.3zM1608.1 2012.9h3.3v13.5h-3.3zM1611.2 2012.4h3.3v14h-3.3zM1614.2 2011.9h3.3v14.5h-3.3zM1617.2 2011.4h3.3v15h-3.3zM1620.2 2010.9h3.3v15.5h-3.3zM1623.2 2010.4h3.3v16h-3.3zM1626.2 2009.9h3.3v16.5h-3.3zM1629.2 2009.4h3.3v17h-3.3zM1632.2 2008.9h3.3v17.5h-3.3zM1635.2 2025.7h3.2v0.8h-3.2zM1638.1 2025.3h3.2v1.2h-3.2zM1641.1 2024.9h3.2v1.5h-3.2zM1644 2024.5h3.2v1.9h-3.2zM1646.9 2024.2h3.2v2.3h-3.2zM1649.9 2023.8h3.2v2.7h-3.2zM1652.8 2023.4h3.2v3h-3.2zM1655.8 2023h3.2v3.4h-3.2zM1658.7 2022.6h3.2v3.8h-3.2zM1661.6 2022.3h3.2v4.2h-3.2zM1664.6 2021.9h3.2v4.5h-3.2zM1667.5 1985h14.3v41.4h-14.3zM1681.5 2005.7h55.3v20.7h-55.3zM1736.5 2002.8h164.3v23.7h-164.3z"/>
<path fill="#6f8a8a" d="M171 503.3h11.3v6.3h-11.3zM185 461.8h14.3v24.1h-14.3zM202 455.9h5.3v59.3h-5.3zM209 497.4h5.3v12.2h-5.3zM216 485.6h5.3v24.1h-5.3zM241 455.9h3.3v59.3h-3.3zM755 455.9h4.3v59.3h-4.3zM1304 455.9h18.3v59.3h-18.3z"/>
<path fill="#eac245" d="M1718 405.1h14.3v3.3h-14.3zM1819 393.2h55.3v59.3h-55.3zM1891 393.2h7.3v35.9h-7.3zM275 509.3h4.3v5.9h-4.3zM1718 506.3h14.3v8.9h-14.3zM1808 491.5h8.3v23.7h-8.3zM1819 455.9h55.3v59.3h-55.3zM1877 482.6h4.3v27h-4.3zM1884 473.7h4.3v41.5h-4.3zM1891 470.7h7.3v44.5h-7.3zM1901 479.6h11.3v33h-11.3zM1808 530.5h8.3v41.9h-8.3zM1819 518.6h55.3v59.3h-55.3zM1877 560.1h4.3v17.8h-4.3zM1884 545.3h4.3v32.6h-4.3zM1891 530.5h7.3v41.9h-7.3zM1901 530.5h11.3v24.1h-11.3zM209 581.3h5.3v3.3h-5.3zM714 637.6h31.3v3h-31.3zM1808 581.3h8.3v30h-8.3zM1819 581.3h55.3v59.3h-55.3zM1877 587.2h4.3v30h-4.3zM1884 581.3h4.3v30h-4.3zM1891 581.3h7.3v35.9h-7.3zM1901 581.3h11.3v30h-11.3zM714 678.4h31.3v1.5h-31.3zM893 700.3h22.3v3h-22.3zM1808 664.8h8.3v30h-8.3zM1819 644h55.3v59.3h-55.3zM1877 661.8h4.3v35.9h-4.3zM1884 661.8h4.3v35.9h-4.3zM1891 661.8h7.3v38.9h-7.3zM1901 667.7h11.3v33h-11.3zM714 764.8h31.3v1.2h-31.3zM1449 763h4.3v3h-4.3zM1718 760.1h29.3v5.9h-29.3zM1777 757.1h8.3v8.9h-8.3zM1808 730.4h8.3v35.6h-8.3zM1819 706.7h55.3v59.3h-55.3zM1877 745.2h4.3v20.8h-4.3zM1884 724.5h4.3v41.5h-4.3zM1891 736.4h7.3v29.6h-7.3zM1901 736.4h11.3v29.6h-11.3zM209 805h5.3v3.3h-5.3zM714 806.2h31.3v3.3h-31.3zM893 825.7h22.3v3h-22.3zM931 807.9h11.3v3.3h-11.3zM1777 793.1h8.3v6.3h-8.3zM1808 781.3h8.3v41.9h-8.3zM1819 769.4h55.3v59.3h-55.3zM1877 793.1h35.3v35.6h-35.3zM714 888.4h31.3v3h-31.3zM1283 888.4h4.3v3h-4.3zM1449 888.4h4.3v3h-4.3zM1621 888.4h88.3v3h-88.3zM1711 888.4h36.3v3h-36.3zM1749 885.5h4.3v5.9h-4.3zM1756 888.4h5.3v3h-5.3zM1763 888.4h5.3v3h-5.3zM1770 885.5h4.3v5.9h-4.3zM1777 879.5h8.3v11.9h-8.3zM1787 888.4h4.3v3h-4.3zM1794 876.6h4.3v14.8h-4.3zM1801 888.4h4.3v3h-4.3zM1808 864.7h8.3v26.7h-8.3zM1819 832.1h55.3v59.3h-55.3zM1877 867.7h4.3v23.7h-4.3zM1884 855.8h4.3v35.6h-4.3zM1891 852.9h7.3v38.5h-7.3zM1901 861.8h11.3v29.6h-11.3zM133.3 894.8h140v5.1h-140zM275 894.8h25.3v2.1h-25.3zM603 894.8h98.3v3.3h-98.3zM703 894.8h8.3v6.3h-8.3zM714 894.8h31.3v6.3h-31.3zM748 894.8h11.3v3.3h-11.3zM893 894.8h22.3v5.1h-22.3zM1304 894.8h18.3v6.3h-18.3zM1456 894.8h94.3v3.3h-94.3zM1621 894.8h184.3v3.3h-184.3zM1808 894.8h8.3v30h-8.3zM1819 894.8h55.3v59.3h-55.3zM1877 894.8h4.3v18.1h-4.3zM1884 894.8h4.3v24.1h-4.3zM1891 894.8h7.3v38.9h-7.3zM1901 894.8h11.3v30h-11.3zM133.3 1011.5h140v5.3h-140zM275 1013.8h25.3v3h-25.3zM603 1013.8h98.3v3h-98.3zM703 1013.8h8.3v3h-8.3zM714 1012.1h31.3v4.7h-31.3zM748 1010.9h11.3v5.9h-11.3zM893 1010.9h22.3v5.9h-22.3zM1283 1013.8h4.3v3h-4.3zM1304 1013.8h18.3v3h-18.3zM1456 1013.8h94.3v3h-94.3zM1621 1010.9h184.3v5.9h-184.3zM1808 987.1h8.3v29.6h-8.3zM1819 957.5h55.3v59.3h-55.3zM1877 990.1h11.3v26.7h-11.3zM1891 975.3h7.3v41.5h-7.3zM1901 987.1h11.3v29.6h-11.3zM133.3 1026.1h140v3.3h-140zM558 1020.2h32.3v3.3h-32.3zM603 1032.1h98.3v3.3h-98.3zM703 1026.1h8.3v3.3h-8.3zM714 1032.1h31.3v6.3h-31.3zM893 1020.2h22.3v6.3h-22.3zM1124 1023.2h53.3v3.3h-53.3zM1283 1026.1h4.3v3.3h-4.3zM1304 1026.1h18.3v3.3h-18.3zM1456 1038h94.3v3.3h-94.3zM1621 1029.1h184.3v6.3h-184.3zM1808 1020.2h8.3v33h-8.3zM1819 1020.2h55.3v59.3h-55.3zM1877 1023.2h35.3v33h-35.3zM133.3 1136.3h140v5.9h-140zM275 1138h25.3v4.2h-25.3zM603 1133.3h98.3v8.9h-98.3zM703 1136.3h8.3v5.9h-8.3zM714 1134.5h31.3v7.7h-31.3zM748 1139.2h11.3v3h-11.3zM1283 1139.2h4.3v3h-4.3zM1304 1139.2h18.3v3h-18.3zM1456 1138h94.3v4.2h-94.3zM1607 1130.3h198.3v11.9h-198.3zM1808 1115.5h8.3v26.7h-8.3zM1819 1082.9h55.3v59.3h-55.3zM1877 1118.5h4.3v23.7h-4.3zM1884 1112.5h4.3v29.6h-4.3zM1891 1103.7h7.3v38.5h-7.3zM1901 1109.6h11.3v32.6h-11.3zM133.3 1148.6h140v24.1h-140zM275 1148.6h25.3v18.1h-25.3zM303 1147.4h15.3v12.2h-15.3zM320 1145.6h4.3v6.3h-4.3zM351 1145.6h8.3v12.2h-8.3zM558 1145.6h32.3v6.3h-32.3zM593 1145.6h7.3v9.2h-7.3zM603 1148.6h98.3v38.9h-98.3zM703 1148.6h8.3v33h-8.3zM714 1148.6h31.3v38.9h-31.3zM748 1146.8h11.3v33h-11.3zM762 1146.8h519.3v55.5h-519.3zM1283 1148.6h18.3v50.8h-18.3zM1304 1172.3h18.3v27h-18.3zM1342 1190.1h4.3v14.8h-4.3zM1449 1193h4.3v11.9h-4.3zM1456 1151.5h94.3v38.9h-94.3zM1553 1149.8h52.3v44.8h-52.3zM1607 1149.8h209.3v46.6h-209.3zM1819 1145.6h55.3v59.3h-55.3zM1877 1148.6h35.3v50.8h-35.3zM643 1842.8h21.3v59.2h-21.3zM664 1842.8h12.3v35.9h-12.3zM1710 1842.8h26.8v6.3h-26.8zM1736.5 1842.8h164.3v6.3h-164.3zM643 1905h21.3v59.2h-21.3zM664 1905h12.3v41.8h-12.3zM1681.5 1928.7h55.3v6.3h-55.3zM1736.5 1931.7h164.3v12.2h-164.3zM643 1967.2h21.3v59.2h-21.3zM664 1967.2h12.3v35.9h-12.3zM720 2002.8h19.1v3.3h-19.1zM778 2023h3.3v1.7h-3.3zM781 2022h3.3v2h-3.3zM784 2021h3.3v2.4h-3.3zM787 2020h3.3v2.7h-3.3zM790 2019h3.3v3h-3.3zM793.1 2018.1h3.3v3.3h-3.3zM796.1 2017.1h3.3v3.7h-3.3zM799.1 2016.1h3.3v4h-3.3zM802.1 2015.1h3.3v4.3h-3.3zM805.1 2011.3h3.2v4.5h-3.2zM808 2010.6h3.2v4.6h-3.2zM810.9 2009.9h3.2v4.6h-3.2zM813.8 2009.2h3.2v4.7h-3.2zM816.7 2008.6h3.2v4.7h-3.2zM819.6 2007.9h3.2v4.7h-3.2zM822.5 2007.2h3.2v4.8h-3.2zM825.5 2006.5h3.2v4.8h-3.2zM828.4 2005.8h3.2v4.9h-3.2zM831.3 2005.2h3.2v4.9h-3.2zM834.2 2004.5h3.2v5h-3.2zM837.1 2003.8h3.2v5h-3.2zM840 2003.1h3.2v5.1h-3.2zM842.9 1996.8h60.4v6.3h-60.4zM985.5 1990.9h28.4v6.3h-28.4zM1231.8 1979.1h12.5v6.3h-12.5zM1244 1982h64.8v3.3h-64.8zM1681.5 1982h55.3v6.3h-55.3zM1736.5 1979.1h164.3v12.2h-164.3zM643 2029.5h21.3v59.2h-21.3zM664 2029.5h12.3v30h-12.3zM1244 2085.7h64.8v3h-64.8zM1681.5 2082.7h55.3v5.9h-55.3zM1736.5 2082.7h164.3v5.9h-164.3zM610 2130.2h33.3v12.2h-33.3zM643 2091.7h21.3v59.2h-21.3zM664 2091.7h12.3v35.9h-12.3zM1224.8 2127.2h7.3v6.3h-7.3zM1231.8 2130.2h12.5v6.3h-12.5zM1244 2130.2h64.8v6.3h-64.8zM1308.5 2130.2h39.3v5.1h-39.3zM1440 2106.5h20.3v41.8h-20.3zM1460 2115.4h30.3v32.9h-30.3zM1490 2109.4h30.6v38.8h-30.6zM1520.3 2133.1h15v17.8h-15zM1635.2 2124.2h32.6v21.1h-32.6zM1667.5 2127.2h14.3v12.2h-14.3zM1681.5 2133.1h55.3v12.2h-55.3zM1736.5 2130.2h164.3v12.2h-164.3zM1900.5 2115.4h14.8v35.5h-14.8zM136 2207.2h14.3v5.9h-14.3zM150 2201.3h15.3v6.3h-15.3zM165 2201.3h13.7v6.3h-13.7zM263.7 2201.3h32.3v6.3h-32.3zM298.6 2201.3h10v11.8h-10zM308.3 2207.2h112v5.9h-112zM420 2207.2h58.3v5.9h-58.3zM478 2195.3h8.3v17.8h-8.3zM526.6 2192.4h29.4v20.7h-29.4zM555.7 2186.5h20.6v26.6h-20.6zM576 2195.3h34.3v17.8h-34.3zM610 2189.4h33.3v23.7h-33.3zM643 2153.9h21.3v59.2h-21.3zM664 2153.9h12.3v44.8h-12.3zM842.9 2204.2h60.4v6.3h-60.4zM975.7 2207.2h10.1v5.9h-10.1zM1224.8 2195.3h7.3v17.8h-7.3zM1231.8 2198.3h12.5v14.8h-12.5zM1244 2195.3h64.8v17.8h-64.8zM1308.5 2201.3h39.3v11.8h-39.3zM1371.5 2195.3h16.8v17.8h-16.8zM1388 2201.3h26.5v11.8h-26.5zM1440 2174.6h80.6v38.5h-80.6zM1520.3 2195.3h15v17.8h-15zM1539 2211.9h3.3v1.2h-3.3zM1542 2211.7h3.3v1.4h-3.3zM1545 2211.6h3.3v1.5h-3.3zM1548 2211.5h3.3v1.6h-3.3zM1551 2211.4h3.3v1.7h-3.3zM1554 2211.3h3.3v1.8h-3.3zM1557 2211.2h3.3v1.9h-3.3zM1560 2211.1h3.3v2h-3.3zM1563 2211h3.3v2.1h-3.3zM1566.1 2210.9h3.3v2.2h-3.3zM1569.1 2210.8h3.3v2.3h-3.3zM1572.1 2210.6h3.3v2.5h-3.3zM1575.1 2210.5h3.3v2.6h-3.3zM1578.1 2210.4h3.3v2.7h-3.3zM1581.1 2210.3h3.3v2.8h-3.3zM1584.1 2210.2h3.3v2.9h-3.3zM1587.1 2210.1h3.3v3h-3.3zM1590.1 2210h3.3v3.1h-3.3zM1593.1 2209.9h3.3v3.2h-3.3zM1596.1 2209.8h3.3v3.3h-3.3zM1599.1 2209.6h3.3v3.5h-3.3zM1602.1 2209.5h3.3v3.6h-3.3zM1605.1 2209.4h3.3v3.7h-3.3zM1608.1 2209.3h3.3v3.8h-3.3zM1611.2 2209.2h3.3v3.9h-3.3zM1614.2 2209.1h3.3v4h-3.3zM1617.2 2209h3.3v4.1h-3.3zM1620.2 2208.9h3.3v4.2h-3.3zM1623.2 2208.8h3.3v4.3h-3.3zM1626.2 2208.6h3.3v4.5h-3.3zM1629.2 2208.5h3.3v4.6h-3.3zM1632.2 2208.4h3.3v4.7h-3.3zM1635.2 2186.5h32.6v26.6h-32.6zM1667.5 2189.4h14.3v23.7h-14.3zM1681.5 2201.3h55.3v11.8h-55.3zM1736.5 2198.3h164.3v14.8h-164.3zM1900.5 2177.6h14.8v35.5h-14.8zM136 2272.4h14.3v3h-14.3zM150 2269.4h15.3v5.9h-15.3zM165 2269.4h13.7v5.9h-13.7zM420 2272.4h58.3v3h-58.3z"/>
<path fill="#d24b4b" d="M1013.6 1845.8h35.3v56.2h-35.3zM1048.6 1860.6h21.2v41.4h-21.2zM1069.5 1884.2h34.1v17.8h-34.1zM1103.3 1893.1h21.7v8.9h-21.7zM1173 1896.1h27.3v5.9h-27.3zM1200 1872.4h25.1v29.6h-25.1zM1224.8 1860.6h7.3v30h-7.3zM1388 1887.2h26.5v12.2h-26.5zM1539 1888.6h3.3v12.6h-3.3zM1542 1887.7h3.3v13.4h-3.3zM1545 1886.9h3.3v14.3h-3.3zM1548 1886.1h3.3v15.1h-3.3zM1551 1885.2h3.3v15.9h-3.3zM1554 1884.4h3.3v16.8h-3.3zM1557 1883.6h3.3v17.6h-3.3zM1560 1882.7h3.3v18.4h-3.3zM1563 1881.9h3.3v19.3h-3.3zM1566.1 1881.1h3.3v20.1h-3.3zM1569.1 1880.2h3.3v20.9h-3.3zM1572.1 1879.4h3.3v21.8h-3.3zM1575.1 1878.6h3.3v22.6h-3.3zM1578.1 1877.7h3.3v23.4h-3.3zM1581.1 1876.9h3.3v24.3h-3.3zM1584.1 1876.1h3.3v25.1h-3.3zM1587.1 1875.2h3.3v25.9h-3.3zM1590.1 1874.4h3.3v26.8h-3.3zM1593.1 1873.6h3.3v27.6h-3.3zM1596.1 1872.7h3.3v28.4h-3.3zM1599.1 1871.9h3.3v29.3h-3.3zM1602.1 1871.1h3.3v30.1h-3.3zM1605.1 1870.2h3.3v30.9h-3.3zM1608.1 1869.4h3.3v31.8h-3.3zM1611.2 1868.6h3.3v32.6h-3.3zM1614.2 1867.7h3.3v33.4h-3.3zM1617.2 1866.9h3.3v34.3h-3.3zM1620.2 1866.1h3.3v35.1h-3.3zM1623.2 1865.2h3.3v35.9h-3.3zM1626.2 1864.4h3.3v36.7h-3.3zM1629.2 1863.6h3.3v37.6h-3.3zM1632.2 1862.8h3.3v38.4h-3.3zM1667.5 1881.3h14.3v12.2h-14.3zM1681.5 1872.4h28.8v18.1h-28.8zM1710 1878.3h26.8v12.2h-26.8zM1736.5 1872.4h164.3v12.2h-164.3z"/>
<path fill="#6ec48a" d="M1347.5 1842.8h24.3v59.2h-24.3zM1429.7 1842.8h10.6v59.2h-10.6zM1347.5 1905h24.3v59.2h-24.3zM1429.7 1905h10.6v59.2h-10.6zM1347.5 1967.2h24.3v59.2h-24.3zM1429.7 1967.2h10.6v59.2h-10.6zM1347.5 2029.5h24.3v59.2h-24.3zM1429.7 2029.5h10.6v59.2h-10.6zM1347.5 2091.7h24.3v59.2h-24.3zM1429.7 2091.7h10.6v59.2h-10.6zM1347.5 2153.9h24.3v59.2h-24.3zM1429.7 2153.9h10.6v59.2h-10.6zM1347.5 2216.1h24.3v59.2h-24.3zM1429.7 2216.1h10.6v59.2h-10.6zM1347.5 2278.3h22.8v59.2h-22.8zM1429 2278.3h11.3v59.2h-11.3zM1347.5 2340.6h22.8v59.2h-22.8zM1429 2340.6h11.3v59.2h-11.3zM1347.5 2402.8h22.8v59.2h-22.8zM1429 2402.8h11.3v59.2h-11.3zM1347.5 2465h22.8v59.2h-22.8zM1429 2465h11.3v59.2h-11.3zM1347.5 2527.2h22.8v59.2h-22.8zM1429 2527.2h11.3v59.2h-11.3zM1347.5 2589.4h22.8v59.2h-22.8zM1429 2589.4h11.3v59.2h-11.3z"/>
<path fill="#9cc89c" d="M1414.2 1842.8h15.8v59.2h-15.8zM1414.2 1905h15.8v59.2h-15.8zM1414.2 1967.2h15.8v59.2h-15.8zM1414.2 2029.5h15.8v59.2h-15.8zM1414.2 2091.7h15.8v59.2h-15.8zM1244 2183.5h64.8v9.2h-64.8zM1308.5 2195.3h39.3v6.3h-39.3zM1371.5 2183.5h16.8v12.2h-16.8zM1388 2192.4h26.5v9.2h-26.5zM1414.2 2153.9h15.8v59.2h-15.8zM1539 2208.8h3.3v2.8h-3.3zM1542 2208.6h3.3v2.9h-3.3zM1545 2208.4h3.3v3h-3.3zM1548 2208.1h3.3v3.1h-3.3zM1551 2207.9h3.3v3.2h-3.3zM1554 2207.6h3.3v3.3h-3.3zM1557 2207.4h3.3v3.4h-3.3zM1560 2207.2h3.3v3.6h-3.3zM1563 2206.9h3.3v3.7h-3.3zM1566.1 2206.7h3.3v3.8h-3.3zM1569.1 2206.4h3.3v3.9h-3.3zM1572.1 2206.2h3.3v4h-3.3zM1575.1 2205.9h3.3v4.1h-3.3zM1578.1 2205.7h3.3v4.2h-3.3zM1581.1 2205.5h3.3v4.3h-3.3zM1584.1 2205.2h3.3v4.4h-3.3zM1587.1 2205h3.3v4.5h-3.3zM1590.1 2204.7h3.3v4.7h-3.3zM1593.1 2204.5h3.3v4.8h-3.3zM1596.1 2204.3h3.3v4.9h-3.3zM1599.1 2204h3.3v5h-3.3zM1602.1 2203.8h3.3v5.1h-3.3zM1605.1 2203.5h3.3v5.2h-3.3zM1608.1 2203.3h3.3v5.3h-3.3zM1611.2 2203.1h3.3v5.4h-3.3zM1614.2 2202.8h3.3v5.5h-3.3zM1617.2 2202.6h3.3v5.7h-3.3zM1620.2 2202.3h3.3v5.8h-3.3zM1623.2 2202.1h3.3v5.9h-3.3zM1626.2 2201.9h3.3v6h-3.3zM1629.2 2201.6h3.3v6.1h-3.3zM1632.2 2201.4h3.3v6.2h-3.3zM1667.5 2177.6h14.3v12.2h-14.3zM1681.5 2192.4h55.3v6.3h-55.3zM1736.5 2183.5h164.3v9.2h-164.3zM1244 2245.7h64.8v18.1h-64.8zM1308.5 2242.8h39.3v9.2h-39.3zM1371.5 2248.7h16.8v18.1h-16.8zM1388 2260.5h26.5v9.2h-26.5zM1414.2 2216.1h15.8v59.2h-15.8zM1635.2 2242.8h32.6v3.3h-32.6zM1667.5 2239.8h14.3v18.1h-14.3zM1681.5 2251.6h55.3v9.2h-55.3zM1736.5 2248.7h164.3v9.2h-164.3zM1231.8 2303.2h77v16.9h-77zM1308.5 2313.9h14.8v12.2h-14.8zM1323 2316.8h24.8v9.2h-24.8zM1370 2299.1h22.3v24h-22.3zM1392 2290.2h22.5v9.2h-22.5zM1414.2 2278.3h15.1v59.2h-15.1zM1440 2319.8h75.3v3.3h-75.3zM1539 2279.7h3.3v2.2h-3.3zM1542 2280.1h3.3v2.5h-3.3zM1545 2280.4h3.3v2.7h-3.3zM1548 2280.8h3.3v2.9h-3.3zM1551 2281.1h3.3v3.1h-3.3zM1554 2281.5h3.3v3.3h-3.3zM1557 2281.8h3.3v3.6h-3.3zM1560 2282.2h3.3v3.8h-3.3zM1563 2282.5h3.3v4h-3.3zM1566.1 2282.9h3.3v4.2h-3.3zM1569.1 2283.2h3.3v4.5h-3.3zM1572.1 2283.6h3.3v4.7h-3.3zM1575.1 2283.9h3.3v4.9h-3.3zM1578.1 2284.3h3.3v5.1h-3.3zM1581.1 2284.6h3.3v5.3h-3.3zM1584.1 2285h3.3v5.6h-3.3zM1587.1 2285.3h3.3v5.8h-3.3zM1590.1 2285.7h3.3v6h-3.3zM1593.1 2286h3.3v6.2h-3.3zM1596.1 2286.4h3.3v6.5h-3.3zM1599.1 2286.7h3.3v6.7h-3.3zM1602.1 2287.1h3.3v6.9h-3.3zM1605.1 2287.4h3.3v7.1h-3.3zM1608.1 2287.8h3.3v7.3h-3.3zM1611.2 2288.1h3.3v7.6h-3.3zM1614.2 2288.5h3.3v7.8h-3.3zM1617.2 2288.8h3.3v8h-3.3zM1620.2 2289.2h3.3v8.2h-3.3zM1623.2 2289.5h3.3v8.5h-3.3zM1626.2 2289.9h3.3v8.7h-3.3zM1629.2 2290.2h3.3v8.9h-3.3zM1632.2 2290.6h3.3v9.1h-3.3zM1635.2 2310.9h32.6v6.3h-32.6zM1667.5 2296.1h14.3v24h-14.3zM1681.5 2293.1h55.3v9.2h-55.3zM1736.5 2302h164.3v12.2h-164.3zM1280 2393.8h28.8v5.9h-28.8zM1308.5 2396.8h39.3v3h-39.3zM1370 2393.8h22.3v5.9h-22.3zM1414.2 2387.9h15.1v11.8h-15.1zM1667.5 2385h14.3v12.2h-14.3zM1681.5 2396.8h55.3v3h-55.3zM1736.5 2393.8h164.3v3.3h-164.3zM1280 2441.3h28.8v6.3h-28.8zM1308.5 2450.1h39.3v2.1h-39.3zM1370 2441.3h22.3v6.3h-22.3zM1392 2444.2h22.5v3.3h-22.5zM1414.2 2444.2h15.1v15.2h-15.1zM1539 2407.8h3.3v1.6h-3.3zM1542 2408.4h3.3v1.6h-3.3zM1545 2409h3.3v1.7h-3.3zM1548 2409.6h3.3v1.7h-3.3zM1551 2410.2h3.3v1.8h-3.3zM1554 2410.8h3.3v1.8h-3.3zM1557 2411.4h3.3v1.9h-3.3zM1560 2412h3.3v2h-3.3zM1563 2412.5h3.3v2h-3.3zM1566.1 2413.1h3.3v2.1h-3.3zM1569.1 2413.7h3.3v2.1h-3.3zM1572.1 2414.3h3.3v2.2h-3.3zM1575.1 2414.9h3.3v2.2h-3.3zM1578.1 2415.5h3.3v2.3h-3.3zM1581.1 2416.1h3.3v2.3h-3.3zM1584.1 2416.7h3.3v2.4h-3.3zM1587.1 2417.3h3.3v2.4h-3.3zM1590.1 2417.9h3.3v2.5h-3.3zM1593.1 2418.5h3.3v2.6h-3.3zM1596.1 2419.1h3.3v2.6h-3.3zM1599.1 2419.7h3.3v2.7h-3.3zM1602.1 2420.2h3.3v2.7h-3.3zM1605.1 2420.8h3.3v2.8h-3.3zM1608.1 2421.4h3.3v2.8h-3.3zM1611.2 2422h3.3v2.9h-3.3zM1614.2 2422.6h3.3v2.9h-3.3zM1617.2 2423.2h3.3v3h-3.3zM1620.2 2423.8h3.3v3.1h-3.3zM1623.2 2424.4h3.3v3.1h-3.3zM1626.2 2425h3.3v3.2h-3.3zM1629.2 2425.6h3.3v3.2h-3.3zM1632.2 2426.2h3.3v3.3h-3.3zM1667.5 2443h14.3v6.3h-14.3zM1681.5 2438.3h55.3v3.3h-55.3zM1736.5 2441.3h164.3v3.3h-164.3zM1280 2482.8h28.8v6.3h-28.8zM1308.5 2476.8h39.3v3.3h-39.3zM1370 2482.8h22.3v6.3h-22.3zM1392 2485.7h22.5v3.3h-22.5zM1414.2 2476.8h15.1v12.2h-15.1zM1539 2518h3.3v0.4h-3.3zM1542 2517.4h3.3v0.4h-3.3zM1545 2516.9h3.3v0.5h-3.3zM1548 2516.3h3.3v0.5h-3.3zM1551 2515.8h3.3v0.6h-3.3zM1554 2515.2h3.3v0.7h-3.3zM1557 2514.7h3.3v0.7h-3.3zM1560 2514.1h3.3v0.8h-3.3zM1563 2513.6h3.3v0.8h-3.3zM1566.1 2513h3.3v0.9h-3.3zM1569.1 2512.5h3.3v0.9h-3.3zM1572.1 2511.9h3.3v1h-3.3zM1575.1 2511.3h3.3v1h-3.3zM1578.1 2510.8h3.3v1.1h-3.3zM1581.1 2510.2h3.3v1.2h-3.3zM1584.1 2509.7h3.3v1.2h-3.3zM1587.1 2509.1h3.3v1.3h-3.3zM1590.1 2508.6h3.3v1.3h-3.3zM1593.1 2508h3.3v1.4h-3.3zM1596.1 2507.5h3.3v1.4h-3.3zM1599.1 2506.9h3.3v1.5h-3.3zM1602.1 2506.3h3.3v1.5h-3.3zM1605.1 2505.8h3.3v1.6h-3.3zM1608.1 2505.2h3.3v1.7h-3.3zM1611.2 2504.7h3.3v1.7h-3.3zM1614.2 2504.1h3.3v1.8h-3.3zM1617.2 2503.6h3.3v1.8h-3.3zM1620.2 2503h3.3v1.9h-3.3zM1623.2 2502.5h3.3v1.9h-3.3zM1626.2 2501.9h3.3v2h-3.3zM1629.2 2501.4h3.3v2h-3.3zM1632.2 2500.8h3.3v2.1h-3.3zM1667.5 2485.7h14.3v6.3h-14.3zM1681.5 2491.6h55.3v3.3h-55.3zM1736.5 2488.7h164.3v4.5h-164.3zM1231.8 2537.9h77v5.7h-77zM1308.5 2533.1h39.3v3.3h-39.3zM1370 2536.1h22.3v6.3h-22.3zM1392 2545h22.5v3.3h-22.5zM1414.2 2533.1h15.1v15.2h-15.1zM1539 2528.5h3.3v0.4h-3.3zM1542 2528.6h3.3v0.4h-3.3zM1545 2528.7h3.3v0.5h-3.3zM1548 2528.8h3.3v0.5h-3.3zM1551 2528.9h3.3v0.6h-3.3zM1554 2529h3.3v0.7h-3.3zM1557 2529.1h3.3v0.7h-3.3zM1560 2529.2h3.3v0.8h-3.3zM1563 2529.3h3.3v0.8h-3.3zM1566.1 2529.5h3.3v0.9h-3.3zM1569.1 2529.6h3.3v0.9h-3.3zM1572.1 2529.7h3.3v1h-3.3zM1575.1 2529.8h3.3v1h-3.3zM1578.1 2529.9h3.3v1.1h-3.3zM1581.1 2530h3.3v1.2h-3.3zM1584.1 2530.1h3.3v1.2h-3.3zM1587.1 2530.2h3.3v1.3h-3.3zM1590.1 2530.3h3.3v1.3h-3.3zM1593.1 2530.5h3.3v1.4h-3.3zM1596.1 2530.6h3.3v1.4h-3.3zM1599.1 2530.7h3.3v1.5h-3.3zM1602.1 2530.8h3.3v1.5h-3.3zM1605.1 2530.9h3.3v1.6h-3.3zM1608.1 2531h3.3v1.7h-3.3zM1611.2 2531.1h3.3v1.7h-3.3zM1614.2 2531.2h3.3v1.8h-3.3zM1617.2 2531.3h3.3v1.8h-3.3zM1620.2 2531.5h3.3v1.9h-3.3zM1623.2 2531.6h3.3v1.9h-3.3zM1626.2 2531.7h3.3v2h-3.3zM1629.2 2531.8h3.3v2h-3.3zM1632.2 2531.9h3.3v2.1h-3.3zM1667.5 2536.1h14.3v9.2h-14.3zM1681.5 2536.1h219.3v3.3h-219.3zM1231.8 2589.4h116v4.5h-116zM1370 2589.4h44.5v6.3h-44.5zM1414.2 2589.4h15.1v15.2h-15.1zM1539 2589.4h3.3v0.4h-3.3zM1542 2589.4h3.3v0.4h-3.3zM1545 2589.4h3.3v0.4h-3.3zM1548 2589.4h3.3v0.5h-3.3zM1551 2589.4h3.3v0.5h-3.3zM1554 2589.4h3.3v0.6h-3.3zM1557 2589.4h3.3v0.6h-3.3zM1560 2589.4h3.3v0.6h-3.3zM1563 2589.4h3.3v0.7h-3.3zM1566.1 2589.4h3.3v0.7h-3.3zM1569.1 2589.4h3.3v0.7h-3.3zM1572.1 2589.4h3.3v0.8h-3.3zM1575.1 2589.4h3.3v0.8h-3.3zM1578.1 2589.4h3.3v0.8h-3.3zM1581.1 2589.4h3.3v0.9h-3.3zM1584.1 2589.4h3.3v0.9h-3.3zM1587.1 2589.4h3.3v1h-3.3zM1590.1 2589.4h3.3v1h-3.3zM1593.1 2589.4h3.3v1h-3.3zM1596.1 2589.4h3.3v1.1h-3.3zM1599.1 2589.4h3.3v1.1h-3.3zM1602.1 2589.4h3.3v1.1h-3.3zM1605.1 2589.4h3.3v1.2h-3.3zM1608.1 2589.4h3.3v1.2h-3.3zM1611.2 2589.4h3.3v1.3h-3.3zM1614.2 2589.4h3.3v1.3h-3.3zM1617.2 2589.4h3.3v1.3h-3.3zM1620.2 2589.4h3.3v1.4h-3.3zM1623.2 2589.4h3.3v1.4h-3.3zM1626.2 2589.4h3.3v1.4h-3.3zM1629.2 2589.4h3.3v1.5h-3.3zM1632.2 2589.4h3.3v1.5h-3.3zM1635.2 2589.4h32.6v1.5h-32.6zM1667.5 2589.4h14.3v6.3h-14.3zM1681.5 2589.4h219.3v3.3h-219.3zM1900.5 2589.4h14.8v3.3h-14.8z"/>
<path fill="#fff" d="M132.8 392.2h0.7v876.4h-0.7zM137.4 392.2h3.3v876.4h-3.3zM147.4 392.2h3.5v876.4h-3.5zM154.8 392.2h2.9v876.4h-2.9zM168.2 392.2h3.5v876.4h-3.5zM181.9 392.2h3.7v876.4h-3.7zM198.8 392.2h3.9v876.4h-3.9zM206.2 392.2h3.3v876.4h-3.3zM213.3 392.2h3.3v876.4h-3.3zM220.1 392.2h3.3v876.4h-3.3zM226.9 392.2h3.5v876.4h-3.5zM234.1 392.2h3.1v876.4h-3.1zM244 392.2h3.6v876.4h-3.6zM265.1 392.2h3.5v876.4h-3.5zM272 392.2h3.3v876.4h-3.3zM278.8 392.2h3.5v876.4h-3.5zM285.8 392.2h3.1v876.4h-3.1zM292.4 392.2h3.5v876.4h-3.5zM299.6 392.2h3.4v876.4h-3.4zM317 392.2h3v876.4h-3zM323.8 392.2h3.2v876.4h-3.2zM348 392.2h2.9v876.4h-2.9zM358.3 392.2h2.9v876.4h-2.9zM369.3 392.2h2.6v876.4h-2.6zM375.7 392.2h3.3v876.4h-3.3zM389.1 392.2h3.5v876.4h-3.5zM413 392.2h3.8v876.4h-3.8zM423.6 392.2h3.8v876.4h-3.8zM430 392.2h4v876.4h-4zM450.6 392.2h4.3v876.4h-4.3zM492.7 392.2h3.5v876.4h-3.5zM523.7 392.2h3.5v876.4h-3.5zM530.9 392.2h3.1v876.4h-3.1zM540.5 392.2h3.9v876.4h-3.9zM547.9 392.2h3.5v876.4h-3.5zM555 392.2h3.2v876.4h-3.2zM582.8 392.2h3.2v876.4h-3.2zM589.2 392.2h3.7v876.4h-3.7zM599.8 392.2h3.5v876.4h-3.5zM610 392.2h3.4v876.4h-3.4zM617.3 392.2h3.3v876.4h-3.3zM624 392.2h3.8v876.4h-3.8zM634.7 392.2h3.3v876.4h-3.3zM641.5 392.2h3.3v876.4h-3.3zM648.3 392.2h3.5v876.4h-3.5zM658.8 392.2h3.5v876.4h-3.5zM678.7 392.2h3.9v876.4h-3.9zM700 392.2h3.3v876.4h-3.3zM710.3 392.2h3.7v876.4h-3.7zM744.6 392.2h3.4v876.4h-3.4zM752 392.2h3.2v876.4h-3.2zM758.5 392.2h3.9v876.4h-3.9zM772.7 392.2h3.3v876.4h-3.3zM779.5 392.2h3.5v876.4h-3.5zM786.2 392.2h3.3v876.4h-3.3zM793.4 392.2h3.1v876.4h-3.1zM800.4 392.2h3.3v876.4h-3.3zM807.2 392.2h3.3v876.4h-3.3zM814 392.2h3.2v876.4h-3.2zM821.1 392.2h3.3v876.4h-3.3zM831.4 392.2h3.6v876.4h-3.6zM841.5 392.2h3.5v876.4h-3.5zM848.4 392.2h3.6v876.4h-3.6zM859 392.2h3.4v876.4h-3.4zM876 392.2h3.3v876.4h-3.3zM882.7 392.2h3.7v876.4h-3.7zM890 392.2h3.4v876.4h-3.4zM914.1 392.2h3.3v876.4h-3.3zM921 392.2h3.4v876.4h-3.4zM928.1 392.2h3.1v876.4h-3.1zM941.7 392.2h3.5v876.4h-3.5zM965.9 392.2h3.5v876.4h-3.5zM972.3 392.2h3.9v876.4h-3.9zM983 392.2h3.8v876.4h-3.8zM996.5 392.2h3.5v876.4h-3.5zM1007 392.2h3.7v876.4h-3.7zM1014.2 392.2h3.5v876.4h-3.5zM1028.2 392.2h3.1v876.4h-3.1zM1035 392.2h3v876.4h-3zM1042 392.2h3.2v876.4h-3.2zM1052 392.2h3.5v876.4h-3.5zM1059.2 392.2h3.5v876.4h-3.5zM1079.7 392.2h3.3v876.4h-3.3zM1093.7 392.2h3.3v876.4h-3.3zM1104 392.2h3.2v876.4h-3.2zM1114.4 392.2h3.1v876.4h-3.1zM1121.2 392.2h3.5v876.4h-3.5zM1134.8 392.2h3.5v876.4h-3.5zM1152.4 392.2h3.3v876.4h-3.3zM1162.5 392.2h3.5v876.4h-3.5zM1176.4 392.2h3.6v876.4h-3.6zM1187 392.2h3.6v876.4h-3.6zM1194 392.2h3.4v876.4h-3.4zM1200.9 392.2h3.2v876.4h-3.2zM1214.8 392.2h3.2v876.4h-3.2zM1228.4 392.2h3.3v876.4h-3.3zM1235.2 392.2h3.4v876.4h-3.4zM1249.1 392.2h3.5v876.4h-3.5zM1259.4 392.2h3.5v876.4h-3.5zM1266.2 392.2h3.5v876.4h-3.5zM1273 392.2h3.4v876.4h-3.4zM1280.3 392.2h2.7v876.4h-2.7zM1286.8 392.2h3.2v876.4h-3.2zM1294 392.2h3v876.4h-3zM1301 392.2h3.2v876.4h-3.2zM1307.7 392.2h3.3v876.4h-3.3zM1315 392.2h3.2v876.4h-3.2zM1321.7 392.2h3.5v876.4h-3.5zM1328.4 392.2h3.6v876.4h-3.6zM1338.7 392.2h3.3v876.4h-3.3zM1345.5 392.2h3.7v876.4h-3.7zM1356 392.2h3.5v876.4h-3.5zM1380.2 392.2h3.5v876.4h-3.5zM1387 392.2h3.9v876.4h-3.9zM1411.2 392.2h3.5v876.4h-3.5zM1418.2 392.2h3.7v876.4h-3.7zM1438.5 392.2h3.9v876.4h-3.9zM1445.7 392.2h3.5v876.4h-3.5zM1452.5 392.2h3.9v876.4h-3.9zM1460 392.2h3.3v876.4h-3.3zM1480.2 392.2h3.7v876.4h-3.7zM1494.1 392.2h3.3v876.4h-3.3zM1501 392.2h3.4v876.4h-3.4zM1508.1 392.2h3.1v876.4h-3.1zM1515.1 392.2h3.3v876.4h-3.3zM1521.9 392.2h3.3v876.4h-3.3zM1528.6 392.2h3.4v876.4h-3.4zM1535.8 392.2h3.3v876.4h-3.3zM1542.6 392.2h3.3v876.4h-3.3zM1549.4 392.2h3.9v876.4h-3.9zM1594.1 392.2h3.5v876.4h-3.5zM1604.5 392.2h3.2v876.4h-3.2zM1611.6 392.2h2.6v876.4h-2.6zM1618.5 392.2h3.2v876.4h-3.2zM1625.6 392.2h3v876.4h-3zM1632.5 392.2h2.8v876.4h-2.8zM1639 392.2h3.2v876.4h-3.2zM1645.9 392.2h3.2v876.4h-3.2zM1653 392.2h3.2v876.4h-3.2zM1660 392.2h3.1v876.4h-3.1zM1676.7 392.2h3.6v876.4h-3.6zM1684.2 392.2h3.3v876.4h-3.3zM1691.1 392.2h3.3v876.4h-3.3zM1698.2 392.2h2.8v876.4h-2.8zM1708.4 392.2h3.2v876.4h-3.2zM1715.5 392.2h2.8v876.4h-2.8zM1732 392.2h3.5v876.4h-3.5zM1746.3 392.2h3.2v876.4h-3.2zM1753.2 392.2h3.2v876.4h-3.2zM1760.1 392.2h3.2v876.4h-3.2zM1767.2 392.2h2.8v876.4h-2.8zM1773.9 392.2h3.4v876.4h-3.4zM1784.4 392.2h3.3v876.4h-3.3zM1790.9 392.2h3.2v876.4h-3.2zM1798 392.2h3.3v876.4h-3.3zM1804.9 392.2h3.2v876.4h-3.2zM1815.7 392.2h3.3v876.4h-3.3zM1873.9 392.2h3.2v876.4h-3.2zM1881 392.2h3.2v876.4h-3.2zM1888.1 392.2h3v876.4h-3zM1898 392.2h3.2v876.4h-3.2zM1912 392.2h1.2v876.4h-1.2z"/>
<rect x="136" y="1842.8" width="169" height="59.2" fill="url(#pb0)"/>
<rect x="305" y="1842.8" width="175" height="59.2" fill="url(#pb1)"/>
<rect x="480" y="1842.8" width="47" height="59.2" fill="url(#pb2)"/>
<rect x="527" y="1842.8" width="149" height="59.2" fill="url(#pb3)"/>
<rect x="676" y="1842.8" width="1239.5" height="59.2" fill="url(#pb4)"/>
<rect x="133.3" y="393.2" width="1778.9" height="59.3" fill="url(#pa)"/>
<rect x="136" y="1905" width="169" height="59.2" fill="url(#pb0)"/>
<rect x="305" y="1905" width="175" height="59.2" fill="url(#pb1)"/>
<rect x="480" y="1905" width="47" height="59.2" fill="url(#pb2)"/>
<rect x="527" y="1905" width="149" height="59.2" fill="url(#pb3)"/>
<rect x="676" y="1905" width="1239.5" height="59.2" fill="url(#pb4)"/>
<rect x="133.3" y="455.9" width="1778.9" height="59.3" fill="url(#pa)"/>
<rect x="136" y="1967.2" width="169" height="59.2" fill="url(#pb0)"/>
<rect x="305" y="1967.2" width="175" height="59.2" fill="url(#pb1)"/>
<rect x="480" y="1967.2" width="47" height="59.2" fill="url(#pb2)"/>
<rect x="527" y="1967.2" width="149" height="59.2" fill="url(#pb3)"/>
<rect x="676" y="1967.2" width="1239.5" height="59.2" fill="url(#pb4)"/>
<rect x="133.3" y="518.6" width="1778.9" height="59.3" fill="url(#pa)"/>
<rect x="136" y="2029.5" width="169" height="59.2" fill="url(#pb0)"/>
<rect x="305" y="2029.5" width="175" height="59.2" fill="url(#pb1)"/>
<rect x="480" y="2029.5" width="47" height="59.2" fill="url(#pb2)"/>
<rect x="527" y="2029.5" width="149" height="59.2" fill="url(#pb3)"/>
<rect x="676" y="2029.5" width="1239.5" height="59.2" fill="url(#pb4)"/>
<rect x="133.3" y="581.3" width="1778.9" height="59.3" fill="url(#pa)"/>
<rect x="136" y="2091.7" width="169" height="59.2" fill="url(#pb0)"/>
<rect x="305" y="2091.7" width="175" height="59.2" fill="url(#pb1)"/>
<rect x="480" y="2091.7" width="47" height="59.2" fill="url(#pb2)"/>
<rect x="527" y="2091.7" width="149" height="59.2" fill="url(#pb3)"/>
<rect x="676" y="2091.7" width="1239.5" height="59.2" fill="url(#pb4)"/>
<rect x="133.3" y="644" width="1778.9" height="59.3" fill="url(#pa)"/>
<rect x="136" y="2153.9" width="169" height="59.2" fill="url(#pb0)"/>
<rect x="305" y="2153.9" width="175" height="59.2" fill="url(#pb1)"/>
<rect x="480" y="2153.9" width="47" height="59.2" fill="url(#pb2)"/>
<rect x="527" y="2153.9" width="149" height="59.2" fill="url(#pb3)"/>
<rect x="676" y="2153.9" width="1239.5" height="59.2" fill="url(#pb4)"/>
<rect x="133.3" y="706.7" width="1778.9" height="59.3" fill="url(#pa)"/>
<rect x="136" y="2216.1" width="169" height="59.2" fill="url(#pb0)"/>
<rect x="305" y="2216.1" width="175" height="59.2" fill="url(#pb1)"/>
<rect x="480" y="2216.1" width="47" height="59.2" fill="url(#pb2)"/>
<rect x="527" y="2216.1" width="149" height="59.2" fill="url(#pb3)"/>
<rect x="676" y="2216.1" width="1239.5" height="59.2" fill="url(#pb4)"/>
<rect x="133.3" y="769.4" width="1778.9" height="59.3" fill="url(#pa)"/>
<rect x="136" y="2278.3" width="169" height="59.2" fill="url(#pb0)"/>
<rect x="305" y="2278.3" width="175" height="59.2" fill="url(#pb1)"/>
<rect x="480" y="2278.3" width="47" height="59.2" fill="url(#pb2)"/>
<rect x="527" y="2278.3" width="149" height="59.2" fill="url(#pb3)"/>
<rect x="676" y="2278.3" width="1239.5" height="59.2" fill="url(#pb4)"/>
<rect x="133.3" y="832.1" width="1778.9" height="59.3" fill="url(#pa)"/>
<rect x="136" y="2340.6" width="169" height="59.2" fill="url(#pb0)"/>
<rect x="305" y="2340.6" width="175" height="59.2" fill="url(#pb1)"/>
<rect x="480" y="2340.6" width="47" height="59.2" fill="url(#pb2)"/>
<rect x="527" y="2340.6" width="149" height="59.2" fill="url(#pb3)"/>
<rect x="676" y="2340.6" width="1239.5" height="59.2" fill="url(#pb4)"/>
<rect x="133.3" y="894.8" width="1778.9" height="59.3" fill="url(#pa)"/>
<rect x="136" y="2402.8" width="169" height="59.2" fill="url(#pb0)"/>
<rect x="305" y="2402.8" width="175" height="59.2" fill="url(#pb1)"/>
<rect x="480" y="2402.8" width="47" height="59.2" fill="url(#pb2)"/>
<rect x="527" y="2402.8" width="149" height="59.2" fill="url(#pb3)"/>
<rect x="676" y="2402.8" width="1239.5" height="59.2" fill="url(#pb4)"/>
<rect x="133.3" y="957.5" width="1778.9" height="59.3" fill="url(#pa)"/>
<rect x="136" y="2465" width="169" height="59.2" fill="url(#pb0)"/>
<rect x="305" y="2465" width="175" height="59.2" fill="url(#pb1)"/>
<rect x="480" y="2465" width="47" height="59.2" fill="url(#pb2)"/>
<rect x="527" y="2465" width="149" height="59.2" fill="url(#pb3)"/>
<rect x="676" y="2465" width="1239.5" height="59.2" fill="url(#pb4)"/>
<rect x="133.3" y="1020.2" width="1778.9" height="59.3" fill="url(#pa)"/>
<rect x="136" y="2527.2" width="169" height="59.2" fill="url(#pb0)"/>
<rect x="305" y="2527.2" width="175" height="59.2" fill="url(#pb1)"/>
<rect x="480" y="2527.2" width="47" height="59.2" fill="url(#pb2)"/>
<rect x="527" y="2527.2" width="149" height="59.2" fill="url(#pb3)"/>
<rect x="676" y="2527.2" width="1239.5" height="59.2" fill="url(#pb4)"/>
<rect x="133.3" y="1082.9" width="1778.9" height="59.3" fill="url(#pa)"/>
<rect x="136" y="2589.4" width="169" height="59.2" fill="url(#pb0)"/>
<rect x="305" y="2589.4" width="175" height="59.2" fill="url(#pb1)"/>
<rect x="480" y="2589.4" width="47" height="59.2" fill="url(#pb2)"/>
<rect x="527" y="2589.4" width="149" height="59.2" fill="url(#pb3)"/>
<rect x="676" y="2589.4" width="1239.5" height="59.2" fill="url(#pb4)"/>
<rect x="133.3" y="1145.6" width="1778.9" height="59.3" fill="url(#pa)"/>
<rect x="136" y="2651.7" width="169" height="59.2" fill="url(#pb0)"/>
<rect x="305" y="2651.7" width="175" height="59.2" fill="url(#pb1)"/>
<rect x="480" y="2651.7" width="47" height="59.2" fill="url(#pb2)"/>
<rect x="527" y="2651.7" width="149" height="59.2" fill="url(#pb3)"/>
<rect x="676" y="2651.7" width="1239.5" height="59.2" fill="url(#pb4)"/>
<rect x="133.3" y="1208.3" width="1778.9" height="59.3" fill="url(#pa)"/>
<path fill="#fff" fill-opacity="0.9" d="M177.7 1841.8h1.4v870.1h-1.4zM204.9 1841.8h1.4v870.1h-1.4zM237.8 1841.8h1.4v870.1h-1.4zM263 1841.8h1.4v870.1h-1.4zM295 1841.8h1.4v870.1h-1.4zM297.9 1841.8h1.4v870.1h-1.4zM307.6 1841.8h1.4v870.1h-1.4zM477.3 1841.8h1.4v870.1h-1.4zM485.3 1841.8h1.4v870.1h-1.4zM525.9 1841.8h1.4v870.1h-1.4zM555 1841.8h1.4v870.1h-1.4zM575.3 1841.8h1.4v870.1h-1.4zM609.3 1841.8h1.4v870.1h-1.4zM642.3 1841.8h1.4v870.1h-1.4zM663.3 1841.8h1.4v870.1h-1.4zM675.3 1841.8h1.4v870.1h-1.4zM704.8 1841.8h1.4v870.1h-1.4zM738.1 1841.8h1.4v870.1h-1.4zM755.1 1841.8h1.4v870.1h-1.4zM777.3 1841.8h1.4v870.1h-1.4zM804.4 1841.8h1.4v870.1h-1.4zM842.2 1841.8h1.4v870.1h-1.4zM902.3 1841.8h1.4v870.1h-1.4zM975 1841.8h1.4v870.1h-1.4zM984.8 1841.8h1.4v870.1h-1.4zM1012.9 1841.8h1.4v870.1h-1.4zM1047.9 1841.8h1.4v870.1h-1.4zM1068.8 1841.8h1.4v870.1h-1.4zM1102.6 1841.8h1.4v870.1h-1.4zM1124 1841.8h1.4v870.1h-1.4zM1143.8 1841.8h1.4v870.1h-1.4zM1172.3 1841.8h1.4v870.1h-1.4zM1224.1 1841.8h1.4v870.1h-1.4zM1231.1 1841.8h1.4v870.1h-1.4zM1243.3 1841.8h1.4v870.1h-1.4zM1307.8 1841.8h1.4v870.1h-1.4zM1322.3 1841.8h1.4v870.1h-1.4zM1346.8 1841.8h1.4v870.1h-1.4zM1370.8 1841.8h1.4v870.1h-1.4zM1387.3 1841.8h1.4v870.1h-1.4zM1413.5 1841.8h1.4v870.1h-1.4zM1429 1841.8h1.4v870.1h-1.4zM1439.3 1841.8h1.4v870.1h-1.4zM1534.3 1841.8h1.4v870.1h-1.4zM1538.3 1841.8h1.4v870.1h-1.4zM1634.5 1841.8h1.4v870.1h-1.4zM1666.8 1841.8h1.4v870.1h-1.4zM1680.8 1841.8h1.4v870.1h-1.4zM1735.8 1841.8h1.4v870.1h-1.4zM1899.8 1841.8h1.4v870.1h-1.4zM859.2 1841.8h1.4v870.1h-1.4zM885.3 1841.8h1.4v870.1h-1.4zM906.7 1841.8h1.4v870.1h-1.4zM916.3 1841.8h1.4v870.1h-1.4zM920.2 1841.8h1.4v870.1h-1.4zM930.9 1841.8h1.4v870.1h-1.4zM1283.2 1841.8h1.4v870.1h-1.4zM1288 1841.8h1.4v870.1h-1.4zM1290.9 1841.8h1.4v870.1h-1.4zM1293.8 1841.8h1.4v870.1h-1.4zM1298.7 1841.8h1.4v870.1h-1.4zM1325.8 1841.8h1.4v870.1h-1.4zM1331.6 1841.8h1.4v870.1h-1.4zM1337.4 1841.8h1.4v870.1h-1.4zM1342.3 1841.8h1.4v870.1h-1.4zM1368.4 1841.8h1.4v870.1h-1.4zM1390.7 1841.8h1.4v870.1h-1.4zM1465.3 1841.8h1.4v870.1h-1.4zM1471.2 1841.8h1.4v870.1h-1.4zM1490.5 1841.8h1.4v870.1h-1.4zM1496.5 1841.8h1.4v870.1h-1.4zM1509 1841.8h1.4v870.1h-1.4zM1513.8 1841.8h1.4v870.1h-1.4zM1519.6 1841.8h1.4v870.1h-1.4zM1741.7 1841.8h1.4v870.1h-1.4zM1760 1841.8h1.4v870.1h-1.4zM1762.2 1841.8h1.4v870.1h-1.4zM1766.5 1841.8h1.4v870.1h-1.4zM1779.4 1841.8h1.4v870.1h-1.4zM1781.6 1841.8h1.4v870.1h-1.4zM1798.8 1841.8h1.4v870.1h-1.4zM1815 1841.8h1.4v870.1h-1.4zM1816.7 1841.8h1.4v870.1h-1.4zM1820.4 1841.8h1.4v870.1h-1.4zM1848.4 1841.8h1.4v870.1h-1.4zM1855.9 1841.8h1.4v870.1h-1.4zM1866.7 1841.8h1.4v870.1h-1.4zM1874.3 1841.8h1.4v870.1h-1.4zM1887.2 1841.8h1.4v870.1h-1.4z"/>
<g font-family="'Liberation Sans', Arial, Helvetica, sans-serif">
<text transform="translate(139.4 67) rotate(-90)" text-anchor="end" fill="#9d2ff2" font-size="27">Southern North</text>
<text transform="translate(159.9 67) rotate(-90)" text-anchor="end" fill="#9d2ff2" font-size="27">America MH</text>
<text transform="translate(189.6 67) rotate(-90)" text-anchor="end" fill="#9d2ff2" font-size="27">Southern North</text>
<text transform="translate(210.1 67) rotate(-90)" text-anchor="end" fill="#9d2ff2" font-size="27">America LH</text>
<text transform="translate(258.6 67) rotate(-90)" text-anchor="end" fill="#c23fae" font-size="27">California Central LH</text>
<text transform="translate(279.1 67) rotate(-90)" text-anchor="end" fill="#c23fae" font-size="27">California Baja LH</text>
<text transform="translate(315.6 67) rotate(-90)" text-anchor="end" fill="#fd3fa3" font-size="27">California Northern</text>
<text transform="translate(336.1 67) rotate(-90)" text-anchor="end" fill="#fd3fa3" font-size="27">Channel Islands MH</text>
<text transform="translate(359.1 67) rotate(-90)" text-anchor="end" fill="#fd3fa3" font-size="27">California Southern</text>
<text transform="translate(379.6 67) rotate(-90)" text-anchor="end" fill="#fd3fa3" font-size="27">Channel Islands MH</text>
<text transform="translate(411.5 67) rotate(-90)" text-anchor="end" fill="#e8201a" font-size="27">California Northern</text>
<text transform="translate(432 67) rotate(-90)" text-anchor="end" fill="#e8201a" font-size="27">Channel Islands LH</text>
<text transform="translate(473.5 67) rotate(-90)" text-anchor="end" fill="#ea7070" font-size="27">California Southern</text>
<text transform="translate(494 67) rotate(-90)" text-anchor="end" fill="#ea7070" font-size="27">Channel Islands LH</text>
<text transform="translate(554.2 67) rotate(-90)" text-anchor="end" fill="#e8201a" font-size="27">California Southern</text>
<text transform="translate(574.7 67) rotate(-90)" text-anchor="end" fill="#e8201a" font-size="27">Mainland LH</text>
<text transform="translate(657.1 67) rotate(-90)" text-anchor="end" fill="#ee84f0" font-size="27">Central America</text>
<text transform="translate(677.6 67) rotate(-90)" text-anchor="end" fill="#ee84f0" font-size="27">EH and MH</text>
<text transform="translate(733.2 67) rotate(-90)" text-anchor="end" fill="#ee84f0" font-size="27">Central America</text>
<text transform="translate(753.7 67) rotate(-90)" text-anchor="end" fill="#ee84f0" font-size="27">LH</text>
<text transform="translate(792 67) rotate(-90)" text-anchor="end" fill="#8b5c1c" font-size="27">Central Andes</text>
<text transform="translate(812.5 67) rotate(-90)" text-anchor="end" fill="#8b5c1c" font-size="27">EH and MH</text>
<text transform="translate(851.6 67) rotate(-90)" text-anchor="end" fill="#8b5c1c" font-size="27">Central Andes</text>
<text transform="translate(872.1 67) rotate(-90)" text-anchor="end" fill="#8b5c1c" font-size="27">Early Intermediate</text>
<text transform="translate(941.6 67) rotate(-90)" text-anchor="end" fill="#8b5c1c" font-size="27">Central Andes</text>
<text transform="translate(962.1 67) rotate(-90)" text-anchor="end" fill="#8b5c1c" font-size="27">Middle Horizon</text>
<text transform="translate(1001.4 67) rotate(-90)" text-anchor="end" fill="#8b5c1c" font-size="27">Central Andes</text>
<text transform="translate(1021.9 67) rotate(-90)" text-anchor="end" fill="#8b5c1c" font-size="27">Middle Horizon /</text>
<text transform="translate(1042.4 67) rotate(-90)" text-anchor="end" fill="#8b5c1c" font-size="27">Late Intermediate</text>
<text transform="translate(1112.6 67) rotate(-90)" text-anchor="end" fill="#8b5c1c" font-size="27">Central Andes</text>
<text transform="translate(1133.1 67) rotate(-90)" text-anchor="end" fill="#8b5c1c" font-size="27">Late Intermediate</text>
<text transform="translate(1229.6 67) rotate(-90)" text-anchor="end" fill="#8b5c1c" font-size="27">Central Andes</text>
<text transform="translate(1250.1 67) rotate(-90)" text-anchor="end" fill="#8b5c1c" font-size="27">Late Horizon</text>
<text transform="translate(1309.2 67) rotate(-90)" text-anchor="end" fill="#8b5c1c" font-size="27">Central Andes UKN</text>
<text transform="translate(1337.2 67) rotate(-90)" text-anchor="end" fill="#1414e4" font-size="27">South Patagonia MH</text>
<text transform="translate(1398.1 67) rotate(-90)" text-anchor="end" fill="#1414e4" font-size="27">South Patagonia LH</text>
<text transform="translate(1513.5 67) rotate(-90)" text-anchor="end" fill="#a6f0a0" font-size="27">Brazil EH and MH</text>
<text transform="translate(1623.4 67) rotate(-90)" text-anchor="end" fill="#2f8b24" font-size="27">Brazil LH</text>
<text transform="translate(1691.5 67) rotate(-90)" text-anchor="end" fill="#2f8b24" font-size="27">Uruguay LH</text>
<text transform="translate(1729.1 67) rotate(-90)" text-anchor="end" fill="#86d6f6" font-size="27">Pampa MH</text>
<text transform="translate(1755.1 67) rotate(-90)" text-anchor="end" fill="#4a9ef0" font-size="27">Pampa LH</text>
<text transform="translate(1782.6 67) rotate(-90)" text-anchor="end" fill="#f03424" font-size="27">CentralChile</text>
<text transform="translate(1803.1 67) rotate(-90)" text-anchor="end" fill="#f03424" font-size="27">EH, MH and LH</text>
<text transform="translate(1876.6 67) rotate(-90)" text-anchor="end" fill="#e8c044" font-size="27">Calingasta LH</text>
<text transform="translate(1910 67) rotate(-90)" text-anchor="end" fill="#e8c044" font-size="27">Uspallata LH</text>
<text transform="translate(1831.6 116.6) rotate(-90)" text-anchor="end" fill="#f03424" font-size="27">Qhapa</text>
<text transform="translate(1852.1 69) rotate(-90)" text-anchor="end" fill="#f03424" font-size="27">Hucha LH</text>
<line x1="134.8" y1="343.6" x2="151" y2="343.6" stroke="#9d2ff2" stroke-width="3.5"/>
<line x1="154" y1="343.6" x2="228.8" y2="343.6" stroke="#9d2ff2" stroke-width="3.5"/>
<line x1="232.3" y1="343.6" x2="274.3" y2="343.6" stroke="#c23fae" stroke-width="3.5"/>
<line x1="279.6" y1="343.6" x2="298.8" y2="343.6" stroke="#c23fae" stroke-width="3.5"/>
<line x1="305.6" y1="343.6" x2="330.5" y2="343.6" stroke="#fd3fa3" stroke-width="3.5"/>
<line x1="334.3" y1="343.6" x2="350" y2="343.6" stroke="#fd3fa3" stroke-width="3.5"/>
<line x1="364.7" y1="343.6" x2="421.5" y2="343.6" stroke="#e8201a" stroke-width="3.5"/>
<line x1="427.4" y1="343.6" x2="522" y2="343.6" stroke="#ea7070" stroke-width="3.5"/>
<line x1="527.3" y1="343.6" x2="603" y2="343.6" stroke="#e8201a" stroke-width="3.5"/>
<line x1="609" y1="343.6" x2="704.7" y2="343.6" stroke="#ee84f0" stroke-width="3.5"/>
<line x1="707.7" y1="343.6" x2="762.4" y2="343.6" stroke="#ee84f0" stroke-width="3.5"/>
<line x1="765.3" y1="343.6" x2="822.4" y2="343.6" stroke="#8b5c1c" stroke-width="3.5"/>
<line x1="825.6" y1="343.6" x2="881.8" y2="343.6" stroke="#8b5c1c" stroke-width="3.5"/>
<line x1="884.8" y1="343.6" x2="1004.5" y2="343.6" stroke="#8b5c1c" stroke-width="3.5"/>
<line x1="1008" y1="343.6" x2="1032" y2="343.6" stroke="#8b5c1c" stroke-width="3.5"/>
<line x1="1035" y1="343.6" x2="1179.8" y2="343.6" stroke="#8b5c1c" stroke-width="3.5"/>
<line x1="1185" y1="343.6" x2="1302.5" y2="343.6" stroke="#8b5c1c" stroke-width="3.5"/>
<line x1="1307.5" y1="343.6" x2="1326" y2="343.6" stroke="#1414e4" stroke-width="3.5"/>
<line x1="1329" y1="343.6" x2="1456" y2="343.6" stroke="#1414e4" stroke-width="3.5"/>
<line x1="1459" y1="343.6" x2="1552.3" y2="343.6" stroke="#a6f0a0" stroke-width="3.5"/>
<line x1="1556" y1="343.6" x2="1694" y2="343.6" stroke="#2f8b24" stroke-width="3.5"/>
<line x1="1712.5" y1="343.6" x2="1745.4" y2="343.6" stroke="#86d6f6" stroke-width="3.5"/>
<line x1="1750" y1="343.6" x2="1760.7" y2="343.6" stroke="#4a9ef0" stroke-width="3.5"/>
<line x1="1763.7" y1="343.6" x2="1790" y2="343.6" stroke="#f03424" stroke-width="3.5"/>
<line x1="1794.7" y1="343.6" x2="1810.4" y2="343.6" stroke="#f03424" stroke-width="3.5"/>
<line x1="1824" y1="343.6" x2="1914.4" y2="343.6" stroke="#e8c044" stroke-width="3.5"/>
<line x1="344.6" y1="343.5" x2="354.4" y2="314.2" stroke="#fd3fa3" stroke-width="3.5"/>
<line x1="386" y1="342" x2="402.3" y2="327.2" stroke="#e8201a" stroke-width="3.5"/>
<line x1="1302.5" y1="312.5" x2="1302.5" y2="345" stroke="#8b5c1c" stroke-width="3.5"/>
<line x1="1316" y1="342.7" x2="1333.5" y2="325.8" stroke="#1414e4" stroke-width="3.5"/>
<line x1="1687.7" y1="290.4" x2="1707" y2="345.5" stroke="#2f8b24" stroke-width="3.5"/>
<line x1="1751.9" y1="289" x2="1751.9" y2="345.4" stroke="#4a9ef0" stroke-width="3.5"/>
<line x1="1786.4" y1="286" x2="1765.5" y2="345.4" stroke="#f03424" stroke-width="3.5"/>
<line x1="1825.8" y1="285" x2="1807" y2="345.4" stroke="#f03424" stroke-width="3.5"/>
<line x1="1868.6" y1="285" x2="1815.4" y2="345.4" stroke="#e8c044" stroke-width="3.5"/>
<line x1="1902.6" y1="286" x2="1868.6" y2="345.4" stroke="#e8c044" stroke-width="3.5"/>
<text x="46" y="419" text-anchor="middle" font-size="26.5" fill="#111"><tspan font-style="italic">K</tspan> = 15</text>
<text x="46" y="444.7" text-anchor="middle" font-size="19.5" fill="#111">(1.48743)</text>
<text x="67" y="1869.7" text-anchor="middle" font-size="26.5" fill="#111"><tspan font-style="italic">K</tspan> = 15</text>
<text x="67" y="1894" text-anchor="middle" font-size="19.5" fill="#111">(0.64299)</text>
<text x="46" y="481.7" text-anchor="middle" font-size="26.5" fill="#111"><tspan font-style="italic">K</tspan> = 14</text>
<text x="46" y="507.4" text-anchor="middle" font-size="19.5" fill="#111">(1.44462)</text>
<text x="67" y="1931.9" text-anchor="middle" font-size="26.5" fill="#111"><tspan font-style="italic">K</tspan> = 14</text>
<text x="67" y="1956.2" text-anchor="middle" font-size="19.5" fill="#111">(0.64282)</text>
<text x="46" y="544.4" text-anchor="middle" font-size="26.5" fill="#111"><tspan font-style="italic">K</tspan> = 13</text>
<text x="46" y="570.1" text-anchor="middle" font-size="19.5" fill="#111">(1.37559)</text>
<text x="67" y="1994.1" text-anchor="middle" font-size="26.5" fill="#111"><tspan font-style="italic">K</tspan> = 13</text>
<text x="67" y="2018.4" text-anchor="middle" font-size="19.5" fill="#111">(0.63739)</text>
<text x="46" y="607.1" text-anchor="middle" font-size="26.5" fill="#111"><tspan font-style="italic">K</tspan> = 12</text>
<text x="46" y="632.8" text-anchor="middle" font-size="19.5" fill="#111">(1.36684)</text>
<text x="67" y="2056.4" text-anchor="middle" font-size="26.5" fill="#111"><tspan font-style="italic">K</tspan> = 12</text>
<text x="67" y="2080.7" text-anchor="middle" font-size="19.5" fill="#111">(0.63332)</text>
<text x="46" y="669.8" text-anchor="middle" font-size="26.5" fill="#111"><tspan font-style="italic">K</tspan> = 11</text>
<text x="46" y="695.5" text-anchor="middle" font-size="19.5" fill="#111">(1.29713)</text>
<text x="67" y="2118.6" text-anchor="middle" font-size="26.5" fill="#111"><tspan font-style="italic">K</tspan> = 11</text>
<text x="67" y="2142.9" text-anchor="middle" font-size="19.5" fill="#111">(0.63074)</text>
<text x="46" y="732.5" text-anchor="middle" font-size="26.5" fill="#111"><tspan font-style="italic">K</tspan> = 10</text>
<text x="46" y="758.2" text-anchor="middle" font-size="19.5" fill="#111">(1.25049)</text>
<text x="67" y="2180.8" text-anchor="middle" font-size="26.5" fill="#111"><tspan font-style="italic">K</tspan> = 10</text>
<text x="67" y="2205.1" text-anchor="middle" font-size="19.5" fill="#111">(0.62999)</text>
<text x="46" y="795.2" text-anchor="middle" font-size="26.5" fill="#111"><tspan font-style="italic">K</tspan> = 9</text>
<text x="46" y="820.9" text-anchor="middle" font-size="19.5" fill="#111">(1.21375)</text>
<text x="67" y="2243" text-anchor="middle" font-size="26.5" fill="#111"><tspan font-style="italic">K</tspan> = 9</text>
<text x="67" y="2267.3" text-anchor="middle" font-size="19.5" fill="#111">(0.62827)</text>
<text x="46" y="857.9" text-anchor="middle" font-size="26.5" fill="#111"><tspan font-style="italic">K</tspan> = 8</text>
<text x="46" y="883.6" text-anchor="middle" font-size="19.5" fill="#111">(1.17322)</text>
<text x="67" y="2305.2" text-anchor="middle" font-size="26.5" fill="#111"><tspan font-style="italic">K</tspan> = 8</text>
<text x="67" y="2329.5" text-anchor="middle" font-size="19.5" fill="#111">(0.62818)</text>
<text x="46" y="920.6" text-anchor="middle" font-size="26.5" fill="#111"><tspan font-style="italic">K</tspan> = 7</text>
<text x="46" y="946.3" text-anchor="middle" font-size="19.5" fill="#111">(1.14972)</text>
<text x="67" y="2367.5" text-anchor="middle" font-size="26.5" fill="#111"><tspan font-style="italic">K</tspan> = 7</text>
<text x="67" y="2391.8" text-anchor="middle" font-size="19.5" fill="#111">(0.62907)</text>
<text x="46" y="983.3" text-anchor="middle" font-size="26.5" fill="#111"><tspan font-style="italic">K</tspan> = 6</text>
<text x="46" y="1009" text-anchor="middle" font-size="19.5" fill="#111">(1.10063)</text>
<text x="67" y="2429.7" text-anchor="middle" font-size="26.5" fill="#111"><tspan font-style="italic">K</tspan> = 6</text>
<text x="67" y="2454" text-anchor="middle" font-size="19.5" fill="#111">(0.62902)</text>
<text x="46" y="1046" text-anchor="middle" font-size="26.5" fill="#111"><tspan font-style="italic">K</tspan> = 5</text>
<text x="46" y="1071.7" text-anchor="middle" font-size="19.5" fill="#111">(1.06680)</text>
<text x="67" y="2491.9" text-anchor="middle" font-size="26.5" fill="#111"><tspan font-style="italic">K</tspan> = 5</text>
<text x="67" y="2516.2" text-anchor="middle" font-size="19.5" fill="#111">(0.62998)</text>
<text x="46" y="1108.7" text-anchor="middle" font-size="26.5" fill="#111"><tspan font-style="italic">K</tspan> = 4</text>
<text x="46" y="1134.4" text-anchor="middle" font-size="19.5" fill="#111">(1.04062)</text>
<text x="67" y="2554.1" text-anchor="middle" font-size="26.5" fill="#111"><tspan font-style="italic">K</tspan> = 4</text>
<text x="67" y="2578.4" text-anchor="middle" font-size="19.5" fill="#111">(0.63175)</text>
<text x="46" y="1171.4" text-anchor="middle" font-size="26.5" fill="#111"><tspan font-style="italic">K</tspan> = 3</text>
<text x="46" y="1197.1" text-anchor="middle" font-size="19.5" fill="#111">(1.01573)</text>
<text x="67" y="2616.3" text-anchor="middle" font-size="26.5" fill="#111"><tspan font-style="italic">K</tspan> = 3</text>
<text x="67" y="2640.6" text-anchor="middle" font-size="19.5" fill="#111">(0.63597)</text>
<text x="46" y="1234.1" text-anchor="middle" font-size="26.5" fill="#111"><tspan font-style="italic">K</tspan> = 2</text>
<text x="46" y="1259.8" text-anchor="middle" font-size="19.5" fill="#111">(0.99568)</text>
<text x="67" y="2678.6" text-anchor="middle" font-size="26.5" fill="#111"><tspan font-style="italic">K</tspan> = 2</text>
<text x="67" y="2702.9" text-anchor="middle" font-size="19.5" fill="#111">(0.64066)</text>
<text x="2" y="18" font-size="27" font-weight="bold" fill="#000">a</text>
<text x="9" y="1352" font-size="30" font-weight="bold" fill="#000">b</text>
<text x="354.5" y="1397.5" text-anchor="middle" font-size="23.5" fill="#000">Ancient</text>
<text x="1073" y="1404" text-anchor="middle" font-size="23.5" fill="#000">Modern Indigenous groups</text>
<text x="1748.5" y="1402.2" text-anchor="middle" font-size="23.5" fill="#000">Modern groups</text>
<text transform="translate(142.3 1425.6) rotate(-90)" text-anchor="end" fill="#9d2ff2" font-size="19.7">Southern North  America MH</text>
<text transform="translate(151.2 1425.6) rotate(-90)" text-anchor="end" fill="#8f2be6" font-size="19.7">Southern North  America LH</text>
<text transform="translate(168.9 1425.6) rotate(-90)" text-anchor="end" fill="#c23fae" font-size="19.7">California Central LH</text>
<text transform="translate(187.6 1425.6) rotate(-90)" text-anchor="end" fill="#e01a14" font-size="19.7">California Northern Channel Islands LH</text>
<text transform="translate(226.1 1425.6) rotate(-90)" text-anchor="end" fill="#ea7070" font-size="19.7">California Southern Channel Islands LH</text>
<text transform="translate(255.6 1425.6) rotate(-90)" text-anchor="end" fill="#d81616" font-size="19.7">California Southern Mainland LH</text>
<text transform="translate(283.2 1425.6) rotate(-90)" text-anchor="end" fill="#ee84f0" font-size="19.7">Central America EH and MH</text>
<text transform="translate(300 1425.6) rotate(-90)" text-anchor="end" fill="#ee84f0" font-size="19.7">Central America LH</text>
<text transform="translate(325.6 1425.6) rotate(-90)" text-anchor="end" fill="#8b5c1c" font-size="19.7">Central Andes EH and MH</text>
<text transform="translate(363 1425.6) rotate(-90)" text-anchor="end" fill="#8b5c1c" font-size="19.7">Central Andes Earlyl ntermediate</text>
<text transform="translate(390.6 1425.6) rotate(-90)" text-anchor="end" fill="#8b5c1c" font-size="19.7">Central Andes Middle Horizon</text>
<text transform="translate(434.3 1425.6) rotate(-90)" text-anchor="end" fill="#8b5c1c" font-size="19.7">Central Andes Late Intermediate</text>
<text transform="translate(472.6 1425.6) rotate(-90)" text-anchor="end" fill="#8b5c1c" font-size="19.7">Central Andes Late Horizon</text>
<text transform="translate(495.4 1425.6) rotate(-90)" text-anchor="end" fill="#1414e4" font-size="19.7">South Patagonia MH</text>
<text transform="translate(519 1425.6) rotate(-90)" text-anchor="end" fill="#1414e4" font-size="19.7">South Patagonia LH</text>
<text transform="translate(552.6 1425.6) rotate(-90)" text-anchor="end" fill="#a6f0a0" font-size="19.7">Brazil EH and MH</text>
<text transform="translate(578.1 1425.6) rotate(-90)" text-anchor="end" fill="#2f8b24" font-size="19.7">Brazil LH</text>
<text transform="translate(596.6 1425.6) rotate(-90)" text-anchor="end" fill="#86d6f6" font-size="19.7">Pampa MH</text>
<text transform="translate(610.6 1425.6) rotate(-90)" text-anchor="end" fill="#4a9ef0" font-size="19.7">Pampa LH</text>
<text transform="translate(623.6 1425.6) rotate(-90)" text-anchor="end" fill="#000" font-size="19.7">CentralChile</text>
<text transform="translate(635.3 1425.6) rotate(-90)" text-anchor="end" fill="#000" font-size="19.7">Qhapa Hucha LH</text>
<text transform="translate(652 1425.6) rotate(-90)" text-anchor="end" fill="#e8c044" font-size="19.7">Calingasta LH</text>
<text transform="translate(668.6 1425.6) rotate(-90)" text-anchor="end" fill="#e8c044" font-size="19.7">Uspallata LH</text>
<text transform="translate(726.4 1425.6) rotate(-90)" text-anchor="end" fill="#ee84f0" font-size="19.7">Southern North America</text>
<text transform="translate(871.2 1425.6) rotate(-90)" text-anchor="end" fill="#d8399a" font-size="19.7">Central America</text>
<text transform="translate(1121.2 1425.6) rotate(-90)" text-anchor="end" fill="#8b4513" font-size="19.7">Central Andes</text>
<text transform="translate(1317.2 1425.6) rotate(-90)" text-anchor="end" fill="#a6f0a0" font-size="19.7">Tropical and</text>
<text transform="translate(1340.9 1425.6) rotate(-90)" text-anchor="end" fill="#a6f0a0" font-size="19.7">Subtropical</text>
<text transform="translate(1364.6 1425.6) rotate(-90)" text-anchor="end" fill="#a6f0a0" font-size="19.7">Forests</text>
<text transform="translate(1455.2 1425.6) rotate(-90)" text-anchor="end" fill="#c4823e" font-size="19.7">Central Chile</text>
<text transform="translate(1478.9 1425.6) rotate(-90)" text-anchor="end" fill="#c4823e" font-size="19.7">&amp; N. Patagonia</text>
<text transform="translate(1516.3 1425.6) rotate(-90)" text-anchor="end" fill="#1414e4" font-size="19.7">South</text>
<text transform="translate(1540 1425.6) rotate(-90)" text-anchor="end" fill="#1414e4" font-size="19.7">Patagonia</text>
<text transform="translate(1815.6 1425.6) rotate(-90)" text-anchor="end" fill="#e8c044" font-size="19.7">Argentina</text>
<text transform="translate(1586 1431) rotate(-90)" text-anchor="end" fill="#e87830" font-size="19.7">Peru</text>
<text transform="translate(1655.4 1430) rotate(-90)" text-anchor="end" fill="#c4823e" font-size="19.7">Chile</text>
<line x1="678.5" y1="1410.8" x2="678.5" y2="1833" stroke="#000" stroke-width="2.2"/>
<line x1="1548.3" y1="1438.8" x2="1548.3" y2="1841" stroke="#000" stroke-width="2.2"/>
<line x1="134.8" y1="1809.3" x2="144.1" y2="1809.3" stroke="#9d2ff2" stroke-width="3.5"/>
<line x1="145.4" y1="1809.3" x2="154.5" y2="1809.3" stroke="#9d2ff2" stroke-width="3.5"/>
<line x1="156.5" y1="1809.3" x2="168.8" y2="1809.3" stroke="#c23fae" stroke-width="3.5"/>
<line x1="171.2" y1="1809.3" x2="202" y2="1809.3" stroke="#e02020" stroke-width="3.5"/>
<line x1="209.4" y1="1809.3" x2="234.5" y2="1809.3" stroke="#ea7070" stroke-width="3.5"/>
<line x1="239" y1="1809.3" x2="259.7" y2="1809.3" stroke="#d01818" stroke-width="3.5"/>
<line x1="261" y1="1809.3" x2="285" y2="1809.3" stroke="#ee84f0" stroke-width="3.5"/>
<line x1="287" y1="1809.3" x2="302.8" y2="1809.3" stroke="#ee84f0" stroke-width="3.5"/>
<line x1="307.7" y1="1809.3" x2="338.5" y2="1809.3" stroke="#8b5c1c" stroke-width="3.5"/>
<line x1="341.7" y1="1809.3" x2="361.4" y2="1809.3" stroke="#8b5c1c" stroke-width="3.5"/>
<line x1="363" y1="1809.3" x2="395.9" y2="1809.3" stroke="#8b5c1c" stroke-width="3.5"/>
<line x1="398.3" y1="1809.3" x2="441.4" y2="1809.3" stroke="#8b5c1c" stroke-width="3.5"/>
<line x1="444.4" y1="1809.3" x2="480" y2="1809.3" stroke="#8b5c1c" stroke-width="3.5"/>
<line x1="482" y1="1809.3" x2="489.5" y2="1809.3" stroke="#1414e4" stroke-width="3.5"/>
<line x1="491" y1="1809.3" x2="528.8" y2="1809.3" stroke="#1414e4" stroke-width="3.5"/>
<line x1="531.7" y1="1809.3" x2="552.7" y2="1809.3" stroke="#a6f0a0" stroke-width="3.5"/>
<line x1="554" y1="1809.3" x2="600.7" y2="1809.3" stroke="#2f8b24" stroke-width="3.5"/>
<line x1="617.2" y1="1809.3" x2="624.8" y2="1809.3" stroke="#000" stroke-width="3.5"/>
<line x1="626.6" y1="1809.3" x2="642.6" y2="1809.3" stroke="#000" stroke-width="3.5"/>
<line x1="644.5" y1="1809.3" x2="647.5" y2="1809.3" stroke="#e8c044" stroke-width="3.5"/>
<line x1="650" y1="1809.3" x2="675.3" y2="1809.3" stroke="#e8c044" stroke-width="3.5"/>
<line x1="680.7" y1="1809.3" x2="762.5" y2="1809.3" stroke="#ee84f0" stroke-width="3.5"/>
<line x1="764.5" y1="1809.3" x2="1017.3" y2="1809.3" stroke="#e8308a" stroke-width="3.5"/>
<line x1="1022.3" y1="1809.3" x2="1235.8" y2="1809.3" stroke="#8b4513" stroke-width="3.5"/>
<line x1="1240" y1="1809.3" x2="1428.2" y2="1809.3" stroke="#a6f0a0" stroke-width="3.5"/>
<line x1="1430.9" y1="1809.3" x2="1491.4" y2="1809.3" stroke="#c4823e" stroke-width="3.5"/>
<line x1="1495.4" y1="1809.3" x2="1546.3" y2="1809.3" stroke="#1414e4" stroke-width="3.5"/>
<line x1="1551.3" y1="1809.3" x2="1632.7" y2="1809.3" stroke="#e87830" stroke-width="3.5"/>
<line x1="1636" y1="1809.3" x2="1667" y2="1809.3" stroke="#c4823e" stroke-width="3.5"/>
<line x1="1670.3" y1="1809.3" x2="1916" y2="1809.3" stroke="#e8c044" stroke-width="3.5"/>
<line x1="593.3" y1="1789" x2="603.2" y2="1806.8" stroke="#86d6f6" stroke-width="3.5"/>
<line x1="605" y1="1789" x2="614.2" y2="1806.8" stroke="#4a9ef0" stroke-width="3.5"/>
</g>
<g font-family="'DejaVu Sans', sans-serif" font-size="10.5" text-anchor="middle">
<text x="137.7" y="387.6" font-size="8.6" fill="#8a2be2" stroke="#333" stroke-width="0.6">●</text>
<text x="146.6" y="387.6" font-size="8.6" fill="#8a2be2" stroke="#333" stroke-width="0.6">■</text>
<text x="155.2" y="387.6" fill="#8e3fe0">△</text>
<text x="165.6" y="387.6" fill="#8e3fe0">○</text>
<text x="179.1" y="387.6" fill="#8e3fe0">×</text>
<text x="194.6" y="387.6" fill="#8e3fe0">◇</text>
<text x="207.4" y="387.6" fill="#8e3fe0">⊠</text>
<text x="213.6" y="387.6" fill="#8e3fe0">✳</text>
<text x="219.8" y="387.6" fill="#8e3fe0">▽</text>
<text x="227.1" y="387.6" fill="#8e3fe0">+</text>
<text x="233.8" y="387.6" fill="#e27cc6">✳</text>
<text x="241.9" y="387.6" fill="#e27cc6">▽</text>
<text x="259.2" y="387.6" fill="#e27cc6">⊠</text>
<text x="272.7" y="387.6" fill="#e27cc6">◇</text>
<text x="280.1" y="387.6" fill="#e27cc6">○</text>
<text x="286.3" y="387.6" fill="#e27cc6">×</text>
<text x="293.2" y="387.6" fill="#e27cc6">+</text>
<text x="299.8" y="387.6" fill="#e27cc6">△</text>
<text x="312.1" y="387.6" font-size="8.6" fill="#d858b8" stroke="#333" stroke-width="0.6">●</text>
<text x="324.4" y="387.6" font-size="8.6" fill="#d858b8" stroke="#333" stroke-width="0.6">■</text>
<text x="340" y="387.6" font-size="8.6" fill="#d858b8" stroke="#333" stroke-width="0.6">◆</text>
<text x="356.9" y="387.6" font-size="8.6" fill="#c86a7a" stroke="#333" stroke-width="0.6">●</text>
<text x="367.5" y="387.6" fill="#f08ad8">○</text>
<text x="376.2" y="387.6" fill="#f08ad8">△</text>
<text x="386.7" y="387.6" fill="#f08ad8">+</text>
<text x="405.2" y="387.6" fill="#f08ad8">×</text>
<text x="421.7" y="387.6" fill="#f08ad8">◇</text>
<text x="430.8" y="387.6" fill="#f08ad8">▽</text>
<text x="445.1" y="387.6" fill="#f08ad8">⊠</text>
<text x="475.4" y="387.6" fill="#f08ad8">✳</text>
<text x="512.1" y="387.6" fill="#f08ad8">⊕</text>
<text x="531.5" y="387.6" fill="#f08ad8">▽</text>
<text x="540.6" y="387.6" fill="#f08ad8">◇</text>
<text x="548.5" y="387.6" fill="#f08ad8">×</text>
<text x="555.4" y="387.6" fill="#f08ad8">○</text>
<text x="571.9" y="387.6" fill="#f08ad8">△</text>
<text x="589.2" y="387.6" fill="#f08ad8">⊠</text>
<text x="598.5" y="387.6" fill="#f08ad8">+</text>
<text x="608.4" y="387.6" font-size="8.6" fill="#b040a0" stroke="#333" stroke-width="0.6">●</text>
<text x="617" y="387.6" font-size="8.6" fill="#b040a0" stroke="#333" stroke-width="0.6">■</text>
<text x="624.4" y="387.6" font-size="8.6" fill="#9a34d8" stroke="#333" stroke-width="0.6">▲</text>
<text x="633" y="387.6" font-size="8.6" fill="#9a34d8" stroke="#333" stroke-width="0.6">◆</text>
<text x="640.9" y="387.6" font-size="8.6" fill="#9a34d8" stroke="#333" stroke-width="0.6">▼</text>
<text x="647.8" y="387.6" font-size="8.6" fill="#9a34d8" stroke="#333" stroke-width="0.6">▼</text>
<text x="656.4" y="387.6" font-size="8.6" fill="#9a34d8" stroke="#333" stroke-width="0.6">▲</text>
<text x="672.4" y="387.6" font-size="8.6" fill="#9a34d8" stroke="#333" stroke-width="0.6">■</text>
<text x="693.3" y="387.6" font-size="8.6" fill="#9a34d8" stroke="#333" stroke-width="0.6">●</text>
<text x="708.9" y="387.6" fill="#e68af0">+</text>
<text x="731" y="387.6" fill="#e68af0">○</text>
<text x="751.2" y="387.6" fill="#e68af0">×</text>
<text x="758.6" y="387.6" fill="#e68af0">△</text>
<text x="769" y="387.6" font-size="8.6" fill="#8b5a1a" stroke="#333" stroke-width="0.6">■</text>
<text x="779.6" y="387.6" font-size="8.6" fill="#8b5a1a" stroke="#333" stroke-width="0.6">●</text>
<text x="786.5" y="387.6" font-size="8.6" fill="#8b5a1a" stroke="#333" stroke-width="0.6">■</text>
<text x="793.1" y="387.6" font-size="8.6" fill="#8b5a1a" stroke="#333" stroke-width="0.6">◆</text>
<text x="800" y="387.6" font-size="8.6" fill="#8b5a1a" stroke="#333" stroke-width="0.6">▲</text>
<text x="807.4" y="387.6" font-size="8.6" fill="#8b5a1a" stroke="#333" stroke-width="0.6">▼</text>
<text x="814" y="387.6" font-size="8.6" fill="#8b5a1a" stroke="#333" stroke-width="0.6">●</text>
<text x="820.2" y="387.6" font-size="8.6" fill="#e89030" stroke="#333" stroke-width="0.6">●</text>
<text x="828.8" y="387.6" fill="#d8923e">▽</text>
<text x="839.9" y="387.6" fill="#d8923e">○</text>
<text x="847.3" y="387.6" fill="#d8923e">△</text>
<text x="855.9" y="387.6" fill="#d8923e">◇</text>
<text x="870.7" y="387.6" fill="#d8923e">+</text>
<text x="881.8" y="387.6" fill="#d8923e">×</text>
<text x="889.2" y="387.6" fill="#d8923e">⊠</text>
<text x="904.6" y="387.6" fill="#d8923e">▽</text>
<text x="920.6" y="387.6" fill="#d8923e">⊕</text>
<text x="928" y="387.6" fill="#d8923e">⊕</text>
<text x="937.9" y="387.6" fill="#d8923e">◇</text>
<text x="956.8" y="387.6" fill="#e88030">✳</text>
<text x="972.4" y="387.6" fill="#d8923e">○</text>
<text x="981" y="387.6" fill="#d8923e">△</text>
<text x="993.3" y="387.6" fill="#d8923e">+</text>
<text x="1005.6" y="387.6" fill="#d8923e">×</text>
<text x="1014.2" y="387.6" fill="#d8923e">○</text>
<text x="1025.3" y="387.6" fill="#d8923e">△</text>
<text x="1034.7" y="387.6" fill="#d8923e">○</text>
<text x="1042.6" y="387.6" fill="#d8923e">△</text>
<text x="1050" y="387.6" fill="#d8923e">×</text>
<text x="1059.1" y="387.6" fill="#d8923e">⊠</text>
<text x="1073.3" y="387.6" fill="#d8923e">⊠</text>
<text x="1089.9" y="387.6" fill="#d8923e">✳</text>
<text x="1102.4" y="387.6" fill="#d8923e">⊕</text>
<text x="1111.5" y="387.6" fill="#d8923e">✡</text>
<text x="1121.4" y="387.6" fill="#d8923e">+</text>
<text x="1131.2" y="387.6" fill="#d8923e">◇</text>
<text x="1146.7" y="387.6" fill="#d8923e">▽</text>
<text x="1160.8" y="387.6" fill="#d8923e">⊕</text>
<text x="1173.1" y="387.6" fill="#d8923e">⊞</text>
<text x="1185.4" y="387.6" fill="#d8923e">◇</text>
<text x="1192.8" y="387.6" fill="#d8923e">▽</text>
<text x="1200.2" y="387.6" fill="#d8923e">○</text>
<text x="1211.3" y="387.6" fill="#e88030">✳</text>
<text x="1224.8" y="387.6" fill="#e88030">⊠</text>
<text x="1234.7" y="387.6" fill="#d8923e">△</text>
<text x="1245.8" y="387.6" fill="#d8923e">⊕</text>
<text x="1256.8" y="387.6" fill="#d8923e">×</text>
<text x="1264.2" y="387.6" fill="#d8923e">◇</text>
<text x="1270.4" y="387.6" fill="#d8923e">⊕</text>
<text x="1276.6" y="387.6" fill="#d8923e">⊠</text>
<text x="1282" y="387.6" fill="#d8923e">⊞</text>
<text x="1287" y="387.6" fill="#d8923e">⊠</text>
<text x="1292" y="387.6" fill="#d8923e">◇</text>
<text x="1297" y="387.6" fill="#d8923e">⊠</text>
<text x="1301.5" y="387.6" fill="#d8923e">+</text>
<text x="1306.8" y="387.6" font-size="8.6" fill="#1a1ab0" stroke="#333" stroke-width="0.6">■</text>
<text x="1313" y="387.6" font-size="8.6" fill="#1a1ab0" stroke="#333" stroke-width="0.6">●</text>
<text x="1320.3" y="387.6" font-size="8.6" fill="#1a1ab0" stroke="#333" stroke-width="0.6">◆</text>
<text x="1327.7" y="387.6" fill="#2a2ae8">△</text>
<text x="1336.4" y="387.6" fill="#2a2ae8">✳</text>
<text x="1345" y="387.6" fill="#2a2ae8">⊕</text>
<text x="1353.6" y="387.6" fill="#2a2ae8">✡</text>
<text x="1370.8" y="387.6" fill="#2a2ae8">○</text>
<text x="1386.8" y="387.6" fill="#2a2ae8">⊕</text>
<text x="1402.4" y="387.6" fill="#2a2ae8">+</text>
<text x="1417.6" y="387.6" fill="#2a2ae8">×</text>
<text x="1431.2" y="387.6" fill="#2a2ae8">◇</text>
<text x="1444.7" y="387.6" fill="#2a2ae8">▽</text>
<text x="1452.1" y="387.6" fill="#2a2ae8">⊠</text>
<text x="1459" y="387.6" font-size="8.6" fill="#9ee69a" stroke="#333" stroke-width="0.6">○</text>
<text x="1473.1" y="387.6" font-size="8.6" fill="#9ee69a" stroke="#333" stroke-width="0.6">○</text>
<text x="1490.3" y="387.6" font-size="8.6" fill="#9ee69a" stroke="#333" stroke-width="0.6">□</text>
<text x="1500.1" y="387.6" font-size="8.6" fill="#9ee69a" stroke="#333" stroke-width="0.6">□</text>
<text x="1507.5" y="387.6" font-size="8.6" fill="#9ee69a" stroke="#333" stroke-width="0.6">◇</text>
<text x="1514.9" y="387.6" font-size="8.6" fill="#9ee69a" stroke="#333" stroke-width="0.6">△</text>
<text x="1522.3" y="387.6" font-size="8.6" fill="#9ee69a" stroke="#333" stroke-width="0.6">□</text>
<text x="1528.5" y="387.6" font-size="8.6" fill="#5a9a5a" stroke="#333" stroke-width="0.6">●</text>
<text x="1535.4" y="387.6" font-size="8.6" fill="#5a9a5a" stroke="#333" stroke-width="0.6">◆</text>
<text x="1542.8" y="387.6" font-size="8.6" fill="#5a9a5a" stroke="#333" stroke-width="0.6">▲</text>
<text x="1549.4" y="387.6" font-size="8.6" fill="#5a9a5a" stroke="#333" stroke-width="0.6">■</text>
<text x="1575.3" y="387.6" fill="#9ee69a">⊠</text>
<text x="1601.1" y="387.6" fill="#9ee69a">⊕</text>
<text x="1607" y="387.6" fill="#9ee69a">⊞</text>
<text x="1612" y="387.6" fill="#9ee69a">⊠</text>
<text x="1617" y="387.6" fill="#9ee69a">◇</text>
<text x="1622" y="387.6" fill="#9ee69a">○</text>
<text x="1628" y="387.6" fill="#9ee69a">△</text>
<text x="1634" y="387.6" fill="#9ee69a">△</text>
<text x="1640" y="387.6" fill="#9ee69a">⊠</text>
<text x="1646" y="387.6" fill="#9ee69a">⊠</text>
<text x="1652" y="387.6" fill="#9ee69a">◇</text>
<text x="1658" y="387.6" fill="#9ee69a">⊠</text>
<text x="1671" y="387.6" fill="#9ee69a">○</text>
<text x="1682.8" y="387.6" fill="#9ee69a">+</text>
<text x="1689.7" y="387.6" fill="#9ee69a">⊕</text>
<text x="1696.6" y="387.6" fill="#9ee69a">×</text>
<text x="1705.4" y="387.6" fill="#9ee69a">▽</text>
<text x="1714.3" y="387.6" font-size="8.6" fill="#8ac8e0" stroke="#333" stroke-width="0.6">●</text>
<text x="1726.1" y="387.6" font-size="8.6" fill="#8ac8e0" stroke="#333" stroke-width="0.6">■</text>
<text x="1741.9" y="387.6" font-size="8.6" fill="#8ac8e0" stroke="#333" stroke-width="0.6">◆</text>
<text x="1752.7" y="387.6" fill="#c8e8f4">○</text>
<text x="1758.6" y="387.6" fill="#c8e8f4">△</text>
<text x="1766.5" y="387.6" font-size="8.6" fill="#e04040" stroke="#333" stroke-width="0.6">●</text>
<text x="1773.4" y="387.6" font-size="8.6" fill="#e04040" stroke="#333" stroke-width="0.6">◆</text>
<text x="1781.3" y="387.6" fill="#e06060">○</text>
<text x="1789.2" y="387.6" fill="#e06060">⊕</text>
<text x="1795" y="387.6" fill="#e06060">⊕</text>
<text x="1799" y="387.6" fill="#e06060">○</text>
<text x="1805" y="387.6" fill="#e06060">⊞</text>
<text x="1812.8" y="387.6" fill="#e06060">○</text>
<text x="1847.3" y="387.6" font-size="8.6" fill="#e8c040" stroke="#333" stroke-width="0.6">●</text>
<text x="1879.8" y="387.6" font-size="8.6" fill="#e8c040" stroke="#333" stroke-width="0.6">◆</text>
<text x="1886.7" y="387.6" font-size="8.6" fill="#e89030" stroke="#333" stroke-width="0.6">■</text>
<text x="1895.6" y="387.6" font-size="8.6" fill="#8b5a1a" stroke="#333" stroke-width="0.6">■</text>
<text x="1907.4" y="387.6" font-size="8.6" fill="#8b5a1a" stroke="#333" stroke-width="0.6">◆</text>
</g>
<g font-family="'DejaVu Sans', sans-serif" font-size="6" text-anchor="middle">
<text x="136.1" y="1831.6" fill="#3a1a5a">●</text>
<text x="138.4" y="1831.6" fill="#3a1a5a">■</text>
<text x="140.6" y="1831.6" fill="#3a1a5a">◆</text>
<text x="142.9" y="1831.6" fill="#3a1a5a">+</text>
<text x="145.1" y="1831.6" fill="#3a1a5a">○</text>
<text x="147.4" y="1831.6" fill="#3a1a5a">●</text>
<text x="152.1" y="1831.6" fill="#e0a0e0">▽</text>
<text x="156.3" y="1831.6" fill="#e0a0e0">⊠</text>
<text x="160.5" y="1831.6" fill="#e0a0e0">◇</text>
<text x="164.7" y="1831.6" fill="#e0a0e0">○</text>
<text x="168.9" y="1831.6" fill="#e0a0e0">⊕</text>
<text x="174.2" y="1831.6" fill="#4a2a4a">●</text>
<text x="176.8" y="1831.6" fill="#4a2a4a">○</text>
<text x="181.5" y="1831.6" fill="#d080f0">⊕</text>
<text x="184.5" y="1831.6" fill="#d080f0">+</text>
<text x="199.2" y="1831.6" fill="#8050a0">◇</text>
<text x="201.5" y="1831.6" fill="#8050a0">●</text>
<text x="203.8" y="1831.6" fill="#8050a0">▽</text>
<text x="239.9" y="1831.6" fill="#4a2828">●</text>
<text x="243.6" y="1831.6" fill="#4a2828">○</text>
<text x="247.4" y="1831.6" fill="#4a2828">○</text>
<text x="251.1" y="1831.6" fill="#4a2828">×</text>
<text x="254.9" y="1831.6" fill="#4a2828">⊠</text>
<text x="258.6" y="1831.6" fill="#4a2828">⊠</text>
<text x="262.4" y="1831.6" fill="#4a2828">●</text>
<text x="266.1" y="1831.6" fill="#4a2828">●</text>
<text x="273.9" y="1831.6" fill="#6030a0">■</text>
<text x="277.7" y="1831.6" fill="#6030a0">▲</text>
<text x="281.4" y="1831.6" fill="#6030a0">◆</text>
<text x="285.2" y="1831.6" fill="#6030a0">▲</text>
<text x="289" y="1831.6" fill="#6030a0">◆</text>
<text x="292.8" y="1831.6" fill="#6030a0">▼</text>
<text x="296.6" y="1831.6" fill="#6030a0">+</text>
<text x="300.3" y="1831.6" fill="#6030a0">○</text>
<text x="304.1" y="1831.6" fill="#6030a0">◇</text>
<text x="309.8" y="1831.6" fill="#3a2a10">●</text>
<text x="313.2" y="1831.6" fill="#3a2a10">●</text>
<text x="316.8" y="1831.6" fill="#3a2a10">▲</text>
<text x="320.2" y="1831.6" fill="#3a2a10">◆</text>
<text x="323.8" y="1831.6" fill="#3a2a10">▲</text>
<text x="327.2" y="1831.6" fill="#3a2a10">●</text>
<text x="331.9" y="1831.6" fill="#d8a050">+</text>
<text x="335.6" y="1831.6" fill="#d8a050">×</text>
<text x="339.4" y="1831.6" fill="#d8a050">◇</text>
<text x="343.1" y="1831.6" fill="#d8a050">○</text>
<text x="356.9" y="1831.6" fill="#d8a050">×</text>
<text x="360.7" y="1831.6" fill="#d8a050">◇</text>
<text x="364.5" y="1831.6" fill="#d8a050">⊠</text>
<text x="368.3" y="1831.6" fill="#d8a050">⊠</text>
<text x="372.1" y="1831.6" fill="#d8a050">▽</text>
<text x="378.9" y="1831.6" fill="#d8a050">▽</text>
<text x="382.7" y="1831.6" fill="#d8a050">○</text>
<text x="386.5" y="1831.6" fill="#d8a050">△</text>
<text x="390.3" y="1831.6" fill="#d8a050">○</text>
<text x="394.1" y="1831.6" fill="#d8a050">⊕</text>
<text x="406.1" y="1831.6" fill="#dca050">×</text>
<text x="410.2" y="1831.6" fill="#dca050">⊠</text>
<text x="414.3" y="1831.6" fill="#dca050">⊠</text>
<text x="418.5" y="1831.6" fill="#dca050">⊕</text>
<text x="422.6" y="1831.6" fill="#dca050">◇</text>
<text x="426.7" y="1831.6" fill="#dca050">○</text>
<text x="430.9" y="1831.6" fill="#dca050">◇</text>
<text x="435" y="1831.6" fill="#dca050">⊠</text>
<text x="439.1" y="1831.6" fill="#dca050">○</text>
<text x="443.3" y="1831.6" fill="#dca050">⊕</text>
<text x="447.4" y="1831.6" fill="#dca050">◇</text>
<text x="451.5" y="1831.6" fill="#dca050">○</text>
<text x="455.7" y="1831.6" fill="#dca050">⊠</text>
<text x="459.8" y="1831.6" fill="#dca050">⊞</text>
<text x="463.9" y="1831.6" fill="#dca050">◇</text>
<text x="468.7" y="1831.6" fill="#e07838">◆</text>
<text x="472" y="1831.6" fill="#e07838">●</text>
<text x="475.3" y="1831.6" fill="#e07838">◆</text>
<text x="479.3" y="1831.6" fill="#202080">■</text>
<text x="482" y="1831.6" fill="#202080">◆</text>
<text x="484.7" y="1831.6" fill="#202080">■</text>
<text x="490.1" y="1831.6" fill="#2222e0">○</text>
<text x="494.1" y="1831.6" fill="#2222e0">△</text>
<text x="498.2" y="1831.6" fill="#2222e0">+</text>
<text x="502.4" y="1831.6" fill="#2222e0">×</text>
<text x="506.4" y="1831.6" fill="#2222e0">◇</text>
<text x="510.6" y="1831.6" fill="#2222e0">○</text>
<text x="514.6" y="1831.6" fill="#2222e0">⊠</text>
<text x="518.8" y="1831.6" fill="#2222e0">⊕</text>
<text x="522.9" y="1831.6" fill="#2222e0">◆</text>
<text x="527" y="1831.6" fill="#2222e0">●</text>
<text x="531.9" y="1831.6" fill="#244a24">○</text>
<text x="535.8" y="1831.6" fill="#244a24">○</text>
<text x="539.6" y="1831.6" fill="#244a24">○</text>
<text x="543.5" y="1831.6" fill="#244a24">○</text>
<text x="547.4" y="1831.6" fill="#244a24">○</text>
<text x="551.2" y="1831.6" fill="#244a24">○</text>
<text x="555.1" y="1831.6" fill="#244a24">●</text>
<text x="578.1" y="1831.6" fill="#a0e0a0">○</text>
<text x="582.2" y="1831.6" fill="#a0e0a0">○</text>
<text x="586.3" y="1831.6" fill="#a0e0a0">◇</text>
<text x="590.4" y="1831.6" fill="#a0e0a0">⊕</text>
<text x="594.6" y="1831.6" fill="#a0e0a0">○</text>
<text x="598.7" y="1831.6" fill="#a0e0a0">○</text>
<text x="602.8" y="1831.6" fill="#a0e0a0">○</text>
<text x="606.9" y="1831.6" fill="#a0e0a0">⊕</text>
<text x="612.7" y="1831.6" fill="#304040">○</text>
<text x="616" y="1831.6" fill="#304040">○</text>
<text x="619.3" y="1831.6" fill="#304040">○</text>
<text x="627" y="1831.6" fill="#c04848">●</text>
<text x="631" y="1831.6" fill="#c04848">●</text>
<text x="635" y="1831.6" fill="#c04848">○</text>
<text x="639" y="1831.6" fill="#c04848">⊕</text>
<text x="643" y="1831.6" fill="#c04848">○</text>
<text x="667" y="1831.6" fill="#503010">●</text>
<text x="671" y="1831.6" fill="#503010">●</text>
<text x="675" y="1831.6" fill="#503010">●</text>
<text x="1249.1" y="1831.6" fill="#a8e8a8">○</text>
<text x="1253.3" y="1831.6" fill="#a8e8a8">⊞</text>
<text x="1257.5" y="1831.6" fill="#a8e8a8">⊞</text>
<text x="1261.6" y="1831.6" fill="#a8e8a8">⊞</text>
<text x="1265.8" y="1831.6" fill="#a8e8a8">○</text>
<text x="1270" y="1831.6" fill="#a8e8a8">⊠</text>
<text x="1274.2" y="1831.6" fill="#a8e8a8">⊕</text>
<text x="1278.4" y="1831.6" fill="#a8e8a8">⊕</text>
<text x="1282.5" y="1831.6" fill="#a8e8a8">◇</text>
<text x="1286.7" y="1831.6" fill="#a8e8a8">+</text>
<text x="1290.9" y="1831.6" fill="#a8e8a8">⊞</text>
<text x="191" y="1831.6" fill="#d8a0e8">×</text>
<text x="220.6" y="1831.6" fill="#d070e0">◆</text>
<text x="231.3" y="1831.6" fill="#d070e0">◆</text>
<text x="350" y="1831.6" fill="#d8a050">◆</text>
<text x="568" y="1831.6" fill="#a8e8a8">⊠</text>
<text x="654.7" y="1831.6" fill="#303030">○</text>
<text x="690.8" y="1831.6" fill="#b070e0">◆</text>
<text x="705.6" y="1831.6" fill="#b070e0">⊠</text>
<text x="723" y="1831.6" fill="#b070e0">◆</text>
<text x="747" y="1831.6" fill="#b070e0">◆</text>
<text x="767.3" y="1831.6" fill="#e050a8">△</text>
<text x="792" y="1831.6" fill="#e050a8">◇</text>
<text x="819" y="1831.6" fill="#e050a8">◇</text>
<text x="835" y="1831.6" fill="#e050a8">+</text>
<text x="840" y="1831.6" fill="#e050a8">⊕</text>
<text x="851.5" y="1831.6" fill="#e050a8">○</text>
<text x="872.6" y="1831.6" fill="#e050a8">○</text>
<text x="893.3" y="1831.6" fill="#e050a8">⊠</text>
<text x="903" y="1831.6" fill="#e050a8">⊕</text>
<text x="907" y="1831.6" fill="#e050a8">⊕</text>
<text x="911" y="1831.6" fill="#e050a8">⊠</text>
<text x="915" y="1831.6" fill="#e050a8">◆</text>
<text x="919" y="1831.6" fill="#e050a8">⊕</text>
<text x="922" y="1831.6" fill="#e050a8">▽</text>
<text x="950.5" y="1831.6" fill="#e050a8">⊠</text>
<text x="973" y="1831.6" fill="#e050a8">△</text>
<text x="977" y="1831.6" fill="#e050a8">◇</text>
<text x="981" y="1831.6" fill="#e050a8">×</text>
<text x="997" y="1831.6" fill="#e050a8">○</text>
<text x="1011.3" y="1831.6" fill="#e050a8">○</text>
<text x="1031.3" y="1831.6" fill="#c07030">◆</text>
<text x="1059.5" y="1831.6" fill="#c07030">⊠</text>
<text x="1087" y="1831.6" fill="#c07030">◆</text>
<text x="1114.4" y="1831.6" fill="#c07030">◆</text>
<text x="1126" y="1831.6" fill="#c07030">⊞</text>
<text x="1131" y="1831.6" fill="#c07030">×</text>
<text x="1139.3" y="1831.6" fill="#c07030">⊕</text>
<text x="1159.3" y="1831.6" fill="#c07030">×</text>
<text x="1199.2" y="1831.6" fill="#c07030">⊠</text>
<text x="1227.5" y="1831.6" fill="#c07030">◇</text>
<text x="1237.5" y="1831.6" fill="#c07030">▽</text>
<text x="1302" y="1831.6" fill="#a8e8a8">◇</text>
<text x="1316" y="1831.6" fill="#a8e8a8">◇</text>
<text x="1326" y="1831.6" fill="#a8e8a8">▽</text>
<text x="1330" y="1831.6" fill="#a8e8a8">+</text>
<text x="1337" y="1831.6" fill="#a8e8a8">⊞</text>
<text x="1358" y="1831.6" fill="#a8e8a8">⊞</text>
<text x="1374" y="1831.6" fill="#a8e8a8">◇</text>
<text x="1391.6" y="1831.6" fill="#a8e8a8">⊕</text>
<text x="1403.3" y="1831.6" fill="#a8e8a8">▽</text>
<text x="1421.6" y="1831.6" fill="#a8e8a8">⊕</text>
<text x="1434.2" y="1831.6" fill="#a8e8a8">⊞</text>
<text x="1453.2" y="1831.6" fill="#e04848">△</text>
<text x="1468.8" y="1831.6" fill="#e04848">△</text>
<text x="1482.1" y="1831.6" fill="#e04848">+</text>
<text x="1494.7" y="1831.6" fill="#e04848">◇</text>
<text x="1503.7" y="1831.6" fill="#e04848">×</text>
<text x="1511.4" y="1831.6" fill="#e04848">▽</text>
<text x="1523.7" y="1831.6" fill="#e04848">◆</text>
<text x="1536.3" y="1831.6" fill="#e04848">⊠</text>
<text x="1587.8" y="1831.6" fill="#111">○</text>
<text x="1652" y="1831.6" fill="#111">●</text>
<text x="1669.3" y="1831.6" fill="#111">○</text>
<text x="1672.6" y="1831.6" fill="#111">○</text>
<text x="1677.6" y="1831.6" fill="#111">□</text>
<text x="1709.2" y="1831.6" fill="#111">◇</text>
<text x="1739.2" y="1831.6" fill="#111">△</text>
<text x="1750.1" y="1831.6" fill="#111">▽</text>
<text x="1762.4" y="1831.6" fill="#111">□</text>
<text x="1765.8" y="1831.6" fill="#111">○</text>
<text x="1774.1" y="1831.6" fill="#111">□</text>
<text x="1780.8" y="1831.6" fill="#111">◇</text>
<text x="1790.7" y="1831.6" fill="#111">▽</text>
<text x="1807.4" y="1831.6" fill="#111">△</text>
<text x="1817.3" y="1831.6" fill="#111">▼</text>
<text x="1820.6" y="1831.6" fill="#111">●</text>
<text x="1823.9" y="1831.6" fill="#111">■</text>
<text x="1836.3" y="1831.6" fill="#111">●</text>
<text x="1852.2" y="1831.6" fill="#111">■</text>
<text x="1862.2" y="1831.6" fill="#111">◆</text>
<text x="1871.5" y="1831.6" fill="#111">◇</text>
<text x="1880.5" y="1831.6" fill="#111">▼</text>
<text x="1887.1" y="1831.6" fill="#111">●</text>
<text x="1893.8" y="1831.6" fill="#111">▲</text>
<text x="1900.5" y="1831.6" fill="#111">○</text>
<text x="1904" y="1831.6" fill="#111">○</text>
<text x="1907.5" y="1831.6" fill="#111">○</text>
<text x="1911" y="1831.6" fill="#111">⊠</text>
<text x="1914.5" y="1831.6" fill="#111">△</text>
</g>
</svg>
</body></html>
